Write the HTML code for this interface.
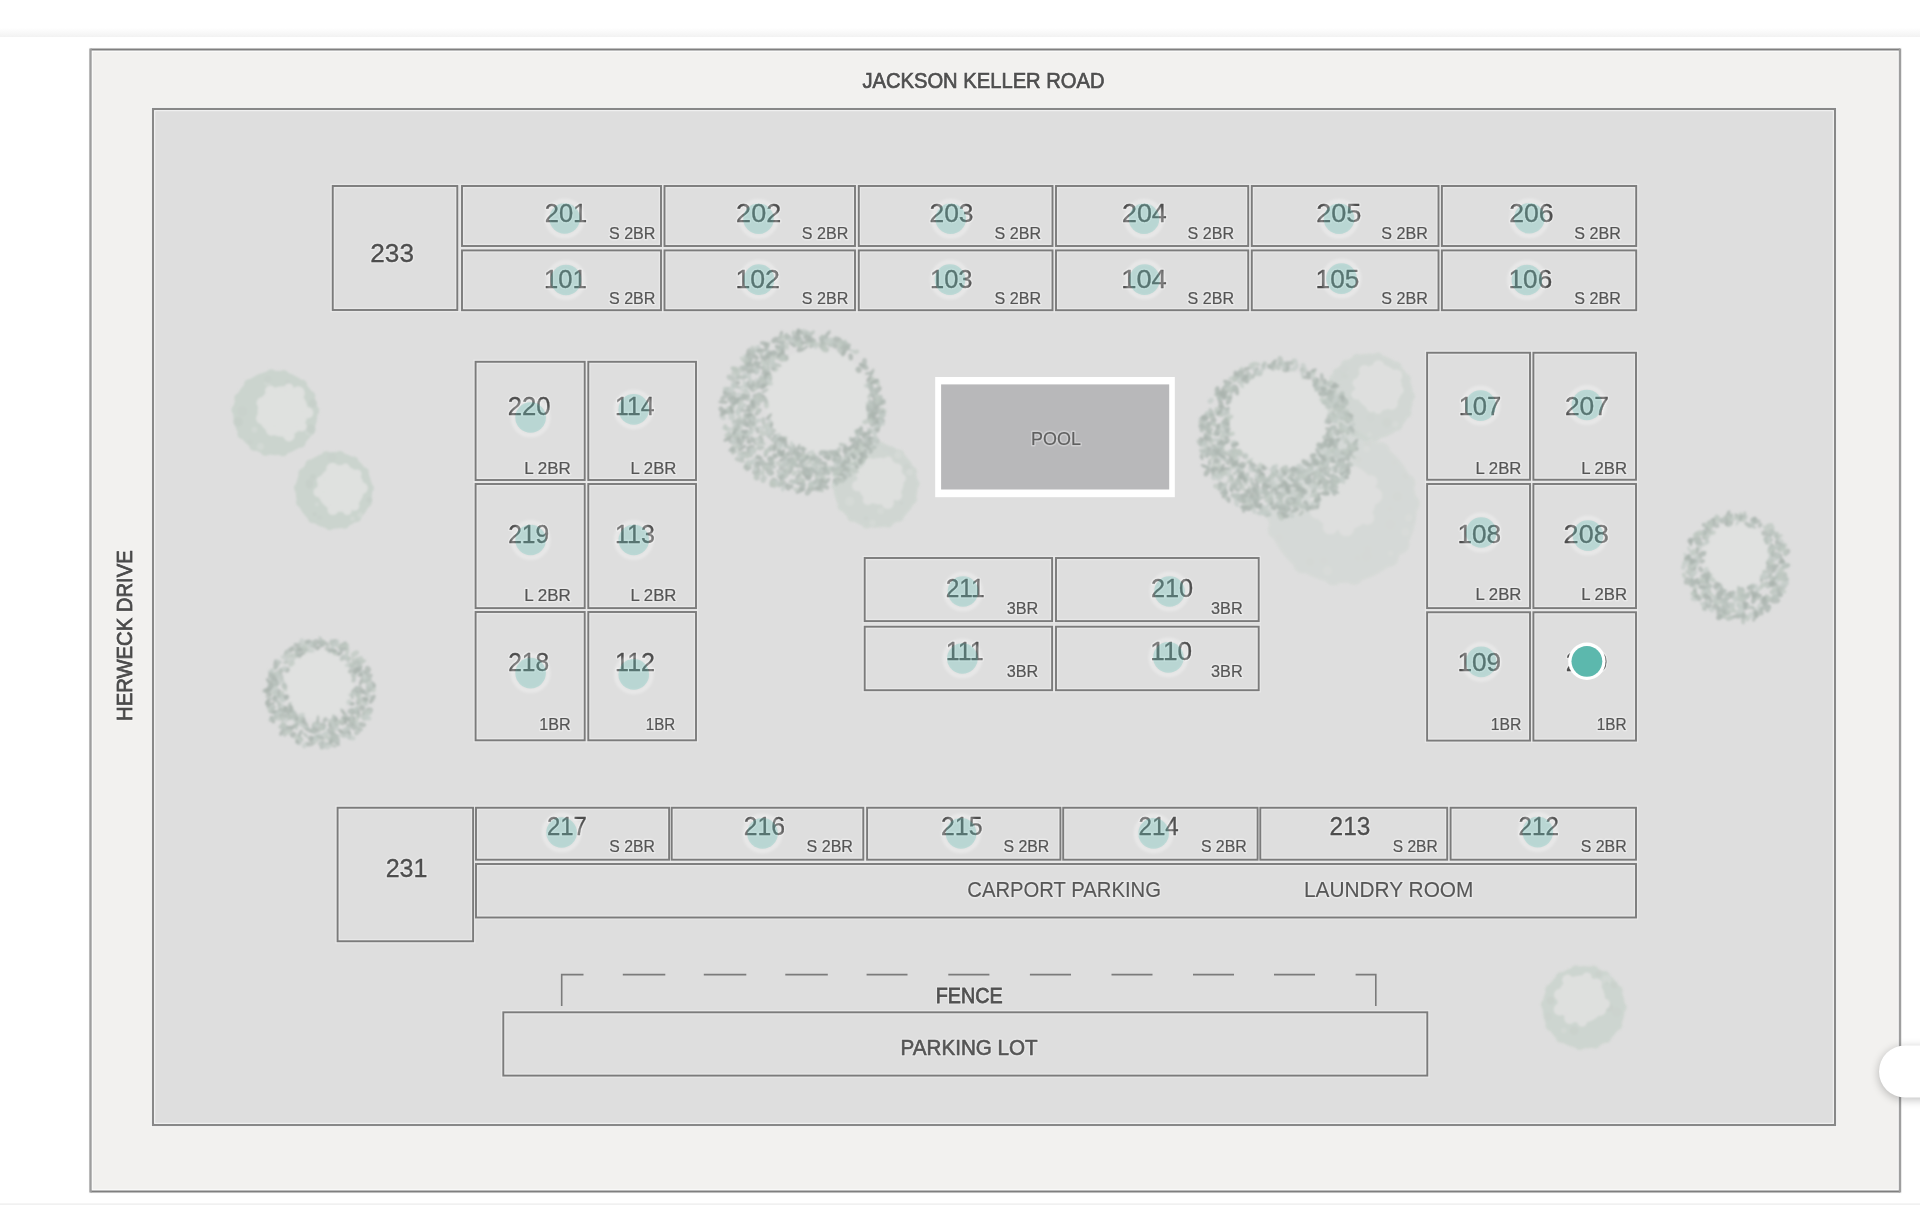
<!DOCTYPE html>
<html><head><meta charset="utf-8"><title>Site Map</title>
<style>
html,body{margin:0;padding:0;background:#fff;width:1920px;height:1205px;overflow:hidden;font-family:"Liberation Sans", sans-serif;}
svg text{font-family:"Liberation Sans", sans-serif;}
</style></head><body>
<svg width="1920" height="1205" viewBox="0 0 1920 1205" style="position:absolute;left:0;top:0;filter:blur(0.35px)" font-family="Liberation Sans, sans-serif">
<defs><filter id="blur1" x="-20%" y="-20%" width="140%" height="140%"><feGaussianBlur stdDeviation="1.2"/></filter><filter id="blur06" x="-30%" y="-30%" width="160%" height="160%"><feGaussianBlur stdDeviation="0.8"/></filter><linearGradient id="hdr" x1="0" y1="0" x2="0" y2="1"><stop offset="0" stop-color="#ffffff"/><stop offset="1" stop-color="#f2f2f2"/></linearGradient><filter id="shd" x="-50%" y="-50%" width="200%" height="200%"><feGaussianBlur stdDeviation="5"/></filter></defs>
<rect x="0" y="0" width="1920" height="1205" fill="#ffffff"/>
<rect x="0" y="28" width="1920" height="9" fill="url(#hdr)"/>
<rect x="0" y="1203.3" width="1920" height="1.7" fill="#f1f1f1"/>
<rect x="90.5" y="49.5" width="1809.5" height="1142" fill="#f2f1ef" stroke="#fdfdfd" stroke-width="4.4"/>
<path d="M90.5 49.5 H1900 M90.5 1191.5 H1900" stroke="#7f7f7f" stroke-width="1.9" fill="none"/>
<path d="M90.5 48.6 V1192.4 M1900 48.6 V1192.4" stroke="#9e9e9e" stroke-width="2.4" fill="none"/>
<rect x="153" y="109" width="1682" height="1016" fill="#dedede" stroke="#f6f6f6" stroke-width="4.4"/>
<rect x="153" y="109" width="1682" height="1016" fill="none" stroke="#888" stroke-width="2.1"/>
<g opacity="0.42" filter="url(#blur1)"><circle cx="1342" cy="508" r="74.88" fill="#cbd4ce"/><circle cx="1410.49" cy="503.50" r="9.36" fill="#cbd4ce"/><circle cx="1400.16" cy="544.45" r="9.36" fill="#cbd4ce"/><circle cx="1389.43" cy="557.62" r="9.36" fill="#cbd4ce"/><circle cx="1353.97" cy="575.59" r="9.36" fill="#cbd4ce"/><circle cx="1333.45" cy="576.11" r="9.36" fill="#cbd4ce"/><circle cx="1302.53" cy="564.16" r="9.36" fill="#cbd4ce"/><circle cx="1277.04" cy="530.18" r="9.36" fill="#cbd4ce"/><circle cx="1273.53" cy="512.78" r="9.36" fill="#cbd4ce"/><circle cx="1281.21" cy="476.13" r="9.36" fill="#cbd4ce"/><circle cx="1298.68" cy="454.76" r="9.36" fill="#cbd4ce"/><circle cx="1325.97" cy="441.26" r="9.36" fill="#cbd4ce"/><circle cx="1357.19" cy="441.06" r="9.36" fill="#cbd4ce"/><circle cx="1380.72" cy="451.32" r="9.36" fill="#cbd4ce"/><circle cx="1406.01" cy="483.21" r="9.36" fill="#cbd4ce"/><circle cx="1327.6" cy="570.7" r="4.2" fill="#d2d9d4"/><circle cx="1367.4" cy="445.2" r="3.2" fill="#c7d0ca"/><circle cx="1390.1" cy="524.6" r="4.8" fill="#c9d2cc"/><circle cx="1411.6" cy="520.3" r="3.8" fill="#c9d2cc"/><circle cx="1397.4" cy="496.5" r="4.3" fill="#c7d0ca"/><circle cx="1279.2" cy="537.7" r="3.1" fill="#c9d2cc"/><circle cx="1366.5" cy="556.1" r="4.7" fill="#c9d2cc"/><circle cx="1405.6" cy="476.1" r="2.8" fill="#c7d0ca"/><circle cx="1291.3" cy="491.8" r="4.8" fill="#c7d0ca"/><circle cx="1323.4" cy="560.5" r="3.3" fill="#c9d2cc"/><circle cx="1300.1" cy="494.0" r="3.2" fill="#d2d9d4"/><circle cx="1367.5" cy="549.2" r="3.1" fill="#c9d2cc"/><circle cx="1390.0" cy="508.8" r="2.4" fill="#c9d2cc"/><circle cx="1358.3" cy="459.6" r="3.0" fill="#c7d0ca"/><circle cx="1366.7" cy="448.8" r="3.1" fill="#d2d9d4"/><circle cx="1394.4" cy="462.8" r="2.1" fill="#c9d2cc"/><circle cx="1332.9" cy="443.0" r="2.7" fill="#c9d2cc"/><circle cx="1390.6" cy="553.3" r="2.4" fill="#d2d9d4"/><circle cx="1283.7" cy="498.6" r="2.3" fill="#c9d2cc"/><circle cx="1408.9" cy="518.0" r="3.4" fill="#d2d9d4"/><circle cx="1405.4" cy="532.2" r="3.6" fill="#d2d9d4"/><circle cx="1357.6" cy="557.8" r="2.6" fill="#c9d2cc"/><circle cx="1299.8" cy="512.0" r="3.6" fill="#c9d2cc"/><circle cx="1294.6" cy="475.2" r="4.7" fill="#d2d9d4"/><circle cx="1310.1" cy="561.9" r="3.5" fill="#c7d0ca"/><circle cx="1343.00" cy="497.00" r="33.30" fill="#dfe1df"/><circle cx="1373.54" cy="495.74" r="8.64" fill="#dfe1df"/><circle cx="1367.26" cy="517.75" r="6.97" fill="#dfe1df"/><circle cx="1346.27" cy="528.29" r="7.91" fill="#dfe1df"/><circle cx="1330.28" cy="526.92" r="7.42" fill="#dfe1df"/><circle cx="1317.27" cy="511.60" r="7.39" fill="#dfe1df"/><circle cx="1313.75" cy="481.19" r="8.23" fill="#dfe1df"/><circle cx="1328.16" cy="468.06" r="8.84" fill="#dfe1df"/><circle cx="1345.73" cy="464.59" r="6.72" fill="#dfe1df"/><circle cx="1370.79" cy="481.82" r="6.64" fill="#dfe1df"/></g>
<g opacity="0.6" filter="url(#blur1)"><circle cx="1370" cy="396.6" r="43.20" fill="#cbd4ce"/><circle cx="1409.60" cy="396.25" r="5.40" fill="#cbd4ce"/><circle cx="1406.18" cy="412.69" r="5.40" fill="#cbd4ce"/><circle cx="1397.28" cy="425.30" r="5.40" fill="#cbd4ce"/><circle cx="1375.39" cy="435.83" r="5.40" fill="#cbd4ce"/><circle cx="1365.81" cy="435.98" r="5.40" fill="#cbd4ce"/><circle cx="1345.29" cy="427.54" r="5.40" fill="#cbd4ce"/><circle cx="1332.84" cy="410.30" r="5.40" fill="#cbd4ce"/><circle cx="1330.60" cy="400.58" r="5.40" fill="#cbd4ce"/><circle cx="1334.55" cy="378.95" r="5.40" fill="#cbd4ce"/><circle cx="1346.19" cy="364.96" r="5.40" fill="#cbd4ce"/><circle cx="1357.00" cy="359.20" r="5.40" fill="#cbd4ce"/><circle cx="1377.69" cy="357.75" r="5.40" fill="#cbd4ce"/><circle cx="1396.17" cy="366.88" r="5.40" fill="#cbd4ce"/><circle cx="1405.48" cy="379.01" r="5.40" fill="#cbd4ce"/><circle cx="1370.6" cy="434.7" r="2.2" fill="#c9d2cc"/><circle cx="1387.0" cy="422.7" r="4.8" fill="#c7d0ca"/><circle cx="1343.4" cy="371.8" r="4.7" fill="#d2d9d4"/><circle cx="1337.5" cy="372.9" r="4.7" fill="#c9d2cc"/><circle cx="1335.1" cy="405.3" r="4.3" fill="#c7d0ca"/><circle cx="1354.7" cy="431.9" r="3.6" fill="#c7d0ca"/><circle cx="1369.7" cy="434.5" r="2.2" fill="#d2d9d4"/><circle cx="1342.3" cy="420.4" r="3.7" fill="#c9d2cc"/><circle cx="1340.5" cy="406.4" r="2.2" fill="#c7d0ca"/><circle cx="1338.4" cy="375.7" r="5.0" fill="#c9d2cc"/><circle cx="1335.9" cy="415.1" r="2.5" fill="#c7d0ca"/><circle cx="1370.4" cy="417.8" r="3.6" fill="#c9d2cc"/><circle cx="1343.9" cy="369.5" r="4.2" fill="#c9d2cc"/><circle cx="1345.0" cy="375.9" r="2.9" fill="#c7d0ca"/><circle cx="1350.6" cy="398.2" r="2.1" fill="#c7d0ca"/><circle cx="1395.3" cy="424.3" r="3.0" fill="#d2d9d4"/><circle cx="1331.0" cy="409.9" r="4.9" fill="#c7d0ca"/><circle cx="1378.50" cy="387.50" r="23.40" fill="#dfe1df"/><circle cx="1399.39" cy="390.39" r="4.27" fill="#dfe1df"/><circle cx="1391.63" cy="403.65" r="6.13" fill="#dfe1df"/><circle cx="1378.06" cy="409.67" r="4.18" fill="#dfe1df"/><circle cx="1371.36" cy="407.18" r="4.97" fill="#dfe1df"/><circle cx="1356.28" cy="394.48" r="4.90" fill="#dfe1df"/><circle cx="1356.93" cy="383.01" r="4.45" fill="#dfe1df"/><circle cx="1364.50" cy="370.51" r="5.61" fill="#dfe1df"/><circle cx="1378.52" cy="365.81" r="5.62" fill="#dfe1df"/><circle cx="1396.31" cy="375.51" r="6.01" fill="#dfe1df"/></g>
<g opacity="1.0" filter="url(#blur1)"><circle cx="275.3" cy="413" r="42.24" fill="#cbd4ce"/><circle cx="313.94" cy="410.57" r="5.28" fill="#cbd4ce"/><circle cx="310.01" cy="430.17" r="5.28" fill="#cbd4ce"/><circle cx="300.37" cy="442.50" r="5.28" fill="#cbd4ce"/><circle cx="282.97" cy="450.95" r="5.28" fill="#cbd4ce"/><circle cx="265.55" cy="450.47" r="5.28" fill="#cbd4ce"/><circle cx="254.44" cy="445.62" r="5.28" fill="#cbd4ce"/><circle cx="242.61" cy="433.75" r="5.28" fill="#cbd4ce"/><circle cx="236.71" cy="409.87" r="5.28" fill="#cbd4ce"/><circle cx="239.50" cy="398.24" r="5.28" fill="#cbd4ce"/><circle cx="249.28" cy="384.33" r="5.28" fill="#cbd4ce"/><circle cx="271.22" cy="374.50" r="5.28" fill="#cbd4ce"/><circle cx="283.65" cy="375.19" r="5.28" fill="#cbd4ce"/><circle cx="301.80" cy="384.77" r="5.28" fill="#cbd4ce"/><circle cx="310.09" cy="396.00" r="5.28" fill="#cbd4ce"/><circle cx="287.5" cy="382.3" r="2.5" fill="#c9d2cc"/><circle cx="312.8" cy="403.3" r="4.0" fill="#c7d0ca"/><circle cx="308.6" cy="431.8" r="3.2" fill="#d2d9d4"/><circle cx="310.9" cy="429.0" r="4.6" fill="#c7d0ca"/><circle cx="249.9" cy="442.2" r="2.8" fill="#c9d2cc"/><circle cx="242.3" cy="411.4" r="5.0" fill="#c9d2cc"/><circle cx="267.4" cy="382.3" r="3.3" fill="#d2d9d4"/><circle cx="267.8" cy="379.5" r="3.8" fill="#c9d2cc"/><circle cx="260.4" cy="446.5" r="3.5" fill="#d2d9d4"/><circle cx="238.1" cy="421.8" r="4.8" fill="#c7d0ca"/><circle cx="254.5" cy="429.7" r="2.9" fill="#d2d9d4"/><circle cx="282.70" cy="411.50" r="25.20" fill="#dfe1df"/><circle cx="307.67" cy="412.70" r="5.62" fill="#dfe1df"/><circle cx="301.71" cy="426.58" r="5.01" fill="#dfe1df"/><circle cx="289.02" cy="435.82" r="5.65" fill="#dfe1df"/><circle cx="271.40" cy="430.23" r="5.41" fill="#dfe1df"/><circle cx="261.88" cy="418.33" r="5.86" fill="#dfe1df"/><circle cx="262.41" cy="402.88" r="5.89" fill="#dfe1df"/><circle cx="270.36" cy="390.77" r="5.27" fill="#dfe1df"/><circle cx="288.89" cy="387.98" r="4.53" fill="#dfe1df"/><circle cx="298.18" cy="393.01" r="6.64" fill="#dfe1df"/></g>
<g opacity="1.0" filter="url(#blur1)"><circle cx="333.9" cy="490.4" r="38.40" fill="#cbd4ce"/><circle cx="369.03" cy="488.17" r="4.80" fill="#cbd4ce"/><circle cx="366.92" cy="502.59" r="4.80" fill="#cbd4ce"/><circle cx="356.53" cy="517.36" r="4.80" fill="#cbd4ce"/><circle cx="344.54" cy="523.95" r="4.80" fill="#cbd4ce"/><circle cx="329.67" cy="525.35" r="4.80" fill="#cbd4ce"/><circle cx="312.61" cy="518.43" r="4.80" fill="#cbd4ce"/><circle cx="300.82" cy="502.42" r="4.80" fill="#cbd4ce"/><circle cx="298.79" cy="487.86" r="4.80" fill="#cbd4ce"/><circle cx="303.22" cy="473.14" r="4.80" fill="#cbd4ce"/><circle cx="310.17" cy="464.40" r="4.80" fill="#cbd4ce"/><circle cx="326.37" cy="456.01" r="4.80" fill="#cbd4ce"/><circle cx="339.88" cy="455.71" r="4.80" fill="#cbd4ce"/><circle cx="353.62" cy="461.24" r="4.80" fill="#cbd4ce"/><circle cx="364.03" cy="472.20" r="4.80" fill="#cbd4ce"/><circle cx="360.2" cy="514.9" r="2.6" fill="#d2d9d4"/><circle cx="352.5" cy="518.8" r="2.3" fill="#d2d9d4"/><circle cx="331.8" cy="457.5" r="4.5" fill="#c9d2cc"/><circle cx="314.7" cy="514.2" r="2.1" fill="#c7d0ca"/><circle cx="309.5" cy="483.4" r="3.9" fill="#c7d0ca"/><circle cx="319.8" cy="517.6" r="2.7" fill="#c9d2cc"/><circle cx="312.9" cy="476.9" r="2.9" fill="#c7d0ca"/><circle cx="316.8" cy="504.4" r="2.1" fill="#d2d9d4"/><circle cx="369.4" cy="500.0" r="2.9" fill="#c7d0ca"/><circle cx="309.2" cy="485.9" r="2.8" fill="#c7d0ca"/><circle cx="340.60" cy="488.50" r="23.40" fill="#dfe1df"/><circle cx="362.02" cy="488.11" r="5.83" fill="#dfe1df"/><circle cx="354.37" cy="505.74" r="5.07" fill="#dfe1df"/><circle cx="347.25" cy="510.66" r="4.40" fill="#dfe1df"/><circle cx="332.89" cy="509.72" r="5.40" fill="#dfe1df"/><circle cx="318.71" cy="492.05" r="5.30" fill="#dfe1df"/><circle cx="320.85" cy="480.56" r="4.23" fill="#dfe1df"/><circle cx="332.55" cy="468.89" r="6.23" fill="#dfe1df"/><circle cx="345.47" cy="468.17" r="4.58" fill="#dfe1df"/><circle cx="356.96" cy="474.07" r="4.62" fill="#dfe1df"/></g>
<g opacity="0.7" filter="url(#blur1)"><circle cx="875.6" cy="485.5" r="42.24" fill="#cbd4ce"/><circle cx="914.29" cy="483.86" r="5.28" fill="#cbd4ce"/><circle cx="911.77" cy="499.32" r="5.28" fill="#cbd4ce"/><circle cx="898.63" cy="516.63" r="5.28" fill="#cbd4ce"/><circle cx="888.04" cy="522.17" r="5.28" fill="#cbd4ce"/><circle cx="866.66" cy="523.17" r="5.28" fill="#cbd4ce"/><circle cx="852.45" cy="516.53" r="5.28" fill="#cbd4ce"/><circle cx="842.69" cy="505.90" r="5.28" fill="#cbd4ce"/><circle cx="836.88" cy="485.43" r="5.28" fill="#cbd4ce"/><circle cx="839.07" cy="472.67" r="5.28" fill="#cbd4ce"/><circle cx="850.98" cy="455.62" r="5.28" fill="#cbd4ce"/><circle cx="863.14" cy="448.84" r="5.28" fill="#cbd4ce"/><circle cx="880.47" cy="447.09" r="5.28" fill="#cbd4ce"/><circle cx="899.19" cy="454.80" r="5.28" fill="#cbd4ce"/><circle cx="911.69" cy="471.49" r="5.28" fill="#cbd4ce"/><circle cx="907.1" cy="467.0" r="3.6" fill="#c7d0ca"/><circle cx="891.6" cy="450.6" r="3.9" fill="#c9d2cc"/><circle cx="849.7" cy="501.4" r="4.3" fill="#d2d9d4"/><circle cx="872.6" cy="522.8" r="2.9" fill="#d2d9d4"/><circle cx="901.5" cy="503.0" r="2.2" fill="#c7d0ca"/><circle cx="885.2" cy="447.9" r="3.3" fill="#c9d2cc"/><circle cx="898.2" cy="454.9" r="3.3" fill="#d2d9d4"/><circle cx="880.7" cy="510.9" r="3.0" fill="#d2d9d4"/><circle cx="909.7" cy="472.0" r="3.1" fill="#d2d9d4"/><circle cx="850.8" cy="466.8" r="2.7" fill="#c9d2cc"/><circle cx="866.0" cy="518.2" r="2.5" fill="#c7d0ca"/><circle cx="843.6" cy="479.4" r="2.8" fill="#c9d2cc"/><circle cx="852.0" cy="462.0" r="4.5" fill="#d2d9d4"/><circle cx="880.40" cy="481.10" r="23.40" fill="#dfe1df"/><circle cx="901.39" cy="478.42" r="4.46" fill="#dfe1df"/><circle cx="897.19" cy="495.59" r="4.82" fill="#dfe1df"/><circle cx="887.72" cy="502.86" r="6.14" fill="#dfe1df"/><circle cx="867.92" cy="499.92" r="5.11" fill="#dfe1df"/><circle cx="857.62" cy="485.73" r="5.58" fill="#dfe1df"/><circle cx="860.36" cy="473.26" r="4.98" fill="#dfe1df"/><circle cx="869.50" cy="462.54" r="4.56" fill="#dfe1df"/><circle cx="888.20" cy="460.90" r="4.39" fill="#dfe1df"/><circle cx="896.70" cy="468.51" r="5.34" fill="#dfe1df"/></g>
<g opacity="0.85" filter="url(#blur1)"><circle cx="1583.7" cy="1007.3" r="41.28" fill="#cbd4ce"/><circle cx="1621.54" cy="1007.07" r="5.16" fill="#cbd4ce"/><circle cx="1617.15" cy="1024.99" r="5.16" fill="#cbd4ce"/><circle cx="1606.09" cy="1037.80" r="5.16" fill="#cbd4ce"/><circle cx="1595.25" cy="1043.33" r="5.16" fill="#cbd4ce"/><circle cx="1579.66" cy="1044.92" r="5.16" fill="#cbd4ce"/><circle cx="1561.01" cy="1037.58" r="5.16" fill="#cbd4ce"/><circle cx="1550.55" cy="1025.54" r="5.16" fill="#cbd4ce"/><circle cx="1545.96" cy="1004.48" r="5.16" fill="#cbd4ce"/><circle cx="1550.39" cy="989.34" r="5.16" fill="#cbd4ce"/><circle cx="1560.83" cy="977.15" r="5.16" fill="#cbd4ce"/><circle cx="1575.80" cy="970.29" r="5.16" fill="#cbd4ce"/><circle cx="1593.54" cy="970.76" r="5.16" fill="#cbd4ce"/><circle cx="1604.69" cy="975.82" r="5.16" fill="#cbd4ce"/><circle cx="1617.55" cy="990.39" r="5.16" fill="#cbd4ce"/><circle cx="1550.4" cy="1000.7" r="3.6" fill="#c7d0ca"/><circle cx="1616.6" cy="1012.3" r="4.7" fill="#c9d2cc"/><circle cx="1547.9" cy="1016.5" r="3.8" fill="#c9d2cc"/><circle cx="1598.6" cy="974.1" r="3.0" fill="#c7d0ca"/><circle cx="1606.5" cy="979.7" r="4.5" fill="#d2d9d4"/><circle cx="1574.1" cy="1030.7" r="4.3" fill="#c7d0ca"/><circle cx="1614.3" cy="984.9" r="3.4" fill="#c7d0ca"/><circle cx="1606.6" cy="983.2" r="2.0" fill="#c9d2cc"/><circle cx="1563.8" cy="1030.6" r="2.5" fill="#d2d9d4"/><circle cx="1609.1" cy="1007.4" r="3.9" fill="#c7d0ca"/><circle cx="1581.20" cy="999.30" r="23.85" fill="#dfe1df"/><circle cx="1604.60" cy="1003.89" r="5.31" fill="#dfe1df"/><circle cx="1600.16" cy="1009.85" r="5.91" fill="#dfe1df"/><circle cx="1582.15" cy="1021.98" r="4.73" fill="#dfe1df"/><circle cx="1569.90" cy="1018.39" r="5.57" fill="#dfe1df"/><circle cx="1559.82" cy="1009.47" r="6.14" fill="#dfe1df"/><circle cx="1560.10" cy="994.72" r="6.09" fill="#dfe1df"/><circle cx="1567.60" cy="979.93" r="5.33" fill="#dfe1df"/><circle cx="1586.93" cy="977.12" r="4.69" fill="#dfe1df"/><circle cx="1596.41" cy="984.13" r="5.69" fill="#dfe1df"/></g>
<g opacity="1.0" filter="url(#blur06)"><circle cx="319.10" cy="684.80" r="35.00" fill="#e0e1e0"/><ellipse cx="333.8" cy="720.9" rx="4.7" ry="2.7" transform="rotate(133 333.8 720.9)" fill="#c6cec9" opacity="0.75"/><ellipse cx="267.2" cy="689.9" rx="5.1" ry="2.3" transform="rotate(162 267.2 689.9)" fill="#b0bab4" opacity="0.75"/><ellipse cx="305.6" cy="735.1" rx="3.6" ry="1.6" transform="rotate(45 305.6 735.1)" fill="#b8c2bc" opacity="0.75"/><ellipse cx="361.2" cy="681.4" rx="4.6" ry="1.6" transform="rotate(111 361.2 681.4)" fill="#a9b3ad" opacity="0.75"/><ellipse cx="361.6" cy="661.3" rx="3.2" ry="2.8" transform="rotate(157 361.6 661.3)" fill="#c0c9c3" opacity="0.75"/><ellipse cx="362.1" cy="707.9" rx="3.1" ry="2.8" transform="rotate(35 362.1 707.9)" fill="#a9b3ad" opacity="0.75"/><ellipse cx="271.3" cy="671.6" rx="4.2" ry="1.5" transform="rotate(122 271.3 671.6)" fill="#c0c9c3" opacity="0.75"/><ellipse cx="271.4" cy="677.6" rx="3.4" ry="2.4" transform="rotate(33 271.4 677.6)" fill="#a9b3ad" opacity="0.75"/><ellipse cx="348.0" cy="732.4" rx="2.6" ry="2.5" transform="rotate(66 348.0 732.4)" fill="#c6cec9" opacity="0.75"/><ellipse cx="358.2" cy="688.5" rx="4.4" ry="2.3" transform="rotate(172 358.2 688.5)" fill="#b0bab4" opacity="0.75"/><ellipse cx="369.5" cy="676.4" rx="3.5" ry="2.2" transform="rotate(140 369.5 676.4)" fill="#b0bab4" opacity="0.75"/><ellipse cx="330.1" cy="725.3" rx="3.6" ry="1.9" transform="rotate(78 330.1 725.3)" fill="#b0bab4" opacity="0.75"/><ellipse cx="294.9" cy="716.5" rx="2.8" ry="2.4" transform="rotate(55 294.9 716.5)" fill="#b0bab4" opacity="0.75"/><ellipse cx="334.2" cy="718.6" rx="3.4" ry="2.1" transform="rotate(130 334.2 718.6)" fill="#b0bab4" opacity="0.75"/><ellipse cx="330.5" cy="730.3" rx="3.8" ry="2.0" transform="rotate(10 330.5 730.3)" fill="#b0bab4" opacity="0.75"/><ellipse cx="353.8" cy="675.2" rx="3.1" ry="2.8" transform="rotate(102 353.8 675.2)" fill="#b8c2bc" opacity="0.75"/><ellipse cx="334.6" cy="726.1" rx="2.9" ry="2.1" transform="rotate(27 334.6 726.1)" fill="#a9b3ad" opacity="0.75"/><ellipse cx="373.3" cy="688.6" rx="3.9" ry="2.4" transform="rotate(86 373.3 688.6)" fill="#c0c9c3" opacity="0.75"/><ellipse cx="316.6" cy="738.8" rx="2.9" ry="2.6" transform="rotate(96 316.6 738.8)" fill="#b8c2bc" opacity="0.75"/><ellipse cx="301.9" cy="647.8" rx="3.3" ry="2.5" transform="rotate(156 301.9 647.8)" fill="#c0c9c3" opacity="0.75"/><ellipse cx="357.5" cy="667.5" rx="5.2" ry="2.4" transform="rotate(172 357.5 667.5)" fill="#c0c9c3" opacity="0.75"/><ellipse cx="292.1" cy="713.0" rx="3.8" ry="2.6" transform="rotate(117 292.1 713.0)" fill="#c0c9c3" opacity="0.75"/><ellipse cx="346.6" cy="730.6" rx="3.5" ry="2.6" transform="rotate(157 346.6 730.6)" fill="#a9b3ad" opacity="0.75"/><ellipse cx="282.6" cy="731.5" rx="5.0" ry="2.1" transform="rotate(124 282.6 731.5)" fill="#a9b3ad" opacity="0.75"/><ellipse cx="283.2" cy="725.2" rx="4.1" ry="2.4" transform="rotate(76 283.2 725.2)" fill="#c6cec9" opacity="0.75"/><ellipse cx="326.0" cy="734.9" rx="3.3" ry="2.8" transform="rotate(35 326.0 734.9)" fill="#c6cec9" opacity="0.75"/><ellipse cx="288.5" cy="714.6" rx="4.2" ry="1.6" transform="rotate(85 288.5 714.6)" fill="#b8c2bc" opacity="0.75"/><ellipse cx="338.2" cy="645.9" rx="3.1" ry="2.4" transform="rotate(67 338.2 645.9)" fill="#c0c9c3" opacity="0.75"/><ellipse cx="309.9" cy="650.7" rx="4.8" ry="2.0" transform="rotate(6 309.9 650.7)" fill="#c6cec9" opacity="0.75"/><ellipse cx="321.4" cy="744.3" rx="3.4" ry="2.0" transform="rotate(23 321.4 744.3)" fill="#a9b3ad" opacity="0.75"/><ellipse cx="355.1" cy="709.7" rx="3.6" ry="1.7" transform="rotate(107 355.1 709.7)" fill="#c6cec9" opacity="0.75"/><ellipse cx="356.0" cy="711.9" rx="3.6" ry="1.9" transform="rotate(165 356.0 711.9)" fill="#c6cec9" opacity="0.75"/><ellipse cx="279.8" cy="708.3" rx="4.9" ry="2.0" transform="rotate(78 279.8 708.3)" fill="#b8c2bc" opacity="0.75"/><ellipse cx="330.5" cy="720.8" rx="3.4" ry="1.8" transform="rotate(4 330.5 720.8)" fill="#c0c9c3" opacity="0.75"/><ellipse cx="296.8" cy="725.4" rx="4.7" ry="1.5" transform="rotate(96 296.8 725.4)" fill="#c0c9c3" opacity="0.75"/><ellipse cx="268.1" cy="692.7" rx="4.8" ry="2.4" transform="rotate(51 268.1 692.7)" fill="#a9b3ad" opacity="0.75"/><ellipse cx="347.3" cy="651.0" rx="4.6" ry="1.9" transform="rotate(96 347.3 651.0)" fill="#c0c9c3" opacity="0.75"/><ellipse cx="332.7" cy="719.7" rx="2.7" ry="2.0" transform="rotate(123 332.7 719.7)" fill="#c6cec9" opacity="0.75"/><ellipse cx="276.1" cy="714.8" rx="3.1" ry="2.1" transform="rotate(145 276.1 714.8)" fill="#c6cec9" opacity="0.75"/><ellipse cx="366.1" cy="681.0" rx="3.6" ry="2.6" transform="rotate(35 366.1 681.0)" fill="#c0c9c3" opacity="0.75"/><ellipse cx="316.1" cy="722.7" rx="3.4" ry="1.5" transform="rotate(140 316.1 722.7)" fill="#c6cec9" opacity="0.75"/><ellipse cx="296.1" cy="725.2" rx="5.0" ry="1.7" transform="rotate(86 296.1 725.2)" fill="#c6cec9" opacity="0.75"/><ellipse cx="324.6" cy="643.2" rx="4.5" ry="1.8" transform="rotate(15 324.6 643.2)" fill="#b0bab4" opacity="0.75"/><ellipse cx="288.6" cy="710.1" rx="5.1" ry="2.4" transform="rotate(24 288.6 710.1)" fill="#c0c9c3" opacity="0.75"/><ellipse cx="284.5" cy="658.6" rx="4.7" ry="1.6" transform="rotate(38 284.5 658.6)" fill="#c6cec9" opacity="0.75"/><ellipse cx="276.1" cy="680.3" rx="2.8" ry="1.6" transform="rotate(104 276.1 680.3)" fill="#a9b3ad" opacity="0.75"/><ellipse cx="369.1" cy="679.7" rx="2.7" ry="2.4" transform="rotate(27 369.1 679.7)" fill="#c6cec9" opacity="0.75"/><ellipse cx="357.3" cy="669.5" rx="5.1" ry="2.6" transform="rotate(155 357.3 669.5)" fill="#a9b3ad" opacity="0.75"/><ellipse cx="346.5" cy="657.9" rx="4.5" ry="2.4" transform="rotate(15 346.5 657.9)" fill="#b0bab4" opacity="0.75"/><ellipse cx="362.2" cy="691.6" rx="3.4" ry="2.5" transform="rotate(5 362.2 691.6)" fill="#a9b3ad" opacity="0.75"/><ellipse cx="289.0" cy="650.8" rx="5.1" ry="2.4" transform="rotate(148 289.0 650.8)" fill="#b8c2bc" opacity="0.75"/><ellipse cx="357.6" cy="670.3" rx="5.0" ry="2.4" transform="rotate(143 357.6 670.3)" fill="#a9b3ad" opacity="0.75"/><ellipse cx="336.6" cy="727.9" rx="3.7" ry="2.6" transform="rotate(93 336.6 727.9)" fill="#c6cec9" opacity="0.75"/><ellipse cx="369.0" cy="711.9" rx="3.5" ry="2.1" transform="rotate(54 369.0 711.9)" fill="#c6cec9" opacity="0.75"/><ellipse cx="367.2" cy="674.0" rx="3.8" ry="1.7" transform="rotate(118 367.2 674.0)" fill="#b0bab4" opacity="0.75"/><ellipse cx="282.1" cy="669.9" rx="3.2" ry="2.1" transform="rotate(6 282.1 669.9)" fill="#c0c9c3" opacity="0.75"/><ellipse cx="299.4" cy="644.4" rx="2.7" ry="2.1" transform="rotate(153 299.4 644.4)" fill="#b8c2bc" opacity="0.75"/><ellipse cx="277.2" cy="712.7" rx="3.4" ry="2.4" transform="rotate(131 277.2 712.7)" fill="#b8c2bc" opacity="0.75"/><ellipse cx="333.2" cy="739.9" rx="4.4" ry="2.4" transform="rotate(33 333.2 739.9)" fill="#c0c9c3" opacity="0.75"/><ellipse cx="295.7" cy="719.8" rx="4.5" ry="1.7" transform="rotate(43 295.7 719.8)" fill="#b8c2bc" opacity="0.75"/><ellipse cx="369.3" cy="710.1" rx="3.7" ry="2.8" transform="rotate(1 369.3 710.1)" fill="#b0bab4" opacity="0.75"/><ellipse cx="357.6" cy="731.6" rx="4.1" ry="2.7" transform="rotate(129 357.6 731.6)" fill="#b8c2bc" opacity="0.75"/><ellipse cx="364.7" cy="692.8" rx="5.0" ry="1.6" transform="rotate(44 364.7 692.8)" fill="#b0bab4" opacity="0.75"/><ellipse cx="319.7" cy="725.3" rx="2.7" ry="2.6" transform="rotate(80 319.7 725.3)" fill="#b0bab4" opacity="0.75"/><ellipse cx="285.8" cy="715.7" rx="4.3" ry="1.7" transform="rotate(42 285.8 715.7)" fill="#c0c9c3" opacity="0.75"/><ellipse cx="272.4" cy="719.6" rx="4.2" ry="2.1" transform="rotate(64 272.4 719.6)" fill="#a9b3ad" opacity="0.75"/><ellipse cx="334.0" cy="719.1" rx="5.0" ry="1.9" transform="rotate(81 334.0 719.1)" fill="#b8c2bc" opacity="0.75"/><ellipse cx="318.1" cy="725.1" rx="3.3" ry="2.0" transform="rotate(24 318.1 725.1)" fill="#c6cec9" opacity="0.75"/><ellipse cx="273.4" cy="685.8" rx="4.1" ry="1.8" transform="rotate(11 273.4 685.8)" fill="#b8c2bc" opacity="0.75"/><ellipse cx="275.0" cy="684.9" rx="3.4" ry="2.5" transform="rotate(100 275.0 684.9)" fill="#c0c9c3" opacity="0.75"/><ellipse cx="337.3" cy="722.9" rx="4.1" ry="2.1" transform="rotate(147 337.3 722.9)" fill="#b0bab4" opacity="0.75"/><ellipse cx="345.5" cy="716.3" rx="3.3" ry="2.6" transform="rotate(69 345.5 716.3)" fill="#b8c2bc" opacity="0.75"/><ellipse cx="279.4" cy="693.5" rx="3.4" ry="1.5" transform="rotate(98 279.4 693.5)" fill="#c6cec9" opacity="0.75"/><ellipse cx="282.3" cy="707.2" rx="3.0" ry="2.8" transform="rotate(48 282.3 707.2)" fill="#c6cec9" opacity="0.75"/><ellipse cx="283.2" cy="717.3" rx="3.8" ry="2.7" transform="rotate(143 283.2 717.3)" fill="#b0bab4" opacity="0.75"/><ellipse cx="289.6" cy="704.6" rx="3.0" ry="1.6" transform="rotate(120 289.6 704.6)" fill="#b8c2bc" opacity="0.75"/><ellipse cx="323.7" cy="746.4" rx="4.1" ry="1.6" transform="rotate(147 323.7 746.4)" fill="#a9b3ad" opacity="0.75"/><ellipse cx="290.4" cy="716.8" rx="3.5" ry="2.1" transform="rotate(36 290.4 716.8)" fill="#b8c2bc" opacity="0.75"/><ellipse cx="349.6" cy="725.7" rx="3.6" ry="2.6" transform="rotate(147 349.6 725.7)" fill="#b0bab4" opacity="0.75"/><ellipse cx="318.9" cy="642.0" rx="3.0" ry="1.6" transform="rotate(129 318.9 642.0)" fill="#b8c2bc" opacity="0.75"/><ellipse cx="353.2" cy="722.4" rx="3.8" ry="2.1" transform="rotate(96 353.2 722.4)" fill="#b0bab4" opacity="0.75"/><ellipse cx="353.6" cy="680.0" rx="2.6" ry="2.2" transform="rotate(106 353.6 680.0)" fill="#b8c2bc" opacity="0.75"/><ellipse cx="314.4" cy="726.0" rx="4.1" ry="2.7" transform="rotate(100 314.4 726.0)" fill="#b0bab4" opacity="0.75"/><ellipse cx="324.1" cy="727.3" rx="3.5" ry="2.3" transform="rotate(122 324.1 727.3)" fill="#c6cec9" opacity="0.75"/><ellipse cx="287.2" cy="669.9" rx="2.7" ry="2.5" transform="rotate(110 287.2 669.9)" fill="#a9b3ad" opacity="0.75"/><ellipse cx="298.4" cy="741.9" rx="3.3" ry="2.4" transform="rotate(13 298.4 741.9)" fill="#b0bab4" opacity="0.75"/><ellipse cx="364.5" cy="714.8" rx="4.8" ry="2.5" transform="rotate(110 364.5 714.8)" fill="#b8c2bc" opacity="0.75"/><ellipse cx="318.1" cy="648.1" rx="2.9" ry="1.9" transform="rotate(141 318.1 648.1)" fill="#a9b3ad" opacity="0.75"/><ellipse cx="337.1" cy="738.5" rx="5.0" ry="2.3" transform="rotate(70 337.1 738.5)" fill="#b0bab4" opacity="0.75"/><ellipse cx="291.9" cy="649.0" rx="3.4" ry="2.5" transform="rotate(143 291.9 649.0)" fill="#b0bab4" opacity="0.75"/><ellipse cx="334.9" cy="723.6" rx="3.2" ry="1.6" transform="rotate(102 334.9 723.6)" fill="#c6cec9" opacity="0.75"/><ellipse cx="365.3" cy="671.7" rx="3.3" ry="2.3" transform="rotate(174 365.3 671.7)" fill="#b8c2bc" opacity="0.75"/><ellipse cx="300.5" cy="649.3" rx="4.6" ry="1.9" transform="rotate(14 300.5 649.3)" fill="#a9b3ad" opacity="0.75"/><ellipse cx="279.4" cy="696.0" rx="2.8" ry="1.7" transform="rotate(84 279.4 696.0)" fill="#a9b3ad" opacity="0.75"/><ellipse cx="342.0" cy="732.0" rx="3.8" ry="1.6" transform="rotate(35 342.0 732.0)" fill="#b8c2bc" opacity="0.75"/><ellipse cx="276.5" cy="675.4" rx="3.6" ry="2.5" transform="rotate(103 276.5 675.4)" fill="#a9b3ad" opacity="0.75"/><ellipse cx="346.5" cy="729.2" rx="4.7" ry="2.4" transform="rotate(166 346.5 729.2)" fill="#c6cec9" opacity="0.75"/><ellipse cx="334.0" cy="745.9" rx="2.9" ry="1.6" transform="rotate(12 334.0 745.9)" fill="#b8c2bc" opacity="0.75"/><ellipse cx="349.7" cy="665.3" rx="5.0" ry="2.1" transform="rotate(1 349.7 665.3)" fill="#c6cec9" opacity="0.75"/><ellipse cx="302.4" cy="721.0" rx="3.9" ry="2.7" transform="rotate(128 302.4 721.0)" fill="#b0bab4" opacity="0.75"/><ellipse cx="277.1" cy="691.4" rx="3.5" ry="2.5" transform="rotate(165 277.1 691.4)" fill="#a9b3ad" opacity="0.75"/><ellipse cx="336.0" cy="723.6" rx="2.8" ry="1.6" transform="rotate(73 336.0 723.6)" fill="#b0bab4" opacity="0.75"/><ellipse cx="322.2" cy="643.4" rx="3.7" ry="1.8" transform="rotate(120 322.2 643.4)" fill="#b0bab4" opacity="0.75"/><ellipse cx="284.2" cy="732.3" rx="4.8" ry="1.8" transform="rotate(81 284.2 732.3)" fill="#b8c2bc" opacity="0.75"/><ellipse cx="321.9" cy="643.8" rx="3.2" ry="2.8" transform="rotate(80 321.9 643.8)" fill="#a9b3ad" opacity="0.75"/><ellipse cx="322.2" cy="744.9" rx="4.2" ry="2.6" transform="rotate(85 322.2 744.9)" fill="#b0bab4" opacity="0.75"/><ellipse cx="269.9" cy="681.8" rx="4.6" ry="2.1" transform="rotate(107 269.9 681.8)" fill="#c6cec9" opacity="0.75"/><ellipse cx="335.2" cy="641.8" rx="2.7" ry="2.5" transform="rotate(74 335.2 641.8)" fill="#a9b3ad" opacity="0.75"/><ellipse cx="366.5" cy="680.2" rx="5.2" ry="2.5" transform="rotate(161 366.5 680.2)" fill="#b8c2bc" opacity="0.75"/><ellipse cx="285.4" cy="653.4" rx="3.5" ry="1.5" transform="rotate(114 285.4 653.4)" fill="#b8c2bc" opacity="0.75"/><ellipse cx="336.6" cy="721.5" rx="3.9" ry="1.9" transform="rotate(82 336.6 721.5)" fill="#a9b3ad" opacity="0.75"/><ellipse cx="284.7" cy="685.9" rx="3.3" ry="2.5" transform="rotate(67 284.7 685.9)" fill="#b8c2bc" opacity="0.75"/><ellipse cx="281.0" cy="695.9" rx="5.1" ry="2.4" transform="rotate(16 281.0 695.9)" fill="#b0bab4" opacity="0.75"/><ellipse cx="275.9" cy="682.5" rx="3.4" ry="2.7" transform="rotate(99 275.9 682.5)" fill="#a9b3ad" opacity="0.75"/><ellipse cx="325.1" cy="719.7" rx="2.9" ry="2.1" transform="rotate(127 325.1 719.7)" fill="#b0bab4" opacity="0.75"/><ellipse cx="290.0" cy="718.0" rx="3.2" ry="1.9" transform="rotate(145 290.0 718.0)" fill="#b8c2bc" opacity="0.75"/><ellipse cx="268.3" cy="681.0" rx="3.5" ry="1.5" transform="rotate(54 268.3 681.0)" fill="#a9b3ad" opacity="0.75"/><ellipse cx="365.5" cy="701.5" rx="3.3" ry="2.3" transform="rotate(107 365.5 701.5)" fill="#a9b3ad" opacity="0.75"/><ellipse cx="272.7" cy="688.1" rx="4.5" ry="2.2" transform="rotate(70 272.7 688.1)" fill="#c6cec9" opacity="0.75"/><ellipse cx="314.8" cy="644.5" rx="2.8" ry="1.9" transform="rotate(26 314.8 644.5)" fill="#c0c9c3" opacity="0.75"/><ellipse cx="351.8" cy="720.8" rx="3.3" ry="2.6" transform="rotate(113 351.8 720.8)" fill="#a9b3ad" opacity="0.75"/><ellipse cx="282.6" cy="726.2" rx="4.4" ry="2.3" transform="rotate(158 282.6 726.2)" fill="#b8c2bc" opacity="0.75"/><ellipse cx="365.0" cy="677.6" rx="2.9" ry="2.1" transform="rotate(125 365.0 677.6)" fill="#c6cec9" opacity="0.75"/><ellipse cx="319.4" cy="735.4" rx="2.7" ry="2.3" transform="rotate(21 319.4 735.4)" fill="#c6cec9" opacity="0.75"/><ellipse cx="340.6" cy="648.2" rx="2.8" ry="2.1" transform="rotate(117 340.6 648.2)" fill="#c6cec9" opacity="0.75"/><ellipse cx="344.7" cy="645.6" rx="4.3" ry="2.6" transform="rotate(22 344.7 645.6)" fill="#c0c9c3" opacity="0.75"/><ellipse cx="321.8" cy="738.8" rx="3.8" ry="1.7" transform="rotate(39 321.8 738.8)" fill="#c0c9c3" opacity="0.75"/><ellipse cx="320.2" cy="742.6" rx="3.5" ry="1.5" transform="rotate(78 320.2 742.6)" fill="#c6cec9" opacity="0.75"/><ellipse cx="364.8" cy="700.0" rx="4.3" ry="2.0" transform="rotate(141 364.8 700.0)" fill="#c0c9c3" opacity="0.75"/><ellipse cx="296.9" cy="649.9" rx="3.3" ry="2.0" transform="rotate(160 296.9 649.9)" fill="#c0c9c3" opacity="0.75"/><ellipse cx="341.2" cy="650.2" rx="2.8" ry="2.6" transform="rotate(51 341.2 650.2)" fill="#c6cec9" opacity="0.75"/><ellipse cx="284.0" cy="724.8" rx="4.0" ry="1.7" transform="rotate(60 284.0 724.8)" fill="#c0c9c3" opacity="0.75"/><ellipse cx="362.8" cy="672.7" rx="3.4" ry="1.9" transform="rotate(180 362.8 672.7)" fill="#a9b3ad" opacity="0.75"/><ellipse cx="271.0" cy="671.6" rx="3.1" ry="2.7" transform="rotate(142 271.0 671.6)" fill="#c6cec9" opacity="0.75"/><ellipse cx="272.0" cy="685.0" rx="5.0" ry="2.2" transform="rotate(117 272.0 685.0)" fill="#c6cec9" opacity="0.75"/><ellipse cx="272.5" cy="680.4" rx="3.0" ry="1.8" transform="rotate(111 272.5 680.4)" fill="#b0bab4" opacity="0.75"/><ellipse cx="373.0" cy="685.7" rx="3.1" ry="2.2" transform="rotate(165 373.0 685.7)" fill="#a9b3ad" opacity="0.75"/><ellipse cx="343.7" cy="645.8" rx="3.4" ry="2.6" transform="rotate(115 343.7 645.8)" fill="#c0c9c3" opacity="0.75"/><ellipse cx="313.6" cy="740.6" rx="4.1" ry="2.2" transform="rotate(51 313.6 740.6)" fill="#c0c9c3" opacity="0.75"/><ellipse cx="343.5" cy="648.8" rx="4.1" ry="2.1" transform="rotate(171 343.5 648.8)" fill="#b0bab4" opacity="0.75"/><ellipse cx="292.0" cy="709.8" rx="4.5" ry="1.8" transform="rotate(84 292.0 709.8)" fill="#b8c2bc" opacity="0.75"/><ellipse cx="353.8" cy="691.8" rx="3.4" ry="2.7" transform="rotate(113 353.8 691.8)" fill="#b0bab4" opacity="0.75"/><ellipse cx="331.8" cy="644.3" rx="3.4" ry="2.2" transform="rotate(53 331.8 644.3)" fill="#c0c9c3" opacity="0.75"/><ellipse cx="337.4" cy="722.6" rx="4.5" ry="1.5" transform="rotate(170 337.4 722.6)" fill="#c0c9c3" opacity="0.75"/><ellipse cx="371.9" cy="684.6" rx="3.3" ry="2.6" transform="rotate(106 371.9 684.6)" fill="#a9b3ad" opacity="0.75"/><ellipse cx="302.1" cy="719.8" rx="3.9" ry="2.4" transform="rotate(111 302.1 719.8)" fill="#b0bab4" opacity="0.75"/><ellipse cx="281.8" cy="693.2" rx="2.6" ry="2.5" transform="rotate(139 281.8 693.2)" fill="#c0c9c3" opacity="0.75"/><ellipse cx="268.8" cy="697.7" rx="3.8" ry="1.7" transform="rotate(36 268.8 697.7)" fill="#b8c2bc" opacity="0.75"/><ellipse cx="359.5" cy="664.5" rx="4.8" ry="2.3" transform="rotate(69 359.5 664.5)" fill="#b8c2bc" opacity="0.75"/><ellipse cx="336.3" cy="740.9" rx="3.1" ry="1.8" transform="rotate(12 336.3 740.9)" fill="#c6cec9" opacity="0.75"/><ellipse cx="354.1" cy="725.7" rx="4.5" ry="2.7" transform="rotate(96 354.1 725.7)" fill="#b0bab4" opacity="0.75"/><ellipse cx="275.9" cy="689.1" rx="3.7" ry="2.5" transform="rotate(86 275.9 689.1)" fill="#c6cec9" opacity="0.75"/><ellipse cx="331.7" cy="739.5" rx="4.8" ry="1.8" transform="rotate(117 331.7 739.5)" fill="#a9b3ad" opacity="0.75"/><ellipse cx="271.4" cy="675.9" rx="2.9" ry="2.0" transform="rotate(16 271.4 675.9)" fill="#b8c2bc" opacity="0.75"/><ellipse cx="308.3" cy="641.6" rx="2.8" ry="1.7" transform="rotate(157 308.3 641.6)" fill="#a9b3ad" opacity="0.75"/><ellipse cx="364.2" cy="715.0" rx="3.2" ry="2.0" transform="rotate(81 364.2 715.0)" fill="#a9b3ad" opacity="0.75"/><ellipse cx="341.0" cy="731.7" rx="3.3" ry="1.6" transform="rotate(42 341.0 731.7)" fill="#a9b3ad" opacity="0.75"/><ellipse cx="362.9" cy="717.7" rx="3.8" ry="1.7" transform="rotate(59 362.9 717.7)" fill="#c0c9c3" opacity="0.75"/><ellipse cx="344.2" cy="734.9" rx="2.7" ry="2.6" transform="rotate(175 344.2 734.9)" fill="#b8c2bc" opacity="0.75"/><ellipse cx="305.0" cy="648.4" rx="4.2" ry="2.0" transform="rotate(26 305.0 648.4)" fill="#c0c9c3" opacity="0.75"/><ellipse cx="284.4" cy="698.7" rx="4.4" ry="2.7" transform="rotate(134 284.4 698.7)" fill="#c6cec9" opacity="0.75"/><ellipse cx="316.3" cy="730.6" rx="4.9" ry="2.4" transform="rotate(159 316.3 730.6)" fill="#a9b3ad" opacity="0.75"/><ellipse cx="270.6" cy="705.2" rx="4.6" ry="2.1" transform="rotate(145 270.6 705.2)" fill="#a9b3ad" opacity="0.75"/><ellipse cx="363.2" cy="674.7" rx="5.1" ry="2.0" transform="rotate(71 363.2 674.7)" fill="#c6cec9" opacity="0.75"/><ellipse cx="313.3" cy="730.0" rx="3.2" ry="1.9" transform="rotate(147 313.3 730.0)" fill="#b0bab4" opacity="0.75"/><ellipse cx="273.3" cy="711.2" rx="3.4" ry="1.6" transform="rotate(59 273.3 711.2)" fill="#b8c2bc" opacity="0.75"/><ellipse cx="299.9" cy="733.7" rx="4.6" ry="1.9" transform="rotate(122 299.9 733.7)" fill="#b0bab4" opacity="0.75"/><ellipse cx="349.6" cy="735.4" rx="4.4" ry="1.6" transform="rotate(88 349.6 735.4)" fill="#a9b3ad" opacity="0.75"/><ellipse cx="328.1" cy="746.4" rx="3.9" ry="2.6" transform="rotate(150 328.1 746.4)" fill="#c6cec9" opacity="0.75"/><ellipse cx="297.9" cy="742.1" rx="3.4" ry="1.6" transform="rotate(62 297.9 742.1)" fill="#a9b3ad" opacity="0.75"/><ellipse cx="273.8" cy="676.2" rx="3.1" ry="2.4" transform="rotate(83 273.8 676.2)" fill="#b0bab4" opacity="0.75"/><ellipse cx="357.0" cy="693.4" rx="2.7" ry="2.8" transform="rotate(126 357.0 693.4)" fill="#b0bab4" opacity="0.75"/><ellipse cx="330.6" cy="737.4" rx="3.4" ry="2.1" transform="rotate(160 330.6 737.4)" fill="#c6cec9" opacity="0.75"/><ellipse cx="358.7" cy="701.6" rx="3.8" ry="2.4" transform="rotate(111 358.7 701.6)" fill="#a9b3ad" opacity="0.75"/><ellipse cx="271.1" cy="673.9" rx="2.7" ry="2.5" transform="rotate(76 271.1 673.9)" fill="#c6cec9" opacity="0.75"/><ellipse cx="280.0" cy="672.0" rx="4.1" ry="2.3" transform="rotate(126 280.0 672.0)" fill="#b0bab4" opacity="0.75"/><ellipse cx="301.2" cy="715.5" rx="3.9" ry="2.6" transform="rotate(152 301.2 715.5)" fill="#c6cec9" opacity="0.75"/><ellipse cx="315.8" cy="642.1" rx="3.6" ry="2.8" transform="rotate(153 315.8 642.1)" fill="#b0bab4" opacity="0.75"/><ellipse cx="305.5" cy="725.6" rx="5.1" ry="2.7" transform="rotate(70 305.5 725.6)" fill="#a9b3ad" opacity="0.75"/><ellipse cx="347.7" cy="719.2" rx="3.8" ry="1.9" transform="rotate(31 347.7 719.2)" fill="#a9b3ad" opacity="0.75"/><ellipse cx="341.4" cy="735.8" rx="4.3" ry="1.5" transform="rotate(20 341.4 735.8)" fill="#c6cec9" opacity="0.75"/><ellipse cx="322.9" cy="642.9" rx="3.2" ry="2.8" transform="rotate(142 322.9 642.9)" fill="#b8c2bc" opacity="0.75"/><ellipse cx="342.3" cy="722.8" rx="2.9" ry="2.4" transform="rotate(22 342.3 722.8)" fill="#b0bab4" opacity="0.75"/><ellipse cx="335.0" cy="724.3" rx="4.9" ry="2.3" transform="rotate(166 335.0 724.3)" fill="#c0c9c3" opacity="0.75"/><ellipse cx="351.7" cy="666.4" rx="3.0" ry="1.9" transform="rotate(12 351.7 666.4)" fill="#b8c2bc" opacity="0.75"/><ellipse cx="357.9" cy="723.7" rx="3.8" ry="1.8" transform="rotate(10 357.9 723.7)" fill="#c6cec9" opacity="0.75"/><ellipse cx="288.4" cy="712.3" rx="2.9" ry="2.1" transform="rotate(124 288.4 712.3)" fill="#b0bab4" opacity="0.75"/><ellipse cx="305.2" cy="745.0" rx="3.9" ry="2.6" transform="rotate(134 305.2 745.0)" fill="#c6cec9" opacity="0.75"/><ellipse cx="370.0" cy="696.2" rx="3.5" ry="1.8" transform="rotate(39 370.0 696.2)" fill="#c6cec9" opacity="0.75"/><ellipse cx="297.1" cy="654.5" rx="2.6" ry="2.3" transform="rotate(41 297.1 654.5)" fill="#b0bab4" opacity="0.75"/><ellipse cx="327.2" cy="647.8" rx="3.2" ry="2.0" transform="rotate(116 327.2 647.8)" fill="#b8c2bc" opacity="0.75"/><ellipse cx="295.6" cy="719.6" rx="3.1" ry="2.7" transform="rotate(21 295.6 719.6)" fill="#c6cec9" opacity="0.75"/><ellipse cx="332.9" cy="731.7" rx="4.2" ry="1.8" transform="rotate(79 332.9 731.7)" fill="#c0c9c3" opacity="0.75"/><ellipse cx="341.4" cy="646.7" rx="3.1" ry="2.1" transform="rotate(98 341.4 646.7)" fill="#b0bab4" opacity="0.75"/><ellipse cx="327.6" cy="743.6" rx="5.2" ry="1.5" transform="rotate(2 327.6 743.6)" fill="#b8c2bc" opacity="0.75"/><ellipse cx="336.2" cy="652.8" rx="3.8" ry="2.2" transform="rotate(35 336.2 652.8)" fill="#b0bab4" opacity="0.75"/><ellipse cx="332.4" cy="732.1" rx="5.0" ry="1.7" transform="rotate(98 332.4 732.1)" fill="#b8c2bc" opacity="0.75"/><ellipse cx="294.2" cy="655.9" rx="3.6" ry="2.7" transform="rotate(14 294.2 655.9)" fill="#c0c9c3" opacity="0.75"/><ellipse cx="298.9" cy="650.4" rx="3.2" ry="2.3" transform="rotate(170 298.9 650.4)" fill="#a9b3ad" opacity="0.75"/><ellipse cx="280.7" cy="712.5" rx="4.5" ry="2.1" transform="rotate(97 280.7 712.5)" fill="#a9b3ad" opacity="0.75"/><ellipse cx="332.6" cy="642.8" rx="3.9" ry="2.4" transform="rotate(60 332.6 642.8)" fill="#b8c2bc" opacity="0.75"/><ellipse cx="367.7" cy="717.1" rx="4.4" ry="2.4" transform="rotate(42 367.7 717.1)" fill="#c6cec9" opacity="0.75"/><ellipse cx="352.0" cy="711.7" rx="3.3" ry="2.8" transform="rotate(75 352.0 711.7)" fill="#a9b3ad" opacity="0.75"/><ellipse cx="369.2" cy="687.4" rx="4.1" ry="2.8" transform="rotate(58 369.2 687.4)" fill="#b8c2bc" opacity="0.75"/><ellipse cx="351.0" cy="710.8" rx="4.0" ry="2.5" transform="rotate(155 351.0 710.8)" fill="#b8c2bc" opacity="0.75"/><ellipse cx="340.1" cy="653.5" rx="2.9" ry="1.6" transform="rotate(137 340.1 653.5)" fill="#a9b3ad" opacity="0.75"/><ellipse cx="289.1" cy="656.1" rx="3.9" ry="2.6" transform="rotate(161 289.1 656.1)" fill="#c0c9c3" opacity="0.75"/><ellipse cx="368.0" cy="668.9" rx="3.4" ry="2.6" transform="rotate(43 368.0 668.9)" fill="#b0bab4" opacity="0.75"/><ellipse cx="327.7" cy="738.2" rx="3.8" ry="1.9" transform="rotate(47 327.7 738.2)" fill="#c0c9c3" opacity="0.75"/><ellipse cx="352.6" cy="664.4" rx="3.3" ry="1.8" transform="rotate(165 352.6 664.4)" fill="#b8c2bc" opacity="0.75"/><ellipse cx="297.7" cy="654.1" rx="5.0" ry="1.8" transform="rotate(59 297.7 654.1)" fill="#b8c2bc" opacity="0.75"/><ellipse cx="344.2" cy="720.4" rx="4.7" ry="1.5" transform="rotate(55 344.2 720.4)" fill="#a9b3ad" opacity="0.75"/><ellipse cx="279.5" cy="718.4" rx="4.2" ry="2.0" transform="rotate(173 279.5 718.4)" fill="#c0c9c3" opacity="0.75"/><ellipse cx="317.8" cy="720.5" rx="5.2" ry="1.6" transform="rotate(94 317.8 720.5)" fill="#b0bab4" opacity="0.75"/><ellipse cx="275.7" cy="664.5" rx="5.2" ry="2.3" transform="rotate(94 275.7 664.5)" fill="#a9b3ad" opacity="0.75"/><ellipse cx="277.5" cy="683.2" rx="2.6" ry="2.4" transform="rotate(61 277.5 683.2)" fill="#b8c2bc" opacity="0.75"/><ellipse cx="372.3" cy="699.2" rx="5.2" ry="2.1" transform="rotate(121 372.3 699.2)" fill="#a9b3ad" opacity="0.75"/><ellipse cx="368.9" cy="712.2" rx="2.7" ry="2.1" transform="rotate(151 368.9 712.2)" fill="#c6cec9" opacity="0.75"/><ellipse cx="280.8" cy="677.1" rx="4.4" ry="2.5" transform="rotate(77 280.8 677.1)" fill="#b8c2bc" opacity="0.75"/><ellipse cx="313.9" cy="738.1" rx="4.9" ry="2.1" transform="rotate(141 313.9 738.1)" fill="#b8c2bc" opacity="0.75"/><ellipse cx="304.6" cy="650.7" rx="3.8" ry="1.6" transform="rotate(83 304.6 650.7)" fill="#c0c9c3" opacity="0.75"/><ellipse cx="345.4" cy="646.0" rx="3.3" ry="2.4" transform="rotate(164 345.4 646.0)" fill="#c6cec9" opacity="0.75"/><ellipse cx="310.2" cy="743.9" rx="4.2" ry="2.5" transform="rotate(168 310.2 743.9)" fill="#b0bab4" opacity="0.75"/><ellipse cx="302.3" cy="642.8" rx="4.6" ry="2.7" transform="rotate(77 302.3 642.8)" fill="#c6cec9" opacity="0.75"/><ellipse cx="285.8" cy="662.4" rx="2.9" ry="1.5" transform="rotate(171 285.8 662.4)" fill="#b8c2bc" opacity="0.75"/><ellipse cx="295.2" cy="725.3" rx="3.9" ry="1.7" transform="rotate(159 295.2 725.3)" fill="#b0bab4" opacity="0.75"/><ellipse cx="273.8" cy="693.5" rx="5.1" ry="1.6" transform="rotate(27 273.8 693.5)" fill="#c0c9c3" opacity="0.75"/><ellipse cx="370.0" cy="686.9" rx="4.7" ry="2.7" transform="rotate(112 370.0 686.9)" fill="#c6cec9" opacity="0.75"/><ellipse cx="331.0" cy="649.7" rx="4.6" ry="2.2" transform="rotate(127 331.0 649.7)" fill="#c6cec9" opacity="0.75"/><ellipse cx="365.6" cy="716.3" rx="3.2" ry="2.8" transform="rotate(33 365.6 716.3)" fill="#c6cec9" opacity="0.75"/><ellipse cx="332.1" cy="724.7" rx="3.2" ry="2.5" transform="rotate(144 332.1 724.7)" fill="#b0bab4" opacity="0.75"/><ellipse cx="349.1" cy="702.2" rx="2.9" ry="2.7" transform="rotate(95 349.1 702.2)" fill="#c6cec9" opacity="0.75"/><ellipse cx="314.2" cy="646.5" rx="5.0" ry="2.1" transform="rotate(14 314.2 646.5)" fill="#b0bab4" opacity="0.75"/><ellipse cx="275.2" cy="696.0" rx="3.1" ry="2.3" transform="rotate(120 275.2 696.0)" fill="#c6cec9" opacity="0.75"/><ellipse cx="332.0" cy="739.7" rx="4.2" ry="2.1" transform="rotate(117 332.0 739.7)" fill="#a9b3ad" opacity="0.75"/><ellipse cx="334.6" cy="652.8" rx="2.7" ry="2.5" transform="rotate(75 334.6 652.8)" fill="#c0c9c3" opacity="0.75"/><ellipse cx="289.4" cy="729.5" rx="3.8" ry="2.7" transform="rotate(173 289.4 729.5)" fill="#b0bab4" opacity="0.75"/><ellipse cx="324.1" cy="733.9" rx="4.9" ry="1.8" transform="rotate(145 324.1 733.9)" fill="#c6cec9" opacity="0.75"/><ellipse cx="300.6" cy="738.2" rx="3.7" ry="1.6" transform="rotate(49 300.6 738.2)" fill="#b0bab4" opacity="0.75"/><ellipse cx="278.0" cy="714.4" rx="2.8" ry="2.6" transform="rotate(26 278.0 714.4)" fill="#b8c2bc" opacity="0.75"/><ellipse cx="312.9" cy="731.4" rx="3.6" ry="2.3" transform="rotate(34 312.9 731.4)" fill="#b8c2bc" opacity="0.75"/><ellipse cx="273.4" cy="712.0" rx="5.1" ry="1.9" transform="rotate(6 273.4 712.0)" fill="#a9b3ad" opacity="0.75"/><ellipse cx="365.4" cy="704.2" rx="3.2" ry="2.3" transform="rotate(172 365.4 704.2)" fill="#c6cec9" opacity="0.75"/><ellipse cx="358.3" cy="713.6" rx="4.6" ry="2.1" transform="rotate(89 358.3 713.6)" fill="#a9b3ad" opacity="0.75"/><ellipse cx="323.0" cy="726.2" rx="4.1" ry="2.3" transform="rotate(101 323.0 726.2)" fill="#b0bab4" opacity="0.75"/><ellipse cx="356.2" cy="690.9" rx="4.9" ry="2.6" transform="rotate(97 356.2 690.9)" fill="#b8c2bc" opacity="0.75"/><ellipse cx="332.2" cy="733.7" rx="4.4" ry="2.0" transform="rotate(20 332.2 733.7)" fill="#b0bab4" opacity="0.75"/><ellipse cx="368.8" cy="689.7" rx="3.1" ry="2.8" transform="rotate(176 368.8 689.7)" fill="#b8c2bc" opacity="0.75"/><ellipse cx="368.3" cy="691.6" rx="2.6" ry="1.5" transform="rotate(135 368.3 691.6)" fill="#b8c2bc" opacity="0.75"/><ellipse cx="275.9" cy="673.2" rx="5.2" ry="2.0" transform="rotate(150 275.9 673.2)" fill="#c0c9c3" opacity="0.75"/><ellipse cx="284.6" cy="686.1" rx="3.0" ry="1.8" transform="rotate(60 284.6 686.1)" fill="#b8c2bc" opacity="0.75"/><ellipse cx="270.3" cy="687.0" rx="4.8" ry="2.8" transform="rotate(119 270.3 687.0)" fill="#a9b3ad" opacity="0.75"/><ellipse cx="351.4" cy="664.0" rx="3.1" ry="1.7" transform="rotate(151 351.4 664.0)" fill="#c0c9c3" opacity="0.75"/><ellipse cx="337.7" cy="743.7" rx="2.7" ry="1.9" transform="rotate(41 337.7 743.7)" fill="#b0bab4" opacity="0.75"/><ellipse cx="316.4" cy="737.8" rx="5.1" ry="2.4" transform="rotate(124 316.4 737.8)" fill="#c6cec9" opacity="0.75"/><ellipse cx="277.9" cy="676.1" rx="4.6" ry="2.4" transform="rotate(70 277.9 676.1)" fill="#c6cec9" opacity="0.75"/><ellipse cx="272.9" cy="718.6" rx="4.8" ry="2.3" transform="rotate(149 272.9 718.6)" fill="#b8c2bc" opacity="0.75"/><ellipse cx="272.2" cy="675.8" rx="4.7" ry="2.2" transform="rotate(46 272.2 675.8)" fill="#b0bab4" opacity="0.75"/><ellipse cx="305.6" cy="645.8" rx="5.0" ry="2.2" transform="rotate(109 305.6 645.8)" fill="#c0c9c3" opacity="0.75"/><ellipse cx="345.3" cy="719.6" rx="3.3" ry="2.0" transform="rotate(68 345.3 719.6)" fill="#a9b3ad" opacity="0.75"/><ellipse cx="357.5" cy="694.2" rx="3.3" ry="1.7" transform="rotate(63 357.5 694.2)" fill="#a9b3ad" opacity="0.75"/><ellipse cx="282.0" cy="681.7" rx="2.8" ry="2.4" transform="rotate(156 282.0 681.7)" fill="#c6cec9" opacity="0.75"/><ellipse cx="332.0" cy="650.5" rx="4.9" ry="1.9" transform="rotate(5 332.0 650.5)" fill="#a9b3ad" opacity="0.75"/><ellipse cx="321.1" cy="639.7" rx="3.9" ry="1.6" transform="rotate(60 321.1 639.7)" fill="#b8c2bc" opacity="0.75"/><ellipse cx="290.7" cy="708.4" rx="4.0" ry="1.9" transform="rotate(85 290.7 708.4)" fill="#a9b3ad" opacity="0.75"/><ellipse cx="333.3" cy="737.1" rx="3.0" ry="2.6" transform="rotate(47 333.3 737.1)" fill="#b8c2bc" opacity="0.75"/><ellipse cx="342.7" cy="657.8" rx="3.7" ry="2.3" transform="rotate(129 342.7 657.8)" fill="#b8c2bc" opacity="0.75"/><ellipse cx="352.3" cy="703.9" rx="2.6" ry="1.9" transform="rotate(169 352.3 703.9)" fill="#a9b3ad" opacity="0.75"/><ellipse cx="332.9" cy="724.5" rx="2.6" ry="2.3" transform="rotate(46 332.9 724.5)" fill="#b8c2bc" opacity="0.75"/><ellipse cx="364.9" cy="718.1" rx="3.8" ry="1.9" transform="rotate(29 364.9 718.1)" fill="#c6cec9" opacity="0.75"/><ellipse cx="351.6" cy="717.9" rx="3.7" ry="2.3" transform="rotate(167 351.6 717.9)" fill="#a9b3ad" opacity="0.75"/><ellipse cx="293.1" cy="734.7" rx="3.2" ry="2.7" transform="rotate(155 293.1 734.7)" fill="#a9b3ad" opacity="0.75"/><ellipse cx="279.1" cy="712.9" rx="4.7" ry="1.9" transform="rotate(160 279.1 712.9)" fill="#c6cec9" opacity="0.75"/><ellipse cx="271.9" cy="707.8" rx="3.6" ry="2.1" transform="rotate(99 271.9 707.8)" fill="#c6cec9" opacity="0.75"/><ellipse cx="334.6" cy="737.3" rx="3.2" ry="2.5" transform="rotate(71 334.6 737.3)" fill="#b8c2bc" opacity="0.75"/><ellipse cx="286.5" cy="697.1" rx="2.8" ry="2.7" transform="rotate(115 286.5 697.1)" fill="#a9b3ad" opacity="0.75"/><ellipse cx="323.8" cy="746.0" rx="4.4" ry="1.8" transform="rotate(123 323.8 746.0)" fill="#c6cec9" opacity="0.75"/><ellipse cx="301.6" cy="724.7" rx="3.5" ry="2.0" transform="rotate(44 301.6 724.7)" fill="#c6cec9" opacity="0.75"/><ellipse cx="278.8" cy="661.4" rx="3.6" ry="1.7" transform="rotate(26 278.8 661.4)" fill="#c6cec9" opacity="0.75"/><ellipse cx="353.0" cy="661.2" rx="4.8" ry="1.5" transform="rotate(84 353.0 661.2)" fill="#c0c9c3" opacity="0.75"/><ellipse cx="358.4" cy="695.7" rx="3.6" ry="2.6" transform="rotate(31 358.4 695.7)" fill="#c0c9c3" opacity="0.75"/><ellipse cx="266.7" cy="702.7" rx="2.8" ry="1.6" transform="rotate(107 266.7 702.7)" fill="#a9b3ad" opacity="0.75"/><ellipse cx="309.6" cy="642.4" rx="5.1" ry="2.5" transform="rotate(18 309.6 642.4)" fill="#b8c2bc" opacity="0.75"/><ellipse cx="306.6" cy="727.8" rx="3.5" ry="1.5" transform="rotate(38 306.6 727.8)" fill="#c6cec9" opacity="0.75"/><ellipse cx="356.1" cy="660.3" rx="3.0" ry="2.5" transform="rotate(147 356.1 660.3)" fill="#c0c9c3" opacity="0.75"/><ellipse cx="359.6" cy="658.0" rx="3.4" ry="1.7" transform="rotate(160 359.6 658.0)" fill="#c0c9c3" opacity="0.75"/><ellipse cx="291.5" cy="660.0" rx="3.7" ry="1.7" transform="rotate(166 291.5 660.0)" fill="#c6cec9" opacity="0.75"/><ellipse cx="352.5" cy="694.2" rx="4.4" ry="1.8" transform="rotate(167 352.5 694.2)" fill="#c6cec9" opacity="0.75"/><ellipse cx="354.9" cy="653.7" rx="4.5" ry="2.6" transform="rotate(148 354.9 653.7)" fill="#c0c9c3" opacity="0.75"/><ellipse cx="300.4" cy="741.4" rx="4.0" ry="1.5" transform="rotate(115 300.4 741.4)" fill="#c6cec9" opacity="0.75"/><ellipse cx="351.6" cy="719.0" rx="4.5" ry="1.8" transform="rotate(88 351.6 719.0)" fill="#c0c9c3" opacity="0.75"/><ellipse cx="348.1" cy="659.8" rx="3.5" ry="1.7" transform="rotate(83 348.1 659.8)" fill="#c0c9c3" opacity="0.75"/><ellipse cx="283.9" cy="710.1" rx="4.4" ry="2.0" transform="rotate(108 283.9 710.1)" fill="#b8c2bc" opacity="0.75"/><ellipse cx="334.3" cy="739.5" rx="4.0" ry="2.8" transform="rotate(83 334.3 739.5)" fill="#b8c2bc" opacity="0.75"/><ellipse cx="309.5" cy="645.9" rx="2.8" ry="2.7" transform="rotate(123 309.5 645.9)" fill="#c6cec9" opacity="0.75"/><ellipse cx="284.2" cy="688.3" rx="4.2" ry="1.5" transform="rotate(50 284.2 688.3)" fill="#c0c9c3" opacity="0.75"/><ellipse cx="296.9" cy="718.7" rx="2.9" ry="2.2" transform="rotate(62 296.9 718.7)" fill="#a9b3ad" opacity="0.75"/><ellipse cx="320.4" cy="737.2" rx="4.6" ry="1.5" transform="rotate(15 320.4 737.2)" fill="#b0bab4" opacity="0.75"/><ellipse cx="356.7" cy="719.3" rx="5.0" ry="2.0" transform="rotate(110 356.7 719.3)" fill="#c0c9c3" opacity="0.75"/><ellipse cx="277.2" cy="665.4" rx="4.9" ry="1.9" transform="rotate(120 277.2 665.4)" fill="#b8c2bc" opacity="0.75"/><ellipse cx="321.0" cy="728.6" rx="3.9" ry="1.8" transform="rotate(121 321.0 728.6)" fill="#c0c9c3" opacity="0.75"/><ellipse cx="285.6" cy="709.4" rx="3.4" ry="2.7" transform="rotate(106 285.6 709.4)" fill="#a9b3ad" opacity="0.75"/><ellipse cx="294.9" cy="714.3" rx="3.7" ry="2.4" transform="rotate(63 294.9 714.3)" fill="#b8c2bc" opacity="0.75"/><ellipse cx="342.9" cy="711.6" rx="3.6" ry="1.6" transform="rotate(50 342.9 711.6)" fill="#a9b3ad" opacity="0.75"/><ellipse cx="358.5" cy="728.1" rx="5.1" ry="1.8" transform="rotate(27 358.5 728.1)" fill="#b8c2bc" opacity="0.75"/><ellipse cx="300.0" cy="719.3" rx="3.8" ry="2.0" transform="rotate(124 300.0 719.3)" fill="#c0c9c3" opacity="0.75"/><ellipse cx="268.3" cy="702.7" rx="4.0" ry="2.2" transform="rotate(93 268.3 702.7)" fill="#a9b3ad" opacity="0.75"/><ellipse cx="360.4" cy="674.9" rx="2.7" ry="2.1" transform="rotate(5 360.4 674.9)" fill="#a9b3ad" opacity="0.75"/><ellipse cx="272.4" cy="709.0" rx="4.5" ry="2.0" transform="rotate(135 272.4 709.0)" fill="#b8c2bc" opacity="0.75"/><ellipse cx="274.9" cy="698.7" rx="3.0" ry="2.7" transform="rotate(95 274.9 698.7)" fill="#a9b3ad" opacity="0.75"/><ellipse cx="335.6" cy="643.4" rx="5.0" ry="2.5" transform="rotate(132 335.6 643.4)" fill="#c6cec9" opacity="0.75"/><ellipse cx="290.6" cy="727.3" rx="5.0" ry="1.5" transform="rotate(6 290.6 727.3)" fill="#a9b3ad" opacity="0.75"/><ellipse cx="278.0" cy="702.3" rx="4.4" ry="1.7" transform="rotate(46 278.0 702.3)" fill="#b8c2bc" opacity="0.75"/><ellipse cx="333.1" cy="724.4" rx="3.7" ry="1.7" transform="rotate(69 333.1 724.4)" fill="#c6cec9" opacity="0.75"/><ellipse cx="344.4" cy="645.4" rx="4.3" ry="2.4" transform="rotate(111 344.4 645.4)" fill="#b0bab4" opacity="0.75"/><ellipse cx="285.1" cy="719.7" rx="3.4" ry="1.8" transform="rotate(45 285.1 719.7)" fill="#c6cec9" opacity="0.75"/><ellipse cx="301.3" cy="654.8" rx="2.9" ry="1.5" transform="rotate(132 301.3 654.8)" fill="#a9b3ad" opacity="0.75"/><ellipse cx="350.6" cy="737.4" rx="5.2" ry="2.5" transform="rotate(19 350.6 737.4)" fill="#c6cec9" opacity="0.75"/><ellipse cx="298.2" cy="738.1" rx="5.0" ry="2.2" transform="rotate(17 298.2 738.1)" fill="#c0c9c3" opacity="0.75"/><ellipse cx="284.3" cy="668.9" rx="3.3" ry="2.5" transform="rotate(137 284.3 668.9)" fill="#c6cec9" opacity="0.75"/><ellipse cx="309.2" cy="730.2" rx="3.6" ry="2.1" transform="rotate(30 309.2 730.2)" fill="#b0bab4" opacity="0.75"/><ellipse cx="350.6" cy="671.0" rx="2.8" ry="2.3" transform="rotate(133 350.6 671.0)" fill="#b0bab4" opacity="0.75"/><ellipse cx="352.1" cy="696.7" rx="2.8" ry="1.8" transform="rotate(66 352.1 696.7)" fill="#b8c2bc" opacity="0.75"/><ellipse cx="366.5" cy="712.0" rx="5.1" ry="2.0" transform="rotate(12 366.5 712.0)" fill="#c0c9c3" opacity="0.75"/><ellipse cx="304.9" cy="650.3" rx="2.7" ry="2.0" transform="rotate(175 304.9 650.3)" fill="#b8c2bc" opacity="0.75"/><ellipse cx="315.7" cy="724.7" rx="2.8" ry="2.1" transform="rotate(24 315.7 724.7)" fill="#c6cec9" opacity="0.75"/><ellipse cx="344.3" cy="645.6" rx="4.6" ry="1.9" transform="rotate(161 344.3 645.6)" fill="#c0c9c3" opacity="0.75"/><ellipse cx="362.0" cy="661.0" rx="4.4" ry="1.7" transform="rotate(173 362.0 661.0)" fill="#c0c9c3" opacity="0.75"/><ellipse cx="281.4" cy="699.0" rx="4.0" ry="2.4" transform="rotate(61 281.4 699.0)" fill="#c6cec9" opacity="0.75"/><ellipse cx="345.8" cy="656.6" rx="2.7" ry="2.7" transform="rotate(127 345.8 656.6)" fill="#c6cec9" opacity="0.75"/><ellipse cx="296.6" cy="645.6" rx="3.4" ry="2.2" transform="rotate(41 296.6 645.6)" fill="#b0bab4" opacity="0.75"/><ellipse cx="307.9" cy="642.1" rx="2.9" ry="1.5" transform="rotate(172 307.9 642.1)" fill="#b0bab4" opacity="0.75"/><ellipse cx="365.1" cy="698.9" rx="3.5" ry="2.2" transform="rotate(11 365.1 698.9)" fill="#a9b3ad" opacity="0.75"/><ellipse cx="357.0" cy="710.3" rx="4.7" ry="1.9" transform="rotate(101 357.0 710.3)" fill="#b8c2bc" opacity="0.75"/><ellipse cx="339.9" cy="721.2" rx="4.4" ry="1.8" transform="rotate(153 339.9 721.2)" fill="#c0c9c3" opacity="0.75"/><ellipse cx="287.8" cy="732.5" rx="4.2" ry="2.3" transform="rotate(158 287.8 732.5)" fill="#c0c9c3" opacity="0.75"/><ellipse cx="291.5" cy="663.7" rx="3.6" ry="2.6" transform="rotate(143 291.5 663.7)" fill="#c0c9c3" opacity="0.75"/><ellipse cx="359.0" cy="701.3" rx="4.7" ry="1.9" transform="rotate(66 359.0 701.3)" fill="#c0c9c3" opacity="0.75"/><ellipse cx="300.4" cy="654.4" rx="4.6" ry="1.9" transform="rotate(159 300.4 654.4)" fill="#b0bab4" opacity="0.75"/><ellipse cx="310.9" cy="738.4" rx="2.7" ry="2.7" transform="rotate(123 310.9 738.4)" fill="#a9b3ad" opacity="0.75"/><ellipse cx="356.5" cy="662.8" rx="3.1" ry="2.5" transform="rotate(158 356.5 662.8)" fill="#b8c2bc" opacity="0.75"/><ellipse cx="362.4" cy="724.7" rx="3.8" ry="2.6" transform="rotate(9 362.4 724.7)" fill="#b0bab4" opacity="0.75"/><ellipse cx="269.3" cy="709.7" rx="3.4" ry="1.7" transform="rotate(79 269.3 709.7)" fill="#c0c9c3" opacity="0.75"/></g>
<g opacity="1.0" filter="url(#blur06)"><circle cx="817.40" cy="400.00" r="52.00" fill="#e0e1e0"/><ellipse cx="851.3" cy="464.4" rx="3.9" ry="1.8" transform="rotate(0 851.3 464.4)" fill="#c6cec9" opacity="0.75"/><ellipse cx="797.7" cy="454.1" rx="3.6" ry="2.5" transform="rotate(49 797.7 454.1)" fill="#b8c2bc" opacity="0.75"/><ellipse cx="751.6" cy="419.9" rx="4.7" ry="1.8" transform="rotate(145 751.6 419.9)" fill="#b0bab4" opacity="0.75"/><ellipse cx="877.5" cy="425.7" rx="3.1" ry="2.4" transform="rotate(65 877.5 425.7)" fill="#b8c2bc" opacity="0.75"/><ellipse cx="835.5" cy="461.7" rx="5.1" ry="1.5" transform="rotate(65 835.5 461.7)" fill="#c6cec9" opacity="0.75"/><ellipse cx="739.5" cy="411.0" rx="4.4" ry="1.8" transform="rotate(109 739.5 411.0)" fill="#c0c9c3" opacity="0.75"/><ellipse cx="771.4" cy="360.6" rx="3.9" ry="1.7" transform="rotate(38 771.4 360.6)" fill="#c6cec9" opacity="0.75"/><ellipse cx="869.7" cy="431.0" rx="3.4" ry="2.0" transform="rotate(70 869.7 431.0)" fill="#b8c2bc" opacity="0.75"/><ellipse cx="750.4" cy="426.6" rx="5.2" ry="1.6" transform="rotate(79 750.4 426.6)" fill="#b0bab4" opacity="0.75"/><ellipse cx="867.7" cy="439.3" rx="4.9" ry="2.1" transform="rotate(150 867.7 439.3)" fill="#b0bab4" opacity="0.75"/><ellipse cx="733.9" cy="451.9" rx="3.3" ry="2.1" transform="rotate(141 733.9 451.9)" fill="#b8c2bc" opacity="0.75"/><ellipse cx="722.7" cy="417.3" rx="3.3" ry="2.5" transform="rotate(34 722.7 417.3)" fill="#c6cec9" opacity="0.75"/><ellipse cx="794.6" cy="482.0" rx="3.3" ry="2.0" transform="rotate(158 794.6 482.0)" fill="#c6cec9" opacity="0.75"/><ellipse cx="780.4" cy="355.1" rx="5.0" ry="2.3" transform="rotate(125 780.4 355.1)" fill="#c0c9c3" opacity="0.75"/><ellipse cx="800.6" cy="459.7" rx="5.0" ry="1.9" transform="rotate(1 800.6 459.7)" fill="#a9b3ad" opacity="0.75"/><ellipse cx="882.7" cy="410.6" rx="4.1" ry="2.7" transform="rotate(28 882.7 410.6)" fill="#c0c9c3" opacity="0.75"/><ellipse cx="849.5" cy="463.0" rx="3.9" ry="2.1" transform="rotate(18 849.5 463.0)" fill="#c0c9c3" opacity="0.75"/><ellipse cx="760.0" cy="380.8" rx="2.7" ry="2.4" transform="rotate(129 760.0 380.8)" fill="#b0bab4" opacity="0.75"/><ellipse cx="868.9" cy="432.4" rx="4.4" ry="1.7" transform="rotate(150 868.9 432.4)" fill="#b0bab4" opacity="0.75"/><ellipse cx="746.3" cy="432.8" rx="3.3" ry="2.6" transform="rotate(118 746.3 432.8)" fill="#a9b3ad" opacity="0.75"/><ellipse cx="834.8" cy="459.4" rx="3.0" ry="2.7" transform="rotate(164 834.8 459.4)" fill="#a9b3ad" opacity="0.75"/><ellipse cx="815.8" cy="466.0" rx="3.4" ry="2.0" transform="rotate(65 815.8 466.0)" fill="#b0bab4" opacity="0.75"/><ellipse cx="791.1" cy="481.1" rx="2.7" ry="1.6" transform="rotate(147 791.1 481.1)" fill="#b8c2bc" opacity="0.75"/><ellipse cx="808.5" cy="333.4" rx="3.1" ry="2.0" transform="rotate(9 808.5 333.4)" fill="#b8c2bc" opacity="0.75"/><ellipse cx="732.5" cy="449.4" rx="2.9" ry="2.2" transform="rotate(84 732.5 449.4)" fill="#a9b3ad" opacity="0.75"/><ellipse cx="825.7" cy="349.3" rx="3.5" ry="2.8" transform="rotate(33 825.7 349.3)" fill="#b8c2bc" opacity="0.75"/><ellipse cx="750.1" cy="450.7" rx="3.9" ry="2.6" transform="rotate(143 750.1 450.7)" fill="#b8c2bc" opacity="0.75"/><ellipse cx="740.5" cy="442.7" rx="4.6" ry="2.8" transform="rotate(101 740.5 442.7)" fill="#b0bab4" opacity="0.75"/><ellipse cx="750.8" cy="382.0" rx="3.6" ry="2.1" transform="rotate(72 750.8 382.0)" fill="#c6cec9" opacity="0.75"/><ellipse cx="746.8" cy="431.8" rx="3.6" ry="1.6" transform="rotate(7 746.8 431.8)" fill="#b0bab4" opacity="0.75"/><ellipse cx="738.6" cy="446.0" rx="2.9" ry="2.0" transform="rotate(6 738.6 446.0)" fill="#c6cec9" opacity="0.75"/><ellipse cx="756.9" cy="395.5" rx="4.6" ry="2.4" transform="rotate(171 756.9 395.5)" fill="#b0bab4" opacity="0.75"/><ellipse cx="797.8" cy="448.2" rx="4.8" ry="1.7" transform="rotate(119 797.8 448.2)" fill="#b0bab4" opacity="0.75"/><ellipse cx="749.1" cy="441.5" rx="2.7" ry="2.6" transform="rotate(179 749.1 441.5)" fill="#a9b3ad" opacity="0.75"/><ellipse cx="862.2" cy="457.3" rx="4.6" ry="1.8" transform="rotate(107 862.2 457.3)" fill="#c0c9c3" opacity="0.75"/><ellipse cx="757.8" cy="348.9" rx="4.0" ry="1.8" transform="rotate(119 757.8 348.9)" fill="#c6cec9" opacity="0.75"/><ellipse cx="761.6" cy="377.6" rx="2.7" ry="2.5" transform="rotate(19 761.6 377.6)" fill="#b8c2bc" opacity="0.75"/><ellipse cx="815.2" cy="485.4" rx="4.7" ry="2.2" transform="rotate(22 815.2 485.4)" fill="#c6cec9" opacity="0.75"/><ellipse cx="863.9" cy="455.4" rx="4.0" ry="2.5" transform="rotate(39 863.9 455.4)" fill="#a9b3ad" opacity="0.75"/><ellipse cx="775.7" cy="369.8" rx="2.9" ry="2.0" transform="rotate(154 775.7 369.8)" fill="#c0c9c3" opacity="0.75"/><ellipse cx="756.7" cy="457.5" rx="3.1" ry="2.0" transform="rotate(112 756.7 457.5)" fill="#b8c2bc" opacity="0.75"/><ellipse cx="782.7" cy="348.9" rx="5.0" ry="2.6" transform="rotate(94 782.7 348.9)" fill="#b0bab4" opacity="0.75"/><ellipse cx="806.0" cy="456.9" rx="3.9" ry="2.0" transform="rotate(179 806.0 456.9)" fill="#c6cec9" opacity="0.75"/><ellipse cx="803.7" cy="457.9" rx="4.6" ry="2.8" transform="rotate(16 803.7 457.9)" fill="#b0bab4" opacity="0.75"/><ellipse cx="755.5" cy="384.2" rx="5.1" ry="2.6" transform="rotate(44 755.5 384.2)" fill="#b8c2bc" opacity="0.75"/><ellipse cx="757.0" cy="348.8" rx="3.8" ry="2.7" transform="rotate(112 757.0 348.8)" fill="#c6cec9" opacity="0.75"/><ellipse cx="752.2" cy="389.6" rx="3.0" ry="1.9" transform="rotate(47 752.2 389.6)" fill="#b0bab4" opacity="0.75"/><ellipse cx="823.2" cy="344.9" rx="4.8" ry="2.0" transform="rotate(150 823.2 344.9)" fill="#b8c2bc" opacity="0.75"/><ellipse cx="781.1" cy="454.5" rx="4.5" ry="2.5" transform="rotate(170 781.1 454.5)" fill="#b8c2bc" opacity="0.75"/><ellipse cx="736.8" cy="402.0" rx="2.6" ry="2.8" transform="rotate(175 736.8 402.0)" fill="#c6cec9" opacity="0.75"/><ellipse cx="799.3" cy="339.7" rx="2.9" ry="2.4" transform="rotate(143 799.3 339.7)" fill="#b8c2bc" opacity="0.75"/><ellipse cx="810.0" cy="474.8" rx="3.8" ry="2.8" transform="rotate(129 810.0 474.8)" fill="#b0bab4" opacity="0.75"/><ellipse cx="807.1" cy="463.7" rx="4.0" ry="1.8" transform="rotate(152 807.1 463.7)" fill="#c0c9c3" opacity="0.75"/><ellipse cx="770.1" cy="353.6" rx="2.8" ry="2.4" transform="rotate(126 770.1 353.6)" fill="#c0c9c3" opacity="0.75"/><ellipse cx="755.7" cy="448.9" rx="4.1" ry="1.6" transform="rotate(158 755.7 448.9)" fill="#c0c9c3" opacity="0.75"/><ellipse cx="798.6" cy="475.7" rx="4.2" ry="1.7" transform="rotate(132 798.6 475.7)" fill="#a9b3ad" opacity="0.75"/><ellipse cx="753.4" cy="400.9" rx="3.2" ry="2.8" transform="rotate(10 753.4 400.9)" fill="#c6cec9" opacity="0.75"/><ellipse cx="858.5" cy="369.9" rx="3.3" ry="2.8" transform="rotate(54 858.5 369.9)" fill="#a9b3ad" opacity="0.75"/><ellipse cx="843.9" cy="343.7" rx="4.6" ry="2.0" transform="rotate(116 843.9 343.7)" fill="#c0c9c3" opacity="0.75"/><ellipse cx="729.7" cy="411.7" rx="4.7" ry="2.8" transform="rotate(10 729.7 411.7)" fill="#b0bab4" opacity="0.75"/><ellipse cx="729.7" cy="399.5" rx="2.8" ry="2.4" transform="rotate(63 729.7 399.5)" fill="#b0bab4" opacity="0.75"/><ellipse cx="763.7" cy="379.3" rx="3.6" ry="2.3" transform="rotate(153 763.7 379.3)" fill="#b0bab4" opacity="0.75"/><ellipse cx="801.9" cy="448.7" rx="4.9" ry="1.8" transform="rotate(3 801.9 448.7)" fill="#b0bab4" opacity="0.75"/><ellipse cx="768.5" cy="436.2" rx="4.5" ry="1.5" transform="rotate(47 768.5 436.2)" fill="#b8c2bc" opacity="0.75"/><ellipse cx="812.3" cy="333.1" rx="3.3" ry="1.8" transform="rotate(131 812.3 333.1)" fill="#b8c2bc" opacity="0.75"/><ellipse cx="861.4" cy="459.7" rx="4.1" ry="2.7" transform="rotate(162 861.4 459.7)" fill="#a9b3ad" opacity="0.75"/><ellipse cx="773.2" cy="430.0" rx="3.1" ry="1.7" transform="rotate(20 773.2 430.0)" fill="#b8c2bc" opacity="0.75"/><ellipse cx="796.9" cy="455.8" rx="3.3" ry="2.6" transform="rotate(154 796.9 455.8)" fill="#c6cec9" opacity="0.75"/><ellipse cx="871.1" cy="450.4" rx="3.7" ry="2.0" transform="rotate(104 871.1 450.4)" fill="#b0bab4" opacity="0.75"/><ellipse cx="771.9" cy="461.4" rx="4.3" ry="2.8" transform="rotate(78 771.9 461.4)" fill="#c0c9c3" opacity="0.75"/><ellipse cx="779.5" cy="446.3" rx="3.6" ry="2.7" transform="rotate(74 779.5 446.3)" fill="#c6cec9" opacity="0.75"/><ellipse cx="749.4" cy="376.1" rx="4.3" ry="1.8" transform="rotate(83 749.4 376.1)" fill="#c6cec9" opacity="0.75"/><ellipse cx="746.2" cy="423.6" rx="4.4" ry="2.1" transform="rotate(59 746.2 423.6)" fill="#a9b3ad" opacity="0.75"/><ellipse cx="730.3" cy="400.0" rx="2.8" ry="1.5" transform="rotate(132 730.3 400.0)" fill="#c6cec9" opacity="0.75"/><ellipse cx="746.3" cy="357.8" rx="4.0" ry="2.0" transform="rotate(108 746.3 357.8)" fill="#b0bab4" opacity="0.75"/><ellipse cx="777.2" cy="436.0" rx="4.2" ry="2.2" transform="rotate(149 777.2 436.0)" fill="#c6cec9" opacity="0.75"/><ellipse cx="806.2" cy="473.3" rx="5.0" ry="2.6" transform="rotate(70 806.2 473.3)" fill="#b0bab4" opacity="0.75"/><ellipse cx="748.7" cy="468.8" rx="3.5" ry="1.5" transform="rotate(145 748.7 468.8)" fill="#b0bab4" opacity="0.75"/><ellipse cx="848.2" cy="464.4" rx="3.8" ry="1.6" transform="rotate(75 848.2 464.4)" fill="#c0c9c3" opacity="0.75"/><ellipse cx="874.8" cy="406.1" rx="3.1" ry="2.8" transform="rotate(20 874.8 406.1)" fill="#b0bab4" opacity="0.75"/><ellipse cx="764.3" cy="364.6" rx="3.8" ry="1.7" transform="rotate(125 764.3 364.6)" fill="#c0c9c3" opacity="0.75"/><ellipse cx="859.1" cy="451.3" rx="4.9" ry="1.6" transform="rotate(36 859.1 451.3)" fill="#a9b3ad" opacity="0.75"/><ellipse cx="881.7" cy="415.7" rx="5.0" ry="2.4" transform="rotate(115 881.7 415.7)" fill="#b0bab4" opacity="0.75"/><ellipse cx="739.3" cy="428.7" rx="4.7" ry="2.2" transform="rotate(136 739.3 428.7)" fill="#c6cec9" opacity="0.75"/><ellipse cx="774.4" cy="439.0" rx="3.7" ry="2.5" transform="rotate(139 774.4 439.0)" fill="#b0bab4" opacity="0.75"/><ellipse cx="756.2" cy="363.5" rx="4.1" ry="1.7" transform="rotate(1 756.2 363.5)" fill="#c0c9c3" opacity="0.75"/><ellipse cx="737.0" cy="413.0" rx="3.2" ry="1.8" transform="rotate(74 737.0 413.0)" fill="#c6cec9" opacity="0.75"/><ellipse cx="809.7" cy="452.7" rx="5.0" ry="1.6" transform="rotate(156 809.7 452.7)" fill="#c6cec9" opacity="0.75"/><ellipse cx="876.2" cy="439.5" rx="3.1" ry="2.4" transform="rotate(51 876.2 439.5)" fill="#c0c9c3" opacity="0.75"/><ellipse cx="769.0" cy="450.5" rx="3.5" ry="1.6" transform="rotate(165 769.0 450.5)" fill="#c0c9c3" opacity="0.75"/><ellipse cx="767.1" cy="353.5" rx="5.1" ry="2.3" transform="rotate(118 767.1 353.5)" fill="#c6cec9" opacity="0.75"/><ellipse cx="756.7" cy="370.4" rx="4.2" ry="2.8" transform="rotate(98 756.7 370.4)" fill="#b0bab4" opacity="0.75"/><ellipse cx="726.2" cy="392.5" rx="3.5" ry="1.7" transform="rotate(52 726.2 392.5)" fill="#b0bab4" opacity="0.75"/><ellipse cx="871.9" cy="372.8" rx="4.6" ry="1.7" transform="rotate(114 871.9 372.8)" fill="#b0bab4" opacity="0.75"/><ellipse cx="777.8" cy="347.9" rx="4.2" ry="1.5" transform="rotate(55 777.8 347.9)" fill="#b8c2bc" opacity="0.75"/><ellipse cx="754.3" cy="399.5" rx="4.9" ry="2.3" transform="rotate(143 754.3 399.5)" fill="#b8c2bc" opacity="0.75"/><ellipse cx="873.1" cy="423.7" rx="3.7" ry="2.5" transform="rotate(134 873.1 423.7)" fill="#b0bab4" opacity="0.75"/><ellipse cx="729.4" cy="436.8" rx="4.8" ry="2.3" transform="rotate(94 729.4 436.8)" fill="#b8c2bc" opacity="0.75"/><ellipse cx="768.0" cy="370.5" rx="4.2" ry="2.0" transform="rotate(102 768.0 370.5)" fill="#b8c2bc" opacity="0.75"/><ellipse cx="726.2" cy="389.9" rx="3.7" ry="2.2" transform="rotate(43 726.2 389.9)" fill="#c6cec9" opacity="0.75"/><ellipse cx="760.6" cy="472.6" rx="2.8" ry="2.7" transform="rotate(76 760.6 472.6)" fill="#c6cec9" opacity="0.75"/><ellipse cx="836.8" cy="344.4" rx="3.1" ry="2.1" transform="rotate(171 836.8 344.4)" fill="#b8c2bc" opacity="0.75"/><ellipse cx="825.6" cy="467.8" rx="2.7" ry="1.5" transform="rotate(159 825.6 467.8)" fill="#c6cec9" opacity="0.75"/><ellipse cx="739.1" cy="407.8" rx="2.6" ry="2.1" transform="rotate(116 739.1 407.8)" fill="#c0c9c3" opacity="0.75"/><ellipse cx="760.3" cy="352.1" rx="3.6" ry="2.7" transform="rotate(43 760.3 352.1)" fill="#b8c2bc" opacity="0.75"/><ellipse cx="847.1" cy="347.2" rx="4.7" ry="2.0" transform="rotate(134 847.1 347.2)" fill="#b0bab4" opacity="0.75"/><ellipse cx="755.5" cy="422.0" rx="4.2" ry="2.6" transform="rotate(132 755.5 422.0)" fill="#c6cec9" opacity="0.75"/><ellipse cx="762.3" cy="433.3" rx="3.5" ry="2.8" transform="rotate(66 762.3 433.3)" fill="#c0c9c3" opacity="0.75"/><ellipse cx="765.2" cy="399.7" rx="5.0" ry="2.1" transform="rotate(63 765.2 399.7)" fill="#b0bab4" opacity="0.75"/><ellipse cx="816.9" cy="472.7" rx="3.3" ry="1.8" transform="rotate(92 816.9 472.7)" fill="#b0bab4" opacity="0.75"/><ellipse cx="803.5" cy="330.9" rx="2.7" ry="1.8" transform="rotate(177 803.5 330.9)" fill="#c0c9c3" opacity="0.75"/><ellipse cx="748.0" cy="466.6" rx="3.1" ry="2.5" transform="rotate(106 748.0 466.6)" fill="#b0bab4" opacity="0.75"/><ellipse cx="829.0" cy="468.5" rx="5.1" ry="2.7" transform="rotate(175 829.0 468.5)" fill="#c6cec9" opacity="0.75"/><ellipse cx="769.4" cy="427.1" rx="4.2" ry="2.3" transform="rotate(141 769.4 427.1)" fill="#c6cec9" opacity="0.75"/><ellipse cx="820.1" cy="487.8" rx="5.1" ry="2.3" transform="rotate(54 820.1 487.8)" fill="#b8c2bc" opacity="0.75"/><ellipse cx="738.4" cy="448.0" rx="3.1" ry="2.0" transform="rotate(73 738.4 448.0)" fill="#c0c9c3" opacity="0.75"/><ellipse cx="846.8" cy="346.4" rx="3.3" ry="1.7" transform="rotate(105 846.8 346.4)" fill="#b0bab4" opacity="0.75"/><ellipse cx="774.4" cy="480.4" rx="3.2" ry="2.0" transform="rotate(47 774.4 480.4)" fill="#b0bab4" opacity="0.75"/><ellipse cx="765.5" cy="377.4" rx="3.2" ry="1.9" transform="rotate(104 765.5 377.4)" fill="#b8c2bc" opacity="0.75"/><ellipse cx="797.0" cy="489.5" rx="3.6" ry="2.1" transform="rotate(177 797.0 489.5)" fill="#c0c9c3" opacity="0.75"/><ellipse cx="744.2" cy="368.6" rx="3.2" ry="2.6" transform="rotate(174 744.2 368.6)" fill="#a9b3ad" opacity="0.75"/><ellipse cx="748.9" cy="363.2" rx="2.9" ry="2.6" transform="rotate(141 748.9 363.2)" fill="#b8c2bc" opacity="0.75"/><ellipse cx="812.1" cy="470.2" rx="5.0" ry="2.6" transform="rotate(120 812.1 470.2)" fill="#c0c9c3" opacity="0.75"/><ellipse cx="747.2" cy="363.8" rx="4.0" ry="2.1" transform="rotate(45 747.2 363.8)" fill="#b0bab4" opacity="0.75"/><ellipse cx="779.1" cy="473.3" rx="4.2" ry="1.5" transform="rotate(60 779.1 473.3)" fill="#b8c2bc" opacity="0.75"/><ellipse cx="847.9" cy="448.6" rx="5.0" ry="1.8" transform="rotate(163 847.9 448.6)" fill="#b8c2bc" opacity="0.75"/><ellipse cx="818.5" cy="471.2" rx="3.4" ry="1.6" transform="rotate(78 818.5 471.2)" fill="#c0c9c3" opacity="0.75"/><ellipse cx="810.7" cy="341.6" rx="4.0" ry="1.7" transform="rotate(22 810.7 341.6)" fill="#a9b3ad" opacity="0.75"/><ellipse cx="822.7" cy="338.4" rx="4.0" ry="1.9" transform="rotate(81 822.7 338.4)" fill="#b8c2bc" opacity="0.75"/><ellipse cx="857.5" cy="433.2" rx="4.1" ry="2.3" transform="rotate(73 857.5 433.2)" fill="#c0c9c3" opacity="0.75"/><ellipse cx="759.6" cy="398.6" rx="3.6" ry="2.2" transform="rotate(169 759.6 398.6)" fill="#c0c9c3" opacity="0.75"/><ellipse cx="848.5" cy="465.8" rx="4.9" ry="1.7" transform="rotate(69 848.5 465.8)" fill="#c6cec9" opacity="0.75"/><ellipse cx="873.0" cy="395.9" rx="3.1" ry="2.0" transform="rotate(51 873.0 395.9)" fill="#a9b3ad" opacity="0.75"/><ellipse cx="862.2" cy="444.0" rx="4.3" ry="2.3" transform="rotate(36 862.2 444.0)" fill="#a9b3ad" opacity="0.75"/><ellipse cx="758.9" cy="420.6" rx="3.9" ry="1.8" transform="rotate(167 758.9 420.6)" fill="#c6cec9" opacity="0.75"/><ellipse cx="820.7" cy="468.8" rx="4.4" ry="1.7" transform="rotate(89 820.7 468.8)" fill="#c0c9c3" opacity="0.75"/><ellipse cx="863.9" cy="366.5" rx="5.2" ry="2.8" transform="rotate(28 863.9 366.5)" fill="#b0bab4" opacity="0.75"/><ellipse cx="872.9" cy="410.3" rx="4.8" ry="2.2" transform="rotate(16 872.9 410.3)" fill="#c6cec9" opacity="0.75"/><ellipse cx="821.8" cy="462.9" rx="3.2" ry="2.2" transform="rotate(177 821.8 462.9)" fill="#b0bab4" opacity="0.75"/><ellipse cx="848.7" cy="473.9" rx="3.7" ry="2.4" transform="rotate(51 848.7 473.9)" fill="#b8c2bc" opacity="0.75"/><ellipse cx="769.8" cy="422.3" rx="5.1" ry="2.2" transform="rotate(82 769.8 422.3)" fill="#c6cec9" opacity="0.75"/><ellipse cx="760.8" cy="447.7" rx="3.5" ry="2.4" transform="rotate(166 760.8 447.7)" fill="#b8c2bc" opacity="0.75"/><ellipse cx="854.9" cy="439.0" rx="5.1" ry="2.0" transform="rotate(160 854.9 439.0)" fill="#a9b3ad" opacity="0.75"/><ellipse cx="846.5" cy="457.3" rx="3.3" ry="1.6" transform="rotate(43 846.5 457.3)" fill="#b0bab4" opacity="0.75"/><ellipse cx="876.9" cy="441.3" rx="2.7" ry="2.2" transform="rotate(170 876.9 441.3)" fill="#a9b3ad" opacity="0.75"/><ellipse cx="876.5" cy="421.3" rx="3.1" ry="1.8" transform="rotate(4 876.5 421.3)" fill="#b0bab4" opacity="0.75"/><ellipse cx="748.0" cy="436.4" rx="4.2" ry="1.5" transform="rotate(90 748.0 436.4)" fill="#b0bab4" opacity="0.75"/><ellipse cx="756.0" cy="473.0" rx="4.1" ry="2.7" transform="rotate(29 756.0 473.0)" fill="#b0bab4" opacity="0.75"/><ellipse cx="822.7" cy="342.3" rx="4.1" ry="2.2" transform="rotate(42 822.7 342.3)" fill="#c0c9c3" opacity="0.75"/><ellipse cx="809.1" cy="474.0" rx="5.0" ry="1.9" transform="rotate(90 809.1 474.0)" fill="#b8c2bc" opacity="0.75"/><ellipse cx="846.7" cy="348.5" rx="4.2" ry="1.9" transform="rotate(123 846.7 348.5)" fill="#b0bab4" opacity="0.75"/><ellipse cx="785.1" cy="358.3" rx="3.7" ry="1.8" transform="rotate(171 785.1 358.3)" fill="#b0bab4" opacity="0.75"/><ellipse cx="882.9" cy="413.7" rx="4.1" ry="2.1" transform="rotate(81 882.9 413.7)" fill="#b0bab4" opacity="0.75"/><ellipse cx="818.4" cy="480.7" rx="3.8" ry="1.9" transform="rotate(42 818.4 480.7)" fill="#a9b3ad" opacity="0.75"/><ellipse cx="751.1" cy="370.0" rx="5.1" ry="1.9" transform="rotate(170 751.1 370.0)" fill="#a9b3ad" opacity="0.75"/><ellipse cx="836.2" cy="468.1" rx="4.2" ry="1.7" transform="rotate(11 836.2 468.1)" fill="#b8c2bc" opacity="0.75"/><ellipse cx="782.7" cy="438.8" rx="5.2" ry="2.3" transform="rotate(161 782.7 438.8)" fill="#c0c9c3" opacity="0.75"/><ellipse cx="731.3" cy="378.1" rx="5.0" ry="2.8" transform="rotate(26 731.3 378.1)" fill="#b8c2bc" opacity="0.75"/><ellipse cx="751.4" cy="405.1" rx="2.6" ry="2.0" transform="rotate(30 751.4 405.1)" fill="#c6cec9" opacity="0.75"/><ellipse cx="794.3" cy="337.8" rx="3.0" ry="2.0" transform="rotate(92 794.3 337.8)" fill="#a9b3ad" opacity="0.75"/><ellipse cx="757.3" cy="362.7" rx="4.1" ry="2.1" transform="rotate(18 757.3 362.7)" fill="#b0bab4" opacity="0.75"/><ellipse cx="748.8" cy="415.9" rx="3.1" ry="2.7" transform="rotate(156 748.8 415.9)" fill="#b0bab4" opacity="0.75"/><ellipse cx="788.2" cy="463.0" rx="3.4" ry="1.7" transform="rotate(112 788.2 463.0)" fill="#b8c2bc" opacity="0.75"/><ellipse cx="828.9" cy="452.9" rx="2.8" ry="2.1" transform="rotate(87 828.9 452.9)" fill="#c0c9c3" opacity="0.75"/><ellipse cx="759.6" cy="457.9" rx="3.1" ry="2.3" transform="rotate(31 759.6 457.9)" fill="#a9b3ad" opacity="0.75"/><ellipse cx="838.2" cy="451.4" rx="4.9" ry="2.4" transform="rotate(117 838.2 451.4)" fill="#b8c2bc" opacity="0.75"/><ellipse cx="826.8" cy="455.5" rx="4.3" ry="2.8" transform="rotate(53 826.8 455.5)" fill="#b0bab4" opacity="0.75"/><ellipse cx="757.6" cy="469.8" rx="3.8" ry="2.6" transform="rotate(96 757.6 469.8)" fill="#b0bab4" opacity="0.75"/><ellipse cx="858.6" cy="442.1" rx="4.9" ry="2.2" transform="rotate(5 858.6 442.1)" fill="#b8c2bc" opacity="0.75"/><ellipse cx="759.8" cy="462.4" rx="4.4" ry="1.8" transform="rotate(172 759.8 462.4)" fill="#a9b3ad" opacity="0.75"/><ellipse cx="756.9" cy="477.1" rx="3.4" ry="2.8" transform="rotate(89 756.9 477.1)" fill="#b8c2bc" opacity="0.75"/><ellipse cx="810.8" cy="484.2" rx="2.7" ry="2.6" transform="rotate(92 810.8 484.2)" fill="#c6cec9" opacity="0.75"/><ellipse cx="743.6" cy="396.9" rx="3.2" ry="2.4" transform="rotate(101 743.6 396.9)" fill="#a9b3ad" opacity="0.75"/><ellipse cx="816.7" cy="460.8" rx="5.2" ry="1.6" transform="rotate(110 816.7 460.8)" fill="#b8c2bc" opacity="0.75"/><ellipse cx="835.6" cy="453.8" rx="3.5" ry="2.2" transform="rotate(122 835.6 453.8)" fill="#b0bab4" opacity="0.75"/><ellipse cx="726.0" cy="390.7" rx="4.5" ry="2.1" transform="rotate(126 726.0 390.7)" fill="#a9b3ad" opacity="0.75"/><ellipse cx="764.7" cy="465.2" rx="3.6" ry="2.6" transform="rotate(142 764.7 465.2)" fill="#c0c9c3" opacity="0.75"/><ellipse cx="841.3" cy="480.4" rx="5.0" ry="2.3" transform="rotate(163 841.3 480.4)" fill="#b8c2bc" opacity="0.75"/><ellipse cx="784.0" cy="484.1" rx="3.6" ry="2.6" transform="rotate(75 784.0 484.1)" fill="#b0bab4" opacity="0.75"/><ellipse cx="739.7" cy="441.2" rx="5.0" ry="1.6" transform="rotate(74 739.7 441.2)" fill="#b0bab4" opacity="0.75"/><ellipse cx="783.1" cy="459.0" rx="4.6" ry="1.8" transform="rotate(145 783.1 459.0)" fill="#a9b3ad" opacity="0.75"/><ellipse cx="853.0" cy="445.4" rx="3.5" ry="1.7" transform="rotate(100 853.0 445.4)" fill="#a9b3ad" opacity="0.75"/><ellipse cx="774.8" cy="340.1" rx="3.8" ry="2.7" transform="rotate(144 774.8 340.1)" fill="#a9b3ad" opacity="0.75"/><ellipse cx="761.9" cy="442.9" rx="4.3" ry="1.6" transform="rotate(19 761.9 442.9)" fill="#c0c9c3" opacity="0.75"/><ellipse cx="736.1" cy="427.7" rx="3.4" ry="2.3" transform="rotate(9 736.1 427.7)" fill="#b0bab4" opacity="0.75"/><ellipse cx="812.7" cy="343.4" rx="3.4" ry="2.3" transform="rotate(68 812.7 343.4)" fill="#a9b3ad" opacity="0.75"/><ellipse cx="780.5" cy="453.6" rx="3.4" ry="2.1" transform="rotate(23 780.5 453.6)" fill="#c0c9c3" opacity="0.75"/><ellipse cx="747.3" cy="357.4" rx="4.7" ry="2.6" transform="rotate(22 747.3 357.4)" fill="#c6cec9" opacity="0.75"/><ellipse cx="769.4" cy="382.0" rx="4.5" ry="2.4" transform="rotate(48 769.4 382.0)" fill="#c6cec9" opacity="0.75"/><ellipse cx="731.2" cy="415.0" rx="3.1" ry="2.8" transform="rotate(34 731.2 415.0)" fill="#c6cec9" opacity="0.75"/><ellipse cx="733.9" cy="430.5" rx="3.4" ry="1.8" transform="rotate(85 733.9 430.5)" fill="#c0c9c3" opacity="0.75"/><ellipse cx="742.4" cy="447.9" rx="4.7" ry="1.7" transform="rotate(142 742.4 447.9)" fill="#a9b3ad" opacity="0.75"/><ellipse cx="770.9" cy="461.4" rx="4.9" ry="2.7" transform="rotate(80 770.9 461.4)" fill="#c0c9c3" opacity="0.75"/><ellipse cx="817.4" cy="489.8" rx="3.9" ry="1.8" transform="rotate(12 817.4 489.8)" fill="#b8c2bc" opacity="0.75"/><ellipse cx="760.6" cy="438.3" rx="3.1" ry="1.6" transform="rotate(64 760.6 438.3)" fill="#a9b3ad" opacity="0.75"/><ellipse cx="792.9" cy="449.4" rx="4.2" ry="1.6" transform="rotate(161 792.9 449.4)" fill="#b8c2bc" opacity="0.75"/><ellipse cx="763.3" cy="358.4" rx="4.1" ry="2.1" transform="rotate(43 763.3 358.4)" fill="#a9b3ad" opacity="0.75"/><ellipse cx="858.0" cy="432.3" rx="4.4" ry="2.3" transform="rotate(26 858.0 432.3)" fill="#c6cec9" opacity="0.75"/><ellipse cx="832.4" cy="469.7" rx="3.2" ry="2.1" transform="rotate(56 832.4 469.7)" fill="#b0bab4" opacity="0.75"/><ellipse cx="773.3" cy="353.4" rx="4.3" ry="2.0" transform="rotate(170 773.3 353.4)" fill="#b8c2bc" opacity="0.75"/><ellipse cx="825.1" cy="466.6" rx="5.1" ry="2.1" transform="rotate(97 825.1 466.6)" fill="#b0bab4" opacity="0.75"/><ellipse cx="840.7" cy="345.8" rx="3.2" ry="2.3" transform="rotate(175 840.7 345.8)" fill="#c6cec9" opacity="0.75"/><ellipse cx="751.1" cy="371.7" rx="4.9" ry="1.8" transform="rotate(172 751.1 371.7)" fill="#b0bab4" opacity="0.75"/><ellipse cx="803.2" cy="450.4" rx="4.5" ry="1.7" transform="rotate(84 803.2 450.4)" fill="#b0bab4" opacity="0.75"/><ellipse cx="756.5" cy="464.8" rx="3.7" ry="2.5" transform="rotate(110 756.5 464.8)" fill="#b0bab4" opacity="0.75"/><ellipse cx="766.0" cy="468.1" rx="4.1" ry="2.3" transform="rotate(174 766.0 468.1)" fill="#b8c2bc" opacity="0.75"/><ellipse cx="869.3" cy="414.1" rx="3.7" ry="2.6" transform="rotate(80 869.3 414.1)" fill="#c6cec9" opacity="0.75"/><ellipse cx="865.2" cy="451.3" rx="2.8" ry="2.5" transform="rotate(87 865.2 451.3)" fill="#b0bab4" opacity="0.75"/><ellipse cx="757.1" cy="444.3" rx="3.1" ry="1.6" transform="rotate(6 757.1 444.3)" fill="#c0c9c3" opacity="0.75"/><ellipse cx="817.1" cy="482.5" rx="4.2" ry="1.9" transform="rotate(98 817.1 482.5)" fill="#c6cec9" opacity="0.75"/><ellipse cx="758.2" cy="411.9" rx="4.4" ry="2.2" transform="rotate(131 758.2 411.9)" fill="#b0bab4" opacity="0.75"/><ellipse cx="823.6" cy="452.1" rx="4.4" ry="2.1" transform="rotate(176 823.6 452.1)" fill="#b0bab4" opacity="0.75"/><ellipse cx="878.8" cy="426.7" rx="4.5" ry="1.9" transform="rotate(111 878.8 426.7)" fill="#c0c9c3" opacity="0.75"/><ellipse cx="832.3" cy="454.5" rx="2.6" ry="1.9" transform="rotate(123 832.3 454.5)" fill="#b8c2bc" opacity="0.75"/><ellipse cx="757.4" cy="371.0" rx="3.3" ry="1.9" transform="rotate(109 757.4 371.0)" fill="#c6cec9" opacity="0.75"/><ellipse cx="770.4" cy="458.9" rx="3.3" ry="2.8" transform="rotate(16 770.4 458.9)" fill="#b0bab4" opacity="0.75"/><ellipse cx="744.8" cy="455.2" rx="4.6" ry="2.3" transform="rotate(179 744.8 455.2)" fill="#b8c2bc" opacity="0.75"/><ellipse cx="758.6" cy="381.4" rx="4.5" ry="1.5" transform="rotate(44 758.6 381.4)" fill="#c6cec9" opacity="0.75"/><ellipse cx="799.4" cy="471.4" rx="2.6" ry="1.6" transform="rotate(17 799.4 471.4)" fill="#b8c2bc" opacity="0.75"/><ellipse cx="761.0" cy="396.8" rx="3.0" ry="2.6" transform="rotate(146 761.0 396.8)" fill="#a9b3ad" opacity="0.75"/><ellipse cx="737.2" cy="438.3" rx="3.5" ry="2.0" transform="rotate(135 737.2 438.3)" fill="#a9b3ad" opacity="0.75"/><ellipse cx="743.3" cy="376.4" rx="4.2" ry="1.8" transform="rotate(166 743.3 376.4)" fill="#c0c9c3" opacity="0.75"/><ellipse cx="875.7" cy="393.8" rx="3.0" ry="2.5" transform="rotate(109 875.7 393.8)" fill="#b8c2bc" opacity="0.75"/><ellipse cx="853.2" cy="454.0" rx="5.0" ry="2.4" transform="rotate(170 853.2 454.0)" fill="#b8c2bc" opacity="0.75"/><ellipse cx="815.0" cy="464.9" rx="5.1" ry="2.0" transform="rotate(8 815.0 464.9)" fill="#c6cec9" opacity="0.75"/><ellipse cx="749.9" cy="363.6" rx="4.3" ry="1.6" transform="rotate(31 749.9 363.6)" fill="#b0bab4" opacity="0.75"/><ellipse cx="753.0" cy="404.8" rx="4.9" ry="2.8" transform="rotate(80 753.0 404.8)" fill="#a9b3ad" opacity="0.75"/><ellipse cx="731.0" cy="408.6" rx="4.8" ry="2.4" transform="rotate(122 731.0 408.6)" fill="#a9b3ad" opacity="0.75"/><ellipse cx="766.3" cy="384.6" rx="4.3" ry="2.0" transform="rotate(163 766.3 384.6)" fill="#c0c9c3" opacity="0.75"/><ellipse cx="724.3" cy="397.1" rx="4.8" ry="2.2" transform="rotate(144 724.3 397.1)" fill="#b0bab4" opacity="0.75"/><ellipse cx="732.0" cy="417.7" rx="3.7" ry="2.2" transform="rotate(159 732.0 417.7)" fill="#c6cec9" opacity="0.75"/><ellipse cx="879.4" cy="398.5" rx="3.6" ry="2.0" transform="rotate(4 879.4 398.5)" fill="#c6cec9" opacity="0.75"/><ellipse cx="778.6" cy="454.2" rx="4.1" ry="2.1" transform="rotate(166 778.6 454.2)" fill="#c0c9c3" opacity="0.75"/><ellipse cx="780.2" cy="337.6" rx="2.6" ry="1.8" transform="rotate(167 780.2 337.6)" fill="#a9b3ad" opacity="0.75"/><ellipse cx="733.8" cy="435.5" rx="3.4" ry="1.7" transform="rotate(91 733.8 435.5)" fill="#b0bab4" opacity="0.75"/><ellipse cx="781.9" cy="346.7" rx="3.8" ry="2.7" transform="rotate(164 781.9 346.7)" fill="#b8c2bc" opacity="0.75"/><ellipse cx="783.0" cy="476.4" rx="2.7" ry="1.8" transform="rotate(149 783.0 476.4)" fill="#c0c9c3" opacity="0.75"/><ellipse cx="770.1" cy="376.2" rx="5.2" ry="1.9" transform="rotate(80 770.1 376.2)" fill="#b8c2bc" opacity="0.75"/><ellipse cx="820.7" cy="470.1" rx="4.1" ry="1.7" transform="rotate(117 820.7 470.1)" fill="#b8c2bc" opacity="0.75"/><ellipse cx="833.5" cy="452.6" rx="4.9" ry="2.5" transform="rotate(17 833.5 452.6)" fill="#b0bab4" opacity="0.75"/><ellipse cx="773.1" cy="365.9" rx="5.0" ry="2.2" transform="rotate(97 773.1 365.9)" fill="#b8c2bc" opacity="0.75"/><ellipse cx="773.7" cy="366.8" rx="3.3" ry="2.4" transform="rotate(95 773.7 366.8)" fill="#b0bab4" opacity="0.75"/><ellipse cx="799.9" cy="349.9" rx="3.4" ry="2.2" transform="rotate(159 799.9 349.9)" fill="#a9b3ad" opacity="0.75"/><ellipse cx="871.4" cy="387.6" rx="4.1" ry="2.4" transform="rotate(81 871.4 387.6)" fill="#b0bab4" opacity="0.75"/><ellipse cx="836.9" cy="480.1" rx="4.1" ry="2.5" transform="rotate(161 836.9 480.1)" fill="#a9b3ad" opacity="0.75"/><ellipse cx="811.4" cy="345.7" rx="2.7" ry="1.8" transform="rotate(122 811.4 345.7)" fill="#a9b3ad" opacity="0.75"/><ellipse cx="877.9" cy="389.7" rx="4.3" ry="2.6" transform="rotate(138 877.9 389.7)" fill="#a9b3ad" opacity="0.75"/><ellipse cx="839.7" cy="459.8" rx="4.8" ry="2.1" transform="rotate(101 839.7 459.8)" fill="#b0bab4" opacity="0.75"/><ellipse cx="735.5" cy="446.6" rx="4.3" ry="2.0" transform="rotate(174 735.5 446.6)" fill="#c0c9c3" opacity="0.75"/><ellipse cx="750.0" cy="464.6" rx="5.1" ry="1.9" transform="rotate(129 750.0 464.6)" fill="#c0c9c3" opacity="0.75"/><ellipse cx="813.7" cy="468.0" rx="2.9" ry="1.6" transform="rotate(2 813.7 468.0)" fill="#c6cec9" opacity="0.75"/><ellipse cx="733.8" cy="395.3" rx="4.5" ry="2.8" transform="rotate(86 733.8 395.3)" fill="#b8c2bc" opacity="0.75"/><ellipse cx="807.1" cy="474.8" rx="3.4" ry="2.4" transform="rotate(70 807.1 474.8)" fill="#b0bab4" opacity="0.75"/><ellipse cx="795.1" cy="343.1" rx="3.3" ry="2.0" transform="rotate(22 795.1 343.1)" fill="#c6cec9" opacity="0.75"/><ellipse cx="805.2" cy="334.9" rx="5.1" ry="2.5" transform="rotate(117 805.2 334.9)" fill="#c6cec9" opacity="0.75"/><ellipse cx="775.2" cy="482.8" rx="4.5" ry="2.1" transform="rotate(114 775.2 482.8)" fill="#b8c2bc" opacity="0.75"/><ellipse cx="744.9" cy="435.4" rx="4.6" ry="1.7" transform="rotate(124 744.9 435.4)" fill="#c6cec9" opacity="0.75"/><ellipse cx="869.4" cy="440.0" rx="5.0" ry="2.5" transform="rotate(156 869.4 440.0)" fill="#c6cec9" opacity="0.75"/><ellipse cx="796.3" cy="454.5" rx="3.9" ry="2.1" transform="rotate(95 796.3 454.5)" fill="#c0c9c3" opacity="0.75"/><ellipse cx="782.3" cy="358.3" rx="3.5" ry="2.6" transform="rotate(99 782.3 358.3)" fill="#b8c2bc" opacity="0.75"/><ellipse cx="763.7" cy="369.6" rx="3.6" ry="2.0" transform="rotate(65 763.7 369.6)" fill="#b0bab4" opacity="0.75"/><ellipse cx="829.1" cy="469.0" rx="3.6" ry="1.6" transform="rotate(169 829.1 469.0)" fill="#c0c9c3" opacity="0.75"/><ellipse cx="824.3" cy="479.2" rx="5.0" ry="1.7" transform="rotate(39 824.3 479.2)" fill="#c0c9c3" opacity="0.75"/><ellipse cx="739.3" cy="418.1" rx="3.0" ry="2.1" transform="rotate(116 739.3 418.1)" fill="#c0c9c3" opacity="0.75"/><ellipse cx="768.3" cy="345.0" rx="3.5" ry="1.6" transform="rotate(113 768.3 345.0)" fill="#b8c2bc" opacity="0.75"/><ellipse cx="793.9" cy="448.6" rx="4.7" ry="1.5" transform="rotate(88 793.9 448.6)" fill="#a9b3ad" opacity="0.75"/><ellipse cx="791.1" cy="460.2" rx="4.3" ry="2.4" transform="rotate(13 791.1 460.2)" fill="#b0bab4" opacity="0.75"/><ellipse cx="807.3" cy="469.0" rx="4.7" ry="2.7" transform="rotate(155 807.3 469.0)" fill="#c0c9c3" opacity="0.75"/><ellipse cx="780.6" cy="358.8" rx="4.5" ry="2.1" transform="rotate(17 780.6 358.8)" fill="#c0c9c3" opacity="0.75"/><ellipse cx="856.0" cy="465.2" rx="4.0" ry="2.0" transform="rotate(66 856.0 465.2)" fill="#a9b3ad" opacity="0.75"/><ellipse cx="774.2" cy="483.9" rx="4.2" ry="1.8" transform="rotate(30 774.2 483.9)" fill="#c0c9c3" opacity="0.75"/><ellipse cx="796.1" cy="341.5" rx="4.2" ry="2.6" transform="rotate(80 796.1 341.5)" fill="#b8c2bc" opacity="0.75"/><ellipse cx="798.3" cy="340.0" rx="3.1" ry="2.5" transform="rotate(14 798.3 340.0)" fill="#c0c9c3" opacity="0.75"/><ellipse cx="746.1" cy="397.2" rx="4.9" ry="2.5" transform="rotate(48 746.1 397.2)" fill="#b8c2bc" opacity="0.75"/><ellipse cx="794.2" cy="462.3" rx="3.1" ry="2.7" transform="rotate(76 794.2 462.3)" fill="#b8c2bc" opacity="0.75"/><ellipse cx="781.0" cy="474.9" rx="4.7" ry="2.1" transform="rotate(149 781.0 474.9)" fill="#c6cec9" opacity="0.75"/><ellipse cx="871.0" cy="419.1" rx="5.0" ry="2.6" transform="rotate(104 871.0 419.1)" fill="#c0c9c3" opacity="0.75"/><ellipse cx="785.3" cy="357.8" rx="3.8" ry="2.5" transform="rotate(61 785.3 357.8)" fill="#b0bab4" opacity="0.75"/><ellipse cx="798.2" cy="332.6" rx="2.8" ry="2.8" transform="rotate(6 798.2 332.6)" fill="#a9b3ad" opacity="0.75"/><ellipse cx="738.1" cy="423.9" rx="4.6" ry="2.7" transform="rotate(125 738.1 423.9)" fill="#b8c2bc" opacity="0.75"/><ellipse cx="731.9" cy="449.4" rx="3.9" ry="1.7" transform="rotate(154 731.9 449.4)" fill="#b0bab4" opacity="0.75"/><ellipse cx="750.5" cy="414.3" rx="2.8" ry="1.7" transform="rotate(7 750.5 414.3)" fill="#a9b3ad" opacity="0.75"/><ellipse cx="826.3" cy="470.7" rx="4.8" ry="2.2" transform="rotate(37 826.3 470.7)" fill="#b0bab4" opacity="0.75"/><ellipse cx="741.0" cy="453.1" rx="4.0" ry="1.8" transform="rotate(7 741.0 453.1)" fill="#c0c9c3" opacity="0.75"/><ellipse cx="769.5" cy="464.0" rx="4.9" ry="2.0" transform="rotate(168 769.5 464.0)" fill="#b0bab4" opacity="0.75"/><ellipse cx="742.8" cy="423.2" rx="2.7" ry="1.8" transform="rotate(44 742.8 423.2)" fill="#b0bab4" opacity="0.75"/><ellipse cx="768.1" cy="351.9" rx="4.4" ry="1.5" transform="rotate(45 768.1 351.9)" fill="#a9b3ad" opacity="0.75"/><ellipse cx="723.8" cy="412.8" rx="4.7" ry="2.4" transform="rotate(142 723.8 412.8)" fill="#a9b3ad" opacity="0.75"/><ellipse cx="802.8" cy="483.6" rx="4.3" ry="2.1" transform="rotate(95 802.8 483.6)" fill="#a9b3ad" opacity="0.75"/><ellipse cx="859.1" cy="443.6" rx="4.8" ry="1.8" transform="rotate(104 859.1 443.6)" fill="#c0c9c3" opacity="0.75"/><ellipse cx="736.1" cy="369.2" rx="2.8" ry="2.4" transform="rotate(58 736.1 369.2)" fill="#c0c9c3" opacity="0.75"/><ellipse cx="803.9" cy="333.8" rx="3.4" ry="2.3" transform="rotate(4 803.9 333.8)" fill="#c6cec9" opacity="0.75"/><ellipse cx="804.9" cy="473.2" rx="5.2" ry="2.6" transform="rotate(175 804.9 473.2)" fill="#c0c9c3" opacity="0.75"/><ellipse cx="803.7" cy="343.0" rx="4.1" ry="1.6" transform="rotate(149 803.7 343.0)" fill="#a9b3ad" opacity="0.75"/><ellipse cx="746.0" cy="391.4" rx="2.7" ry="1.8" transform="rotate(180 746.0 391.4)" fill="#c0c9c3" opacity="0.75"/><ellipse cx="760.3" cy="401.0" rx="4.2" ry="2.2" transform="rotate(157 760.3 401.0)" fill="#b8c2bc" opacity="0.75"/><ellipse cx="791.1" cy="469.9" rx="4.8" ry="1.7" transform="rotate(114 791.1 469.9)" fill="#a9b3ad" opacity="0.75"/><ellipse cx="808.8" cy="342.1" rx="3.1" ry="2.7" transform="rotate(22 808.8 342.1)" fill="#c0c9c3" opacity="0.75"/><ellipse cx="871.4" cy="439.3" rx="4.1" ry="2.5" transform="rotate(10 871.4 439.3)" fill="#a9b3ad" opacity="0.75"/><ellipse cx="747.8" cy="357.3" rx="2.8" ry="2.4" transform="rotate(39 747.8 357.3)" fill="#c0c9c3" opacity="0.75"/><ellipse cx="780.4" cy="481.8" rx="4.8" ry="1.5" transform="rotate(152 780.4 481.8)" fill="#c0c9c3" opacity="0.75"/><ellipse cx="838.1" cy="454.6" rx="4.7" ry="1.8" transform="rotate(68 838.1 454.6)" fill="#c0c9c3" opacity="0.75"/><ellipse cx="807.7" cy="335.5" rx="3.9" ry="1.8" transform="rotate(26 807.7 335.5)" fill="#a9b3ad" opacity="0.75"/><ellipse cx="759.0" cy="394.7" rx="2.8" ry="1.9" transform="rotate(108 759.0 394.7)" fill="#b8c2bc" opacity="0.75"/><ellipse cx="746.4" cy="464.7" rx="5.2" ry="2.1" transform="rotate(120 746.4 464.7)" fill="#c0c9c3" opacity="0.75"/><ellipse cx="737.4" cy="427.1" rx="3.0" ry="2.8" transform="rotate(9 737.4 427.1)" fill="#b8c2bc" opacity="0.75"/><ellipse cx="814.9" cy="345.9" rx="3.6" ry="2.2" transform="rotate(53 814.9 345.9)" fill="#c6cec9" opacity="0.75"/><ellipse cx="783.7" cy="444.7" rx="3.8" ry="1.7" transform="rotate(72 783.7 444.7)" fill="#c6cec9" opacity="0.75"/><ellipse cx="857.9" cy="442.1" rx="4.7" ry="1.9" transform="rotate(80 857.9 442.1)" fill="#b8c2bc" opacity="0.75"/><ellipse cx="726.0" cy="428.2" rx="3.9" ry="2.1" transform="rotate(11 726.0 428.2)" fill="#c6cec9" opacity="0.75"/><ellipse cx="800.5" cy="457.6" rx="2.7" ry="2.3" transform="rotate(22 800.5 457.6)" fill="#c0c9c3" opacity="0.75"/><ellipse cx="804.6" cy="348.3" rx="4.5" ry="1.5" transform="rotate(143 804.6 348.3)" fill="#b0bab4" opacity="0.75"/><ellipse cx="873.6" cy="408.5" rx="2.8" ry="2.5" transform="rotate(39 873.6 408.5)" fill="#a9b3ad" opacity="0.75"/><ellipse cx="872.5" cy="441.0" rx="4.7" ry="1.8" transform="rotate(104 872.5 441.0)" fill="#b8c2bc" opacity="0.75"/><ellipse cx="792.9" cy="463.6" rx="3.1" ry="2.7" transform="rotate(155 792.9 463.6)" fill="#c0c9c3" opacity="0.75"/><ellipse cx="771.5" cy="433.8" rx="3.3" ry="2.3" transform="rotate(141 771.5 433.8)" fill="#b8c2bc" opacity="0.75"/><ellipse cx="782.7" cy="340.4" rx="5.2" ry="2.8" transform="rotate(147 782.7 340.4)" fill="#c0c9c3" opacity="0.75"/><ellipse cx="775.1" cy="437.0" rx="2.7" ry="1.8" transform="rotate(114 775.1 437.0)" fill="#a9b3ad" opacity="0.75"/><ellipse cx="809.1" cy="459.3" rx="4.4" ry="1.5" transform="rotate(74 809.1 459.3)" fill="#c0c9c3" opacity="0.75"/><ellipse cx="750.3" cy="447.7" rx="4.3" ry="2.5" transform="rotate(161 750.3 447.7)" fill="#a9b3ad" opacity="0.75"/><ellipse cx="797.9" cy="455.7" rx="3.9" ry="2.0" transform="rotate(77 797.9 455.7)" fill="#b0bab4" opacity="0.75"/><ellipse cx="805.1" cy="467.6" rx="4.6" ry="1.8" transform="rotate(46 805.1 467.6)" fill="#c0c9c3" opacity="0.75"/><ellipse cx="766.4" cy="405.1" rx="3.4" ry="2.5" transform="rotate(82 766.4 405.1)" fill="#c0c9c3" opacity="0.75"/><ellipse cx="755.8" cy="387.3" rx="4.0" ry="2.4" transform="rotate(114 755.8 387.3)" fill="#c0c9c3" opacity="0.75"/><ellipse cx="778.1" cy="482.8" rx="5.0" ry="1.7" transform="rotate(30 778.1 482.8)" fill="#c6cec9" opacity="0.75"/><ellipse cx="845.6" cy="468.6" rx="3.6" ry="1.7" transform="rotate(19 845.6 468.6)" fill="#c0c9c3" opacity="0.75"/><ellipse cx="747.6" cy="385.3" rx="2.6" ry="1.7" transform="rotate(172 747.6 385.3)" fill="#b0bab4" opacity="0.75"/><ellipse cx="771.9" cy="447.4" rx="3.4" ry="2.3" transform="rotate(106 771.9 447.4)" fill="#b8c2bc" opacity="0.75"/><ellipse cx="800.0" cy="339.9" rx="4.5" ry="1.9" transform="rotate(43 800.0 339.9)" fill="#b0bab4" opacity="0.75"/><ellipse cx="781.5" cy="442.1" rx="4.3" ry="2.5" transform="rotate(145 781.5 442.1)" fill="#b0bab4" opacity="0.75"/><ellipse cx="740.3" cy="396.5" rx="4.7" ry="2.4" transform="rotate(55 740.3 396.5)" fill="#c6cec9" opacity="0.75"/><ellipse cx="835.9" cy="340.4" rx="5.2" ry="2.5" transform="rotate(168 835.9 340.4)" fill="#b8c2bc" opacity="0.75"/><ellipse cx="753.0" cy="417.1" rx="2.8" ry="2.6" transform="rotate(81 753.0 417.1)" fill="#b8c2bc" opacity="0.75"/><ellipse cx="748.5" cy="363.3" rx="3.6" ry="2.4" transform="rotate(39 748.5 363.3)" fill="#a9b3ad" opacity="0.75"/><ellipse cx="861.0" cy="462.0" rx="3.4" ry="2.2" transform="rotate(133 861.0 462.0)" fill="#a9b3ad" opacity="0.75"/><ellipse cx="791.4" cy="486.4" rx="2.6" ry="2.1" transform="rotate(56 791.4 486.4)" fill="#b0bab4" opacity="0.75"/><ellipse cx="836.5" cy="453.9" rx="4.0" ry="2.0" transform="rotate(44 836.5 453.9)" fill="#a9b3ad" opacity="0.75"/><ellipse cx="848.2" cy="456.5" rx="3.7" ry="1.5" transform="rotate(70 848.2 456.5)" fill="#b0bab4" opacity="0.75"/><ellipse cx="828.5" cy="458.3" rx="2.7" ry="2.3" transform="rotate(177 828.5 458.3)" fill="#b0bab4" opacity="0.75"/><ellipse cx="796.6" cy="480.8" rx="4.5" ry="2.3" transform="rotate(158 796.6 480.8)" fill="#b8c2bc" opacity="0.75"/><ellipse cx="808.4" cy="340.5" rx="5.0" ry="1.7" transform="rotate(122 808.4 340.5)" fill="#b8c2bc" opacity="0.75"/><ellipse cx="748.6" cy="395.9" rx="4.9" ry="1.9" transform="rotate(86 748.6 395.9)" fill="#c6cec9" opacity="0.75"/><ellipse cx="793.2" cy="460.3" rx="2.8" ry="2.1" transform="rotate(44 793.2 460.3)" fill="#b0bab4" opacity="0.75"/><ellipse cx="870.5" cy="407.6" rx="3.3" ry="2.4" transform="rotate(164 870.5 407.6)" fill="#c0c9c3" opacity="0.75"/><ellipse cx="736.2" cy="435.5" rx="5.0" ry="1.9" transform="rotate(88 736.2 435.5)" fill="#a9b3ad" opacity="0.75"/><ellipse cx="807.2" cy="333.7" rx="3.5" ry="2.7" transform="rotate(69 807.2 333.7)" fill="#c6cec9" opacity="0.75"/><ellipse cx="761.2" cy="440.7" rx="3.4" ry="2.7" transform="rotate(92 761.2 440.7)" fill="#b8c2bc" opacity="0.75"/><ellipse cx="843.4" cy="345.4" rx="3.5" ry="2.1" transform="rotate(63 843.4 345.4)" fill="#b0bab4" opacity="0.75"/><ellipse cx="740.3" cy="422.1" rx="4.7" ry="2.4" transform="rotate(138 740.3 422.1)" fill="#b8c2bc" opacity="0.75"/><ellipse cx="772.6" cy="482.7" rx="4.0" ry="2.1" transform="rotate(64 772.6 482.7)" fill="#c0c9c3" opacity="0.75"/><ellipse cx="879.5" cy="403.1" rx="3.6" ry="1.5" transform="rotate(30 879.5 403.1)" fill="#c6cec9" opacity="0.75"/><ellipse cx="763.8" cy="373.7" rx="2.7" ry="1.8" transform="rotate(29 763.8 373.7)" fill="#b0bab4" opacity="0.75"/><ellipse cx="878.9" cy="423.8" rx="4.6" ry="1.5" transform="rotate(85 878.9 423.8)" fill="#b8c2bc" opacity="0.75"/><ellipse cx="874.4" cy="413.0" rx="3.5" ry="2.7" transform="rotate(156 874.4 413.0)" fill="#c0c9c3" opacity="0.75"/><ellipse cx="797.4" cy="343.1" rx="4.9" ry="1.7" transform="rotate(136 797.4 343.1)" fill="#c6cec9" opacity="0.75"/><ellipse cx="734.1" cy="441.7" rx="5.0" ry="2.5" transform="rotate(179 734.1 441.7)" fill="#a9b3ad" opacity="0.75"/><ellipse cx="732.4" cy="387.8" rx="4.3" ry="2.6" transform="rotate(146 732.4 387.8)" fill="#c6cec9" opacity="0.75"/><ellipse cx="734.7" cy="441.2" rx="3.2" ry="2.1" transform="rotate(98 734.7 441.2)" fill="#c6cec9" opacity="0.75"/><ellipse cx="733.2" cy="398.3" rx="3.0" ry="2.1" transform="rotate(10 733.2 398.3)" fill="#a9b3ad" opacity="0.75"/><ellipse cx="743.4" cy="360.6" rx="5.0" ry="1.6" transform="rotate(52 743.4 360.6)" fill="#c0c9c3" opacity="0.75"/><ellipse cx="729.7" cy="409.5" rx="4.3" ry="2.5" transform="rotate(132 729.7 409.5)" fill="#b8c2bc" opacity="0.75"/><ellipse cx="761.3" cy="427.9" rx="5.0" ry="1.8" transform="rotate(176 761.3 427.9)" fill="#c6cec9" opacity="0.75"/><ellipse cx="758.7" cy="384.3" rx="4.0" ry="1.8" transform="rotate(78 758.7 384.3)" fill="#b0bab4" opacity="0.75"/><ellipse cx="737.8" cy="400.6" rx="3.2" ry="2.2" transform="rotate(102 737.8 400.6)" fill="#b0bab4" opacity="0.75"/><ellipse cx="764.2" cy="368.4" rx="2.7" ry="1.8" transform="rotate(67 764.2 368.4)" fill="#b8c2bc" opacity="0.75"/><ellipse cx="783.3" cy="472.6" rx="3.8" ry="2.7" transform="rotate(154 783.3 472.6)" fill="#c6cec9" opacity="0.75"/><ellipse cx="748.6" cy="415.9" rx="4.1" ry="2.5" transform="rotate(21 748.6 415.9)" fill="#a9b3ad" opacity="0.75"/><ellipse cx="733.0" cy="402.9" rx="2.9" ry="2.7" transform="rotate(38 733.0 402.9)" fill="#b0bab4" opacity="0.75"/><ellipse cx="792.7" cy="460.3" rx="2.8" ry="2.2" transform="rotate(162 792.7 460.3)" fill="#b8c2bc" opacity="0.75"/><ellipse cx="780.4" cy="354.3" rx="4.8" ry="2.4" transform="rotate(150 780.4 354.3)" fill="#a9b3ad" opacity="0.75"/><ellipse cx="773.3" cy="354.0" rx="3.2" ry="2.3" transform="rotate(86 773.3 354.0)" fill="#b0bab4" opacity="0.75"/><ellipse cx="833.2" cy="344.8" rx="5.2" ry="2.4" transform="rotate(40 833.2 344.8)" fill="#b0bab4" opacity="0.75"/><ellipse cx="727.8" cy="438.6" rx="5.0" ry="1.9" transform="rotate(148 727.8 438.6)" fill="#a9b3ad" opacity="0.75"/><ellipse cx="778.2" cy="347.8" rx="3.8" ry="2.4" transform="rotate(44 778.2 347.8)" fill="#b0bab4" opacity="0.75"/><ellipse cx="753.2" cy="425.9" rx="4.3" ry="2.7" transform="rotate(32 753.2 425.9)" fill="#c6cec9" opacity="0.75"/><ellipse cx="747.4" cy="383.8" rx="3.7" ry="1.7" transform="rotate(118 747.4 383.8)" fill="#b0bab4" opacity="0.75"/><ellipse cx="823.1" cy="476.8" rx="4.3" ry="2.5" transform="rotate(87 823.1 476.8)" fill="#c0c9c3" opacity="0.75"/><ellipse cx="877.8" cy="419.4" rx="3.0" ry="2.3" transform="rotate(111 877.8 419.4)" fill="#b0bab4" opacity="0.75"/><ellipse cx="877.9" cy="423.0" rx="4.5" ry="1.7" transform="rotate(178 877.9 423.0)" fill="#b0bab4" opacity="0.75"/><ellipse cx="734.6" cy="369.4" rx="4.0" ry="2.0" transform="rotate(28 734.6 369.4)" fill="#b0bab4" opacity="0.75"/><ellipse cx="793.8" cy="459.6" rx="2.7" ry="2.2" transform="rotate(14 793.8 459.6)" fill="#c0c9c3" opacity="0.75"/><ellipse cx="754.9" cy="469.1" rx="2.8" ry="2.4" transform="rotate(96 754.9 469.1)" fill="#c6cec9" opacity="0.75"/><ellipse cx="879.8" cy="402.5" rx="3.6" ry="1.6" transform="rotate(95 879.8 402.5)" fill="#c0c9c3" opacity="0.75"/><ellipse cx="751.4" cy="410.5" rx="3.2" ry="2.2" transform="rotate(160 751.4 410.5)" fill="#c0c9c3" opacity="0.75"/><ellipse cx="798.2" cy="340.4" rx="3.0" ry="1.5" transform="rotate(131 798.2 340.4)" fill="#b8c2bc" opacity="0.75"/><ellipse cx="867.8" cy="446.9" rx="3.9" ry="2.1" transform="rotate(46 867.8 446.9)" fill="#a9b3ad" opacity="0.75"/><ellipse cx="837.1" cy="465.8" rx="4.6" ry="2.5" transform="rotate(39 837.1 465.8)" fill="#c6cec9" opacity="0.75"/><ellipse cx="750.3" cy="462.6" rx="4.7" ry="2.4" transform="rotate(2 750.3 462.6)" fill="#c6cec9" opacity="0.75"/><ellipse cx="841.0" cy="351.3" rx="4.7" ry="2.8" transform="rotate(46 841.0 351.3)" fill="#b8c2bc" opacity="0.75"/><ellipse cx="758.8" cy="440.5" rx="2.8" ry="2.2" transform="rotate(93 758.8 440.5)" fill="#c6cec9" opacity="0.75"/><ellipse cx="840.6" cy="345.2" rx="4.5" ry="2.7" transform="rotate(124 840.6 345.2)" fill="#c0c9c3" opacity="0.75"/><ellipse cx="767.1" cy="431.3" rx="2.7" ry="2.4" transform="rotate(89 767.1 431.3)" fill="#c0c9c3" opacity="0.75"/><ellipse cx="825.7" cy="338.9" rx="3.1" ry="1.8" transform="rotate(117 825.7 338.9)" fill="#c0c9c3" opacity="0.75"/><ellipse cx="742.7" cy="407.4" rx="4.7" ry="1.5" transform="rotate(132 742.7 407.4)" fill="#b8c2bc" opacity="0.75"/><ellipse cx="838.4" cy="472.8" rx="4.4" ry="2.5" transform="rotate(27 838.4 472.8)" fill="#c0c9c3" opacity="0.75"/><ellipse cx="879.6" cy="397.5" rx="3.3" ry="2.6" transform="rotate(140 879.6 397.5)" fill="#b8c2bc" opacity="0.75"/><ellipse cx="839.4" cy="473.9" rx="5.2" ry="2.0" transform="rotate(2 839.4 473.9)" fill="#a9b3ad" opacity="0.75"/><ellipse cx="763.3" cy="479.3" rx="3.6" ry="2.6" transform="rotate(98 763.3 479.3)" fill="#b8c2bc" opacity="0.75"/><ellipse cx="765.9" cy="453.7" rx="3.5" ry="2.0" transform="rotate(101 765.9 453.7)" fill="#b0bab4" opacity="0.75"/><ellipse cx="829.4" cy="344.1" rx="2.9" ry="2.2" transform="rotate(57 829.4 344.1)" fill="#b0bab4" opacity="0.75"/><ellipse cx="745.9" cy="374.8" rx="5.1" ry="2.0" transform="rotate(50 745.9 374.8)" fill="#c6cec9" opacity="0.75"/><ellipse cx="756.9" cy="403.8" rx="3.8" ry="1.8" transform="rotate(29 756.9 403.8)" fill="#b8c2bc" opacity="0.75"/><ellipse cx="839.3" cy="470.4" rx="4.6" ry="2.1" transform="rotate(180 839.3 470.4)" fill="#b0bab4" opacity="0.75"/><ellipse cx="780.2" cy="476.1" rx="2.8" ry="2.2" transform="rotate(0 780.2 476.1)" fill="#b8c2bc" opacity="0.75"/><ellipse cx="867.8" cy="385.4" rx="4.0" ry="2.5" transform="rotate(170 867.8 385.4)" fill="#c6cec9" opacity="0.75"/><ellipse cx="790.0" cy="460.6" rx="2.9" ry="1.9" transform="rotate(50 790.0 460.6)" fill="#b0bab4" opacity="0.75"/><ellipse cx="798.0" cy="453.5" rx="5.2" ry="2.7" transform="rotate(19 798.0 453.5)" fill="#b0bab4" opacity="0.75"/><ellipse cx="859.9" cy="448.0" rx="4.4" ry="2.8" transform="rotate(128 859.9 448.0)" fill="#c0c9c3" opacity="0.75"/><ellipse cx="829.8" cy="340.2" rx="3.5" ry="2.2" transform="rotate(144 829.8 340.2)" fill="#c0c9c3" opacity="0.75"/><ellipse cx="838.2" cy="470.6" rx="3.9" ry="2.7" transform="rotate(53 838.2 470.6)" fill="#b8c2bc" opacity="0.75"/><ellipse cx="818.7" cy="460.2" rx="3.4" ry="1.5" transform="rotate(159 818.7 460.2)" fill="#a9b3ad" opacity="0.75"/><ellipse cx="781.5" cy="477.1" rx="3.8" ry="2.4" transform="rotate(104 781.5 477.1)" fill="#a9b3ad" opacity="0.75"/><ellipse cx="828.1" cy="471.3" rx="3.3" ry="1.9" transform="rotate(59 828.1 471.3)" fill="#c0c9c3" opacity="0.75"/><ellipse cx="880.7" cy="416.3" rx="4.3" ry="1.7" transform="rotate(78 880.7 416.3)" fill="#c0c9c3" opacity="0.75"/><ellipse cx="786.3" cy="455.9" rx="2.9" ry="2.5" transform="rotate(140 786.3 455.9)" fill="#b8c2bc" opacity="0.75"/><ellipse cx="826.2" cy="486.9" rx="3.2" ry="2.2" transform="rotate(36 826.2 486.9)" fill="#b0bab4" opacity="0.75"/><ellipse cx="763.8" cy="478.5" rx="3.8" ry="2.7" transform="rotate(132 763.8 478.5)" fill="#c6cec9" opacity="0.75"/><ellipse cx="768.0" cy="362.5" rx="3.5" ry="1.8" transform="rotate(102 768.0 362.5)" fill="#b8c2bc" opacity="0.75"/><ellipse cx="835.0" cy="458.4" rx="4.1" ry="2.1" transform="rotate(82 835.0 458.4)" fill="#b8c2bc" opacity="0.75"/><ellipse cx="734.1" cy="432.5" rx="4.1" ry="1.6" transform="rotate(118 734.1 432.5)" fill="#a9b3ad" opacity="0.75"/><ellipse cx="866.3" cy="435.1" rx="5.2" ry="2.8" transform="rotate(138 866.3 435.1)" fill="#b0bab4" opacity="0.75"/><ellipse cx="823.3" cy="345.7" rx="4.7" ry="1.6" transform="rotate(59 823.3 345.7)" fill="#c0c9c3" opacity="0.75"/><ellipse cx="723.0" cy="402.0" rx="4.6" ry="1.7" transform="rotate(2 723.0 402.0)" fill="#a9b3ad" opacity="0.75"/><ellipse cx="876.1" cy="391.3" rx="4.1" ry="2.3" transform="rotate(87 876.1 391.3)" fill="#b8c2bc" opacity="0.75"/><ellipse cx="767.1" cy="375.7" rx="3.4" ry="2.6" transform="rotate(103 767.1 375.7)" fill="#a9b3ad" opacity="0.75"/><ellipse cx="722.2" cy="410.2" rx="4.4" ry="2.6" transform="rotate(47 722.2 410.2)" fill="#a9b3ad" opacity="0.75"/><ellipse cx="827.1" cy="457.1" rx="4.1" ry="1.9" transform="rotate(1 827.1 457.1)" fill="#b0bab4" opacity="0.75"/><ellipse cx="775.3" cy="447.6" rx="4.7" ry="1.9" transform="rotate(27 775.3 447.6)" fill="#c0c9c3" opacity="0.75"/><ellipse cx="835.6" cy="482.5" rx="3.7" ry="2.1" transform="rotate(57 835.6 482.5)" fill="#b8c2bc" opacity="0.75"/><ellipse cx="771.8" cy="484.2" rx="3.0" ry="2.4" transform="rotate(83 771.8 484.2)" fill="#b0bab4" opacity="0.75"/><ellipse cx="812.4" cy="457.9" rx="3.6" ry="2.2" transform="rotate(39 812.4 457.9)" fill="#b8c2bc" opacity="0.75"/><ellipse cx="871.4" cy="389.4" rx="3.9" ry="2.5" transform="rotate(58 871.4 389.4)" fill="#b8c2bc" opacity="0.75"/><ellipse cx="742.7" cy="437.6" rx="5.1" ry="2.0" transform="rotate(73 742.7 437.6)" fill="#b8c2bc" opacity="0.75"/><ellipse cx="769.9" cy="471.1" rx="5.1" ry="2.6" transform="rotate(42 769.9 471.1)" fill="#b0bab4" opacity="0.75"/><ellipse cx="780.6" cy="452.8" rx="2.9" ry="2.6" transform="rotate(119 780.6 452.8)" fill="#b0bab4" opacity="0.75"/><ellipse cx="766.3" cy="451.6" rx="3.8" ry="2.4" transform="rotate(112 766.3 451.6)" fill="#c0c9c3" opacity="0.75"/><ellipse cx="771.5" cy="424.7" rx="3.0" ry="1.6" transform="rotate(107 771.5 424.7)" fill="#a9b3ad" opacity="0.75"/><ellipse cx="877.3" cy="409.6" rx="5.2" ry="2.1" transform="rotate(97 877.3 409.6)" fill="#a9b3ad" opacity="0.75"/><ellipse cx="801.7" cy="479.6" rx="4.3" ry="2.6" transform="rotate(36 801.7 479.6)" fill="#c0c9c3" opacity="0.75"/><ellipse cx="769.1" cy="473.3" rx="3.6" ry="2.0" transform="rotate(38 769.1 473.3)" fill="#b8c2bc" opacity="0.75"/><ellipse cx="876.8" cy="429.8" rx="2.9" ry="2.8" transform="rotate(80 876.8 429.8)" fill="#a9b3ad" opacity="0.75"/><ellipse cx="842.6" cy="444.8" rx="4.0" ry="1.9" transform="rotate(11 842.6 444.8)" fill="#b8c2bc" opacity="0.75"/><ellipse cx="867.3" cy="443.3" rx="4.3" ry="2.3" transform="rotate(137 867.3 443.3)" fill="#b0bab4" opacity="0.75"/><ellipse cx="792.1" cy="465.4" rx="4.5" ry="1.9" transform="rotate(8 792.1 465.4)" fill="#c0c9c3" opacity="0.75"/><ellipse cx="743.7" cy="377.7" rx="3.5" ry="1.9" transform="rotate(169 743.7 377.7)" fill="#b8c2bc" opacity="0.75"/><ellipse cx="732.7" cy="441.4" rx="3.3" ry="1.8" transform="rotate(135 732.7 441.4)" fill="#c6cec9" opacity="0.75"/><ellipse cx="740.2" cy="434.3" rx="2.6" ry="2.3" transform="rotate(66 740.2 434.3)" fill="#c6cec9" opacity="0.75"/><ellipse cx="815.4" cy="457.1" rx="4.2" ry="1.9" transform="rotate(60 815.4 457.1)" fill="#c6cec9" opacity="0.75"/><ellipse cx="774.8" cy="456.0" rx="2.8" ry="2.5" transform="rotate(78 774.8 456.0)" fill="#a9b3ad" opacity="0.75"/><ellipse cx="872.4" cy="380.8" rx="4.7" ry="2.5" transform="rotate(33 872.4 380.8)" fill="#b8c2bc" opacity="0.75"/><ellipse cx="858.4" cy="451.3" rx="3.2" ry="2.0" transform="rotate(163 858.4 451.3)" fill="#c0c9c3" opacity="0.75"/><ellipse cx="762.7" cy="361.9" rx="3.1" ry="2.1" transform="rotate(52 762.7 361.9)" fill="#c0c9c3" opacity="0.75"/><ellipse cx="817.9" cy="344.4" rx="3.8" ry="2.1" transform="rotate(8 817.9 344.4)" fill="#c0c9c3" opacity="0.75"/><ellipse cx="759.4" cy="397.3" rx="4.2" ry="2.2" transform="rotate(24 759.4 397.3)" fill="#c0c9c3" opacity="0.75"/><ellipse cx="812.7" cy="456.4" rx="4.1" ry="2.4" transform="rotate(122 812.7 456.4)" fill="#c0c9c3" opacity="0.75"/><ellipse cx="802.1" cy="488.5" rx="3.2" ry="2.6" transform="rotate(26 802.1 488.5)" fill="#a9b3ad" opacity="0.75"/><ellipse cx="748.1" cy="359.9" rx="4.1" ry="2.0" transform="rotate(151 748.1 359.9)" fill="#c0c9c3" opacity="0.75"/><ellipse cx="765.6" cy="371.5" rx="4.5" ry="1.6" transform="rotate(52 765.6 371.5)" fill="#b0bab4" opacity="0.75"/><ellipse cx="839.3" cy="463.6" rx="5.1" ry="2.7" transform="rotate(69 839.3 463.6)" fill="#b8c2bc" opacity="0.75"/><ellipse cx="803.6" cy="485.6" rx="2.6" ry="2.4" transform="rotate(94 803.6 485.6)" fill="#b8c2bc" opacity="0.75"/><ellipse cx="868.4" cy="408.8" rx="2.8" ry="2.1" transform="rotate(99 868.4 408.8)" fill="#a9b3ad" opacity="0.75"/><ellipse cx="848.4" cy="461.1" rx="3.0" ry="1.8" transform="rotate(115 848.4 461.1)" fill="#a9b3ad" opacity="0.75"/><ellipse cx="854.4" cy="457.3" rx="2.6" ry="2.6" transform="rotate(179 854.4 457.3)" fill="#b0bab4" opacity="0.75"/><ellipse cx="739.7" cy="460.0" rx="5.2" ry="2.0" transform="rotate(18 739.7 460.0)" fill="#b8c2bc" opacity="0.75"/><ellipse cx="862.3" cy="365.3" rx="3.9" ry="1.5" transform="rotate(32 862.3 365.3)" fill="#a9b3ad" opacity="0.75"/><ellipse cx="761.2" cy="464.3" rx="4.9" ry="1.6" transform="rotate(176 761.2 464.3)" fill="#b0bab4" opacity="0.75"/><ellipse cx="850.1" cy="449.1" rx="2.7" ry="1.8" transform="rotate(118 850.1 449.1)" fill="#a9b3ad" opacity="0.75"/><ellipse cx="847.7" cy="347.6" rx="4.5" ry="1.6" transform="rotate(129 847.7 347.6)" fill="#b8c2bc" opacity="0.75"/><ellipse cx="744.8" cy="436.7" rx="3.3" ry="2.3" transform="rotate(162 744.8 436.7)" fill="#a9b3ad" opacity="0.75"/><ellipse cx="800.1" cy="345.2" rx="4.4" ry="2.2" transform="rotate(114 800.1 345.2)" fill="#b0bab4" opacity="0.75"/><ellipse cx="734.1" cy="368.7" rx="3.8" ry="2.2" transform="rotate(17 734.1 368.7)" fill="#c0c9c3" opacity="0.75"/><ellipse cx="834.6" cy="453.1" rx="2.8" ry="2.7" transform="rotate(120 834.6 453.1)" fill="#b0bab4" opacity="0.75"/><ellipse cx="743.1" cy="395.7" rx="3.0" ry="2.0" transform="rotate(84 743.1 395.7)" fill="#b8c2bc" opacity="0.75"/><ellipse cx="766.8" cy="374.7" rx="3.0" ry="2.3" transform="rotate(152 766.8 374.7)" fill="#a9b3ad" opacity="0.75"/><ellipse cx="729.9" cy="429.9" rx="3.2" ry="1.9" transform="rotate(135 729.9 429.9)" fill="#c6cec9" opacity="0.75"/><ellipse cx="863.1" cy="434.1" rx="3.4" ry="2.7" transform="rotate(1 863.1 434.1)" fill="#a9b3ad" opacity="0.75"/><ellipse cx="827.3" cy="334.4" rx="5.0" ry="1.7" transform="rotate(128 827.3 334.4)" fill="#a9b3ad" opacity="0.75"/><ellipse cx="777.3" cy="365.2" rx="4.4" ry="1.9" transform="rotate(10 777.3 365.2)" fill="#b8c2bc" opacity="0.75"/><ellipse cx="753.0" cy="404.0" rx="3.1" ry="1.6" transform="rotate(71 753.0 404.0)" fill="#a9b3ad" opacity="0.75"/><ellipse cx="727.8" cy="389.8" rx="5.0" ry="2.5" transform="rotate(17 727.8 389.8)" fill="#c6cec9" opacity="0.75"/><ellipse cx="725.6" cy="427.4" rx="3.4" ry="2.1" transform="rotate(77 725.6 427.4)" fill="#c0c9c3" opacity="0.75"/><ellipse cx="749.7" cy="453.2" rx="4.4" ry="2.2" transform="rotate(57 749.7 453.2)" fill="#b8c2bc" opacity="0.75"/><ellipse cx="784.3" cy="487.1" rx="4.9" ry="2.2" transform="rotate(122 784.3 487.1)" fill="#c6cec9" opacity="0.75"/><ellipse cx="773.7" cy="358.0" rx="3.7" ry="2.2" transform="rotate(154 773.7 358.0)" fill="#c0c9c3" opacity="0.75"/><ellipse cx="736.1" cy="386.6" rx="5.0" ry="1.5" transform="rotate(12 736.1 386.6)" fill="#b0bab4" opacity="0.75"/><ellipse cx="870.7" cy="403.3" rx="5.1" ry="2.4" transform="rotate(179 870.7 403.3)" fill="#c6cec9" opacity="0.75"/><ellipse cx="763.1" cy="472.9" rx="2.9" ry="1.7" transform="rotate(96 763.1 472.9)" fill="#c0c9c3" opacity="0.75"/><ellipse cx="823.5" cy="349.1" rx="4.1" ry="1.7" transform="rotate(18 823.5 349.1)" fill="#c0c9c3" opacity="0.75"/><ellipse cx="742.6" cy="367.4" rx="4.2" ry="2.2" transform="rotate(161 742.6 367.4)" fill="#b8c2bc" opacity="0.75"/><ellipse cx="876.8" cy="381.6" rx="2.8" ry="2.3" transform="rotate(120 876.8 381.6)" fill="#b0bab4" opacity="0.75"/><ellipse cx="828.7" cy="343.1" rx="5.1" ry="1.7" transform="rotate(34 828.7 343.1)" fill="#c0c9c3" opacity="0.75"/><ellipse cx="790.2" cy="453.6" rx="4.3" ry="2.6" transform="rotate(179 790.2 453.6)" fill="#b0bab4" opacity="0.75"/><ellipse cx="785.6" cy="442.4" rx="4.9" ry="1.8" transform="rotate(82 785.6 442.4)" fill="#a9b3ad" opacity="0.75"/><ellipse cx="808.1" cy="477.8" rx="3.1" ry="2.7" transform="rotate(18 808.1 477.8)" fill="#a9b3ad" opacity="0.75"/><ellipse cx="851.3" cy="446.9" rx="4.1" ry="1.7" transform="rotate(152 851.3 446.9)" fill="#b0bab4" opacity="0.75"/><ellipse cx="845.5" cy="474.9" rx="3.4" ry="1.8" transform="rotate(119 845.5 474.9)" fill="#b8c2bc" opacity="0.75"/><ellipse cx="805.9" cy="469.4" rx="4.7" ry="2.5" transform="rotate(18 805.9 469.4)" fill="#b0bab4" opacity="0.75"/><ellipse cx="746.5" cy="424.7" rx="3.0" ry="2.1" transform="rotate(8 746.5 424.7)" fill="#b0bab4" opacity="0.75"/><ellipse cx="880.9" cy="421.9" rx="3.6" ry="2.1" transform="rotate(135 880.9 421.9)" fill="#c6cec9" opacity="0.75"/><ellipse cx="774.7" cy="447.5" rx="4.4" ry="1.9" transform="rotate(103 774.7 447.5)" fill="#a9b3ad" opacity="0.75"/><ellipse cx="863.8" cy="460.2" rx="3.0" ry="1.5" transform="rotate(104 863.8 460.2)" fill="#c0c9c3" opacity="0.75"/><ellipse cx="741.1" cy="406.6" rx="5.2" ry="2.6" transform="rotate(140 741.1 406.6)" fill="#c6cec9" opacity="0.75"/><ellipse cx="806.6" cy="333.9" rx="2.7" ry="1.8" transform="rotate(72 806.6 333.9)" fill="#b8c2bc" opacity="0.75"/><ellipse cx="797.4" cy="336.5" rx="4.3" ry="1.6" transform="rotate(75 797.4 336.5)" fill="#a9b3ad" opacity="0.75"/><ellipse cx="755.8" cy="439.0" rx="4.8" ry="1.5" transform="rotate(166 755.8 439.0)" fill="#c0c9c3" opacity="0.75"/><ellipse cx="768.2" cy="364.3" rx="4.9" ry="1.5" transform="rotate(89 768.2 364.3)" fill="#c0c9c3" opacity="0.75"/><ellipse cx="792.0" cy="445.7" rx="4.8" ry="1.9" transform="rotate(79 792.0 445.7)" fill="#c6cec9" opacity="0.75"/><ellipse cx="769.2" cy="377.2" rx="3.1" ry="2.2" transform="rotate(10 769.2 377.2)" fill="#c0c9c3" opacity="0.75"/><ellipse cx="823.8" cy="338.9" rx="4.7" ry="2.7" transform="rotate(176 823.8 338.9)" fill="#b0bab4" opacity="0.75"/><ellipse cx="767.0" cy="357.0" rx="4.2" ry="2.6" transform="rotate(158 767.0 357.0)" fill="#b0bab4" opacity="0.75"/><ellipse cx="746.0" cy="453.5" rx="4.1" ry="2.0" transform="rotate(172 746.0 453.5)" fill="#b0bab4" opacity="0.75"/><ellipse cx="780.8" cy="352.5" rx="4.5" ry="1.5" transform="rotate(112 780.8 352.5)" fill="#a9b3ad" opacity="0.75"/><ellipse cx="748.6" cy="352.6" rx="4.3" ry="2.4" transform="rotate(103 748.6 352.6)" fill="#a9b3ad" opacity="0.75"/><ellipse cx="785.9" cy="470.8" rx="3.1" ry="1.8" transform="rotate(7 785.9 470.8)" fill="#a9b3ad" opacity="0.75"/><ellipse cx="810.4" cy="488.4" rx="2.8" ry="2.0" transform="rotate(2 810.4 488.4)" fill="#b0bab4" opacity="0.75"/><ellipse cx="763.5" cy="421.1" rx="4.2" ry="1.9" transform="rotate(89 763.5 421.1)" fill="#b8c2bc" opacity="0.75"/><ellipse cx="872.5" cy="419.5" rx="3.1" ry="2.6" transform="rotate(28 872.5 419.5)" fill="#b8c2bc" opacity="0.75"/><ellipse cx="776.8" cy="441.1" rx="3.8" ry="2.1" transform="rotate(149 776.8 441.1)" fill="#a9b3ad" opacity="0.75"/><ellipse cx="781.2" cy="334.0" rx="3.4" ry="1.7" transform="rotate(101 781.2 334.0)" fill="#a9b3ad" opacity="0.75"/><ellipse cx="793.4" cy="333.0" rx="2.8" ry="1.8" transform="rotate(92 793.4 333.0)" fill="#b8c2bc" opacity="0.75"/><ellipse cx="812.5" cy="483.4" rx="5.1" ry="1.8" transform="rotate(144 812.5 483.4)" fill="#a9b3ad" opacity="0.75"/><ellipse cx="753.0" cy="440.1" rx="4.6" ry="1.9" transform="rotate(59 753.0 440.1)" fill="#b0bab4" opacity="0.75"/><ellipse cx="825.1" cy="471.8" rx="3.6" ry="2.4" transform="rotate(136 825.1 471.8)" fill="#b0bab4" opacity="0.75"/><ellipse cx="816.2" cy="470.1" rx="3.7" ry="2.2" transform="rotate(179 816.2 470.1)" fill="#c6cec9" opacity="0.75"/><ellipse cx="860.0" cy="453.0" rx="4.8" ry="1.9" transform="rotate(59 860.0 453.0)" fill="#a9b3ad" opacity="0.75"/><ellipse cx="881.7" cy="402.6" rx="4.3" ry="2.4" transform="rotate(171 881.7 402.6)" fill="#b0bab4" opacity="0.75"/><ellipse cx="788.4" cy="337.6" rx="4.9" ry="2.6" transform="rotate(38 788.4 337.6)" fill="#a9b3ad" opacity="0.75"/><ellipse cx="870.2" cy="395.0" rx="4.0" ry="1.8" transform="rotate(128 870.2 395.0)" fill="#b8c2bc" opacity="0.75"/><ellipse cx="861.0" cy="428.3" rx="2.9" ry="1.7" transform="rotate(97 861.0 428.3)" fill="#b0bab4" opacity="0.75"/><ellipse cx="845.2" cy="470.1" rx="2.8" ry="1.9" transform="rotate(54 845.2 470.1)" fill="#a9b3ad" opacity="0.75"/><ellipse cx="819.4" cy="474.5" rx="3.3" ry="2.6" transform="rotate(167 819.4 474.5)" fill="#b8c2bc" opacity="0.75"/><ellipse cx="857.8" cy="440.4" rx="4.9" ry="2.5" transform="rotate(174 857.8 440.4)" fill="#b0bab4" opacity="0.75"/><ellipse cx="764.9" cy="390.9" rx="4.1" ry="1.6" transform="rotate(149 764.9 390.9)" fill="#b8c2bc" opacity="0.75"/><ellipse cx="744.9" cy="410.7" rx="4.6" ry="1.5" transform="rotate(4 744.9 410.7)" fill="#b0bab4" opacity="0.75"/><ellipse cx="794.8" cy="464.0" rx="3.4" ry="2.0" transform="rotate(130 794.8 464.0)" fill="#c0c9c3" opacity="0.75"/><ellipse cx="808.6" cy="491.2" rx="4.9" ry="2.7" transform="rotate(124 808.6 491.2)" fill="#b0bab4" opacity="0.75"/><ellipse cx="881.5" cy="402.5" rx="4.8" ry="1.9" transform="rotate(138 881.5 402.5)" fill="#b0bab4" opacity="0.75"/><ellipse cx="874.0" cy="402.1" rx="4.1" ry="2.0" transform="rotate(109 874.0 402.1)" fill="#b8c2bc" opacity="0.75"/><ellipse cx="854.8" cy="450.1" rx="3.1" ry="1.6" transform="rotate(72 854.8 450.1)" fill="#c0c9c3" opacity="0.75"/><ellipse cx="815.1" cy="462.7" rx="3.6" ry="1.9" transform="rotate(152 815.1 462.7)" fill="#c0c9c3" opacity="0.75"/><ellipse cx="882.2" cy="414.9" rx="4.0" ry="2.4" transform="rotate(179 882.2 414.9)" fill="#c6cec9" opacity="0.75"/><ellipse cx="736.4" cy="431.1" rx="3.0" ry="2.5" transform="rotate(42 736.4 431.1)" fill="#b0bab4" opacity="0.75"/><ellipse cx="733.3" cy="407.1" rx="3.0" ry="1.7" transform="rotate(110 733.3 407.1)" fill="#c0c9c3" opacity="0.75"/><ellipse cx="780.2" cy="473.9" rx="4.1" ry="1.8" transform="rotate(146 780.2 473.9)" fill="#c6cec9" opacity="0.75"/><ellipse cx="751.2" cy="386.1" rx="3.7" ry="1.7" transform="rotate(163 751.2 386.1)" fill="#b8c2bc" opacity="0.75"/><ellipse cx="852.1" cy="350.8" rx="3.0" ry="1.5" transform="rotate(11 852.1 350.8)" fill="#c6cec9" opacity="0.75"/><ellipse cx="797.9" cy="337.7" rx="3.7" ry="2.2" transform="rotate(130 797.9 337.7)" fill="#b0bab4" opacity="0.75"/><ellipse cx="873.1" cy="431.4" rx="4.2" ry="2.5" transform="rotate(50 873.1 431.4)" fill="#c6cec9" opacity="0.75"/><ellipse cx="812.3" cy="488.1" rx="3.1" ry="2.0" transform="rotate(61 812.3 488.1)" fill="#b0bab4" opacity="0.75"/><ellipse cx="847.8" cy="453.8" rx="3.3" ry="2.2" transform="rotate(125 847.8 453.8)" fill="#c6cec9" opacity="0.75"/><ellipse cx="837.7" cy="339.6" rx="4.8" ry="2.8" transform="rotate(20 837.7 339.6)" fill="#b0bab4" opacity="0.75"/><ellipse cx="788.6" cy="447.5" rx="4.4" ry="2.0" transform="rotate(25 788.6 447.5)" fill="#b8c2bc" opacity="0.75"/><ellipse cx="853.9" cy="470.6" rx="5.1" ry="2.6" transform="rotate(16 853.9 470.6)" fill="#c0c9c3" opacity="0.75"/><ellipse cx="771.6" cy="363.3" rx="3.1" ry="1.6" transform="rotate(119 771.6 363.3)" fill="#c6cec9" opacity="0.75"/><ellipse cx="812.7" cy="343.8" rx="4.8" ry="1.6" transform="rotate(136 812.7 343.8)" fill="#c0c9c3" opacity="0.75"/><ellipse cx="786.3" cy="460.5" rx="3.3" ry="2.0" transform="rotate(19 786.3 460.5)" fill="#b8c2bc" opacity="0.75"/><ellipse cx="804.4" cy="456.2" rx="2.7" ry="2.4" transform="rotate(59 804.4 456.2)" fill="#c0c9c3" opacity="0.75"/><ellipse cx="845.3" cy="450.0" rx="4.5" ry="2.7" transform="rotate(94 845.3 450.0)" fill="#a9b3ad" opacity="0.75"/><ellipse cx="770.0" cy="448.6" rx="2.6" ry="1.9" transform="rotate(63 770.0 448.6)" fill="#b8c2bc" opacity="0.75"/><ellipse cx="784.0" cy="356.3" rx="4.5" ry="1.8" transform="rotate(176 784.0 356.3)" fill="#b8c2bc" opacity="0.75"/><ellipse cx="733.7" cy="422.8" rx="5.2" ry="1.8" transform="rotate(76 733.7 422.8)" fill="#c6cec9" opacity="0.75"/><ellipse cx="758.2" cy="386.0" rx="2.8" ry="2.2" transform="rotate(97 758.2 386.0)" fill="#b8c2bc" opacity="0.75"/><ellipse cx="869.5" cy="384.7" rx="3.7" ry="2.4" transform="rotate(97 869.5 384.7)" fill="#b8c2bc" opacity="0.75"/><ellipse cx="752.6" cy="451.5" rx="3.6" ry="1.9" transform="rotate(5 752.6 451.5)" fill="#b8c2bc" opacity="0.75"/><ellipse cx="821.9" cy="486.2" rx="3.4" ry="2.4" transform="rotate(14 821.9 486.2)" fill="#b0bab4" opacity="0.75"/><ellipse cx="787.3" cy="469.0" rx="3.4" ry="2.5" transform="rotate(134 787.3 469.0)" fill="#c0c9c3" opacity="0.75"/><ellipse cx="785.5" cy="463.4" rx="4.0" ry="2.3" transform="rotate(134 785.5 463.4)" fill="#a9b3ad" opacity="0.75"/><ellipse cx="856.7" cy="451.2" rx="5.0" ry="2.0" transform="rotate(1 856.7 451.2)" fill="#c0c9c3" opacity="0.75"/><ellipse cx="754.2" cy="365.0" rx="4.4" ry="1.7" transform="rotate(141 754.2 365.0)" fill="#b0bab4" opacity="0.75"/><ellipse cx="746.1" cy="454.0" rx="3.0" ry="2.7" transform="rotate(32 746.1 454.0)" fill="#c0c9c3" opacity="0.75"/><ellipse cx="799.4" cy="465.7" rx="4.5" ry="2.3" transform="rotate(180 799.4 465.7)" fill="#b0bab4" opacity="0.75"/><ellipse cx="766.1" cy="367.9" rx="3.9" ry="1.9" transform="rotate(149 766.1 367.9)" fill="#c0c9c3" opacity="0.75"/><ellipse cx="866.5" cy="421.4" rx="4.5" ry="2.4" transform="rotate(160 866.5 421.4)" fill="#c0c9c3" opacity="0.75"/><ellipse cx="801.7" cy="460.5" rx="2.9" ry="2.6" transform="rotate(95 801.7 460.5)" fill="#c6cec9" opacity="0.75"/><ellipse cx="857.3" cy="436.8" rx="4.4" ry="1.5" transform="rotate(110 857.3 436.8)" fill="#c6cec9" opacity="0.75"/><ellipse cx="839.8" cy="481.1" rx="4.3" ry="1.7" transform="rotate(14 839.8 481.1)" fill="#c0c9c3" opacity="0.75"/><ellipse cx="872.5" cy="447.0" rx="4.2" ry="2.3" transform="rotate(52 872.5 447.0)" fill="#c6cec9" opacity="0.75"/><ellipse cx="879.9" cy="412.1" rx="3.3" ry="1.7" transform="rotate(69 879.9 412.1)" fill="#b8c2bc" opacity="0.75"/><ellipse cx="875.1" cy="403.1" rx="5.1" ry="2.6" transform="rotate(83 875.1 403.1)" fill="#b0bab4" opacity="0.75"/><ellipse cx="870.9" cy="379.0" rx="3.9" ry="1.7" transform="rotate(152 870.9 379.0)" fill="#c0c9c3" opacity="0.75"/><ellipse cx="785.4" cy="475.5" rx="5.1" ry="2.6" transform="rotate(131 785.4 475.5)" fill="#b8c2bc" opacity="0.75"/><ellipse cx="841.1" cy="343.6" rx="3.9" ry="2.5" transform="rotate(88 841.1 343.6)" fill="#c0c9c3" opacity="0.75"/><ellipse cx="764.5" cy="384.1" rx="4.5" ry="2.8" transform="rotate(121 764.5 384.1)" fill="#b8c2bc" opacity="0.75"/><ellipse cx="772.7" cy="363.2" rx="4.8" ry="2.7" transform="rotate(79 772.7 363.2)" fill="#c6cec9" opacity="0.75"/><ellipse cx="807.1" cy="457.1" rx="2.6" ry="1.8" transform="rotate(136 807.1 457.1)" fill="#a9b3ad" opacity="0.75"/><ellipse cx="792.2" cy="344.3" rx="4.5" ry="1.5" transform="rotate(37 792.2 344.3)" fill="#a9b3ad" opacity="0.75"/><ellipse cx="747.9" cy="419.0" rx="4.3" ry="1.6" transform="rotate(178 747.9 419.0)" fill="#b8c2bc" opacity="0.75"/><ellipse cx="769.2" cy="355.3" rx="3.6" ry="1.6" transform="rotate(3 769.2 355.3)" fill="#c0c9c3" opacity="0.75"/><ellipse cx="781.8" cy="336.3" rx="3.6" ry="1.6" transform="rotate(178 781.8 336.3)" fill="#c0c9c3" opacity="0.75"/><ellipse cx="738.0" cy="411.7" rx="3.2" ry="2.4" transform="rotate(18 738.0 411.7)" fill="#c6cec9" opacity="0.75"/><ellipse cx="878.0" cy="399.9" rx="3.6" ry="2.3" transform="rotate(168 878.0 399.9)" fill="#b0bab4" opacity="0.75"/><ellipse cx="740.1" cy="402.2" rx="3.7" ry="2.4" transform="rotate(138 740.1 402.2)" fill="#c0c9c3" opacity="0.75"/><ellipse cx="816.8" cy="460.1" rx="5.1" ry="2.5" transform="rotate(58 816.8 460.1)" fill="#b8c2bc" opacity="0.75"/><ellipse cx="782.1" cy="467.1" rx="4.2" ry="2.6" transform="rotate(124 782.1 467.1)" fill="#b0bab4" opacity="0.75"/><ellipse cx="850.7" cy="357.0" rx="3.6" ry="2.3" transform="rotate(85 850.7 357.0)" fill="#a9b3ad" opacity="0.75"/><ellipse cx="808.3" cy="338.5" rx="4.8" ry="2.8" transform="rotate(32 808.3 338.5)" fill="#a9b3ad" opacity="0.75"/><ellipse cx="745.1" cy="384.7" rx="4.7" ry="1.9" transform="rotate(70 745.1 384.7)" fill="#c6cec9" opacity="0.75"/><ellipse cx="846.3" cy="468.5" rx="4.3" ry="2.4" transform="rotate(42 846.3 468.5)" fill="#b0bab4" opacity="0.75"/><ellipse cx="751.7" cy="386.2" rx="3.9" ry="2.4" transform="rotate(142 751.7 386.2)" fill="#b0bab4" opacity="0.75"/><ellipse cx="800.3" cy="331.6" rx="4.4" ry="1.7" transform="rotate(37 800.3 331.6)" fill="#b0bab4" opacity="0.75"/><ellipse cx="761.2" cy="350.1" rx="5.0" ry="1.7" transform="rotate(178 761.2 350.1)" fill="#a9b3ad" opacity="0.75"/><ellipse cx="811.7" cy="483.4" rx="3.4" ry="2.7" transform="rotate(144 811.7 483.4)" fill="#c6cec9" opacity="0.75"/><ellipse cx="746.5" cy="434.1" rx="2.8" ry="2.7" transform="rotate(161 746.5 434.1)" fill="#c6cec9" opacity="0.75"/><ellipse cx="812.0" cy="338.9" rx="4.7" ry="1.6" transform="rotate(30 812.0 338.9)" fill="#b0bab4" opacity="0.75"/><ellipse cx="787.1" cy="345.9" rx="4.1" ry="1.7" transform="rotate(86 787.1 345.9)" fill="#c0c9c3" opacity="0.75"/><ellipse cx="744.8" cy="416.1" rx="3.8" ry="1.7" transform="rotate(95 744.8 416.1)" fill="#b8c2bc" opacity="0.75"/><ellipse cx="727.7" cy="434.7" rx="3.6" ry="2.3" transform="rotate(148 727.7 434.7)" fill="#c0c9c3" opacity="0.75"/><ellipse cx="749.1" cy="368.1" rx="3.6" ry="1.8" transform="rotate(174 749.1 368.1)" fill="#b8c2bc" opacity="0.75"/><ellipse cx="775.2" cy="438.8" rx="4.3" ry="1.8" transform="rotate(119 775.2 438.8)" fill="#c6cec9" opacity="0.75"/><ellipse cx="846.6" cy="346.5" rx="4.7" ry="2.0" transform="rotate(46 846.6 346.5)" fill="#b0bab4" opacity="0.75"/><ellipse cx="880.4" cy="421.2" rx="4.6" ry="2.6" transform="rotate(169 880.4 421.2)" fill="#a9b3ad" opacity="0.75"/><ellipse cx="843.6" cy="353.3" rx="3.4" ry="2.1" transform="rotate(113 843.6 353.3)" fill="#a9b3ad" opacity="0.75"/><ellipse cx="780.4" cy="342.2" rx="5.1" ry="1.7" transform="rotate(9 780.4 342.2)" fill="#b0bab4" opacity="0.75"/><ellipse cx="747.9" cy="364.8" rx="2.7" ry="2.6" transform="rotate(139 747.9 364.8)" fill="#b0bab4" opacity="0.75"/><ellipse cx="812.1" cy="458.6" rx="4.0" ry="1.9" transform="rotate(114 812.1 458.6)" fill="#c0c9c3" opacity="0.75"/><ellipse cx="740.6" cy="432.7" rx="4.9" ry="2.4" transform="rotate(0 740.6 432.7)" fill="#c6cec9" opacity="0.75"/><ellipse cx="763.3" cy="385.7" rx="4.0" ry="2.6" transform="rotate(127 763.3 385.7)" fill="#a9b3ad" opacity="0.75"/><ellipse cx="750.0" cy="358.4" rx="3.8" ry="1.8" transform="rotate(61 750.0 358.4)" fill="#a9b3ad" opacity="0.75"/><ellipse cx="790.5" cy="459.2" rx="3.7" ry="1.7" transform="rotate(142 790.5 459.2)" fill="#b0bab4" opacity="0.75"/><ellipse cx="858.9" cy="432.2" rx="4.3" ry="2.8" transform="rotate(150 858.9 432.2)" fill="#b8c2bc" opacity="0.75"/><ellipse cx="823.0" cy="482.6" rx="4.2" ry="1.8" transform="rotate(177 823.0 482.6)" fill="#b0bab4" opacity="0.75"/><ellipse cx="798.6" cy="331.3" rx="2.7" ry="1.9" transform="rotate(108 798.6 331.3)" fill="#a9b3ad" opacity="0.75"/><ellipse cx="799.1" cy="483.6" rx="2.8" ry="1.6" transform="rotate(180 799.1 483.6)" fill="#a9b3ad" opacity="0.75"/><ellipse cx="846.4" cy="474.9" rx="4.3" ry="2.2" transform="rotate(73 846.4 474.9)" fill="#c6cec9" opacity="0.75"/><ellipse cx="762.6" cy="462.5" rx="3.3" ry="2.7" transform="rotate(69 762.6 462.5)" fill="#b8c2bc" opacity="0.75"/><ellipse cx="870.0" cy="401.4" rx="2.7" ry="1.9" transform="rotate(76 870.0 401.4)" fill="#b8c2bc" opacity="0.75"/><ellipse cx="844.0" cy="476.2" rx="3.7" ry="2.0" transform="rotate(43 844.0 476.2)" fill="#b0bab4" opacity="0.75"/><ellipse cx="870.2" cy="408.9" rx="4.9" ry="1.6" transform="rotate(97 870.2 408.9)" fill="#c6cec9" opacity="0.75"/><ellipse cx="813.5" cy="470.6" rx="4.9" ry="2.0" transform="rotate(40 813.5 470.6)" fill="#b0bab4" opacity="0.75"/><ellipse cx="870.3" cy="443.7" rx="2.8" ry="1.8" transform="rotate(128 870.3 443.7)" fill="#b0bab4" opacity="0.75"/><ellipse cx="868.1" cy="408.0" rx="3.7" ry="2.1" transform="rotate(77 868.1 408.0)" fill="#a9b3ad" opacity="0.75"/><ellipse cx="877.1" cy="382.4" rx="4.4" ry="2.1" transform="rotate(58 877.1 382.4)" fill="#c0c9c3" opacity="0.75"/><ellipse cx="754.7" cy="356.5" rx="4.7" ry="2.5" transform="rotate(33 754.7 356.5)" fill="#a9b3ad" opacity="0.75"/><ellipse cx="757.5" cy="409.3" rx="4.6" ry="1.6" transform="rotate(66 757.5 409.3)" fill="#c0c9c3" opacity="0.75"/><ellipse cx="816.4" cy="476.6" rx="2.7" ry="1.7" transform="rotate(36 816.4 476.6)" fill="#c0c9c3" opacity="0.75"/><ellipse cx="748.7" cy="408.6" rx="3.8" ry="2.4" transform="rotate(80 748.7 408.6)" fill="#a9b3ad" opacity="0.75"/><ellipse cx="827.7" cy="472.7" rx="2.9" ry="2.6" transform="rotate(72 827.7 472.7)" fill="#b8c2bc" opacity="0.75"/><ellipse cx="803.3" cy="461.7" rx="4.2" ry="1.8" transform="rotate(136 803.3 461.7)" fill="#b8c2bc" opacity="0.75"/><ellipse cx="750.7" cy="432.5" rx="2.6" ry="1.9" transform="rotate(41 750.7 432.5)" fill="#c0c9c3" opacity="0.75"/><ellipse cx="741.1" cy="387.2" rx="3.8" ry="1.7" transform="rotate(157 741.1 387.2)" fill="#c6cec9" opacity="0.75"/><ellipse cx="749.5" cy="358.2" rx="3.9" ry="2.2" transform="rotate(34 749.5 358.2)" fill="#b8c2bc" opacity="0.75"/><ellipse cx="766.2" cy="345.9" rx="3.2" ry="2.5" transform="rotate(81 766.2 345.9)" fill="#a9b3ad" opacity="0.75"/><ellipse cx="794.4" cy="473.3" rx="3.0" ry="2.6" transform="rotate(159 794.4 473.3)" fill="#c0c9c3" opacity="0.75"/><ellipse cx="823.1" cy="337.1" rx="4.5" ry="1.8" transform="rotate(166 823.1 337.1)" fill="#b8c2bc" opacity="0.75"/><ellipse cx="738.6" cy="372.0" rx="3.8" ry="2.5" transform="rotate(141 738.6 372.0)" fill="#c0c9c3" opacity="0.75"/><ellipse cx="857.5" cy="454.4" rx="3.2" ry="1.6" transform="rotate(62 857.5 454.4)" fill="#c6cec9" opacity="0.75"/><ellipse cx="871.3" cy="416.0" rx="4.0" ry="2.5" transform="rotate(45 871.3 416.0)" fill="#a9b3ad" opacity="0.75"/><ellipse cx="820.9" cy="479.9" rx="4.1" ry="2.3" transform="rotate(153 820.9 479.9)" fill="#c0c9c3" opacity="0.75"/><ellipse cx="855.7" cy="463.2" rx="2.8" ry="2.1" transform="rotate(157 855.7 463.2)" fill="#c0c9c3" opacity="0.75"/><ellipse cx="802.0" cy="461.3" rx="3.7" ry="2.0" transform="rotate(143 802.0 461.3)" fill="#b0bab4" opacity="0.75"/><ellipse cx="812.8" cy="458.6" rx="3.4" ry="2.1" transform="rotate(166 812.8 458.6)" fill="#b0bab4" opacity="0.75"/><ellipse cx="780.2" cy="452.8" rx="4.3" ry="2.3" transform="rotate(49 780.2 452.8)" fill="#a9b3ad" opacity="0.75"/><ellipse cx="751.4" cy="352.7" rx="2.9" ry="1.5" transform="rotate(145 751.4 352.7)" fill="#a9b3ad" opacity="0.75"/><ellipse cx="773.3" cy="352.8" rx="3.8" ry="2.7" transform="rotate(170 773.3 352.8)" fill="#b0bab4" opacity="0.75"/><ellipse cx="822.0" cy="480.5" rx="2.7" ry="2.1" transform="rotate(28 822.0 480.5)" fill="#a9b3ad" opacity="0.75"/><ellipse cx="757.5" cy="430.5" rx="3.0" ry="1.9" transform="rotate(74 757.5 430.5)" fill="#b0bab4" opacity="0.75"/><ellipse cx="767.9" cy="352.6" rx="2.9" ry="2.6" transform="rotate(84 767.9 352.6)" fill="#c6cec9" opacity="0.75"/><ellipse cx="746.0" cy="467.0" rx="2.6" ry="1.9" transform="rotate(83 746.0 467.0)" fill="#b0bab4" opacity="0.75"/><ellipse cx="752.1" cy="421.5" rx="4.9" ry="2.8" transform="rotate(69 752.1 421.5)" fill="#b0bab4" opacity="0.75"/><ellipse cx="736.4" cy="383.1" rx="3.8" ry="2.2" transform="rotate(171 736.4 383.1)" fill="#a9b3ad" opacity="0.75"/><ellipse cx="807.5" cy="471.2" rx="4.8" ry="2.5" transform="rotate(50 807.5 471.2)" fill="#b0bab4" opacity="0.75"/><ellipse cx="748.0" cy="456.2" rx="3.1" ry="2.3" transform="rotate(154 748.0 456.2)" fill="#c0c9c3" opacity="0.75"/><ellipse cx="871.8" cy="411.1" rx="4.4" ry="2.1" transform="rotate(63 871.8 411.1)" fill="#b0bab4" opacity="0.75"/><ellipse cx="768.5" cy="354.9" rx="4.0" ry="2.2" transform="rotate(122 768.5 354.9)" fill="#a9b3ad" opacity="0.75"/><ellipse cx="823.0" cy="345.0" rx="4.4" ry="2.7" transform="rotate(87 823.0 345.0)" fill="#b0bab4" opacity="0.75"/><ellipse cx="856.3" cy="351.8" rx="3.0" ry="2.1" transform="rotate(158 856.3 351.8)" fill="#c0c9c3" opacity="0.75"/><ellipse cx="771.7" cy="467.4" rx="4.7" ry="2.0" transform="rotate(167 771.7 467.4)" fill="#b8c2bc" opacity="0.75"/><ellipse cx="824.1" cy="348.1" rx="4.2" ry="2.6" transform="rotate(92 824.1 348.1)" fill="#c0c9c3" opacity="0.75"/><ellipse cx="728.7" cy="408.9" rx="3.0" ry="2.1" transform="rotate(24 728.7 408.9)" fill="#c0c9c3" opacity="0.75"/><ellipse cx="790.5" cy="339.7" rx="3.2" ry="2.6" transform="rotate(158 790.5 339.7)" fill="#c6cec9" opacity="0.75"/><ellipse cx="834.1" cy="452.6" rx="3.1" ry="1.5" transform="rotate(108 834.1 452.6)" fill="#b8c2bc" opacity="0.75"/><ellipse cx="876.5" cy="426.4" rx="2.9" ry="2.3" transform="rotate(168 876.5 426.4)" fill="#c6cec9" opacity="0.75"/><ellipse cx="877.8" cy="397.4" rx="3.3" ry="1.7" transform="rotate(52 877.8 397.4)" fill="#c0c9c3" opacity="0.75"/><ellipse cx="874.2" cy="447.3" rx="2.7" ry="1.7" transform="rotate(171 874.2 447.3)" fill="#b8c2bc" opacity="0.75"/><ellipse cx="783.1" cy="453.0" rx="4.1" ry="1.6" transform="rotate(104 783.1 453.0)" fill="#a9b3ad" opacity="0.75"/><ellipse cx="872.1" cy="418.0" rx="4.9" ry="2.2" transform="rotate(3 872.1 418.0)" fill="#a9b3ad" opacity="0.75"/><ellipse cx="787.9" cy="487.0" rx="3.7" ry="2.4" transform="rotate(77 787.9 487.0)" fill="#a9b3ad" opacity="0.75"/><ellipse cx="735.0" cy="373.6" rx="3.9" ry="2.6" transform="rotate(24 735.0 373.6)" fill="#c0c9c3" opacity="0.75"/><ellipse cx="839.8" cy="465.1" rx="3.3" ry="1.7" transform="rotate(13 839.8 465.1)" fill="#c6cec9" opacity="0.75"/><ellipse cx="736.4" cy="401.2" rx="5.1" ry="2.3" transform="rotate(135 736.4 401.2)" fill="#a9b3ad" opacity="0.75"/><ellipse cx="859.1" cy="430.2" rx="4.1" ry="2.2" transform="rotate(157 859.1 430.2)" fill="#b0bab4" opacity="0.75"/><ellipse cx="780.3" cy="484.5" rx="3.3" ry="2.3" transform="rotate(130 780.3 484.5)" fill="#b8c2bc" opacity="0.75"/><ellipse cx="762.9" cy="380.7" rx="3.8" ry="1.8" transform="rotate(52 762.9 380.7)" fill="#c0c9c3" opacity="0.75"/><ellipse cx="744.3" cy="390.0" rx="4.0" ry="1.6" transform="rotate(170 744.3 390.0)" fill="#c6cec9" opacity="0.75"/><ellipse cx="784.4" cy="463.5" rx="4.3" ry="2.7" transform="rotate(138 784.4 463.5)" fill="#c6cec9" opacity="0.75"/><ellipse cx="868.8" cy="373.3" rx="3.9" ry="1.6" transform="rotate(173 868.8 373.3)" fill="#b0bab4" opacity="0.75"/><ellipse cx="821.4" cy="453.1" rx="3.0" ry="2.7" transform="rotate(125 821.4 453.1)" fill="#b8c2bc" opacity="0.75"/><ellipse cx="736.4" cy="435.9" rx="5.1" ry="2.1" transform="rotate(172 736.4 435.9)" fill="#c0c9c3" opacity="0.75"/><ellipse cx="778.3" cy="463.8" rx="3.1" ry="2.0" transform="rotate(42 778.3 463.8)" fill="#c0c9c3" opacity="0.75"/><ellipse cx="793.8" cy="463.0" rx="4.2" ry="2.3" transform="rotate(37 793.8 463.0)" fill="#b8c2bc" opacity="0.75"/><ellipse cx="871.0" cy="421.1" rx="4.0" ry="1.7" transform="rotate(89 871.0 421.1)" fill="#c0c9c3" opacity="0.75"/><ellipse cx="779.4" cy="444.6" rx="4.5" ry="2.3" transform="rotate(67 779.4 444.6)" fill="#c6cec9" opacity="0.75"/><ellipse cx="820.3" cy="484.3" rx="4.7" ry="1.9" transform="rotate(89 820.3 484.3)" fill="#b0bab4" opacity="0.75"/><ellipse cx="731.5" cy="409.9" rx="4.3" ry="1.7" transform="rotate(66 731.5 409.9)" fill="#a9b3ad" opacity="0.75"/><ellipse cx="804.5" cy="474.3" rx="4.4" ry="1.6" transform="rotate(59 804.5 474.3)" fill="#a9b3ad" opacity="0.75"/><ellipse cx="769.0" cy="416.6" rx="4.2" ry="1.5" transform="rotate(132 769.0 416.6)" fill="#a9b3ad" opacity="0.75"/><ellipse cx="752.5" cy="452.4" rx="3.4" ry="2.5" transform="rotate(148 752.5 452.4)" fill="#c6cec9" opacity="0.75"/><ellipse cx="881.6" cy="422.3" rx="4.0" ry="2.5" transform="rotate(49 881.6 422.3)" fill="#c6cec9" opacity="0.75"/><ellipse cx="791.7" cy="461.7" rx="4.2" ry="2.5" transform="rotate(63 791.7 461.7)" fill="#b8c2bc" opacity="0.75"/><ellipse cx="733.9" cy="384.9" rx="3.7" ry="2.7" transform="rotate(61 733.9 384.9)" fill="#c6cec9" opacity="0.75"/><ellipse cx="790.9" cy="468.0" rx="3.3" ry="1.9" transform="rotate(90 790.9 468.0)" fill="#b8c2bc" opacity="0.75"/><ellipse cx="816.1" cy="481.7" rx="3.8" ry="2.1" transform="rotate(147 816.1 481.7)" fill="#b8c2bc" opacity="0.75"/><ellipse cx="744.5" cy="432.1" rx="3.8" ry="2.2" transform="rotate(24 744.5 432.1)" fill="#a9b3ad" opacity="0.75"/><ellipse cx="752.4" cy="350.2" rx="4.4" ry="2.8" transform="rotate(88 752.4 350.2)" fill="#c0c9c3" opacity="0.75"/><ellipse cx="844.5" cy="460.1" rx="3.7" ry="2.5" transform="rotate(127 844.5 460.1)" fill="#c6cec9" opacity="0.75"/><ellipse cx="764.0" cy="343.2" rx="4.1" ry="1.8" transform="rotate(5 764.0 343.2)" fill="#a9b3ad" opacity="0.75"/><ellipse cx="877.5" cy="400.9" rx="3.0" ry="2.8" transform="rotate(19 877.5 400.9)" fill="#c0c9c3" opacity="0.75"/><ellipse cx="738.5" cy="377.8" rx="2.9" ry="2.2" transform="rotate(142 738.5 377.8)" fill="#c0c9c3" opacity="0.75"/><ellipse cx="752.3" cy="450.0" rx="2.9" ry="2.7" transform="rotate(53 752.3 450.0)" fill="#c6cec9" opacity="0.75"/><ellipse cx="750.5" cy="432.1" rx="5.0" ry="1.9" transform="rotate(145 750.5 432.1)" fill="#c6cec9" opacity="0.75"/><ellipse cx="827.2" cy="481.0" rx="3.9" ry="2.0" transform="rotate(129 827.2 481.0)" fill="#b0bab4" opacity="0.75"/><ellipse cx="799.3" cy="345.0" rx="4.1" ry="2.5" transform="rotate(32 799.3 345.0)" fill="#c0c9c3" opacity="0.75"/><ellipse cx="850.9" cy="439.6" rx="2.9" ry="1.7" transform="rotate(71 850.9 439.6)" fill="#b0bab4" opacity="0.75"/><ellipse cx="869.9" cy="406.0" rx="4.7" ry="2.5" transform="rotate(113 869.9 406.0)" fill="#b8c2bc" opacity="0.75"/><ellipse cx="766.0" cy="425.3" rx="3.4" ry="2.0" transform="rotate(136 766.0 425.3)" fill="#c0c9c3" opacity="0.75"/><ellipse cx="753.1" cy="461.2" rx="3.9" ry="2.4" transform="rotate(143 753.1 461.2)" fill="#c6cec9" opacity="0.75"/><ellipse cx="736.0" cy="420.8" rx="3.8" ry="1.7" transform="rotate(160 736.0 420.8)" fill="#b8c2bc" opacity="0.75"/><ellipse cx="778.9" cy="351.0" rx="2.8" ry="2.1" transform="rotate(103 778.9 351.0)" fill="#c0c9c3" opacity="0.75"/><ellipse cx="752.8" cy="351.6" rx="2.9" ry="2.4" transform="rotate(36 752.8 351.6)" fill="#b8c2bc" opacity="0.75"/><ellipse cx="874.3" cy="381.7" rx="4.9" ry="1.8" transform="rotate(152 874.3 381.7)" fill="#a9b3ad" opacity="0.75"/><ellipse cx="843.6" cy="348.1" rx="3.4" ry="2.4" transform="rotate(14 843.6 348.1)" fill="#b0bab4" opacity="0.75"/><ellipse cx="773.1" cy="484.0" rx="4.5" ry="2.6" transform="rotate(55 773.1 484.0)" fill="#c0c9c3" opacity="0.75"/><ellipse cx="783.7" cy="358.1" rx="3.8" ry="2.0" transform="rotate(54 783.7 358.1)" fill="#c0c9c3" opacity="0.75"/><ellipse cx="844.9" cy="461.3" rx="3.5" ry="1.7" transform="rotate(159 844.9 461.3)" fill="#c6cec9" opacity="0.75"/><ellipse cx="755.7" cy="369.5" rx="3.4" ry="1.7" transform="rotate(22 755.7 369.5)" fill="#c6cec9" opacity="0.75"/><ellipse cx="875.7" cy="437.0" rx="5.0" ry="1.8" transform="rotate(70 875.7 437.0)" fill="#c6cec9" opacity="0.75"/><ellipse cx="844.5" cy="343.0" rx="4.2" ry="2.1" transform="rotate(17 844.5 343.0)" fill="#b8c2bc" opacity="0.75"/><ellipse cx="767.7" cy="467.1" rx="3.4" ry="1.8" transform="rotate(43 767.7 467.1)" fill="#c0c9c3" opacity="0.75"/><ellipse cx="768.8" cy="431.3" rx="4.2" ry="2.6" transform="rotate(99 768.8 431.3)" fill="#c6cec9" opacity="0.75"/><ellipse cx="810.5" cy="486.0" rx="3.8" ry="1.7" transform="rotate(77 810.5 486.0)" fill="#c0c9c3" opacity="0.75"/><ellipse cx="864.4" cy="362.0" rx="3.9" ry="2.5" transform="rotate(94 864.4 362.0)" fill="#b0bab4" opacity="0.75"/><ellipse cx="875.8" cy="441.9" rx="4.7" ry="2.5" transform="rotate(39 875.8 441.9)" fill="#c6cec9" opacity="0.75"/><ellipse cx="742.6" cy="455.4" rx="4.5" ry="2.6" transform="rotate(101 742.6 455.4)" fill="#b8c2bc" opacity="0.75"/><ellipse cx="817.4" cy="488.3" rx="2.9" ry="1.6" transform="rotate(12 817.4 488.3)" fill="#a9b3ad" opacity="0.75"/><ellipse cx="744.8" cy="397.1" rx="5.0" ry="2.7" transform="rotate(162 744.8 397.1)" fill="#b0bab4" opacity="0.75"/><ellipse cx="738.3" cy="377.1" rx="2.8" ry="2.0" transform="rotate(145 738.3 377.1)" fill="#b8c2bc" opacity="0.75"/><ellipse cx="741.3" cy="455.5" rx="4.5" ry="1.9" transform="rotate(178 741.3 455.5)" fill="#c6cec9" opacity="0.75"/><ellipse cx="781.5" cy="438.7" rx="3.5" ry="2.6" transform="rotate(18 781.5 438.7)" fill="#a9b3ad" opacity="0.75"/><ellipse cx="730.2" cy="396.6" rx="4.9" ry="2.3" transform="rotate(73 730.2 396.6)" fill="#b0bab4" opacity="0.75"/><ellipse cx="828.6" cy="341.3" rx="5.1" ry="2.8" transform="rotate(12 828.6 341.3)" fill="#c6cec9" opacity="0.75"/><ellipse cx="843.9" cy="463.5" rx="4.9" ry="2.3" transform="rotate(125 843.9 463.5)" fill="#a9b3ad" opacity="0.75"/><ellipse cx="868.8" cy="379.0" rx="3.6" ry="1.6" transform="rotate(125 868.8 379.0)" fill="#a9b3ad" opacity="0.75"/><ellipse cx="758.8" cy="366.5" rx="3.4" ry="1.5" transform="rotate(26 758.8 366.5)" fill="#a9b3ad" opacity="0.75"/><ellipse cx="853.0" cy="455.9" rx="3.1" ry="1.6" transform="rotate(55 853.0 455.9)" fill="#a9b3ad" opacity="0.75"/><ellipse cx="836.7" cy="472.7" rx="4.9" ry="2.7" transform="rotate(144 836.7 472.7)" fill="#c0c9c3" opacity="0.75"/><ellipse cx="751.8" cy="419.0" rx="2.9" ry="1.8" transform="rotate(52 751.8 419.0)" fill="#c6cec9" opacity="0.75"/><ellipse cx="799.7" cy="491.2" rx="4.4" ry="1.7" transform="rotate(154 799.7 491.2)" fill="#a9b3ad" opacity="0.75"/><ellipse cx="873.9" cy="413.9" rx="3.3" ry="2.1" transform="rotate(42 873.9 413.9)" fill="#a9b3ad" opacity="0.75"/><ellipse cx="756.8" cy="475.6" rx="4.4" ry="1.7" transform="rotate(137 756.8 475.6)" fill="#c0c9c3" opacity="0.75"/><ellipse cx="856.4" cy="446.3" rx="3.5" ry="2.4" transform="rotate(100 856.4 446.3)" fill="#a9b3ad" opacity="0.75"/><ellipse cx="786.6" cy="335.9" rx="3.1" ry="1.9" transform="rotate(84 786.6 335.9)" fill="#b8c2bc" opacity="0.75"/></g>
<g opacity="1.0" filter="url(#blur06)"><circle cx="1278.00" cy="419.00" r="50.00" fill="#e0e1e0"/><ellipse cx="1328.4" cy="491.2" rx="4.3" ry="1.7" transform="rotate(94 1328.4 491.2)" fill="#c0c9c3" opacity="0.75"/><ellipse cx="1330.5" cy="400.3" rx="3.1" ry="1.9" transform="rotate(65 1330.5 400.3)" fill="#a9b3ad" opacity="0.75"/><ellipse cx="1353.6" cy="457.2" rx="2.7" ry="1.5" transform="rotate(24 1353.6 457.2)" fill="#c0c9c3" opacity="0.75"/><ellipse cx="1283.5" cy="482.9" rx="3.2" ry="2.4" transform="rotate(81 1283.5 482.9)" fill="#a9b3ad" opacity="0.75"/><ellipse cx="1207.1" cy="452.5" rx="4.8" ry="1.7" transform="rotate(40 1207.1 452.5)" fill="#a9b3ad" opacity="0.75"/><ellipse cx="1245.4" cy="456.1" rx="2.8" ry="2.7" transform="rotate(15 1245.4 456.1)" fill="#a9b3ad" opacity="0.75"/><ellipse cx="1223.6" cy="488.6" rx="5.1" ry="2.1" transform="rotate(75 1223.6 488.6)" fill="#b8c2bc" opacity="0.75"/><ellipse cx="1281.1" cy="497.9" rx="3.3" ry="1.9" transform="rotate(119 1281.1 497.9)" fill="#b8c2bc" opacity="0.75"/><ellipse cx="1209.5" cy="430.4" rx="4.1" ry="2.0" transform="rotate(157 1209.5 430.4)" fill="#b8c2bc" opacity="0.75"/><ellipse cx="1305.8" cy="503.3" rx="3.0" ry="2.2" transform="rotate(63 1305.8 503.3)" fill="#a9b3ad" opacity="0.75"/><ellipse cx="1268.1" cy="514.7" rx="3.7" ry="1.5" transform="rotate(1 1268.1 514.7)" fill="#c6cec9" opacity="0.75"/><ellipse cx="1207.1" cy="414.4" rx="3.0" ry="2.3" transform="rotate(150 1207.1 414.4)" fill="#a9b3ad" opacity="0.75"/><ellipse cx="1281.4" cy="477.6" rx="3.4" ry="1.5" transform="rotate(35 1281.4 477.6)" fill="#c6cec9" opacity="0.75"/><ellipse cx="1244.6" cy="495.7" rx="3.2" ry="1.9" transform="rotate(16 1244.6 495.7)" fill="#c6cec9" opacity="0.75"/><ellipse cx="1242.8" cy="466.3" rx="3.0" ry="2.3" transform="rotate(166 1242.8 466.3)" fill="#b8c2bc" opacity="0.75"/><ellipse cx="1336.4" cy="479.5" rx="4.8" ry="2.4" transform="rotate(81 1336.4 479.5)" fill="#c6cec9" opacity="0.75"/><ellipse cx="1230.4" cy="454.6" rx="2.9" ry="2.5" transform="rotate(1 1230.4 454.6)" fill="#a9b3ad" opacity="0.75"/><ellipse cx="1295.4" cy="499.5" rx="4.9" ry="2.3" transform="rotate(13 1295.4 499.5)" fill="#a9b3ad" opacity="0.75"/><ellipse cx="1325.7" cy="491.3" rx="3.5" ry="2.0" transform="rotate(76 1325.7 491.3)" fill="#b8c2bc" opacity="0.75"/><ellipse cx="1274.3" cy="469.5" rx="4.5" ry="2.5" transform="rotate(73 1274.3 469.5)" fill="#b8c2bc" opacity="0.75"/><ellipse cx="1333.9" cy="493.3" rx="2.6" ry="1.9" transform="rotate(58 1333.9 493.3)" fill="#a9b3ad" opacity="0.75"/><ellipse cx="1226.8" cy="385.1" rx="2.8" ry="2.5" transform="rotate(168 1226.8 385.1)" fill="#b8c2bc" opacity="0.75"/><ellipse cx="1288.9" cy="369.8" rx="3.7" ry="2.2" transform="rotate(177 1288.9 369.8)" fill="#c6cec9" opacity="0.75"/><ellipse cx="1334.0" cy="450.8" rx="4.0" ry="2.6" transform="rotate(138 1334.0 450.8)" fill="#c0c9c3" opacity="0.75"/><ellipse cx="1337.6" cy="464.3" rx="4.1" ry="1.5" transform="rotate(66 1337.6 464.3)" fill="#a9b3ad" opacity="0.75"/><ellipse cx="1249.2" cy="461.2" rx="4.6" ry="1.7" transform="rotate(142 1249.2 461.2)" fill="#c0c9c3" opacity="0.75"/><ellipse cx="1345.8" cy="440.6" rx="3.5" ry="2.0" transform="rotate(104 1345.8 440.6)" fill="#c0c9c3" opacity="0.75"/><ellipse cx="1265.2" cy="491.4" rx="5.1" ry="2.2" transform="rotate(70 1265.2 491.4)" fill="#b0bab4" opacity="0.75"/><ellipse cx="1203.5" cy="454.7" rx="3.7" ry="1.9" transform="rotate(35 1203.5 454.7)" fill="#b8c2bc" opacity="0.75"/><ellipse cx="1223.9" cy="488.8" rx="5.1" ry="2.7" transform="rotate(59 1223.9 488.8)" fill="#b0bab4" opacity="0.75"/><ellipse cx="1279.8" cy="502.0" rx="3.6" ry="1.6" transform="rotate(173 1279.8 502.0)" fill="#b0bab4" opacity="0.75"/><ellipse cx="1300.1" cy="475.0" rx="4.0" ry="2.6" transform="rotate(18 1300.1 475.0)" fill="#c6cec9" opacity="0.75"/><ellipse cx="1222.2" cy="467.5" rx="4.4" ry="1.6" transform="rotate(115 1222.2 467.5)" fill="#a9b3ad" opacity="0.75"/><ellipse cx="1200.8" cy="422.6" rx="2.7" ry="2.3" transform="rotate(77 1200.8 422.6)" fill="#b8c2bc" opacity="0.75"/><ellipse cx="1224.3" cy="391.1" rx="3.4" ry="2.6" transform="rotate(44 1224.3 391.1)" fill="#b8c2bc" opacity="0.75"/><ellipse cx="1293.1" cy="499.3" rx="4.6" ry="1.7" transform="rotate(22 1293.1 499.3)" fill="#b0bab4" opacity="0.75"/><ellipse cx="1307.7" cy="482.1" rx="3.1" ry="2.4" transform="rotate(12 1307.7 482.1)" fill="#a9b3ad" opacity="0.75"/><ellipse cx="1316.2" cy="387.4" rx="3.7" ry="1.6" transform="rotate(31 1316.2 387.4)" fill="#a9b3ad" opacity="0.75"/><ellipse cx="1226.7" cy="422.4" rx="3.8" ry="2.7" transform="rotate(128 1226.7 422.4)" fill="#b0bab4" opacity="0.75"/><ellipse cx="1219.1" cy="398.8" rx="2.8" ry="1.5" transform="rotate(50 1219.1 398.8)" fill="#c6cec9" opacity="0.75"/><ellipse cx="1246.6" cy="482.0" rx="4.0" ry="1.9" transform="rotate(111 1246.6 482.0)" fill="#c0c9c3" opacity="0.75"/><ellipse cx="1327.8" cy="451.1" rx="4.3" ry="2.5" transform="rotate(77 1327.8 451.1)" fill="#c6cec9" opacity="0.75"/><ellipse cx="1201.0" cy="441.4" rx="4.4" ry="2.1" transform="rotate(84 1201.0 441.4)" fill="#a9b3ad" opacity="0.75"/><ellipse cx="1225.0" cy="459.2" rx="2.7" ry="2.3" transform="rotate(81 1225.0 459.2)" fill="#b8c2bc" opacity="0.75"/><ellipse cx="1251.5" cy="466.2" rx="3.0" ry="2.1" transform="rotate(70 1251.5 466.2)" fill="#a9b3ad" opacity="0.75"/><ellipse cx="1335.1" cy="419.3" rx="4.9" ry="2.7" transform="rotate(133 1335.1 419.3)" fill="#c0c9c3" opacity="0.75"/><ellipse cx="1217.6" cy="431.9" rx="4.4" ry="2.8" transform="rotate(94 1217.6 431.9)" fill="#a9b3ad" opacity="0.75"/><ellipse cx="1295.4" cy="506.8" rx="2.8" ry="2.4" transform="rotate(6 1295.4 506.8)" fill="#b0bab4" opacity="0.75"/><ellipse cx="1313.7" cy="372.5" rx="2.8" ry="2.0" transform="rotate(82 1313.7 372.5)" fill="#c0c9c3" opacity="0.75"/><ellipse cx="1284.1" cy="468.1" rx="4.5" ry="2.4" transform="rotate(151 1284.1 468.1)" fill="#b8c2bc" opacity="0.75"/><ellipse cx="1336.4" cy="454.7" rx="4.4" ry="2.6" transform="rotate(69 1336.4 454.7)" fill="#b8c2bc" opacity="0.75"/><ellipse cx="1318.0" cy="496.1" rx="4.1" ry="1.7" transform="rotate(118 1318.0 496.1)" fill="#a9b3ad" opacity="0.75"/><ellipse cx="1348.5" cy="431.4" rx="4.3" ry="2.0" transform="rotate(114 1348.5 431.4)" fill="#b8c2bc" opacity="0.75"/><ellipse cx="1221.7" cy="436.3" rx="3.5" ry="1.5" transform="rotate(121 1221.7 436.3)" fill="#c6cec9" opacity="0.75"/><ellipse cx="1342.0" cy="471.0" rx="4.1" ry="2.0" transform="rotate(51 1342.0 471.0)" fill="#b8c2bc" opacity="0.75"/><ellipse cx="1332.5" cy="427.4" rx="2.8" ry="2.1" transform="rotate(158 1332.5 427.4)" fill="#b0bab4" opacity="0.75"/><ellipse cx="1329.4" cy="443.9" rx="5.1" ry="2.2" transform="rotate(130 1329.4 443.9)" fill="#c0c9c3" opacity="0.75"/><ellipse cx="1289.1" cy="503.5" rx="2.8" ry="2.7" transform="rotate(136 1289.1 503.5)" fill="#a9b3ad" opacity="0.75"/><ellipse cx="1328.7" cy="421.6" rx="2.7" ry="2.8" transform="rotate(114 1328.7 421.6)" fill="#a9b3ad" opacity="0.75"/><ellipse cx="1318.0" cy="505.0" rx="4.2" ry="1.5" transform="rotate(98 1318.0 505.0)" fill="#a9b3ad" opacity="0.75"/><ellipse cx="1288.1" cy="492.8" rx="2.7" ry="1.7" transform="rotate(179 1288.1 492.8)" fill="#c0c9c3" opacity="0.75"/><ellipse cx="1223.3" cy="389.5" rx="3.0" ry="1.9" transform="rotate(91 1223.3 389.5)" fill="#b0bab4" opacity="0.75"/><ellipse cx="1264.7" cy="468.0" rx="3.3" ry="1.7" transform="rotate(8 1264.7 468.0)" fill="#b8c2bc" opacity="0.75"/><ellipse cx="1215.1" cy="473.4" rx="5.0" ry="2.5" transform="rotate(53 1215.1 473.4)" fill="#c0c9c3" opacity="0.75"/><ellipse cx="1286.0" cy="484.0" rx="4.4" ry="2.3" transform="rotate(53 1286.0 484.0)" fill="#b0bab4" opacity="0.75"/><ellipse cx="1214.0" cy="465.6" rx="4.5" ry="2.1" transform="rotate(79 1214.0 465.6)" fill="#c0c9c3" opacity="0.75"/><ellipse cx="1207.9" cy="451.9" rx="4.0" ry="1.9" transform="rotate(36 1207.9 451.9)" fill="#c6cec9" opacity="0.75"/><ellipse cx="1266.2" cy="482.0" rx="4.6" ry="1.7" transform="rotate(143 1266.2 482.0)" fill="#c0c9c3" opacity="0.75"/><ellipse cx="1324.7" cy="390.6" rx="5.1" ry="2.6" transform="rotate(88 1324.7 390.6)" fill="#b0bab4" opacity="0.75"/><ellipse cx="1285.7" cy="506.6" rx="3.9" ry="2.8" transform="rotate(134 1285.7 506.6)" fill="#c6cec9" opacity="0.75"/><ellipse cx="1236.3" cy="462.7" rx="3.0" ry="2.0" transform="rotate(127 1236.3 462.7)" fill="#b8c2bc" opacity="0.75"/><ellipse cx="1307.7" cy="471.2" rx="3.7" ry="1.7" transform="rotate(130 1307.7 471.2)" fill="#c0c9c3" opacity="0.75"/><ellipse cx="1274.6" cy="473.2" rx="4.6" ry="2.6" transform="rotate(144 1274.6 473.2)" fill="#b0bab4" opacity="0.75"/><ellipse cx="1325.6" cy="388.5" rx="4.5" ry="2.3" transform="rotate(97 1325.6 388.5)" fill="#c6cec9" opacity="0.75"/><ellipse cx="1342.2" cy="473.5" rx="4.1" ry="2.7" transform="rotate(57 1342.2 473.5)" fill="#a9b3ad" opacity="0.75"/><ellipse cx="1340.2" cy="452.1" rx="5.0" ry="1.7" transform="rotate(144 1340.2 452.1)" fill="#b8c2bc" opacity="0.75"/><ellipse cx="1213.9" cy="455.5" rx="4.5" ry="1.8" transform="rotate(20 1213.9 455.5)" fill="#b0bab4" opacity="0.75"/><ellipse cx="1310.0" cy="480.4" rx="4.0" ry="2.6" transform="rotate(63 1310.0 480.4)" fill="#c6cec9" opacity="0.75"/><ellipse cx="1300.0" cy="495.0" rx="4.7" ry="2.4" transform="rotate(166 1300.0 495.0)" fill="#a9b3ad" opacity="0.75"/><ellipse cx="1301.4" cy="506.0" rx="5.1" ry="2.3" transform="rotate(29 1301.4 506.0)" fill="#b8c2bc" opacity="0.75"/><ellipse cx="1303.4" cy="366.5" rx="3.7" ry="2.6" transform="rotate(74 1303.4 366.5)" fill="#c6cec9" opacity="0.75"/><ellipse cx="1218.5" cy="475.1" rx="3.5" ry="2.7" transform="rotate(127 1218.5 475.1)" fill="#c0c9c3" opacity="0.75"/><ellipse cx="1302.3" cy="471.7" rx="4.1" ry="2.7" transform="rotate(113 1302.3 471.7)" fill="#c0c9c3" opacity="0.75"/><ellipse cx="1241.1" cy="382.2" rx="4.0" ry="1.7" transform="rotate(1 1241.1 382.2)" fill="#c0c9c3" opacity="0.75"/><ellipse cx="1205.3" cy="452.5" rx="4.1" ry="2.7" transform="rotate(27 1205.3 452.5)" fill="#c6cec9" opacity="0.75"/><ellipse cx="1244.4" cy="506.8" rx="4.6" ry="1.9" transform="rotate(176 1244.4 506.8)" fill="#b0bab4" opacity="0.75"/><ellipse cx="1254.1" cy="369.1" rx="2.8" ry="2.2" transform="rotate(80 1254.1 369.1)" fill="#c6cec9" opacity="0.75"/><ellipse cx="1239.8" cy="466.7" rx="2.7" ry="2.2" transform="rotate(118 1239.8 466.7)" fill="#c0c9c3" opacity="0.75"/><ellipse cx="1272.3" cy="470.7" rx="3.6" ry="2.1" transform="rotate(51 1272.3 470.7)" fill="#c6cec9" opacity="0.75"/><ellipse cx="1237.4" cy="452.1" rx="4.3" ry="2.7" transform="rotate(147 1237.4 452.1)" fill="#b8c2bc" opacity="0.75"/><ellipse cx="1342.3" cy="453.7" rx="4.4" ry="1.7" transform="rotate(2 1342.3 453.7)" fill="#a9b3ad" opacity="0.75"/><ellipse cx="1322.5" cy="449.6" rx="2.6" ry="2.2" transform="rotate(92 1322.5 449.6)" fill="#c6cec9" opacity="0.75"/><ellipse cx="1297.9" cy="487.5" rx="5.1" ry="1.9" transform="rotate(104 1297.9 487.5)" fill="#b0bab4" opacity="0.75"/><ellipse cx="1339.8" cy="456.3" rx="4.2" ry="2.3" transform="rotate(5 1339.8 456.3)" fill="#c6cec9" opacity="0.75"/><ellipse cx="1223.3" cy="470.8" rx="3.3" ry="1.7" transform="rotate(92 1223.3 470.8)" fill="#a9b3ad" opacity="0.75"/><ellipse cx="1232.9" cy="450.9" rx="4.1" ry="2.6" transform="rotate(150 1232.9 450.9)" fill="#b0bab4" opacity="0.75"/><ellipse cx="1229.7" cy="397.3" rx="2.8" ry="2.0" transform="rotate(11 1229.7 397.3)" fill="#a9b3ad" opacity="0.75"/><ellipse cx="1231.1" cy="457.7" rx="4.1" ry="1.8" transform="rotate(136 1231.1 457.7)" fill="#b0bab4" opacity="0.75"/><ellipse cx="1244.5" cy="498.9" rx="4.6" ry="2.8" transform="rotate(88 1244.5 498.9)" fill="#b0bab4" opacity="0.75"/><ellipse cx="1328.3" cy="434.3" rx="3.4" ry="2.7" transform="rotate(89 1328.3 434.3)" fill="#a9b3ad" opacity="0.75"/><ellipse cx="1244.0" cy="501.1" rx="3.8" ry="1.6" transform="rotate(12 1244.0 501.1)" fill="#c0c9c3" opacity="0.75"/><ellipse cx="1282.0" cy="364.0" rx="5.1" ry="2.4" transform="rotate(177 1282.0 364.0)" fill="#b8c2bc" opacity="0.75"/><ellipse cx="1217.4" cy="486.5" rx="4.3" ry="2.7" transform="rotate(14 1217.4 486.5)" fill="#c0c9c3" opacity="0.75"/><ellipse cx="1346.8" cy="456.4" rx="4.9" ry="2.8" transform="rotate(70 1346.8 456.4)" fill="#a9b3ad" opacity="0.75"/><ellipse cx="1285.1" cy="365.8" rx="4.1" ry="2.4" transform="rotate(56 1285.1 365.8)" fill="#b8c2bc" opacity="0.75"/><ellipse cx="1211.8" cy="416.3" rx="3.4" ry="2.3" transform="rotate(164 1211.8 416.3)" fill="#b0bab4" opacity="0.75"/><ellipse cx="1317.4" cy="473.3" rx="2.7" ry="2.2" transform="rotate(158 1317.4 473.3)" fill="#b0bab4" opacity="0.75"/><ellipse cx="1347.0" cy="468.2" rx="5.0" ry="2.4" transform="rotate(114 1347.0 468.2)" fill="#a9b3ad" opacity="0.75"/><ellipse cx="1242.6" cy="470.5" rx="2.8" ry="1.7" transform="rotate(69 1242.6 470.5)" fill="#c0c9c3" opacity="0.75"/><ellipse cx="1258.1" cy="471.3" rx="3.0" ry="2.8" transform="rotate(65 1258.1 471.3)" fill="#b0bab4" opacity="0.75"/><ellipse cx="1305.5" cy="477.4" rx="4.3" ry="2.3" transform="rotate(167 1305.5 477.4)" fill="#b0bab4" opacity="0.75"/><ellipse cx="1207.5" cy="466.5" rx="4.7" ry="1.8" transform="rotate(179 1207.5 466.5)" fill="#c6cec9" opacity="0.75"/><ellipse cx="1301.3" cy="513.2" rx="3.4" ry="1.6" transform="rotate(129 1301.3 513.2)" fill="#b8c2bc" opacity="0.75"/><ellipse cx="1237.7" cy="479.8" rx="4.9" ry="2.2" transform="rotate(130 1237.7 479.8)" fill="#c0c9c3" opacity="0.75"/><ellipse cx="1204.7" cy="421.5" rx="4.4" ry="1.6" transform="rotate(93 1204.7 421.5)" fill="#b8c2bc" opacity="0.75"/><ellipse cx="1241.0" cy="375.9" rx="4.7" ry="1.6" transform="rotate(76 1241.0 375.9)" fill="#c6cec9" opacity="0.75"/><ellipse cx="1310.4" cy="481.9" rx="2.9" ry="1.7" transform="rotate(55 1310.4 481.9)" fill="#b8c2bc" opacity="0.75"/><ellipse cx="1341.7" cy="426.2" rx="3.3" ry="2.3" transform="rotate(77 1341.7 426.2)" fill="#b0bab4" opacity="0.75"/><ellipse cx="1222.9" cy="493.7" rx="3.1" ry="1.5" transform="rotate(26 1222.9 493.7)" fill="#c6cec9" opacity="0.75"/><ellipse cx="1237.1" cy="454.7" rx="3.5" ry="2.6" transform="rotate(122 1237.1 454.7)" fill="#c6cec9" opacity="0.75"/><ellipse cx="1219.2" cy="451.2" rx="3.6" ry="2.1" transform="rotate(103 1219.2 451.2)" fill="#a9b3ad" opacity="0.75"/><ellipse cx="1355.4" cy="448.7" rx="3.2" ry="2.2" transform="rotate(7 1355.4 448.7)" fill="#a9b3ad" opacity="0.75"/><ellipse cx="1271.9" cy="503.6" rx="2.7" ry="2.5" transform="rotate(6 1271.9 503.6)" fill="#c6cec9" opacity="0.75"/><ellipse cx="1224.2" cy="396.8" rx="4.3" ry="2.4" transform="rotate(19 1224.2 396.8)" fill="#b8c2bc" opacity="0.75"/><ellipse cx="1295.5" cy="483.5" rx="4.5" ry="2.5" transform="rotate(93 1295.5 483.5)" fill="#a9b3ad" opacity="0.75"/><ellipse cx="1235.8" cy="472.5" rx="3.8" ry="1.6" transform="rotate(141 1235.8 472.5)" fill="#b8c2bc" opacity="0.75"/><ellipse cx="1276.9" cy="367.2" rx="4.3" ry="2.4" transform="rotate(24 1276.9 367.2)" fill="#b8c2bc" opacity="0.75"/><ellipse cx="1328.9" cy="482.0" rx="4.8" ry="1.6" transform="rotate(150 1328.9 482.0)" fill="#b0bab4" opacity="0.75"/><ellipse cx="1291.1" cy="479.3" rx="4.9" ry="1.6" transform="rotate(20 1291.1 479.3)" fill="#c6cec9" opacity="0.75"/><ellipse cx="1343.5" cy="472.8" rx="5.0" ry="1.7" transform="rotate(49 1343.5 472.8)" fill="#b8c2bc" opacity="0.75"/><ellipse cx="1329.5" cy="452.2" rx="4.5" ry="2.4" transform="rotate(138 1329.5 452.2)" fill="#c0c9c3" opacity="0.75"/><ellipse cx="1213.6" cy="456.6" rx="3.7" ry="2.1" transform="rotate(54 1213.6 456.6)" fill="#c0c9c3" opacity="0.75"/><ellipse cx="1235.6" cy="500.3" rx="3.5" ry="1.8" transform="rotate(78 1235.6 500.3)" fill="#c6cec9" opacity="0.75"/><ellipse cx="1207.0" cy="472.4" rx="4.5" ry="2.5" transform="rotate(122 1207.0 472.4)" fill="#a9b3ad" opacity="0.75"/><ellipse cx="1317.7" cy="497.7" rx="4.8" ry="1.8" transform="rotate(37 1317.7 497.7)" fill="#b8c2bc" opacity="0.75"/><ellipse cx="1239.6" cy="375.9" rx="5.1" ry="2.7" transform="rotate(146 1239.6 375.9)" fill="#b0bab4" opacity="0.75"/><ellipse cx="1286.1" cy="485.5" rx="4.4" ry="1.6" transform="rotate(74 1286.1 485.5)" fill="#a9b3ad" opacity="0.75"/><ellipse cx="1292.4" cy="472.4" rx="5.2" ry="1.6" transform="rotate(64 1292.4 472.4)" fill="#b0bab4" opacity="0.75"/><ellipse cx="1278.0" cy="493.4" rx="3.7" ry="2.2" transform="rotate(9 1278.0 493.4)" fill="#a9b3ad" opacity="0.75"/><ellipse cx="1216.0" cy="450.4" rx="4.9" ry="2.5" transform="rotate(47 1216.0 450.4)" fill="#b0bab4" opacity="0.75"/><ellipse cx="1219.3" cy="474.2" rx="3.3" ry="2.8" transform="rotate(155 1219.3 474.2)" fill="#c6cec9" opacity="0.75"/><ellipse cx="1325.6" cy="466.1" rx="3.7" ry="2.7" transform="rotate(136 1325.6 466.1)" fill="#a9b3ad" opacity="0.75"/><ellipse cx="1346.5" cy="457.6" rx="2.9" ry="2.1" transform="rotate(59 1346.5 457.6)" fill="#b8c2bc" opacity="0.75"/><ellipse cx="1238.8" cy="379.3" rx="3.4" ry="2.8" transform="rotate(11 1238.8 379.3)" fill="#c6cec9" opacity="0.75"/><ellipse cx="1256.0" cy="492.3" rx="4.1" ry="2.2" transform="rotate(67 1256.0 492.3)" fill="#b0bab4" opacity="0.75"/><ellipse cx="1329.6" cy="487.8" rx="3.3" ry="2.3" transform="rotate(37 1329.6 487.8)" fill="#c6cec9" opacity="0.75"/><ellipse cx="1218.0" cy="389.7" rx="3.8" ry="1.9" transform="rotate(79 1218.0 389.7)" fill="#b0bab4" opacity="0.75"/><ellipse cx="1255.9" cy="498.0" rx="4.5" ry="2.4" transform="rotate(6 1255.9 498.0)" fill="#c6cec9" opacity="0.75"/><ellipse cx="1303.7" cy="475.9" rx="3.3" ry="2.0" transform="rotate(108 1303.7 475.9)" fill="#c0c9c3" opacity="0.75"/><ellipse cx="1270.9" cy="501.3" rx="4.7" ry="2.4" transform="rotate(83 1270.9 501.3)" fill="#a9b3ad" opacity="0.75"/><ellipse cx="1211.4" cy="416.0" rx="3.7" ry="2.0" transform="rotate(116 1211.4 416.0)" fill="#c0c9c3" opacity="0.75"/><ellipse cx="1297.6" cy="489.4" rx="4.4" ry="1.6" transform="rotate(146 1297.6 489.4)" fill="#b8c2bc" opacity="0.75"/><ellipse cx="1288.0" cy="365.9" rx="3.1" ry="2.3" transform="rotate(89 1288.0 365.9)" fill="#b0bab4" opacity="0.75"/><ellipse cx="1227.0" cy="453.1" rx="2.7" ry="2.2" transform="rotate(141 1227.0 453.1)" fill="#c0c9c3" opacity="0.75"/><ellipse cx="1328.4" cy="475.2" rx="4.3" ry="2.2" transform="rotate(33 1328.4 475.2)" fill="#b0bab4" opacity="0.75"/><ellipse cx="1313.7" cy="493.9" rx="4.8" ry="2.5" transform="rotate(137 1313.7 493.9)" fill="#c0c9c3" opacity="0.75"/><ellipse cx="1336.6" cy="432.1" rx="4.2" ry="2.7" transform="rotate(60 1336.6 432.1)" fill="#b0bab4" opacity="0.75"/><ellipse cx="1221.2" cy="486.5" rx="5.0" ry="2.7" transform="rotate(72 1221.2 486.5)" fill="#a9b3ad" opacity="0.75"/><ellipse cx="1323.5" cy="385.0" rx="4.3" ry="1.9" transform="rotate(132 1323.5 385.0)" fill="#c6cec9" opacity="0.75"/><ellipse cx="1335.3" cy="469.6" rx="3.6" ry="2.3" transform="rotate(90 1335.3 469.6)" fill="#a9b3ad" opacity="0.75"/><ellipse cx="1336.3" cy="441.2" rx="4.8" ry="2.3" transform="rotate(142 1336.3 441.2)" fill="#a9b3ad" opacity="0.75"/><ellipse cx="1334.0" cy="492.0" rx="3.5" ry="2.0" transform="rotate(171 1334.0 492.0)" fill="#c6cec9" opacity="0.75"/><ellipse cx="1329.5" cy="405.9" rx="4.8" ry="2.7" transform="rotate(163 1329.5 405.9)" fill="#c0c9c3" opacity="0.75"/><ellipse cx="1340.8" cy="431.3" rx="3.6" ry="2.2" transform="rotate(11 1340.8 431.3)" fill="#a9b3ad" opacity="0.75"/><ellipse cx="1222.3" cy="425.9" rx="4.4" ry="2.5" transform="rotate(157 1222.3 425.9)" fill="#c0c9c3" opacity="0.75"/><ellipse cx="1221.7" cy="407.5" rx="3.7" ry="2.3" transform="rotate(9 1221.7 407.5)" fill="#b0bab4" opacity="0.75"/><ellipse cx="1258.0" cy="487.5" rx="5.1" ry="1.6" transform="rotate(73 1258.0 487.5)" fill="#a9b3ad" opacity="0.75"/><ellipse cx="1220.1" cy="470.1" rx="3.7" ry="2.7" transform="rotate(87 1220.1 470.1)" fill="#a9b3ad" opacity="0.75"/><ellipse cx="1270.8" cy="477.4" rx="3.2" ry="1.6" transform="rotate(139 1270.8 477.4)" fill="#c6cec9" opacity="0.75"/><ellipse cx="1228.7" cy="499.8" rx="3.1" ry="1.9" transform="rotate(88 1228.7 499.8)" fill="#a9b3ad" opacity="0.75"/><ellipse cx="1246.7" cy="491.9" rx="2.7" ry="1.9" transform="rotate(56 1246.7 491.9)" fill="#b0bab4" opacity="0.75"/><ellipse cx="1320.3" cy="470.2" rx="3.5" ry="2.2" transform="rotate(101 1320.3 470.2)" fill="#a9b3ad" opacity="0.75"/><ellipse cx="1228.5" cy="462.3" rx="2.9" ry="2.5" transform="rotate(136 1228.5 462.3)" fill="#b0bab4" opacity="0.75"/><ellipse cx="1227.8" cy="472.4" rx="4.5" ry="2.7" transform="rotate(142 1227.8 472.4)" fill="#c6cec9" opacity="0.75"/><ellipse cx="1265.4" cy="485.4" rx="3.9" ry="2.6" transform="rotate(37 1265.4 485.4)" fill="#a9b3ad" opacity="0.75"/><ellipse cx="1313.8" cy="464.1" rx="4.9" ry="2.3" transform="rotate(169 1313.8 464.1)" fill="#b0bab4" opacity="0.75"/><ellipse cx="1226.7" cy="411.2" rx="5.1" ry="2.2" transform="rotate(119 1226.7 411.2)" fill="#b0bab4" opacity="0.75"/><ellipse cx="1283.3" cy="490.2" rx="2.8" ry="2.0" transform="rotate(22 1283.3 490.2)" fill="#c6cec9" opacity="0.75"/><ellipse cx="1325.7" cy="453.9" rx="4.2" ry="2.2" transform="rotate(162 1325.7 453.9)" fill="#c6cec9" opacity="0.75"/><ellipse cx="1259.8" cy="492.9" rx="3.9" ry="1.9" transform="rotate(17 1259.8 492.9)" fill="#c6cec9" opacity="0.75"/><ellipse cx="1341.8" cy="417.0" rx="3.4" ry="2.7" transform="rotate(158 1341.8 417.0)" fill="#c6cec9" opacity="0.75"/><ellipse cx="1349.1" cy="450.4" rx="4.0" ry="2.0" transform="rotate(145 1349.1 450.4)" fill="#a9b3ad" opacity="0.75"/><ellipse cx="1206.1" cy="445.7" rx="4.1" ry="2.4" transform="rotate(105 1206.1 445.7)" fill="#c0c9c3" opacity="0.75"/><ellipse cx="1240.0" cy="497.3" rx="4.0" ry="2.6" transform="rotate(134 1240.0 497.3)" fill="#a9b3ad" opacity="0.75"/><ellipse cx="1265.8" cy="512.8" rx="3.3" ry="1.7" transform="rotate(44 1265.8 512.8)" fill="#b0bab4" opacity="0.75"/><ellipse cx="1298.5" cy="470.7" rx="3.5" ry="2.6" transform="rotate(64 1298.5 470.7)" fill="#b0bab4" opacity="0.75"/><ellipse cx="1328.6" cy="405.2" rx="3.2" ry="1.8" transform="rotate(63 1328.6 405.2)" fill="#b8c2bc" opacity="0.75"/><ellipse cx="1227.3" cy="431.5" rx="4.9" ry="2.3" transform="rotate(68 1227.3 431.5)" fill="#b0bab4" opacity="0.75"/><ellipse cx="1257.4" cy="480.4" rx="3.6" ry="2.8" transform="rotate(65 1257.4 480.4)" fill="#b0bab4" opacity="0.75"/><ellipse cx="1202.3" cy="419.8" rx="3.8" ry="2.1" transform="rotate(29 1202.3 419.8)" fill="#b8c2bc" opacity="0.75"/><ellipse cx="1214.7" cy="448.2" rx="2.7" ry="2.5" transform="rotate(80 1214.7 448.2)" fill="#c0c9c3" opacity="0.75"/><ellipse cx="1269.6" cy="495.8" rx="3.1" ry="2.0" transform="rotate(176 1269.6 495.8)" fill="#c0c9c3" opacity="0.75"/><ellipse cx="1337.9" cy="451.1" rx="4.0" ry="2.1" transform="rotate(53 1337.9 451.1)" fill="#c6cec9" opacity="0.75"/><ellipse cx="1209.5" cy="462.6" rx="3.0" ry="1.6" transform="rotate(92 1209.5 462.6)" fill="#b0bab4" opacity="0.75"/><ellipse cx="1279.1" cy="504.1" rx="4.7" ry="2.4" transform="rotate(129 1279.1 504.1)" fill="#c0c9c3" opacity="0.75"/><ellipse cx="1244.1" cy="499.7" rx="3.6" ry="2.1" transform="rotate(114 1244.1 499.7)" fill="#c0c9c3" opacity="0.75"/><ellipse cx="1299.3" cy="504.0" rx="3.5" ry="1.6" transform="rotate(125 1299.3 504.0)" fill="#c6cec9" opacity="0.75"/><ellipse cx="1339.8" cy="400.1" rx="3.1" ry="2.4" transform="rotate(161 1339.8 400.1)" fill="#b8c2bc" opacity="0.75"/><ellipse cx="1294.0" cy="495.0" rx="4.5" ry="2.6" transform="rotate(17 1294.0 495.0)" fill="#c6cec9" opacity="0.75"/><ellipse cx="1347.4" cy="413.5" rx="4.5" ry="2.2" transform="rotate(88 1347.4 413.5)" fill="#c0c9c3" opacity="0.75"/><ellipse cx="1351.6" cy="451.2" rx="5.0" ry="1.9" transform="rotate(152 1351.6 451.2)" fill="#b0bab4" opacity="0.75"/><ellipse cx="1291.1" cy="515.2" rx="3.5" ry="2.4" transform="rotate(35 1291.1 515.2)" fill="#c6cec9" opacity="0.75"/><ellipse cx="1229.6" cy="477.6" rx="3.5" ry="2.0" transform="rotate(65 1229.6 477.6)" fill="#c6cec9" opacity="0.75"/><ellipse cx="1290.8" cy="491.8" rx="4.7" ry="2.4" transform="rotate(153 1290.8 491.8)" fill="#c6cec9" opacity="0.75"/><ellipse cx="1224.8" cy="495.0" rx="3.9" ry="2.1" transform="rotate(132 1224.8 495.0)" fill="#a9b3ad" opacity="0.75"/><ellipse cx="1255.7" cy="500.7" rx="3.3" ry="2.7" transform="rotate(128 1255.7 500.7)" fill="#b8c2bc" opacity="0.75"/><ellipse cx="1344.6" cy="428.1" rx="4.4" ry="2.4" transform="rotate(45 1344.6 428.1)" fill="#c0c9c3" opacity="0.75"/><ellipse cx="1351.1" cy="430.4" rx="4.6" ry="1.5" transform="rotate(48 1351.1 430.4)" fill="#a9b3ad" opacity="0.75"/><ellipse cx="1251.8" cy="498.0" rx="4.4" ry="1.8" transform="rotate(175 1251.8 498.0)" fill="#c6cec9" opacity="0.75"/><ellipse cx="1205.3" cy="466.6" rx="5.0" ry="1.5" transform="rotate(23 1205.3 466.6)" fill="#a9b3ad" opacity="0.75"/><ellipse cx="1287.4" cy="510.1" rx="4.1" ry="2.1" transform="rotate(146 1287.4 510.1)" fill="#a9b3ad" opacity="0.75"/><ellipse cx="1234.8" cy="452.3" rx="4.4" ry="2.6" transform="rotate(73 1234.8 452.3)" fill="#c0c9c3" opacity="0.75"/><ellipse cx="1236.1" cy="376.7" rx="5.2" ry="2.4" transform="rotate(128 1236.1 376.7)" fill="#a9b3ad" opacity="0.75"/><ellipse cx="1332.8" cy="481.2" rx="4.0" ry="2.7" transform="rotate(123 1332.8 481.2)" fill="#b0bab4" opacity="0.75"/><ellipse cx="1208.3" cy="412.3" rx="3.8" ry="1.9" transform="rotate(161 1208.3 412.3)" fill="#c6cec9" opacity="0.75"/><ellipse cx="1310.4" cy="484.6" rx="3.6" ry="2.7" transform="rotate(88 1310.4 484.6)" fill="#c6cec9" opacity="0.75"/><ellipse cx="1352.0" cy="449.0" rx="4.8" ry="2.0" transform="rotate(156 1352.0 449.0)" fill="#b8c2bc" opacity="0.75"/><ellipse cx="1348.8" cy="471.4" rx="3.6" ry="1.7" transform="rotate(90 1348.8 471.4)" fill="#a9b3ad" opacity="0.75"/><ellipse cx="1233.5" cy="456.0" rx="3.8" ry="2.5" transform="rotate(36 1233.5 456.0)" fill="#c0c9c3" opacity="0.75"/><ellipse cx="1256.1" cy="371.3" rx="4.6" ry="1.8" transform="rotate(112 1256.1 371.3)" fill="#a9b3ad" opacity="0.75"/><ellipse cx="1231.5" cy="488.8" rx="3.7" ry="1.7" transform="rotate(76 1231.5 488.8)" fill="#a9b3ad" opacity="0.75"/><ellipse cx="1277.0" cy="487.6" rx="3.0" ry="2.7" transform="rotate(145 1277.0 487.6)" fill="#b0bab4" opacity="0.75"/><ellipse cx="1253.7" cy="376.1" rx="3.0" ry="1.6" transform="rotate(109 1253.7 376.1)" fill="#b8c2bc" opacity="0.75"/><ellipse cx="1315.3" cy="380.2" rx="3.3" ry="2.7" transform="rotate(156 1315.3 380.2)" fill="#a9b3ad" opacity="0.75"/><ellipse cx="1296.0" cy="470.1" rx="3.0" ry="2.1" transform="rotate(122 1296.0 470.1)" fill="#b0bab4" opacity="0.75"/><ellipse cx="1216.0" cy="448.3" rx="5.1" ry="1.8" transform="rotate(68 1216.0 448.3)" fill="#c0c9c3" opacity="0.75"/><ellipse cx="1280.4" cy="360.7" rx="4.8" ry="2.8" transform="rotate(79 1280.4 360.7)" fill="#b8c2bc" opacity="0.75"/><ellipse cx="1331.4" cy="429.3" rx="4.6" ry="1.8" transform="rotate(130 1331.4 429.3)" fill="#b0bab4" opacity="0.75"/><ellipse cx="1207.1" cy="436.9" rx="4.8" ry="2.5" transform="rotate(55 1207.1 436.9)" fill="#b0bab4" opacity="0.75"/><ellipse cx="1234.9" cy="380.4" rx="2.9" ry="2.0" transform="rotate(137 1234.9 380.4)" fill="#c0c9c3" opacity="0.75"/><ellipse cx="1260.0" cy="467.1" rx="4.4" ry="2.8" transform="rotate(103 1260.0 467.1)" fill="#c0c9c3" opacity="0.75"/><ellipse cx="1282.4" cy="510.8" rx="3.7" ry="1.7" transform="rotate(25 1282.4 510.8)" fill="#b8c2bc" opacity="0.75"/><ellipse cx="1300.4" cy="487.5" rx="4.7" ry="2.1" transform="rotate(94 1300.4 487.5)" fill="#c0c9c3" opacity="0.75"/><ellipse cx="1208.4" cy="425.1" rx="4.2" ry="2.4" transform="rotate(96 1208.4 425.1)" fill="#b8c2bc" opacity="0.75"/><ellipse cx="1288.1" cy="490.2" rx="4.1" ry="2.6" transform="rotate(78 1288.1 490.2)" fill="#a9b3ad" opacity="0.75"/><ellipse cx="1217.9" cy="450.1" rx="3.4" ry="2.6" transform="rotate(78 1217.9 450.1)" fill="#c0c9c3" opacity="0.75"/><ellipse cx="1208.6" cy="438.6" rx="4.9" ry="2.8" transform="rotate(36 1208.6 438.6)" fill="#b0bab4" opacity="0.75"/><ellipse cx="1351.7" cy="431.7" rx="3.7" ry="1.7" transform="rotate(50 1351.7 431.7)" fill="#c6cec9" opacity="0.75"/><ellipse cx="1284.5" cy="471.0" rx="3.3" ry="2.8" transform="rotate(116 1284.5 471.0)" fill="#c0c9c3" opacity="0.75"/><ellipse cx="1235.9" cy="464.9" rx="4.7" ry="1.8" transform="rotate(28 1235.9 464.9)" fill="#a9b3ad" opacity="0.75"/><ellipse cx="1315.4" cy="380.3" rx="2.7" ry="2.2" transform="rotate(115 1315.4 380.3)" fill="#c0c9c3" opacity="0.75"/><ellipse cx="1220.5" cy="477.0" rx="4.9" ry="2.6" transform="rotate(134 1220.5 477.0)" fill="#c6cec9" opacity="0.75"/><ellipse cx="1323.9" cy="388.9" rx="5.1" ry="1.9" transform="rotate(98 1323.9 388.9)" fill="#c6cec9" opacity="0.75"/><ellipse cx="1250.2" cy="505.0" rx="5.1" ry="2.5" transform="rotate(82 1250.2 505.0)" fill="#c0c9c3" opacity="0.75"/><ellipse cx="1226.3" cy="431.1" rx="5.2" ry="2.2" transform="rotate(144 1226.3 431.1)" fill="#b0bab4" opacity="0.75"/><ellipse cx="1246.4" cy="379.6" rx="4.2" ry="2.7" transform="rotate(77 1246.4 379.6)" fill="#a9b3ad" opacity="0.75"/><ellipse cx="1240.9" cy="466.5" rx="3.6" ry="2.2" transform="rotate(162 1240.9 466.5)" fill="#a9b3ad" opacity="0.75"/><ellipse cx="1343.7" cy="477.5" rx="4.5" ry="2.7" transform="rotate(109 1343.7 477.5)" fill="#c6cec9" opacity="0.75"/><ellipse cx="1227.8" cy="387.2" rx="4.8" ry="2.6" transform="rotate(12 1227.8 387.2)" fill="#b8c2bc" opacity="0.75"/><ellipse cx="1333.6" cy="448.6" rx="3.2" ry="1.9" transform="rotate(91 1333.6 448.6)" fill="#c0c9c3" opacity="0.75"/><ellipse cx="1235.3" cy="443.3" rx="3.0" ry="2.2" transform="rotate(1 1235.3 443.3)" fill="#b0bab4" opacity="0.75"/><ellipse cx="1333.0" cy="484.0" rx="4.4" ry="2.2" transform="rotate(64 1333.0 484.0)" fill="#b8c2bc" opacity="0.75"/><ellipse cx="1338.1" cy="398.8" rx="3.0" ry="1.9" transform="rotate(76 1338.1 398.8)" fill="#c0c9c3" opacity="0.75"/><ellipse cx="1314.0" cy="489.6" rx="3.9" ry="1.7" transform="rotate(130 1314.0 489.6)" fill="#a9b3ad" opacity="0.75"/><ellipse cx="1238.9" cy="469.8" rx="4.9" ry="2.6" transform="rotate(48 1238.9 469.8)" fill="#c6cec9" opacity="0.75"/><ellipse cx="1345.6" cy="451.6" rx="3.7" ry="1.5" transform="rotate(40 1345.6 451.6)" fill="#c0c9c3" opacity="0.75"/><ellipse cx="1265.0" cy="492.3" rx="5.1" ry="2.3" transform="rotate(10 1265.0 492.3)" fill="#b0bab4" opacity="0.75"/><ellipse cx="1333.1" cy="414.6" rx="2.6" ry="2.2" transform="rotate(61 1333.1 414.6)" fill="#b0bab4" opacity="0.75"/><ellipse cx="1338.6" cy="463.6" rx="4.7" ry="2.8" transform="rotate(70 1338.6 463.6)" fill="#c6cec9" opacity="0.75"/><ellipse cx="1317.4" cy="501.2" rx="3.3" ry="2.6" transform="rotate(155 1317.4 501.2)" fill="#b8c2bc" opacity="0.75"/><ellipse cx="1217.1" cy="426.1" rx="3.2" ry="1.6" transform="rotate(34 1217.1 426.1)" fill="#b0bab4" opacity="0.75"/><ellipse cx="1302.1" cy="491.3" rx="4.0" ry="1.9" transform="rotate(118 1302.1 491.3)" fill="#a9b3ad" opacity="0.75"/><ellipse cx="1345.5" cy="401.6" rx="4.3" ry="2.6" transform="rotate(64 1345.5 401.6)" fill="#b8c2bc" opacity="0.75"/><ellipse cx="1341.9" cy="393.8" rx="3.1" ry="1.7" transform="rotate(150 1341.9 393.8)" fill="#c6cec9" opacity="0.75"/><ellipse cx="1282.1" cy="494.9" rx="4.4" ry="2.5" transform="rotate(163 1282.1 494.9)" fill="#b8c2bc" opacity="0.75"/><ellipse cx="1279.5" cy="505.8" rx="4.1" ry="2.0" transform="rotate(89 1279.5 505.8)" fill="#b8c2bc" opacity="0.75"/><ellipse cx="1256.8" cy="476.6" rx="3.0" ry="2.2" transform="rotate(71 1256.8 476.6)" fill="#c6cec9" opacity="0.75"/><ellipse cx="1230.3" cy="391.3" rx="4.1" ry="2.7" transform="rotate(40 1230.3 391.3)" fill="#c6cec9" opacity="0.75"/><ellipse cx="1211.0" cy="459.4" rx="2.9" ry="1.6" transform="rotate(144 1211.0 459.4)" fill="#c0c9c3" opacity="0.75"/><ellipse cx="1330.5" cy="414.9" rx="3.7" ry="1.8" transform="rotate(180 1330.5 414.9)" fill="#c0c9c3" opacity="0.75"/><ellipse cx="1307.1" cy="481.0" rx="4.0" ry="2.4" transform="rotate(62 1307.1 481.0)" fill="#b0bab4" opacity="0.75"/><ellipse cx="1319.0" cy="464.9" rx="4.2" ry="2.3" transform="rotate(47 1319.0 464.9)" fill="#c0c9c3" opacity="0.75"/><ellipse cx="1323.2" cy="473.0" rx="5.1" ry="2.7" transform="rotate(114 1323.2 473.0)" fill="#b0bab4" opacity="0.75"/><ellipse cx="1233.5" cy="457.9" rx="4.1" ry="2.2" transform="rotate(114 1233.5 457.9)" fill="#c0c9c3" opacity="0.75"/><ellipse cx="1218.3" cy="426.0" rx="3.0" ry="1.5" transform="rotate(118 1218.3 426.0)" fill="#a9b3ad" opacity="0.75"/><ellipse cx="1292.1" cy="503.1" rx="5.0" ry="2.0" transform="rotate(58 1292.1 503.1)" fill="#c0c9c3" opacity="0.75"/><ellipse cx="1251.8" cy="481.7" rx="4.7" ry="1.9" transform="rotate(76 1251.8 481.7)" fill="#b8c2bc" opacity="0.75"/><ellipse cx="1293.5" cy="468.9" rx="2.7" ry="2.7" transform="rotate(140 1293.5 468.9)" fill="#a9b3ad" opacity="0.75"/><ellipse cx="1213.9" cy="447.9" rx="3.7" ry="2.2" transform="rotate(61 1213.9 447.9)" fill="#a9b3ad" opacity="0.75"/><ellipse cx="1266.4" cy="495.4" rx="3.6" ry="2.4" transform="rotate(120 1266.4 495.4)" fill="#b8c2bc" opacity="0.75"/><ellipse cx="1325.1" cy="493.6" rx="4.6" ry="2.1" transform="rotate(6 1325.1 493.6)" fill="#a9b3ad" opacity="0.75"/><ellipse cx="1283.1" cy="472.1" rx="3.8" ry="2.1" transform="rotate(89 1283.1 472.1)" fill="#b8c2bc" opacity="0.75"/><ellipse cx="1282.9" cy="486.2" rx="2.8" ry="2.2" transform="rotate(35 1282.9 486.2)" fill="#b0bab4" opacity="0.75"/><ellipse cx="1352.1" cy="425.8" rx="4.2" ry="2.4" transform="rotate(127 1352.1 425.8)" fill="#c6cec9" opacity="0.75"/><ellipse cx="1309.3" cy="508.2" rx="4.6" ry="1.6" transform="rotate(130 1309.3 508.2)" fill="#b0bab4" opacity="0.75"/><ellipse cx="1334.2" cy="406.1" rx="3.7" ry="1.8" transform="rotate(33 1334.2 406.1)" fill="#c6cec9" opacity="0.75"/><ellipse cx="1343.7" cy="399.7" rx="3.4" ry="1.6" transform="rotate(100 1343.7 399.7)" fill="#b0bab4" opacity="0.75"/><ellipse cx="1234.1" cy="444.5" rx="2.7" ry="1.9" transform="rotate(8 1234.1 444.5)" fill="#c6cec9" opacity="0.75"/><ellipse cx="1334.4" cy="479.3" rx="4.4" ry="1.8" transform="rotate(29 1334.4 479.3)" fill="#c0c9c3" opacity="0.75"/><ellipse cx="1334.5" cy="440.5" rx="3.1" ry="1.7" transform="rotate(58 1334.5 440.5)" fill="#b8c2bc" opacity="0.75"/><ellipse cx="1279.2" cy="507.1" rx="2.7" ry="2.6" transform="rotate(135 1279.2 507.1)" fill="#b8c2bc" opacity="0.75"/><ellipse cx="1210.6" cy="400.8" rx="3.3" ry="2.5" transform="rotate(137 1210.6 400.8)" fill="#c6cec9" opacity="0.75"/><ellipse cx="1343.5" cy="467.0" rx="4.5" ry="2.3" transform="rotate(87 1343.5 467.0)" fill="#c0c9c3" opacity="0.75"/><ellipse cx="1263.6" cy="467.7" rx="3.1" ry="2.0" transform="rotate(83 1263.6 467.7)" fill="#a9b3ad" opacity="0.75"/><ellipse cx="1314.7" cy="503.1" rx="5.1" ry="2.7" transform="rotate(159 1314.7 503.1)" fill="#c6cec9" opacity="0.75"/><ellipse cx="1246.7" cy="497.8" rx="3.9" ry="2.1" transform="rotate(59 1246.7 497.8)" fill="#c6cec9" opacity="0.75"/><ellipse cx="1326.4" cy="460.0" rx="4.9" ry="2.1" transform="rotate(161 1326.4 460.0)" fill="#b8c2bc" opacity="0.75"/><ellipse cx="1335.1" cy="443.7" rx="3.5" ry="2.7" transform="rotate(30 1335.1 443.7)" fill="#b8c2bc" opacity="0.75"/><ellipse cx="1223.3" cy="431.7" rx="5.2" ry="2.2" transform="rotate(66 1223.3 431.7)" fill="#c6cec9" opacity="0.75"/><ellipse cx="1231.0" cy="434.1" rx="4.0" ry="2.3" transform="rotate(165 1231.0 434.1)" fill="#c0c9c3" opacity="0.75"/><ellipse cx="1243.2" cy="508.8" rx="4.3" ry="1.8" transform="rotate(79 1243.2 508.8)" fill="#b0bab4" opacity="0.75"/><ellipse cx="1326.6" cy="462.4" rx="4.0" ry="2.0" transform="rotate(160 1326.6 462.4)" fill="#a9b3ad" opacity="0.75"/><ellipse cx="1252.7" cy="464.1" rx="4.9" ry="1.9" transform="rotate(33 1252.7 464.1)" fill="#b0bab4" opacity="0.75"/><ellipse cx="1251.3" cy="366.0" rx="3.0" ry="2.6" transform="rotate(47 1251.3 366.0)" fill="#c0c9c3" opacity="0.75"/><ellipse cx="1294.9" cy="510.4" rx="4.6" ry="1.6" transform="rotate(158 1294.9 510.4)" fill="#a9b3ad" opacity="0.75"/><ellipse cx="1304.9" cy="471.2" rx="4.9" ry="1.7" transform="rotate(176 1304.9 471.2)" fill="#b8c2bc" opacity="0.75"/><ellipse cx="1234.5" cy="388.3" rx="3.7" ry="2.6" transform="rotate(124 1234.5 388.3)" fill="#a9b3ad" opacity="0.75"/><ellipse cx="1300.3" cy="479.4" rx="3.5" ry="1.5" transform="rotate(158 1300.3 479.4)" fill="#c6cec9" opacity="0.75"/><ellipse cx="1271.1" cy="486.0" rx="3.6" ry="1.6" transform="rotate(96 1271.1 486.0)" fill="#b8c2bc" opacity="0.75"/><ellipse cx="1287.4" cy="488.2" rx="4.1" ry="1.9" transform="rotate(74 1287.4 488.2)" fill="#a9b3ad" opacity="0.75"/><ellipse cx="1259.0" cy="373.5" rx="3.4" ry="2.8" transform="rotate(174 1259.0 373.5)" fill="#b8c2bc" opacity="0.75"/><ellipse cx="1261.4" cy="507.2" rx="4.6" ry="2.3" transform="rotate(180 1261.4 507.2)" fill="#c6cec9" opacity="0.75"/><ellipse cx="1210.0" cy="433.3" rx="3.4" ry="2.4" transform="rotate(76 1210.0 433.3)" fill="#c0c9c3" opacity="0.75"/><ellipse cx="1318.8" cy="482.5" rx="4.7" ry="2.1" transform="rotate(117 1318.8 482.5)" fill="#b8c2bc" opacity="0.75"/><ellipse cx="1322.8" cy="480.5" rx="4.2" ry="2.4" transform="rotate(112 1322.8 480.5)" fill="#b0bab4" opacity="0.75"/><ellipse cx="1342.0" cy="455.7" rx="4.0" ry="1.6" transform="rotate(1 1342.0 455.7)" fill="#c6cec9" opacity="0.75"/><ellipse cx="1334.1" cy="402.0" rx="5.0" ry="2.2" transform="rotate(26 1334.1 402.0)" fill="#c0c9c3" opacity="0.75"/><ellipse cx="1220.0" cy="459.0" rx="2.8" ry="2.4" transform="rotate(77 1220.0 459.0)" fill="#c6cec9" opacity="0.75"/><ellipse cx="1266.0" cy="492.4" rx="4.0" ry="2.6" transform="rotate(50 1266.0 492.4)" fill="#b8c2bc" opacity="0.75"/><ellipse cx="1202.0" cy="427.9" rx="4.6" ry="2.4" transform="rotate(97 1202.0 427.9)" fill="#b0bab4" opacity="0.75"/><ellipse cx="1233.3" cy="443.0" rx="3.1" ry="2.6" transform="rotate(149 1233.3 443.0)" fill="#c6cec9" opacity="0.75"/><ellipse cx="1332.9" cy="396.5" rx="2.9" ry="2.2" transform="rotate(54 1332.9 396.5)" fill="#b0bab4" opacity="0.75"/><ellipse cx="1218.3" cy="454.1" rx="3.5" ry="2.5" transform="rotate(91 1218.3 454.1)" fill="#c6cec9" opacity="0.75"/><ellipse cx="1249.0" cy="377.6" rx="5.1" ry="2.8" transform="rotate(158 1249.0 377.6)" fill="#b8c2bc" opacity="0.75"/><ellipse cx="1223.9" cy="492.5" rx="4.1" ry="1.7" transform="rotate(171 1223.9 492.5)" fill="#b0bab4" opacity="0.75"/><ellipse cx="1249.5" cy="488.6" rx="3.0" ry="1.8" transform="rotate(85 1249.5 488.6)" fill="#c0c9c3" opacity="0.75"/><ellipse cx="1227.7" cy="382.3" rx="4.8" ry="2.0" transform="rotate(16 1227.7 382.3)" fill="#a9b3ad" opacity="0.75"/><ellipse cx="1341.4" cy="430.4" rx="4.9" ry="1.7" transform="rotate(20 1341.4 430.4)" fill="#c0c9c3" opacity="0.75"/><ellipse cx="1285.5" cy="369.8" rx="3.4" ry="2.5" transform="rotate(5 1285.5 369.8)" fill="#a9b3ad" opacity="0.75"/><ellipse cx="1199.6" cy="443.2" rx="4.3" ry="2.1" transform="rotate(59 1199.6 443.2)" fill="#b8c2bc" opacity="0.75"/><ellipse cx="1335.3" cy="402.9" rx="4.2" ry="2.1" transform="rotate(106 1335.3 402.9)" fill="#c6cec9" opacity="0.75"/><ellipse cx="1255.7" cy="470.2" rx="4.4" ry="1.6" transform="rotate(25 1255.7 470.2)" fill="#b8c2bc" opacity="0.75"/><ellipse cx="1211.7" cy="442.3" rx="3.2" ry="1.9" transform="rotate(122 1211.7 442.3)" fill="#c0c9c3" opacity="0.75"/><ellipse cx="1317.1" cy="475.4" rx="5.1" ry="2.8" transform="rotate(141 1317.1 475.4)" fill="#b8c2bc" opacity="0.75"/><ellipse cx="1341.5" cy="395.1" rx="4.0" ry="2.7" transform="rotate(109 1341.5 395.1)" fill="#b8c2bc" opacity="0.75"/><ellipse cx="1261.8" cy="475.0" rx="3.4" ry="1.8" transform="rotate(169 1261.8 475.0)" fill="#b8c2bc" opacity="0.75"/><ellipse cx="1335.7" cy="447.6" rx="4.1" ry="1.8" transform="rotate(64 1335.7 447.6)" fill="#b0bab4" opacity="0.75"/><ellipse cx="1319.5" cy="445.4" rx="3.4" ry="2.6" transform="rotate(36 1319.5 445.4)" fill="#a9b3ad" opacity="0.75"/><ellipse cx="1261.4" cy="472.9" rx="5.2" ry="1.6" transform="rotate(52 1261.4 472.9)" fill="#a9b3ad" opacity="0.75"/><ellipse cx="1311.4" cy="468.6" rx="2.6" ry="1.9" transform="rotate(115 1311.4 468.6)" fill="#c6cec9" opacity="0.75"/><ellipse cx="1223.5" cy="473.3" rx="4.3" ry="2.4" transform="rotate(160 1223.5 473.3)" fill="#c0c9c3" opacity="0.75"/><ellipse cx="1263.1" cy="512.3" rx="5.1" ry="2.1" transform="rotate(172 1263.1 512.3)" fill="#c0c9c3" opacity="0.75"/><ellipse cx="1253.1" cy="492.1" rx="4.4" ry="1.8" transform="rotate(123 1253.1 492.1)" fill="#b0bab4" opacity="0.75"/><ellipse cx="1275.8" cy="474.3" rx="2.7" ry="1.9" transform="rotate(46 1275.8 474.3)" fill="#c6cec9" opacity="0.75"/><ellipse cx="1211.4" cy="415.5" rx="3.9" ry="1.9" transform="rotate(97 1211.4 415.5)" fill="#c0c9c3" opacity="0.75"/><ellipse cx="1317.5" cy="475.3" rx="3.2" ry="2.7" transform="rotate(135 1317.5 475.3)" fill="#c0c9c3" opacity="0.75"/><ellipse cx="1321.8" cy="377.4" rx="4.3" ry="1.9" transform="rotate(87 1321.8 377.4)" fill="#b0bab4" opacity="0.75"/><ellipse cx="1331.8" cy="418.2" rx="4.4" ry="1.6" transform="rotate(33 1331.8 418.2)" fill="#c0c9c3" opacity="0.75"/><ellipse cx="1222.9" cy="446.2" rx="4.1" ry="2.0" transform="rotate(96 1222.9 446.2)" fill="#c0c9c3" opacity="0.75"/><ellipse cx="1336.3" cy="482.5" rx="3.7" ry="1.9" transform="rotate(127 1336.3 482.5)" fill="#c0c9c3" opacity="0.75"/><ellipse cx="1344.7" cy="475.3" rx="5.1" ry="2.5" transform="rotate(42 1344.7 475.3)" fill="#a9b3ad" opacity="0.75"/><ellipse cx="1245.9" cy="456.1" rx="3.1" ry="2.3" transform="rotate(82 1245.9 456.1)" fill="#c6cec9" opacity="0.75"/><ellipse cx="1336.7" cy="482.8" rx="4.1" ry="2.1" transform="rotate(135 1336.7 482.8)" fill="#c0c9c3" opacity="0.75"/><ellipse cx="1284.3" cy="473.3" rx="2.9" ry="2.4" transform="rotate(32 1284.3 473.3)" fill="#a9b3ad" opacity="0.75"/><ellipse cx="1333.5" cy="450.0" rx="3.8" ry="1.8" transform="rotate(3 1333.5 450.0)" fill="#c0c9c3" opacity="0.75"/><ellipse cx="1260.7" cy="513.1" rx="4.6" ry="2.3" transform="rotate(178 1260.7 513.1)" fill="#c6cec9" opacity="0.75"/><ellipse cx="1219.3" cy="412.6" rx="4.4" ry="2.0" transform="rotate(32 1219.3 412.6)" fill="#b0bab4" opacity="0.75"/><ellipse cx="1278.8" cy="504.1" rx="2.7" ry="2.3" transform="rotate(67 1278.8 504.1)" fill="#c6cec9" opacity="0.75"/><ellipse cx="1298.3" cy="501.4" rx="3.8" ry="2.7" transform="rotate(126 1298.3 501.4)" fill="#c6cec9" opacity="0.75"/><ellipse cx="1340.0" cy="407.6" rx="3.5" ry="2.6" transform="rotate(12 1340.0 407.6)" fill="#a9b3ad" opacity="0.75"/><ellipse cx="1296.4" cy="363.1" rx="5.0" ry="1.7" transform="rotate(74 1296.4 363.1)" fill="#c6cec9" opacity="0.75"/><ellipse cx="1239.9" cy="453.4" rx="3.1" ry="1.8" transform="rotate(2 1239.9 453.4)" fill="#b8c2bc" opacity="0.75"/><ellipse cx="1232.4" cy="461.9" rx="4.9" ry="2.0" transform="rotate(78 1232.4 461.9)" fill="#a9b3ad" opacity="0.75"/><ellipse cx="1342.3" cy="417.5" rx="2.6" ry="2.6" transform="rotate(91 1342.3 417.5)" fill="#b8c2bc" opacity="0.75"/><ellipse cx="1213.3" cy="448.2" rx="4.0" ry="1.9" transform="rotate(24 1213.3 448.2)" fill="#c6cec9" opacity="0.75"/><ellipse cx="1220.0" cy="441.8" rx="3.5" ry="2.6" transform="rotate(25 1220.0 441.8)" fill="#b0bab4" opacity="0.75"/><ellipse cx="1227.1" cy="424.0" rx="3.1" ry="2.1" transform="rotate(33 1227.1 424.0)" fill="#a9b3ad" opacity="0.75"/><ellipse cx="1322.4" cy="455.9" rx="4.7" ry="1.5" transform="rotate(7 1322.4 455.9)" fill="#b0bab4" opacity="0.75"/><ellipse cx="1329.0" cy="392.5" rx="3.8" ry="2.5" transform="rotate(121 1329.0 392.5)" fill="#a9b3ad" opacity="0.75"/><ellipse cx="1325.1" cy="402.5" rx="3.5" ry="2.4" transform="rotate(8 1325.1 402.5)" fill="#b0bab4" opacity="0.75"/><ellipse cx="1292.8" cy="362.3" rx="3.9" ry="1.9" transform="rotate(104 1292.8 362.3)" fill="#c0c9c3" opacity="0.75"/><ellipse cx="1232.7" cy="484.1" rx="2.8" ry="2.4" transform="rotate(133 1232.7 484.1)" fill="#b8c2bc" opacity="0.75"/><ellipse cx="1236.9" cy="391.1" rx="4.3" ry="2.2" transform="rotate(85 1236.9 391.1)" fill="#a9b3ad" opacity="0.75"/><ellipse cx="1241.8" cy="385.5" rx="2.9" ry="2.0" transform="rotate(59 1241.8 385.5)" fill="#c6cec9" opacity="0.75"/><ellipse cx="1279.9" cy="476.5" rx="3.5" ry="1.8" transform="rotate(177 1279.9 476.5)" fill="#b8c2bc" opacity="0.75"/><ellipse cx="1314.4" cy="481.8" rx="5.2" ry="1.5" transform="rotate(79 1314.4 481.8)" fill="#b0bab4" opacity="0.75"/><ellipse cx="1332.0" cy="417.8" rx="3.3" ry="2.2" transform="rotate(46 1332.0 417.8)" fill="#c6cec9" opacity="0.75"/><ellipse cx="1322.5" cy="474.6" rx="2.8" ry="1.8" transform="rotate(62 1322.5 474.6)" fill="#c6cec9" opacity="0.75"/><ellipse cx="1236.2" cy="495.4" rx="3.9" ry="2.8" transform="rotate(174 1236.2 495.4)" fill="#c6cec9" opacity="0.75"/><ellipse cx="1352.0" cy="428.9" rx="3.8" ry="1.7" transform="rotate(54 1352.0 428.9)" fill="#b0bab4" opacity="0.75"/><ellipse cx="1202.9" cy="450.8" rx="4.1" ry="1.9" transform="rotate(13 1202.9 450.8)" fill="#b8c2bc" opacity="0.75"/><ellipse cx="1337.2" cy="407.5" rx="4.2" ry="2.7" transform="rotate(64 1337.2 407.5)" fill="#b0bab4" opacity="0.75"/><ellipse cx="1316.2" cy="385.7" rx="5.0" ry="2.1" transform="rotate(41 1316.2 385.7)" fill="#c6cec9" opacity="0.75"/><ellipse cx="1327.8" cy="471.1" rx="4.6" ry="2.5" transform="rotate(118 1327.8 471.1)" fill="#b8c2bc" opacity="0.75"/><ellipse cx="1267.5" cy="514.6" rx="3.6" ry="2.1" transform="rotate(172 1267.5 514.6)" fill="#b8c2bc" opacity="0.75"/><ellipse cx="1336.1" cy="405.6" rx="4.4" ry="2.7" transform="rotate(119 1336.1 405.6)" fill="#b8c2bc" opacity="0.75"/><ellipse cx="1227.5" cy="419.5" rx="3.4" ry="2.3" transform="rotate(117 1227.5 419.5)" fill="#c0c9c3" opacity="0.75"/><ellipse cx="1256.4" cy="501.1" rx="3.2" ry="1.7" transform="rotate(158 1256.4 501.1)" fill="#b0bab4" opacity="0.75"/><ellipse cx="1216.9" cy="410.4" rx="3.7" ry="2.7" transform="rotate(96 1216.9 410.4)" fill="#c0c9c3" opacity="0.75"/><ellipse cx="1326.3" cy="486.9" rx="3.9" ry="2.3" transform="rotate(145 1326.3 486.9)" fill="#c0c9c3" opacity="0.75"/><ellipse cx="1234.9" cy="488.2" rx="5.1" ry="1.7" transform="rotate(38 1234.9 488.2)" fill="#a9b3ad" opacity="0.75"/><ellipse cx="1324.4" cy="465.0" rx="4.2" ry="2.7" transform="rotate(7 1324.4 465.0)" fill="#c0c9c3" opacity="0.75"/><ellipse cx="1302.4" cy="370.0" rx="2.9" ry="2.5" transform="rotate(44 1302.4 370.0)" fill="#b8c2bc" opacity="0.75"/><ellipse cx="1244.3" cy="495.4" rx="3.3" ry="2.0" transform="rotate(149 1244.3 495.4)" fill="#b0bab4" opacity="0.75"/><ellipse cx="1255.8" cy="504.3" rx="3.6" ry="2.3" transform="rotate(131 1255.8 504.3)" fill="#a9b3ad" opacity="0.75"/><ellipse cx="1344.2" cy="416.4" rx="3.5" ry="2.7" transform="rotate(71 1344.2 416.4)" fill="#c6cec9" opacity="0.75"/><ellipse cx="1333.2" cy="468.9" rx="3.6" ry="2.2" transform="rotate(86 1333.2 468.9)" fill="#c6cec9" opacity="0.75"/><ellipse cx="1274.4" cy="473.4" rx="3.8" ry="2.4" transform="rotate(42 1274.4 473.4)" fill="#c0c9c3" opacity="0.75"/><ellipse cx="1240.2" cy="482.7" rx="4.9" ry="1.8" transform="rotate(69 1240.2 482.7)" fill="#b0bab4" opacity="0.75"/><ellipse cx="1240.6" cy="371.0" rx="4.5" ry="2.1" transform="rotate(110 1240.6 371.0)" fill="#c0c9c3" opacity="0.75"/><ellipse cx="1281.4" cy="514.8" rx="5.1" ry="2.7" transform="rotate(37 1281.4 514.8)" fill="#b0bab4" opacity="0.75"/><ellipse cx="1302.4" cy="375.0" rx="4.6" ry="1.6" transform="rotate(80 1302.4 375.0)" fill="#c6cec9" opacity="0.75"/><ellipse cx="1264.2" cy="364.3" rx="3.2" ry="2.2" transform="rotate(117 1264.2 364.3)" fill="#b8c2bc" opacity="0.75"/><ellipse cx="1309.8" cy="466.7" rx="4.3" ry="1.8" transform="rotate(52 1309.8 466.7)" fill="#a9b3ad" opacity="0.75"/><ellipse cx="1342.1" cy="407.7" rx="3.1" ry="2.4" transform="rotate(19 1342.1 407.7)" fill="#c0c9c3" opacity="0.75"/><ellipse cx="1320.6" cy="446.1" rx="3.2" ry="2.7" transform="rotate(89 1320.6 446.1)" fill="#b0bab4" opacity="0.75"/><ellipse cx="1274.2" cy="362.1" rx="3.3" ry="1.8" transform="rotate(137 1274.2 362.1)" fill="#a9b3ad" opacity="0.75"/><ellipse cx="1261.0" cy="497.9" rx="3.2" ry="1.8" transform="rotate(160 1261.0 497.9)" fill="#b8c2bc" opacity="0.75"/><ellipse cx="1299.4" cy="493.4" rx="4.7" ry="2.2" transform="rotate(105 1299.4 493.4)" fill="#c0c9c3" opacity="0.75"/><ellipse cx="1333.2" cy="418.0" rx="4.4" ry="1.7" transform="rotate(161 1333.2 418.0)" fill="#c0c9c3" opacity="0.75"/><ellipse cx="1299.6" cy="498.8" rx="4.4" ry="1.7" transform="rotate(119 1299.6 498.8)" fill="#c0c9c3" opacity="0.75"/><ellipse cx="1253.5" cy="469.3" rx="3.2" ry="2.0" transform="rotate(74 1253.5 469.3)" fill="#b8c2bc" opacity="0.75"/><ellipse cx="1237.8" cy="451.3" rx="3.7" ry="1.6" transform="rotate(31 1237.8 451.3)" fill="#c0c9c3" opacity="0.75"/><ellipse cx="1239.4" cy="488.9" rx="3.4" ry="2.1" transform="rotate(125 1239.4 488.9)" fill="#b8c2bc" opacity="0.75"/><ellipse cx="1335.8" cy="488.3" rx="3.5" ry="2.4" transform="rotate(107 1335.8 488.3)" fill="#b8c2bc" opacity="0.75"/><ellipse cx="1317.7" cy="472.5" rx="4.9" ry="2.0" transform="rotate(90 1317.7 472.5)" fill="#c6cec9" opacity="0.75"/><ellipse cx="1261.9" cy="509.3" rx="2.7" ry="2.2" transform="rotate(56 1261.9 509.3)" fill="#a9b3ad" opacity="0.75"/><ellipse cx="1318.7" cy="383.0" rx="4.2" ry="2.4" transform="rotate(171 1318.7 383.0)" fill="#c0c9c3" opacity="0.75"/><ellipse cx="1220.5" cy="431.6" rx="2.9" ry="1.6" transform="rotate(26 1220.5 431.6)" fill="#c0c9c3" opacity="0.75"/><ellipse cx="1316.1" cy="387.0" rx="5.1" ry="2.1" transform="rotate(90 1316.1 387.0)" fill="#b8c2bc" opacity="0.75"/><ellipse cx="1329.6" cy="404.3" rx="2.8" ry="2.4" transform="rotate(39 1329.6 404.3)" fill="#c6cec9" opacity="0.75"/><ellipse cx="1254.7" cy="484.6" rx="2.8" ry="1.6" transform="rotate(32 1254.7 484.6)" fill="#b0bab4" opacity="0.75"/><ellipse cx="1213.3" cy="421.1" rx="3.9" ry="2.7" transform="rotate(114 1213.3 421.1)" fill="#a9b3ad" opacity="0.75"/><ellipse cx="1331.1" cy="460.0" rx="4.9" ry="2.0" transform="rotate(25 1331.1 460.0)" fill="#a9b3ad" opacity="0.75"/><ellipse cx="1325.3" cy="443.9" rx="4.3" ry="1.8" transform="rotate(32 1325.3 443.9)" fill="#c6cec9" opacity="0.75"/><ellipse cx="1243.0" cy="476.6" rx="4.5" ry="2.6" transform="rotate(50 1243.0 476.6)" fill="#b0bab4" opacity="0.75"/><ellipse cx="1342.8" cy="437.3" rx="3.6" ry="2.2" transform="rotate(116 1342.8 437.3)" fill="#c6cec9" opacity="0.75"/><ellipse cx="1212.6" cy="472.4" rx="4.8" ry="1.8" transform="rotate(75 1212.6 472.4)" fill="#b0bab4" opacity="0.75"/><ellipse cx="1213.7" cy="477.7" rx="2.8" ry="2.5" transform="rotate(48 1213.7 477.7)" fill="#c6cec9" opacity="0.75"/><ellipse cx="1347.3" cy="420.2" rx="3.5" ry="2.7" transform="rotate(59 1347.3 420.2)" fill="#a9b3ad" opacity="0.75"/><ellipse cx="1287.9" cy="488.0" rx="4.0" ry="1.8" transform="rotate(134 1287.9 488.0)" fill="#a9b3ad" opacity="0.75"/><ellipse cx="1284.9" cy="508.6" rx="4.5" ry="1.7" transform="rotate(167 1284.9 508.6)" fill="#a9b3ad" opacity="0.75"/><ellipse cx="1247.1" cy="368.6" rx="3.6" ry="1.6" transform="rotate(172 1247.1 368.6)" fill="#a9b3ad" opacity="0.75"/><ellipse cx="1222.6" cy="445.5" rx="4.5" ry="2.1" transform="rotate(136 1222.6 445.5)" fill="#c6cec9" opacity="0.75"/><ellipse cx="1227.0" cy="411.1" rx="3.8" ry="1.7" transform="rotate(59 1227.0 411.1)" fill="#a9b3ad" opacity="0.75"/><ellipse cx="1313.0" cy="473.4" rx="5.1" ry="1.5" transform="rotate(152 1313.0 473.4)" fill="#a9b3ad" opacity="0.75"/><ellipse cx="1275.1" cy="488.8" rx="3.3" ry="1.9" transform="rotate(74 1275.1 488.8)" fill="#a9b3ad" opacity="0.75"/><ellipse cx="1267.1" cy="506.7" rx="4.0" ry="1.7" transform="rotate(128 1267.1 506.7)" fill="#c6cec9" opacity="0.75"/><ellipse cx="1316.0" cy="382.3" rx="5.0" ry="2.0" transform="rotate(124 1316.0 382.3)" fill="#b0bab4" opacity="0.75"/><ellipse cx="1266.0" cy="487.0" rx="4.9" ry="2.6" transform="rotate(162 1266.0 487.0)" fill="#a9b3ad" opacity="0.75"/><ellipse cx="1236.7" cy="504.5" rx="2.8" ry="1.9" transform="rotate(39 1236.7 504.5)" fill="#c6cec9" opacity="0.75"/><ellipse cx="1329.2" cy="445.4" rx="3.2" ry="2.0" transform="rotate(96 1329.2 445.4)" fill="#a9b3ad" opacity="0.75"/><ellipse cx="1221.0" cy="404.4" rx="4.2" ry="2.5" transform="rotate(81 1221.0 404.4)" fill="#a9b3ad" opacity="0.75"/><ellipse cx="1303.1" cy="473.3" rx="4.9" ry="2.4" transform="rotate(46 1303.1 473.3)" fill="#c6cec9" opacity="0.75"/><ellipse cx="1215.4" cy="433.0" rx="3.6" ry="1.9" transform="rotate(128 1215.4 433.0)" fill="#c0c9c3" opacity="0.75"/><ellipse cx="1210.2" cy="414.6" rx="2.9" ry="1.6" transform="rotate(17 1210.2 414.6)" fill="#a9b3ad" opacity="0.75"/><ellipse cx="1242.7" cy="486.9" rx="4.9" ry="1.8" transform="rotate(68 1242.7 486.9)" fill="#c0c9c3" opacity="0.75"/><ellipse cx="1271.6" cy="366.6" rx="4.5" ry="1.7" transform="rotate(164 1271.6 366.6)" fill="#c0c9c3" opacity="0.75"/><ellipse cx="1201.6" cy="457.4" rx="2.9" ry="1.6" transform="rotate(65 1201.6 457.4)" fill="#a9b3ad" opacity="0.75"/><ellipse cx="1217.4" cy="393.8" rx="3.5" ry="1.9" transform="rotate(153 1217.4 393.8)" fill="#b8c2bc" opacity="0.75"/><ellipse cx="1220.9" cy="486.9" rx="4.8" ry="2.0" transform="rotate(121 1220.9 486.9)" fill="#b8c2bc" opacity="0.75"/><ellipse cx="1204.0" cy="417.6" rx="3.1" ry="1.6" transform="rotate(35 1204.0 417.6)" fill="#a9b3ad" opacity="0.75"/><ellipse cx="1300.1" cy="489.2" rx="3.8" ry="2.8" transform="rotate(49 1300.1 489.2)" fill="#a9b3ad" opacity="0.75"/><ellipse cx="1325.8" cy="484.7" rx="2.6" ry="2.7" transform="rotate(22 1325.8 484.7)" fill="#c0c9c3" opacity="0.75"/><ellipse cx="1334.1" cy="392.5" rx="4.6" ry="2.0" transform="rotate(111 1334.1 392.5)" fill="#c0c9c3" opacity="0.75"/><ellipse cx="1222.7" cy="456.0" rx="3.7" ry="1.6" transform="rotate(42 1222.7 456.0)" fill="#b0bab4" opacity="0.75"/><ellipse cx="1274.8" cy="468.2" rx="4.9" ry="2.5" transform="rotate(119 1274.8 468.2)" fill="#c6cec9" opacity="0.75"/><ellipse cx="1309.6" cy="468.9" rx="3.0" ry="2.6" transform="rotate(47 1309.6 468.9)" fill="#c6cec9" opacity="0.75"/><ellipse cx="1307.0" cy="506.7" rx="3.3" ry="2.1" transform="rotate(96 1307.0 506.7)" fill="#b0bab4" opacity="0.75"/><ellipse cx="1313.0" cy="455.5" rx="3.3" ry="2.4" transform="rotate(164 1313.0 455.5)" fill="#a9b3ad" opacity="0.75"/><ellipse cx="1331.2" cy="441.0" rx="2.8" ry="2.2" transform="rotate(58 1331.2 441.0)" fill="#a9b3ad" opacity="0.75"/><ellipse cx="1229.4" cy="396.1" rx="3.1" ry="1.8" transform="rotate(137 1229.4 396.1)" fill="#c0c9c3" opacity="0.75"/><ellipse cx="1215.8" cy="453.3" rx="2.8" ry="2.2" transform="rotate(122 1215.8 453.3)" fill="#b0bab4" opacity="0.75"/><ellipse cx="1205.9" cy="417.2" rx="2.6" ry="2.7" transform="rotate(86 1205.9 417.2)" fill="#b8c2bc" opacity="0.75"/><ellipse cx="1331.0" cy="434.7" rx="3.8" ry="2.1" transform="rotate(66 1331.0 434.7)" fill="#c0c9c3" opacity="0.75"/><ellipse cx="1218.1" cy="452.8" rx="4.3" ry="2.1" transform="rotate(36 1218.1 452.8)" fill="#a9b3ad" opacity="0.75"/><ellipse cx="1219.2" cy="397.6" rx="5.0" ry="2.2" transform="rotate(84 1219.2 397.6)" fill="#b0bab4" opacity="0.75"/><ellipse cx="1317.2" cy="484.1" rx="3.4" ry="2.2" transform="rotate(19 1317.2 484.1)" fill="#c0c9c3" opacity="0.75"/><ellipse cx="1250.3" cy="499.6" rx="3.5" ry="2.5" transform="rotate(137 1250.3 499.6)" fill="#b8c2bc" opacity="0.75"/><ellipse cx="1276.2" cy="505.7" rx="3.1" ry="2.2" transform="rotate(10 1276.2 505.7)" fill="#b0bab4" opacity="0.75"/><ellipse cx="1301.7" cy="495.5" rx="3.1" ry="2.4" transform="rotate(78 1301.7 495.5)" fill="#b8c2bc" opacity="0.75"/><ellipse cx="1355.3" cy="442.2" rx="4.3" ry="1.6" transform="rotate(127 1355.3 442.2)" fill="#a9b3ad" opacity="0.75"/><ellipse cx="1260.3" cy="490.7" rx="3.5" ry="1.9" transform="rotate(46 1260.3 490.7)" fill="#c6cec9" opacity="0.75"/><ellipse cx="1349.6" cy="447.9" rx="3.0" ry="2.2" transform="rotate(55 1349.6 447.9)" fill="#b8c2bc" opacity="0.75"/><ellipse cx="1213.6" cy="451.1" rx="3.5" ry="2.1" transform="rotate(130 1213.6 451.1)" fill="#b0bab4" opacity="0.75"/><ellipse cx="1231.7" cy="390.1" rx="3.2" ry="2.0" transform="rotate(153 1231.7 390.1)" fill="#b0bab4" opacity="0.75"/><ellipse cx="1299.6" cy="471.9" rx="5.1" ry="2.8" transform="rotate(164 1299.6 471.9)" fill="#b8c2bc" opacity="0.75"/><ellipse cx="1263.4" cy="512.0" rx="4.6" ry="2.7" transform="rotate(50 1263.4 512.0)" fill="#c6cec9" opacity="0.75"/><ellipse cx="1258.3" cy="497.6" rx="5.0" ry="2.2" transform="rotate(97 1258.3 497.6)" fill="#b8c2bc" opacity="0.75"/><ellipse cx="1257.2" cy="372.6" rx="3.6" ry="2.5" transform="rotate(106 1257.2 372.6)" fill="#c6cec9" opacity="0.75"/><ellipse cx="1227.2" cy="402.5" rx="2.7" ry="1.6" transform="rotate(90 1227.2 402.5)" fill="#b0bab4" opacity="0.75"/><ellipse cx="1250.2" cy="469.1" rx="3.6" ry="1.8" transform="rotate(78 1250.2 469.1)" fill="#c6cec9" opacity="0.75"/><ellipse cx="1345.9" cy="472.2" rx="4.0" ry="2.5" transform="rotate(86 1345.9 472.2)" fill="#b0bab4" opacity="0.75"/><ellipse cx="1220.0" cy="447.7" rx="3.7" ry="1.9" transform="rotate(121 1220.0 447.7)" fill="#b0bab4" opacity="0.75"/><ellipse cx="1245.4" cy="495.5" rx="3.5" ry="2.7" transform="rotate(4 1245.4 495.5)" fill="#b8c2bc" opacity="0.75"/><ellipse cx="1220.3" cy="414.4" rx="4.0" ry="2.6" transform="rotate(20 1220.3 414.4)" fill="#c0c9c3" opacity="0.75"/><ellipse cx="1222.1" cy="450.2" rx="5.1" ry="2.2" transform="rotate(47 1222.1 450.2)" fill="#b8c2bc" opacity="0.75"/><ellipse cx="1328.2" cy="398.6" rx="5.0" ry="2.4" transform="rotate(137 1328.2 398.6)" fill="#c6cec9" opacity="0.75"/><ellipse cx="1334.9" cy="398.9" rx="3.5" ry="1.6" transform="rotate(102 1334.9 398.9)" fill="#c6cec9" opacity="0.75"/><ellipse cx="1280.2" cy="478.8" rx="3.1" ry="1.9" transform="rotate(87 1280.2 478.8)" fill="#b8c2bc" opacity="0.75"/><ellipse cx="1316.5" cy="475.3" rx="3.7" ry="2.0" transform="rotate(156 1316.5 475.3)" fill="#b8c2bc" opacity="0.75"/><ellipse cx="1350.7" cy="445.8" rx="4.8" ry="1.6" transform="rotate(129 1350.7 445.8)" fill="#c0c9c3" opacity="0.75"/><ellipse cx="1331.4" cy="393.5" rx="4.4" ry="2.1" transform="rotate(123 1331.4 393.5)" fill="#b0bab4" opacity="0.75"/><ellipse cx="1233.1" cy="378.0" rx="5.0" ry="2.3" transform="rotate(162 1233.1 378.0)" fill="#c0c9c3" opacity="0.75"/><ellipse cx="1209.0" cy="449.1" rx="2.8" ry="2.4" transform="rotate(60 1209.0 449.1)" fill="#a9b3ad" opacity="0.75"/><ellipse cx="1318.2" cy="452.1" rx="4.8" ry="1.9" transform="rotate(61 1318.2 452.1)" fill="#b0bab4" opacity="0.75"/><ellipse cx="1244.7" cy="377.6" rx="4.7" ry="2.4" transform="rotate(131 1244.7 377.6)" fill="#a9b3ad" opacity="0.75"/><ellipse cx="1287.3" cy="508.5" rx="3.6" ry="1.7" transform="rotate(29 1287.3 508.5)" fill="#b8c2bc" opacity="0.75"/><ellipse cx="1294.7" cy="368.4" rx="3.4" ry="2.4" transform="rotate(137 1294.7 368.4)" fill="#c6cec9" opacity="0.75"/><ellipse cx="1270.4" cy="496.9" rx="3.3" ry="1.6" transform="rotate(27 1270.4 496.9)" fill="#c0c9c3" opacity="0.75"/><ellipse cx="1273.6" cy="508.1" rx="3.0" ry="1.8" transform="rotate(19 1273.6 508.1)" fill="#a9b3ad" opacity="0.75"/><ellipse cx="1231.8" cy="478.7" rx="3.0" ry="1.6" transform="rotate(73 1231.8 478.7)" fill="#b0bab4" opacity="0.75"/><ellipse cx="1332.0" cy="427.8" rx="2.9" ry="2.2" transform="rotate(132 1332.0 427.8)" fill="#c6cec9" opacity="0.75"/><ellipse cx="1263.6" cy="366.8" rx="3.0" ry="2.1" transform="rotate(77 1263.6 366.8)" fill="#b8c2bc" opacity="0.75"/><ellipse cx="1239.0" cy="477.5" rx="3.9" ry="1.7" transform="rotate(70 1239.0 477.5)" fill="#c0c9c3" opacity="0.75"/><ellipse cx="1235.8" cy="461.2" rx="4.6" ry="1.9" transform="rotate(138 1235.8 461.2)" fill="#c0c9c3" opacity="0.75"/><ellipse cx="1330.8" cy="382.4" rx="2.9" ry="2.2" transform="rotate(6 1330.8 382.4)" fill="#c0c9c3" opacity="0.75"/><ellipse cx="1326.0" cy="389.5" rx="3.2" ry="1.7" transform="rotate(49 1326.0 389.5)" fill="#c0c9c3" opacity="0.75"/><ellipse cx="1206.6" cy="428.9" rx="4.7" ry="2.2" transform="rotate(167 1206.6 428.9)" fill="#c0c9c3" opacity="0.75"/><ellipse cx="1279.2" cy="498.1" rx="3.9" ry="1.8" transform="rotate(12 1279.2 498.1)" fill="#c0c9c3" opacity="0.75"/><ellipse cx="1218.8" cy="465.4" rx="5.2" ry="2.3" transform="rotate(92 1218.8 465.4)" fill="#c0c9c3" opacity="0.75"/><ellipse cx="1311.5" cy="375.9" rx="5.0" ry="2.0" transform="rotate(39 1311.5 375.9)" fill="#c6cec9" opacity="0.75"/><ellipse cx="1261.2" cy="475.3" rx="3.8" ry="2.2" transform="rotate(136 1261.2 475.3)" fill="#a9b3ad" opacity="0.75"/><ellipse cx="1225.0" cy="485.6" rx="3.3" ry="1.9" transform="rotate(108 1225.0 485.6)" fill="#b8c2bc" opacity="0.75"/><ellipse cx="1235.0" cy="444.9" rx="4.2" ry="2.2" transform="rotate(157 1235.0 444.9)" fill="#a9b3ad" opacity="0.75"/><ellipse cx="1302.2" cy="476.2" rx="4.5" ry="2.4" transform="rotate(14 1302.2 476.2)" fill="#c0c9c3" opacity="0.75"/><ellipse cx="1325.5" cy="483.5" rx="4.7" ry="2.1" transform="rotate(123 1325.5 483.5)" fill="#b0bab4" opacity="0.75"/><ellipse cx="1333.7" cy="476.4" rx="3.0" ry="2.3" transform="rotate(15 1333.7 476.4)" fill="#c6cec9" opacity="0.75"/><ellipse cx="1328.1" cy="429.1" rx="3.1" ry="1.9" transform="rotate(16 1328.1 429.1)" fill="#b0bab4" opacity="0.75"/><ellipse cx="1270.8" cy="367.4" rx="4.8" ry="1.7" transform="rotate(40 1270.8 367.4)" fill="#b0bab4" opacity="0.75"/><ellipse cx="1349.5" cy="454.1" rx="3.4" ry="2.0" transform="rotate(17 1349.5 454.1)" fill="#b0bab4" opacity="0.75"/><ellipse cx="1229.7" cy="388.6" rx="3.4" ry="2.6" transform="rotate(46 1229.7 388.6)" fill="#c0c9c3" opacity="0.75"/><ellipse cx="1231.6" cy="488.3" rx="3.7" ry="1.9" transform="rotate(112 1231.6 488.3)" fill="#b0bab4" opacity="0.75"/><ellipse cx="1223.1" cy="436.5" rx="3.1" ry="2.2" transform="rotate(2 1223.1 436.5)" fill="#c0c9c3" opacity="0.75"/><ellipse cx="1336.2" cy="477.2" rx="5.1" ry="1.7" transform="rotate(28 1336.2 477.2)" fill="#b8c2bc" opacity="0.75"/><ellipse cx="1330.3" cy="397.9" rx="4.0" ry="1.9" transform="rotate(81 1330.3 397.9)" fill="#b8c2bc" opacity="0.75"/><ellipse cx="1246.7" cy="477.2" rx="5.1" ry="2.4" transform="rotate(102 1246.7 477.2)" fill="#b8c2bc" opacity="0.75"/><ellipse cx="1295.6" cy="503.2" rx="3.8" ry="1.7" transform="rotate(3 1295.6 503.2)" fill="#a9b3ad" opacity="0.75"/><ellipse cx="1305.0" cy="371.1" rx="3.4" ry="1.6" transform="rotate(132 1305.0 371.1)" fill="#c6cec9" opacity="0.75"/><ellipse cx="1344.2" cy="473.4" rx="3.5" ry="1.7" transform="rotate(96 1344.2 473.4)" fill="#a9b3ad" opacity="0.75"/><ellipse cx="1261.7" cy="370.5" rx="4.4" ry="1.9" transform="rotate(107 1261.7 370.5)" fill="#c6cec9" opacity="0.75"/><ellipse cx="1325.5" cy="442.6" rx="4.7" ry="2.0" transform="rotate(95 1325.5 442.6)" fill="#a9b3ad" opacity="0.75"/><ellipse cx="1223.1" cy="424.0" rx="3.3" ry="2.5" transform="rotate(94 1223.1 424.0)" fill="#c6cec9" opacity="0.75"/><ellipse cx="1229.9" cy="452.2" rx="2.8" ry="1.7" transform="rotate(76 1229.9 452.2)" fill="#c6cec9" opacity="0.75"/><ellipse cx="1336.3" cy="453.7" rx="4.5" ry="1.9" transform="rotate(152 1336.3 453.7)" fill="#c6cec9" opacity="0.75"/><ellipse cx="1270.8" cy="495.3" rx="4.1" ry="1.5" transform="rotate(146 1270.8 495.3)" fill="#c6cec9" opacity="0.75"/><ellipse cx="1343.7" cy="475.4" rx="3.9" ry="1.7" transform="rotate(135 1343.7 475.4)" fill="#c6cec9" opacity="0.75"/><ellipse cx="1331.7" cy="487.2" rx="3.1" ry="2.0" transform="rotate(110 1331.7 487.2)" fill="#b0bab4" opacity="0.75"/><ellipse cx="1225.0" cy="398.1" rx="4.8" ry="1.8" transform="rotate(164 1225.0 398.1)" fill="#b8c2bc" opacity="0.75"/><ellipse cx="1329.4" cy="439.6" rx="4.2" ry="2.4" transform="rotate(5 1329.4 439.6)" fill="#a9b3ad" opacity="0.75"/><ellipse cx="1217.0" cy="452.1" rx="2.9" ry="2.0" transform="rotate(53 1217.0 452.1)" fill="#b0bab4" opacity="0.75"/><ellipse cx="1258.7" cy="505.8" rx="4.3" ry="2.4" transform="rotate(171 1258.7 505.8)" fill="#a9b3ad" opacity="0.75"/><ellipse cx="1349.1" cy="415.5" rx="4.4" ry="2.7" transform="rotate(14 1349.1 415.5)" fill="#a9b3ad" opacity="0.75"/><ellipse cx="1324.7" cy="381.5" rx="3.1" ry="1.6" transform="rotate(92 1324.7 381.5)" fill="#a9b3ad" opacity="0.75"/><ellipse cx="1345.1" cy="465.7" rx="5.0" ry="1.7" transform="rotate(143 1345.1 465.7)" fill="#b8c2bc" opacity="0.75"/><ellipse cx="1335.5" cy="421.1" rx="2.8" ry="2.7" transform="rotate(70 1335.5 421.1)" fill="#c6cec9" opacity="0.75"/><ellipse cx="1253.7" cy="509.2" rx="4.8" ry="2.3" transform="rotate(77 1253.7 509.2)" fill="#c6cec9" opacity="0.75"/><ellipse cx="1246.9" cy="504.6" rx="2.8" ry="2.7" transform="rotate(63 1246.9 504.6)" fill="#c0c9c3" opacity="0.75"/><ellipse cx="1320.3" cy="393.5" rx="2.6" ry="1.8" transform="rotate(45 1320.3 393.5)" fill="#b8c2bc" opacity="0.75"/><ellipse cx="1329.3" cy="455.3" rx="4.2" ry="1.9" transform="rotate(93 1329.3 455.3)" fill="#c6cec9" opacity="0.75"/><ellipse cx="1332.6" cy="459.5" rx="3.7" ry="2.4" transform="rotate(80 1332.6 459.5)" fill="#b0bab4" opacity="0.75"/><ellipse cx="1228.5" cy="417.6" rx="5.0" ry="2.6" transform="rotate(159 1228.5 417.6)" fill="#c0c9c3" opacity="0.75"/><ellipse cx="1268.1" cy="511.9" rx="2.9" ry="2.7" transform="rotate(38 1268.1 511.9)" fill="#c6cec9" opacity="0.75"/><ellipse cx="1328.0" cy="459.6" rx="2.7" ry="2.0" transform="rotate(45 1328.0 459.6)" fill="#c0c9c3" opacity="0.75"/><ellipse cx="1245.1" cy="495.7" rx="3.0" ry="2.2" transform="rotate(178 1245.1 495.7)" fill="#b0bab4" opacity="0.75"/><ellipse cx="1313.4" cy="487.6" rx="4.4" ry="2.2" transform="rotate(109 1313.4 487.6)" fill="#c6cec9" opacity="0.75"/><ellipse cx="1254.1" cy="488.9" rx="2.9" ry="2.7" transform="rotate(18 1254.1 488.9)" fill="#a9b3ad" opacity="0.75"/><ellipse cx="1226.8" cy="384.8" rx="4.5" ry="1.9" transform="rotate(129 1226.8 384.8)" fill="#b8c2bc" opacity="0.75"/><ellipse cx="1336.2" cy="397.6" rx="5.0" ry="2.0" transform="rotate(101 1336.2 397.6)" fill="#c6cec9" opacity="0.75"/><ellipse cx="1297.0" cy="479.3" rx="4.0" ry="2.6" transform="rotate(112 1297.0 479.3)" fill="#b8c2bc" opacity="0.75"/><ellipse cx="1291.8" cy="479.1" rx="3.0" ry="1.8" transform="rotate(58 1291.8 479.1)" fill="#a9b3ad" opacity="0.75"/><ellipse cx="1254.9" cy="490.1" rx="3.8" ry="2.5" transform="rotate(65 1254.9 490.1)" fill="#b0bab4" opacity="0.75"/><ellipse cx="1303.0" cy="505.9" rx="3.8" ry="2.3" transform="rotate(150 1303.0 505.9)" fill="#c0c9c3" opacity="0.75"/><ellipse cx="1233.2" cy="486.4" rx="3.8" ry="2.0" transform="rotate(28 1233.2 486.4)" fill="#c6cec9" opacity="0.75"/><ellipse cx="1340.9" cy="414.1" rx="4.4" ry="2.3" transform="rotate(76 1340.9 414.1)" fill="#b8c2bc" opacity="0.75"/><ellipse cx="1251.9" cy="496.1" rx="3.2" ry="2.3" transform="rotate(172 1251.9 496.1)" fill="#a9b3ad" opacity="0.75"/><ellipse cx="1287.2" cy="502.5" rx="2.7" ry="1.7" transform="rotate(53 1287.2 502.5)" fill="#a9b3ad" opacity="0.75"/><ellipse cx="1225.1" cy="412.0" rx="4.4" ry="2.7" transform="rotate(11 1225.1 412.0)" fill="#c6cec9" opacity="0.75"/><ellipse cx="1268.1" cy="480.9" rx="3.4" ry="2.6" transform="rotate(19 1268.1 480.9)" fill="#b8c2bc" opacity="0.75"/><ellipse cx="1207.3" cy="454.9" rx="3.4" ry="1.6" transform="rotate(93 1207.3 454.9)" fill="#b0bab4" opacity="0.75"/><ellipse cx="1287.6" cy="470.7" rx="2.8" ry="2.0" transform="rotate(31 1287.6 470.7)" fill="#b8c2bc" opacity="0.75"/><ellipse cx="1355.4" cy="444.5" rx="2.8" ry="2.2" transform="rotate(168 1355.4 444.5)" fill="#b8c2bc" opacity="0.75"/><ellipse cx="1307.2" cy="377.5" rx="4.1" ry="1.9" transform="rotate(11 1307.2 377.5)" fill="#a9b3ad" opacity="0.75"/><ellipse cx="1350.1" cy="419.4" rx="3.4" ry="2.1" transform="rotate(5 1350.1 419.4)" fill="#b8c2bc" opacity="0.75"/><ellipse cx="1327.5" cy="419.7" rx="4.5" ry="2.2" transform="rotate(119 1327.5 419.7)" fill="#b8c2bc" opacity="0.75"/><ellipse cx="1345.1" cy="400.6" rx="3.6" ry="2.8" transform="rotate(38 1345.1 400.6)" fill="#b8c2bc" opacity="0.75"/><ellipse cx="1332.3" cy="476.7" rx="3.4" ry="1.7" transform="rotate(96 1332.3 476.7)" fill="#b8c2bc" opacity="0.75"/><ellipse cx="1224.8" cy="442.8" rx="4.7" ry="1.6" transform="rotate(149 1224.8 442.8)" fill="#a9b3ad" opacity="0.75"/><ellipse cx="1334.5" cy="385.2" rx="2.9" ry="2.4" transform="rotate(117 1334.5 385.2)" fill="#a9b3ad" opacity="0.75"/><ellipse cx="1239.1" cy="471.7" rx="3.3" ry="2.0" transform="rotate(61 1239.1 471.7)" fill="#b0bab4" opacity="0.75"/><ellipse cx="1291.7" cy="485.7" rx="4.0" ry="1.6" transform="rotate(1 1291.7 485.7)" fill="#b0bab4" opacity="0.75"/><ellipse cx="1334.6" cy="386.5" rx="4.8" ry="2.1" transform="rotate(169 1334.6 386.5)" fill="#a9b3ad" opacity="0.75"/><ellipse cx="1232.4" cy="466.8" rx="3.2" ry="2.7" transform="rotate(19 1232.4 466.8)" fill="#c0c9c3" opacity="0.75"/><ellipse cx="1261.7" cy="478.6" rx="3.9" ry="2.4" transform="rotate(65 1261.7 478.6)" fill="#b8c2bc" opacity="0.75"/><ellipse cx="1247.4" cy="508.2" rx="4.1" ry="2.8" transform="rotate(10 1247.4 508.2)" fill="#a9b3ad" opacity="0.75"/><ellipse cx="1251.8" cy="506.0" rx="2.8" ry="1.7" transform="rotate(62 1251.8 506.0)" fill="#b0bab4" opacity="0.75"/><ellipse cx="1233.4" cy="495.6" rx="3.2" ry="2.3" transform="rotate(26 1233.4 495.6)" fill="#b8c2bc" opacity="0.75"/><ellipse cx="1271.6" cy="476.4" rx="4.9" ry="2.5" transform="rotate(140 1271.6 476.4)" fill="#b8c2bc" opacity="0.75"/><ellipse cx="1283.7" cy="366.2" rx="5.0" ry="1.9" transform="rotate(77 1283.7 366.2)" fill="#c6cec9" opacity="0.75"/><ellipse cx="1317.2" cy="498.9" rx="4.2" ry="2.8" transform="rotate(113 1317.2 498.9)" fill="#a9b3ad" opacity="0.75"/><ellipse cx="1255.8" cy="364.1" rx="4.6" ry="2.1" transform="rotate(8 1255.8 364.1)" fill="#c0c9c3" opacity="0.75"/><ellipse cx="1278.2" cy="486.1" rx="3.3" ry="1.8" transform="rotate(144 1278.2 486.1)" fill="#c0c9c3" opacity="0.75"/><ellipse cx="1301.3" cy="490.1" rx="2.7" ry="1.8" transform="rotate(42 1301.3 490.1)" fill="#b0bab4" opacity="0.75"/><ellipse cx="1264.7" cy="479.0" rx="4.8" ry="2.6" transform="rotate(48 1264.7 479.0)" fill="#b8c2bc" opacity="0.75"/><ellipse cx="1329.6" cy="397.5" rx="3.1" ry="2.0" transform="rotate(146 1329.6 397.5)" fill="#b8c2bc" opacity="0.75"/><ellipse cx="1341.4" cy="396.5" rx="3.1" ry="1.9" transform="rotate(168 1341.4 396.5)" fill="#b0bab4" opacity="0.75"/><ellipse cx="1338.8" cy="481.5" rx="3.6" ry="1.5" transform="rotate(1 1338.8 481.5)" fill="#b8c2bc" opacity="0.75"/><ellipse cx="1332.6" cy="432.0" rx="3.4" ry="1.7" transform="rotate(76 1332.6 432.0)" fill="#c6cec9" opacity="0.75"/><ellipse cx="1336.6" cy="450.3" rx="3.0" ry="2.0" transform="rotate(139 1336.6 450.3)" fill="#c6cec9" opacity="0.75"/><ellipse cx="1273.6" cy="483.5" rx="4.9" ry="2.1" transform="rotate(68 1273.6 483.5)" fill="#c6cec9" opacity="0.75"/><ellipse cx="1226.9" cy="439.7" rx="4.0" ry="2.4" transform="rotate(80 1226.9 439.7)" fill="#a9b3ad" opacity="0.75"/><ellipse cx="1240.4" cy="453.3" rx="3.5" ry="2.6" transform="rotate(83 1240.4 453.3)" fill="#c0c9c3" opacity="0.75"/><ellipse cx="1217.8" cy="447.6" rx="2.7" ry="2.0" transform="rotate(178 1217.8 447.6)" fill="#b0bab4" opacity="0.75"/><ellipse cx="1280.6" cy="474.7" rx="3.1" ry="2.2" transform="rotate(135 1280.6 474.7)" fill="#c6cec9" opacity="0.75"/><ellipse cx="1331.4" cy="444.1" rx="3.1" ry="2.1" transform="rotate(130 1331.4 444.1)" fill="#a9b3ad" opacity="0.75"/><ellipse cx="1281.8" cy="507.1" rx="4.3" ry="2.7" transform="rotate(145 1281.8 507.1)" fill="#b0bab4" opacity="0.75"/><ellipse cx="1226.4" cy="426.9" rx="3.6" ry="2.3" transform="rotate(10 1226.4 426.9)" fill="#b8c2bc" opacity="0.75"/><ellipse cx="1323.3" cy="478.9" rx="3.7" ry="1.5" transform="rotate(28 1323.3 478.9)" fill="#b8c2bc" opacity="0.75"/><ellipse cx="1341.5" cy="460.3" rx="4.0" ry="2.3" transform="rotate(165 1341.5 460.3)" fill="#a9b3ad" opacity="0.75"/><ellipse cx="1351.8" cy="448.0" rx="4.7" ry="2.6" transform="rotate(27 1351.8 448.0)" fill="#c0c9c3" opacity="0.75"/><ellipse cx="1206.9" cy="423.2" rx="4.6" ry="1.8" transform="rotate(60 1206.9 423.2)" fill="#c6cec9" opacity="0.75"/><ellipse cx="1219.4" cy="412.3" rx="4.2" ry="2.0" transform="rotate(135 1219.4 412.3)" fill="#a9b3ad" opacity="0.75"/><ellipse cx="1208.9" cy="431.5" rx="3.5" ry="2.2" transform="rotate(64 1208.9 431.5)" fill="#b0bab4" opacity="0.75"/><ellipse cx="1269.3" cy="500.7" rx="2.9" ry="1.8" transform="rotate(166 1269.3 500.7)" fill="#c0c9c3" opacity="0.75"/><ellipse cx="1220.7" cy="454.4" rx="4.9" ry="2.0" transform="rotate(50 1220.7 454.4)" fill="#a9b3ad" opacity="0.75"/><ellipse cx="1208.2" cy="414.6" rx="2.8" ry="1.9" transform="rotate(82 1208.2 414.6)" fill="#c6cec9" opacity="0.75"/><ellipse cx="1337.9" cy="412.5" rx="4.3" ry="1.5" transform="rotate(109 1337.9 412.5)" fill="#c0c9c3" opacity="0.75"/><ellipse cx="1333.1" cy="485.0" rx="4.7" ry="2.6" transform="rotate(97 1333.1 485.0)" fill="#b8c2bc" opacity="0.75"/><ellipse cx="1323.6" cy="445.1" rx="4.3" ry="2.6" transform="rotate(138 1323.6 445.1)" fill="#b0bab4" opacity="0.75"/><ellipse cx="1298.7" cy="466.1" rx="2.7" ry="2.4" transform="rotate(161 1298.7 466.1)" fill="#c6cec9" opacity="0.75"/><ellipse cx="1324.2" cy="401.0" rx="5.2" ry="2.6" transform="rotate(30 1324.2 401.0)" fill="#c0c9c3" opacity="0.75"/><ellipse cx="1216.3" cy="460.9" rx="2.9" ry="2.7" transform="rotate(8 1216.3 460.9)" fill="#a9b3ad" opacity="0.75"/><ellipse cx="1241.1" cy="371.9" rx="4.4" ry="2.2" transform="rotate(166 1241.1 371.9)" fill="#b0bab4" opacity="0.75"/><ellipse cx="1204.2" cy="440.8" rx="4.6" ry="2.7" transform="rotate(106 1204.2 440.8)" fill="#a9b3ad" opacity="0.75"/><ellipse cx="1346.6" cy="451.5" rx="3.6" ry="2.4" transform="rotate(81 1346.6 451.5)" fill="#c0c9c3" opacity="0.75"/><ellipse cx="1241.4" cy="475.7" rx="4.6" ry="2.6" transform="rotate(118 1241.4 475.7)" fill="#a9b3ad" opacity="0.75"/><ellipse cx="1336.5" cy="409.3" rx="4.9" ry="1.9" transform="rotate(154 1336.5 409.3)" fill="#c0c9c3" opacity="0.75"/><ellipse cx="1220.8" cy="394.6" rx="4.9" ry="2.5" transform="rotate(13 1220.8 394.6)" fill="#a9b3ad" opacity="0.75"/><ellipse cx="1319.0" cy="446.9" rx="3.6" ry="1.7" transform="rotate(56 1319.0 446.9)" fill="#b8c2bc" opacity="0.75"/><ellipse cx="1284.5" cy="515.1" rx="4.8" ry="2.6" transform="rotate(22 1284.5 515.1)" fill="#a9b3ad" opacity="0.75"/><ellipse cx="1324.8" cy="437.4" rx="2.7" ry="2.4" transform="rotate(170 1324.8 437.4)" fill="#b8c2bc" opacity="0.75"/><ellipse cx="1287.4" cy="501.8" rx="5.2" ry="1.8" transform="rotate(94 1287.4 501.8)" fill="#b8c2bc" opacity="0.75"/><ellipse cx="1342.4" cy="480.6" rx="4.0" ry="2.2" transform="rotate(55 1342.4 480.6)" fill="#c6cec9" opacity="0.75"/><ellipse cx="1244.6" cy="480.5" rx="2.6" ry="2.0" transform="rotate(81 1244.6 480.5)" fill="#a9b3ad" opacity="0.75"/><ellipse cx="1224.9" cy="485.8" rx="3.5" ry="1.5" transform="rotate(139 1224.9 485.8)" fill="#c6cec9" opacity="0.75"/><ellipse cx="1341.0" cy="415.2" rx="3.0" ry="2.4" transform="rotate(137 1341.0 415.2)" fill="#c6cec9" opacity="0.75"/><ellipse cx="1260.2" cy="480.6" rx="3.0" ry="2.4" transform="rotate(108 1260.2 480.6)" fill="#c0c9c3" opacity="0.75"/><ellipse cx="1322.9" cy="462.4" rx="3.3" ry="2.6" transform="rotate(177 1322.9 462.4)" fill="#b0bab4" opacity="0.75"/><ellipse cx="1217.3" cy="440.3" rx="4.6" ry="2.3" transform="rotate(18 1217.3 440.3)" fill="#c6cec9" opacity="0.75"/><ellipse cx="1296.3" cy="504.6" rx="4.9" ry="2.0" transform="rotate(153 1296.3 504.6)" fill="#c0c9c3" opacity="0.75"/><ellipse cx="1316.0" cy="495.9" rx="2.7" ry="2.4" transform="rotate(59 1316.0 495.9)" fill="#c0c9c3" opacity="0.75"/><ellipse cx="1234.5" cy="387.3" rx="3.3" ry="2.6" transform="rotate(40 1234.5 387.3)" fill="#b8c2bc" opacity="0.75"/><ellipse cx="1242.0" cy="464.7" rx="3.8" ry="2.8" transform="rotate(173 1242.0 464.7)" fill="#b0bab4" opacity="0.75"/><ellipse cx="1350.4" cy="464.0" rx="3.4" ry="2.1" transform="rotate(50 1350.4 464.0)" fill="#b8c2bc" opacity="0.75"/><ellipse cx="1345.6" cy="417.4" rx="3.7" ry="2.7" transform="rotate(139 1345.6 417.4)" fill="#c0c9c3" opacity="0.75"/><ellipse cx="1272.4" cy="476.4" rx="2.7" ry="2.2" transform="rotate(75 1272.4 476.4)" fill="#c0c9c3" opacity="0.75"/><ellipse cx="1347.9" cy="420.3" rx="3.2" ry="2.3" transform="rotate(135 1347.9 420.3)" fill="#c0c9c3" opacity="0.75"/><ellipse cx="1208.6" cy="424.8" rx="2.8" ry="2.6" transform="rotate(58 1208.6 424.8)" fill="#b0bab4" opacity="0.75"/><ellipse cx="1227.1" cy="440.1" rx="3.2" ry="1.9" transform="rotate(177 1227.1 440.1)" fill="#b8c2bc" opacity="0.75"/><ellipse cx="1234.8" cy="463.5" rx="3.8" ry="2.6" transform="rotate(139 1234.8 463.5)" fill="#a9b3ad" opacity="0.75"/><ellipse cx="1248.9" cy="491.4" rx="2.9" ry="2.5" transform="rotate(81 1248.9 491.4)" fill="#a9b3ad" opacity="0.75"/><ellipse cx="1313.5" cy="370.5" rx="3.5" ry="1.6" transform="rotate(156 1313.5 370.5)" fill="#a9b3ad" opacity="0.75"/><ellipse cx="1280.5" cy="517.1" rx="4.1" ry="2.7" transform="rotate(57 1280.5 517.1)" fill="#c0c9c3" opacity="0.75"/><ellipse cx="1212.0" cy="453.3" rx="3.4" ry="2.0" transform="rotate(32 1212.0 453.3)" fill="#b8c2bc" opacity="0.75"/><ellipse cx="1226.3" cy="497.6" rx="3.7" ry="2.1" transform="rotate(65 1226.3 497.6)" fill="#b8c2bc" opacity="0.75"/><ellipse cx="1272.6" cy="490.6" rx="3.4" ry="1.7" transform="rotate(126 1272.6 490.6)" fill="#b0bab4" opacity="0.75"/><ellipse cx="1234.7" cy="485.9" rx="3.0" ry="2.3" transform="rotate(166 1234.7 485.9)" fill="#b0bab4" opacity="0.75"/><ellipse cx="1218.4" cy="445.4" rx="3.2" ry="2.7" transform="rotate(10 1218.4 445.4)" fill="#c6cec9" opacity="0.75"/><ellipse cx="1319.3" cy="487.4" rx="5.0" ry="2.2" transform="rotate(7 1319.3 487.4)" fill="#c6cec9" opacity="0.75"/><ellipse cx="1323.7" cy="459.7" rx="4.8" ry="2.1" transform="rotate(87 1323.7 459.7)" fill="#b8c2bc" opacity="0.75"/><ellipse cx="1348.5" cy="443.6" rx="3.4" ry="1.7" transform="rotate(76 1348.5 443.6)" fill="#b8c2bc" opacity="0.75"/><ellipse cx="1224.9" cy="421.3" rx="4.0" ry="2.6" transform="rotate(132 1224.9 421.3)" fill="#b0bab4" opacity="0.75"/><ellipse cx="1223.1" cy="453.6" rx="4.7" ry="2.0" transform="rotate(10 1223.1 453.6)" fill="#b8c2bc" opacity="0.75"/><ellipse cx="1341.8" cy="463.2" rx="3.8" ry="2.6" transform="rotate(134 1341.8 463.2)" fill="#b8c2bc" opacity="0.75"/><ellipse cx="1319.5" cy="388.7" rx="3.4" ry="2.5" transform="rotate(123 1319.5 388.7)" fill="#b8c2bc" opacity="0.75"/><ellipse cx="1219.3" cy="396.6" rx="2.9" ry="1.9" transform="rotate(12 1219.3 396.6)" fill="#b8c2bc" opacity="0.75"/><ellipse cx="1217.1" cy="390.4" rx="3.7" ry="2.5" transform="rotate(86 1217.1 390.4)" fill="#b0bab4" opacity="0.75"/><ellipse cx="1310.2" cy="469.2" rx="3.9" ry="1.5" transform="rotate(110 1310.2 469.2)" fill="#c0c9c3" opacity="0.75"/><ellipse cx="1288.9" cy="362.6" rx="4.0" ry="1.7" transform="rotate(0 1288.9 362.6)" fill="#b0bab4" opacity="0.75"/><ellipse cx="1305.2" cy="462.5" rx="4.4" ry="2.5" transform="rotate(40 1305.2 462.5)" fill="#a9b3ad" opacity="0.75"/><ellipse cx="1260.5" cy="505.8" rx="2.8" ry="1.7" transform="rotate(104 1260.5 505.8)" fill="#a9b3ad" opacity="0.75"/><ellipse cx="1231.8" cy="477.6" rx="3.8" ry="1.8" transform="rotate(69 1231.8 477.6)" fill="#b8c2bc" opacity="0.75"/><ellipse cx="1320.1" cy="480.9" rx="4.8" ry="1.5" transform="rotate(110 1320.1 480.9)" fill="#a9b3ad" opacity="0.75"/><ellipse cx="1229.4" cy="400.3" rx="3.7" ry="2.2" transform="rotate(100 1229.4 400.3)" fill="#b0bab4" opacity="0.75"/><ellipse cx="1308.5" cy="374.0" rx="2.8" ry="2.7" transform="rotate(74 1308.5 374.0)" fill="#a9b3ad" opacity="0.75"/><ellipse cx="1280.8" cy="485.8" rx="3.1" ry="1.8" transform="rotate(150 1280.8 485.8)" fill="#a9b3ad" opacity="0.75"/><ellipse cx="1316.8" cy="460.9" rx="4.1" ry="2.8" transform="rotate(45 1316.8 460.9)" fill="#c0c9c3" opacity="0.75"/><ellipse cx="1204.6" cy="418.1" rx="3.7" ry="2.7" transform="rotate(6 1204.6 418.1)" fill="#a9b3ad" opacity="0.75"/><ellipse cx="1235.3" cy="373.4" rx="3.0" ry="1.9" transform="rotate(91 1235.3 373.4)" fill="#a9b3ad" opacity="0.75"/><ellipse cx="1222.4" cy="394.3" rx="2.8" ry="2.6" transform="rotate(134 1222.4 394.3)" fill="#a9b3ad" opacity="0.75"/><ellipse cx="1333.4" cy="427.6" rx="4.3" ry="1.7" transform="rotate(161 1333.4 427.6)" fill="#b8c2bc" opacity="0.75"/><ellipse cx="1344.8" cy="412.5" rx="3.0" ry="2.2" transform="rotate(48 1344.8 412.5)" fill="#b8c2bc" opacity="0.75"/><ellipse cx="1222.5" cy="488.9" rx="2.6" ry="1.8" transform="rotate(108 1222.5 488.9)" fill="#c6cec9" opacity="0.75"/><ellipse cx="1327.4" cy="462.3" rx="4.5" ry="1.9" transform="rotate(131 1327.4 462.3)" fill="#c6cec9" opacity="0.75"/><ellipse cx="1257.0" cy="493.7" rx="4.2" ry="2.1" transform="rotate(83 1257.0 493.7)" fill="#b0bab4" opacity="0.75"/><ellipse cx="1242.1" cy="477.3" rx="4.6" ry="1.9" transform="rotate(28 1242.1 477.3)" fill="#a9b3ad" opacity="0.75"/><ellipse cx="1214.4" cy="469.3" rx="4.0" ry="2.5" transform="rotate(167 1214.4 469.3)" fill="#a9b3ad" opacity="0.75"/><ellipse cx="1343.0" cy="404.8" rx="4.3" ry="2.1" transform="rotate(58 1343.0 404.8)" fill="#b8c2bc" opacity="0.75"/><ellipse cx="1216.6" cy="433.2" rx="2.8" ry="2.5" transform="rotate(78 1216.6 433.2)" fill="#b0bab4" opacity="0.75"/><ellipse cx="1271.8" cy="365.3" rx="4.9" ry="2.3" transform="rotate(150 1271.8 365.3)" fill="#b0bab4" opacity="0.75"/><ellipse cx="1202.9" cy="426.8" rx="4.8" ry="2.4" transform="rotate(15 1202.9 426.8)" fill="#b0bab4" opacity="0.75"/><ellipse cx="1265.1" cy="489.6" rx="3.6" ry="2.1" transform="rotate(64 1265.1 489.6)" fill="#b8c2bc" opacity="0.75"/><ellipse cx="1309.8" cy="478.4" rx="4.9" ry="1.9" transform="rotate(74 1309.8 478.4)" fill="#b0bab4" opacity="0.75"/><ellipse cx="1340.7" cy="426.0" rx="4.6" ry="1.8" transform="rotate(80 1340.7 426.0)" fill="#c0c9c3" opacity="0.75"/><ellipse cx="1323.0" cy="458.1" rx="3.9" ry="2.0" transform="rotate(41 1323.0 458.1)" fill="#a9b3ad" opacity="0.75"/><ellipse cx="1322.8" cy="394.0" rx="4.7" ry="2.7" transform="rotate(4 1322.8 394.0)" fill="#b0bab4" opacity="0.75"/><ellipse cx="1279.2" cy="496.4" rx="3.8" ry="2.6" transform="rotate(69 1279.2 496.4)" fill="#b8c2bc" opacity="0.75"/><ellipse cx="1305.0" cy="491.7" rx="2.7" ry="2.4" transform="rotate(77 1305.0 491.7)" fill="#a9b3ad" opacity="0.75"/><ellipse cx="1325.6" cy="485.4" rx="4.7" ry="1.8" transform="rotate(84 1325.6 485.4)" fill="#b8c2bc" opacity="0.75"/><ellipse cx="1211.6" cy="411.9" rx="4.6" ry="1.9" transform="rotate(61 1211.6 411.9)" fill="#b8c2bc" opacity="0.75"/><ellipse cx="1327.9" cy="383.7" rx="3.6" ry="1.9" transform="rotate(53 1327.9 383.7)" fill="#b8c2bc" opacity="0.75"/><ellipse cx="1342.6" cy="398.3" rx="3.1" ry="1.8" transform="rotate(90 1342.6 398.3)" fill="#a9b3ad" opacity="0.75"/><ellipse cx="1315.3" cy="461.5" rx="4.8" ry="2.5" transform="rotate(42 1315.3 461.5)" fill="#a9b3ad" opacity="0.75"/><ellipse cx="1230.0" cy="480.3" rx="3.7" ry="1.7" transform="rotate(143 1230.0 480.3)" fill="#c0c9c3" opacity="0.75"/><ellipse cx="1335.9" cy="466.8" rx="3.9" ry="1.8" transform="rotate(123 1335.9 466.8)" fill="#b8c2bc" opacity="0.75"/><ellipse cx="1309.1" cy="472.3" rx="5.1" ry="2.0" transform="rotate(157 1309.1 472.3)" fill="#c6cec9" opacity="0.75"/><ellipse cx="1290.2" cy="476.2" rx="3.7" ry="1.9" transform="rotate(134 1290.2 476.2)" fill="#b8c2bc" opacity="0.75"/><ellipse cx="1340.9" cy="471.3" rx="4.8" ry="1.8" transform="rotate(162 1340.9 471.3)" fill="#c6cec9" opacity="0.75"/><ellipse cx="1317.0" cy="473.3" rx="3.4" ry="2.3" transform="rotate(178 1317.0 473.3)" fill="#c0c9c3" opacity="0.75"/><ellipse cx="1222.0" cy="392.5" rx="2.9" ry="2.5" transform="rotate(8 1222.0 392.5)" fill="#a9b3ad" opacity="0.75"/><ellipse cx="1323.3" cy="389.2" rx="2.7" ry="2.6" transform="rotate(54 1323.3 389.2)" fill="#a9b3ad" opacity="0.75"/><ellipse cx="1335.0" cy="491.7" rx="4.6" ry="1.6" transform="rotate(19 1335.0 491.7)" fill="#b0bab4" opacity="0.75"/><ellipse cx="1225.4" cy="394.6" rx="5.0" ry="1.7" transform="rotate(113 1225.4 394.6)" fill="#a9b3ad" opacity="0.75"/><ellipse cx="1237.7" cy="481.7" rx="4.3" ry="2.7" transform="rotate(97 1237.7 481.7)" fill="#b8c2bc" opacity="0.75"/><ellipse cx="1266.6" cy="499.4" rx="3.1" ry="2.2" transform="rotate(99 1266.6 499.4)" fill="#c0c9c3" opacity="0.75"/><ellipse cx="1243.3" cy="500.6" rx="3.4" ry="2.7" transform="rotate(78 1243.3 500.6)" fill="#b0bab4" opacity="0.75"/><ellipse cx="1313.1" cy="507.6" rx="5.1" ry="2.3" transform="rotate(170 1313.1 507.6)" fill="#b0bab4" opacity="0.75"/><ellipse cx="1238.7" cy="498.3" rx="5.2" ry="2.4" transform="rotate(68 1238.7 498.3)" fill="#b8c2bc" opacity="0.75"/><ellipse cx="1291.6" cy="475.2" rx="2.8" ry="1.8" transform="rotate(100 1291.6 475.2)" fill="#b8c2bc" opacity="0.75"/><ellipse cx="1220.5" cy="442.4" rx="3.9" ry="1.8" transform="rotate(138 1220.5 442.4)" fill="#a9b3ad" opacity="0.75"/><ellipse cx="1248.0" cy="372.7" rx="3.5" ry="1.9" transform="rotate(47 1248.0 372.7)" fill="#b8c2bc" opacity="0.75"/><ellipse cx="1255.2" cy="501.3" rx="3.7" ry="2.7" transform="rotate(86 1255.2 501.3)" fill="#b0bab4" opacity="0.75"/><ellipse cx="1301.7" cy="468.3" rx="3.1" ry="1.9" transform="rotate(66 1301.7 468.3)" fill="#c6cec9" opacity="0.75"/><ellipse cx="1263.4" cy="509.1" rx="4.7" ry="1.7" transform="rotate(78 1263.4 509.1)" fill="#c6cec9" opacity="0.75"/><ellipse cx="1213.9" cy="424.2" rx="2.7" ry="2.6" transform="rotate(33 1213.9 424.2)" fill="#c0c9c3" opacity="0.75"/><ellipse cx="1225.7" cy="468.6" rx="4.5" ry="1.7" transform="rotate(180 1225.7 468.6)" fill="#a9b3ad" opacity="0.75"/><ellipse cx="1203.5" cy="444.0" rx="4.0" ry="2.1" transform="rotate(111 1203.5 444.0)" fill="#c6cec9" opacity="0.75"/><ellipse cx="1344.7" cy="427.1" rx="3.7" ry="2.1" transform="rotate(18 1344.7 427.1)" fill="#c6cec9" opacity="0.75"/><ellipse cx="1318.2" cy="478.1" rx="4.4" ry="2.2" transform="rotate(2 1318.2 478.1)" fill="#c0c9c3" opacity="0.75"/></g>
<g opacity="1.0" filter="url(#blur06)"><circle cx="1736.50" cy="556.60" r="34.00" fill="#e0e1e0"/><ellipse cx="1783.3" cy="563.4" rx="3.9" ry="2.3" transform="rotate(33 1783.3 563.4)" fill="#c6cec9" opacity="0.75"/><ellipse cx="1702.1" cy="561.3" rx="3.0" ry="2.2" transform="rotate(160 1702.1 561.3)" fill="#b0bab4" opacity="0.75"/><ellipse cx="1731.4" cy="593.5" rx="4.3" ry="2.3" transform="rotate(150 1731.4 593.5)" fill="#b0bab4" opacity="0.75"/><ellipse cx="1774.3" cy="569.3" rx="4.3" ry="2.1" transform="rotate(119 1774.3 569.3)" fill="#a9b3ad" opacity="0.75"/><ellipse cx="1742.2" cy="614.7" rx="2.8" ry="1.8" transform="rotate(136 1742.2 614.7)" fill="#c6cec9" opacity="0.75"/><ellipse cx="1713.4" cy="519.9" rx="4.6" ry="2.0" transform="rotate(152 1713.4 519.9)" fill="#a9b3ad" opacity="0.75"/><ellipse cx="1722.9" cy="590.2" rx="3.7" ry="2.2" transform="rotate(36 1722.9 590.2)" fill="#c0c9c3" opacity="0.75"/><ellipse cx="1745.1" cy="516.8" rx="3.0" ry="2.1" transform="rotate(2 1745.1 516.8)" fill="#c6cec9" opacity="0.75"/><ellipse cx="1731.5" cy="617.7" rx="3.9" ry="2.2" transform="rotate(156 1731.5 617.7)" fill="#b8c2bc" opacity="0.75"/><ellipse cx="1706.7" cy="579.3" rx="4.5" ry="1.7" transform="rotate(113 1706.7 579.3)" fill="#c6cec9" opacity="0.75"/><ellipse cx="1778.6" cy="578.6" rx="3.7" ry="1.6" transform="rotate(7 1778.6 578.6)" fill="#c0c9c3" opacity="0.75"/><ellipse cx="1707.8" cy="589.7" rx="3.3" ry="2.6" transform="rotate(107 1707.8 589.7)" fill="#c0c9c3" opacity="0.75"/><ellipse cx="1738.8" cy="614.4" rx="5.1" ry="1.7" transform="rotate(86 1738.8 614.4)" fill="#c6cec9" opacity="0.75"/><ellipse cx="1730.6" cy="518.9" rx="3.1" ry="2.0" transform="rotate(103 1730.6 518.9)" fill="#b8c2bc" opacity="0.75"/><ellipse cx="1785.8" cy="577.1" rx="5.0" ry="2.1" transform="rotate(64 1785.8 577.1)" fill="#c0c9c3" opacity="0.75"/><ellipse cx="1741.7" cy="593.3" rx="4.9" ry="2.5" transform="rotate(127 1741.7 593.3)" fill="#c0c9c3" opacity="0.75"/><ellipse cx="1720.3" cy="587.6" rx="4.9" ry="2.6" transform="rotate(75 1720.3 587.6)" fill="#b0bab4" opacity="0.75"/><ellipse cx="1776.6" cy="575.2" rx="4.2" ry="2.0" transform="rotate(105 1776.6 575.2)" fill="#c6cec9" opacity="0.75"/><ellipse cx="1694.3" cy="540.5" rx="3.7" ry="1.9" transform="rotate(168 1694.3 540.5)" fill="#c6cec9" opacity="0.75"/><ellipse cx="1767.4" cy="584.8" rx="3.9" ry="2.7" transform="rotate(66 1767.4 584.8)" fill="#b8c2bc" opacity="0.75"/><ellipse cx="1779.7" cy="548.2" rx="4.3" ry="1.8" transform="rotate(78 1779.7 548.2)" fill="#b8c2bc" opacity="0.75"/><ellipse cx="1778.4" cy="554.5" rx="4.1" ry="1.9" transform="rotate(25 1778.4 554.5)" fill="#a9b3ad" opacity="0.75"/><ellipse cx="1720.2" cy="610.7" rx="2.7" ry="1.6" transform="rotate(176 1720.2 610.7)" fill="#b8c2bc" opacity="0.75"/><ellipse cx="1694.0" cy="564.0" rx="5.0" ry="2.6" transform="rotate(69 1694.0 564.0)" fill="#c6cec9" opacity="0.75"/><ellipse cx="1731.4" cy="520.4" rx="2.7" ry="2.6" transform="rotate(7 1731.4 520.4)" fill="#c0c9c3" opacity="0.75"/><ellipse cx="1696.5" cy="562.2" rx="2.7" ry="2.6" transform="rotate(43 1696.5 562.2)" fill="#b8c2bc" opacity="0.75"/><ellipse cx="1722.2" cy="520.8" rx="3.1" ry="2.6" transform="rotate(46 1722.2 520.8)" fill="#b0bab4" opacity="0.75"/><ellipse cx="1767.2" cy="571.6" rx="5.1" ry="2.2" transform="rotate(179 1767.2 571.6)" fill="#b8c2bc" opacity="0.75"/><ellipse cx="1724.9" cy="599.3" rx="5.0" ry="1.6" transform="rotate(168 1724.9 599.3)" fill="#a9b3ad" opacity="0.75"/><ellipse cx="1695.9" cy="562.1" rx="4.2" ry="2.7" transform="rotate(68 1695.9 562.1)" fill="#c6cec9" opacity="0.75"/><ellipse cx="1771.7" cy="549.9" rx="3.4" ry="2.8" transform="rotate(18 1771.7 549.9)" fill="#b0bab4" opacity="0.75"/><ellipse cx="1740.7" cy="599.2" rx="3.4" ry="2.7" transform="rotate(154 1740.7 599.2)" fill="#c0c9c3" opacity="0.75"/><ellipse cx="1737.1" cy="516.3" rx="3.5" ry="2.0" transform="rotate(50 1737.1 516.3)" fill="#b0bab4" opacity="0.75"/><ellipse cx="1705.6" cy="607.6" rx="3.7" ry="1.5" transform="rotate(96 1705.6 607.6)" fill="#b8c2bc" opacity="0.75"/><ellipse cx="1780.7" cy="569.2" rx="4.4" ry="2.1" transform="rotate(158 1780.7 569.2)" fill="#c6cec9" opacity="0.75"/><ellipse cx="1706.0" cy="570.1" rx="3.4" ry="2.4" transform="rotate(115 1706.0 570.1)" fill="#c6cec9" opacity="0.75"/><ellipse cx="1738.2" cy="612.0" rx="3.3" ry="2.4" transform="rotate(172 1738.2 612.0)" fill="#c6cec9" opacity="0.75"/><ellipse cx="1704.5" cy="605.8" rx="5.1" ry="2.2" transform="rotate(103 1704.5 605.8)" fill="#b8c2bc" opacity="0.75"/><ellipse cx="1740.8" cy="517.0" rx="5.0" ry="2.2" transform="rotate(178 1740.8 517.0)" fill="#b0bab4" opacity="0.75"/><ellipse cx="1688.8" cy="571.5" rx="3.7" ry="2.7" transform="rotate(166 1688.8 571.5)" fill="#c0c9c3" opacity="0.75"/><ellipse cx="1719.0" cy="611.3" rx="5.0" ry="2.7" transform="rotate(94 1719.0 611.3)" fill="#b0bab4" opacity="0.75"/><ellipse cx="1702.7" cy="580.2" rx="5.0" ry="1.7" transform="rotate(140 1702.7 580.2)" fill="#b0bab4" opacity="0.75"/><ellipse cx="1745.6" cy="605.9" rx="4.2" ry="2.4" transform="rotate(126 1745.6 605.9)" fill="#a9b3ad" opacity="0.75"/><ellipse cx="1772.4" cy="579.9" rx="4.0" ry="2.6" transform="rotate(96 1772.4 579.9)" fill="#b8c2bc" opacity="0.75"/><ellipse cx="1739.9" cy="605.8" rx="4.2" ry="2.6" transform="rotate(42 1739.9 605.8)" fill="#c0c9c3" opacity="0.75"/><ellipse cx="1780.9" cy="546.9" rx="3.4" ry="2.7" transform="rotate(39 1780.9 546.9)" fill="#b8c2bc" opacity="0.75"/><ellipse cx="1707.9" cy="592.1" rx="3.3" ry="1.6" transform="rotate(150 1707.9 592.1)" fill="#a9b3ad" opacity="0.75"/><ellipse cx="1741.4" cy="589.7" rx="3.1" ry="2.3" transform="rotate(144 1741.4 589.7)" fill="#b0bab4" opacity="0.75"/><ellipse cx="1703.7" cy="587.3" rx="5.0" ry="2.8" transform="rotate(21 1703.7 587.3)" fill="#c6cec9" opacity="0.75"/><ellipse cx="1769.9" cy="565.2" rx="2.7" ry="2.5" transform="rotate(110 1769.9 565.2)" fill="#c6cec9" opacity="0.75"/><ellipse cx="1699.0" cy="543.3" rx="4.3" ry="2.3" transform="rotate(24 1699.0 543.3)" fill="#a9b3ad" opacity="0.75"/><ellipse cx="1722.3" cy="613.6" rx="4.2" ry="1.6" transform="rotate(143 1722.3 613.6)" fill="#c0c9c3" opacity="0.75"/><ellipse cx="1759.1" cy="606.9" rx="4.2" ry="2.0" transform="rotate(108 1759.1 606.9)" fill="#c6cec9" opacity="0.75"/><ellipse cx="1694.4" cy="593.9" rx="3.0" ry="2.7" transform="rotate(24 1694.4 593.9)" fill="#c0c9c3" opacity="0.75"/><ellipse cx="1778.4" cy="588.6" rx="4.6" ry="2.5" transform="rotate(73 1778.4 588.6)" fill="#b8c2bc" opacity="0.75"/><ellipse cx="1689.4" cy="549.8" rx="3.8" ry="1.5" transform="rotate(64 1689.4 549.8)" fill="#c6cec9" opacity="0.75"/><ellipse cx="1705.1" cy="525.4" rx="3.6" ry="2.2" transform="rotate(21 1705.1 525.4)" fill="#b0bab4" opacity="0.75"/><ellipse cx="1725.8" cy="517.8" rx="3.1" ry="2.0" transform="rotate(18 1725.8 517.8)" fill="#c0c9c3" opacity="0.75"/><ellipse cx="1738.9" cy="605.3" rx="2.9" ry="2.1" transform="rotate(116 1738.9 605.3)" fill="#c6cec9" opacity="0.75"/><ellipse cx="1747.3" cy="595.7" rx="2.7" ry="2.7" transform="rotate(29 1747.3 595.7)" fill="#a9b3ad" opacity="0.75"/><ellipse cx="1783.8" cy="585.2" rx="4.5" ry="1.5" transform="rotate(139 1783.8 585.2)" fill="#c6cec9" opacity="0.75"/><ellipse cx="1780.3" cy="594.5" rx="2.7" ry="2.8" transform="rotate(170 1780.3 594.5)" fill="#b0bab4" opacity="0.75"/><ellipse cx="1769.3" cy="536.8" rx="4.5" ry="1.8" transform="rotate(136 1769.3 536.8)" fill="#b0bab4" opacity="0.75"/><ellipse cx="1739.2" cy="615.3" rx="4.5" ry="2.1" transform="rotate(176 1739.2 615.3)" fill="#b8c2bc" opacity="0.75"/><ellipse cx="1748.0" cy="524.9" rx="4.2" ry="2.1" transform="rotate(37 1748.0 524.9)" fill="#b0bab4" opacity="0.75"/><ellipse cx="1752.0" cy="587.2" rx="3.5" ry="2.5" transform="rotate(147 1752.0 587.2)" fill="#b8c2bc" opacity="0.75"/><ellipse cx="1707.8" cy="524.7" rx="4.9" ry="2.5" transform="rotate(112 1707.8 524.7)" fill="#c0c9c3" opacity="0.75"/><ellipse cx="1711.8" cy="579.3" rx="4.5" ry="2.4" transform="rotate(34 1711.8 579.3)" fill="#c0c9c3" opacity="0.75"/><ellipse cx="1764.5" cy="533.1" rx="3.2" ry="2.8" transform="rotate(165 1764.5 533.1)" fill="#b0bab4" opacity="0.75"/><ellipse cx="1712.2" cy="595.3" rx="5.0" ry="1.7" transform="rotate(42 1712.2 595.3)" fill="#c0c9c3" opacity="0.75"/><ellipse cx="1769.8" cy="561.4" rx="4.7" ry="2.6" transform="rotate(138 1769.8 561.4)" fill="#a9b3ad" opacity="0.75"/><ellipse cx="1770.7" cy="552.8" rx="4.3" ry="2.8" transform="rotate(59 1770.7 552.8)" fill="#c6cec9" opacity="0.75"/><ellipse cx="1765.1" cy="603.1" rx="3.1" ry="2.3" transform="rotate(105 1765.1 603.1)" fill="#a9b3ad" opacity="0.75"/><ellipse cx="1690.7" cy="574.3" rx="3.9" ry="2.4" transform="rotate(54 1690.7 574.3)" fill="#b0bab4" opacity="0.75"/><ellipse cx="1754.4" cy="521.2" rx="3.4" ry="2.4" transform="rotate(125 1754.4 521.2)" fill="#c0c9c3" opacity="0.75"/><ellipse cx="1778.6" cy="536.3" rx="4.3" ry="1.9" transform="rotate(163 1778.6 536.3)" fill="#c0c9c3" opacity="0.75"/><ellipse cx="1782.1" cy="560.4" rx="4.7" ry="1.9" transform="rotate(57 1782.1 560.4)" fill="#a9b3ad" opacity="0.75"/><ellipse cx="1738.4" cy="521.5" rx="4.8" ry="1.5" transform="rotate(122 1738.4 521.5)" fill="#c6cec9" opacity="0.75"/><ellipse cx="1743.6" cy="599.9" rx="4.0" ry="2.6" transform="rotate(101 1743.6 599.9)" fill="#b8c2bc" opacity="0.75"/><ellipse cx="1691.5" cy="562.2" rx="4.8" ry="2.6" transform="rotate(40 1691.5 562.2)" fill="#b0bab4" opacity="0.75"/><ellipse cx="1741.7" cy="598.9" rx="2.8" ry="1.6" transform="rotate(133 1741.7 598.9)" fill="#c0c9c3" opacity="0.75"/><ellipse cx="1690.9" cy="582.0" rx="3.0" ry="2.5" transform="rotate(117 1690.9 582.0)" fill="#b8c2bc" opacity="0.75"/><ellipse cx="1781.5" cy="549.4" rx="3.8" ry="2.0" transform="rotate(145 1781.5 549.4)" fill="#c0c9c3" opacity="0.75"/><ellipse cx="1740.7" cy="591.5" rx="4.4" ry="2.7" transform="rotate(74 1740.7 591.5)" fill="#c0c9c3" opacity="0.75"/><ellipse cx="1775.5" cy="600.8" rx="4.8" ry="2.7" transform="rotate(172 1775.5 600.8)" fill="#b0bab4" opacity="0.75"/><ellipse cx="1739.2" cy="590.3" rx="4.7" ry="2.0" transform="rotate(76 1739.2 590.3)" fill="#b8c2bc" opacity="0.75"/><ellipse cx="1708.6" cy="530.0" rx="4.3" ry="2.4" transform="rotate(58 1708.6 530.0)" fill="#a9b3ad" opacity="0.75"/><ellipse cx="1715.5" cy="524.8" rx="4.3" ry="2.5" transform="rotate(32 1715.5 524.8)" fill="#b0bab4" opacity="0.75"/><ellipse cx="1734.5" cy="600.2" rx="3.4" ry="1.8" transform="rotate(65 1734.5 600.2)" fill="#c6cec9" opacity="0.75"/><ellipse cx="1707.5" cy="591.1" rx="4.1" ry="1.8" transform="rotate(33 1707.5 591.1)" fill="#c0c9c3" opacity="0.75"/><ellipse cx="1725.9" cy="612.4" rx="5.0" ry="2.3" transform="rotate(170 1725.9 612.4)" fill="#c6cec9" opacity="0.75"/><ellipse cx="1786.9" cy="565.3" rx="3.2" ry="1.6" transform="rotate(171 1786.9 565.3)" fill="#a9b3ad" opacity="0.75"/><ellipse cx="1766.8" cy="598.8" rx="2.8" ry="2.7" transform="rotate(161 1766.8 598.8)" fill="#a9b3ad" opacity="0.75"/><ellipse cx="1781.2" cy="561.7" rx="3.2" ry="2.0" transform="rotate(157 1781.2 561.7)" fill="#a9b3ad" opacity="0.75"/><ellipse cx="1698.9" cy="547.6" rx="3.3" ry="2.6" transform="rotate(93 1698.9 547.6)" fill="#c6cec9" opacity="0.75"/><ellipse cx="1698.2" cy="596.9" rx="2.6" ry="2.6" transform="rotate(152 1698.2 596.9)" fill="#b8c2bc" opacity="0.75"/><ellipse cx="1690.7" cy="541.9" rx="4.5" ry="1.6" transform="rotate(86 1690.7 541.9)" fill="#a9b3ad" opacity="0.75"/><ellipse cx="1702.8" cy="587.2" rx="4.6" ry="2.1" transform="rotate(7 1702.8 587.2)" fill="#a9b3ad" opacity="0.75"/><ellipse cx="1773.1" cy="546.5" rx="3.4" ry="1.6" transform="rotate(55 1773.1 546.5)" fill="#a9b3ad" opacity="0.75"/><ellipse cx="1755.0" cy="519.6" rx="2.8" ry="1.7" transform="rotate(120 1755.0 519.6)" fill="#a9b3ad" opacity="0.75"/><ellipse cx="1763.7" cy="598.5" rx="2.9" ry="2.1" transform="rotate(155 1763.7 598.5)" fill="#a9b3ad" opacity="0.75"/><ellipse cx="1707.7" cy="574.3" rx="3.8" ry="1.5" transform="rotate(178 1707.7 574.3)" fill="#b8c2bc" opacity="0.75"/><ellipse cx="1750.7" cy="615.3" rx="4.5" ry="2.7" transform="rotate(136 1750.7 615.3)" fill="#c6cec9" opacity="0.75"/><ellipse cx="1703.6" cy="592.7" rx="3.5" ry="2.7" transform="rotate(101 1703.6 592.7)" fill="#c0c9c3" opacity="0.75"/><ellipse cx="1692.8" cy="580.6" rx="2.9" ry="2.3" transform="rotate(32 1692.8 580.6)" fill="#b8c2bc" opacity="0.75"/><ellipse cx="1725.9" cy="604.3" rx="4.1" ry="1.6" transform="rotate(41 1725.9 604.3)" fill="#b8c2bc" opacity="0.75"/><ellipse cx="1696.9" cy="534.8" rx="3.0" ry="2.4" transform="rotate(87 1696.9 534.8)" fill="#a9b3ad" opacity="0.75"/><ellipse cx="1750.1" cy="592.2" rx="4.2" ry="1.9" transform="rotate(142 1750.1 592.2)" fill="#b8c2bc" opacity="0.75"/><ellipse cx="1693.3" cy="553.7" rx="3.9" ry="2.5" transform="rotate(149 1693.3 553.7)" fill="#c6cec9" opacity="0.75"/><ellipse cx="1707.3" cy="579.5" rx="3.9" ry="2.2" transform="rotate(36 1707.3 579.5)" fill="#c6cec9" opacity="0.75"/><ellipse cx="1784.6" cy="574.6" rx="2.7" ry="2.4" transform="rotate(140 1784.6 574.6)" fill="#b8c2bc" opacity="0.75"/><ellipse cx="1708.5" cy="575.6" rx="4.4" ry="1.9" transform="rotate(167 1708.5 575.6)" fill="#c0c9c3" opacity="0.75"/><ellipse cx="1710.9" cy="609.3" rx="3.8" ry="2.4" transform="rotate(43 1710.9 609.3)" fill="#c6cec9" opacity="0.75"/><ellipse cx="1771.5" cy="578.4" rx="2.9" ry="2.6" transform="rotate(52 1771.5 578.4)" fill="#c0c9c3" opacity="0.75"/><ellipse cx="1708.1" cy="575.3" rx="4.8" ry="1.7" transform="rotate(99 1708.1 575.3)" fill="#b0bab4" opacity="0.75"/><ellipse cx="1764.8" cy="605.4" rx="5.0" ry="2.3" transform="rotate(115 1764.8 605.4)" fill="#b0bab4" opacity="0.75"/><ellipse cx="1699.0" cy="557.5" rx="2.7" ry="2.2" transform="rotate(21 1699.0 557.5)" fill="#a9b3ad" opacity="0.75"/><ellipse cx="1700.7" cy="569.4" rx="3.3" ry="2.2" transform="rotate(60 1700.7 569.4)" fill="#b0bab4" opacity="0.75"/><ellipse cx="1761.0" cy="598.8" rx="3.6" ry="2.1" transform="rotate(18 1761.0 598.8)" fill="#c0c9c3" opacity="0.75"/><ellipse cx="1757.4" cy="595.6" rx="4.6" ry="2.1" transform="rotate(179 1757.4 595.6)" fill="#a9b3ad" opacity="0.75"/><ellipse cx="1727.8" cy="514.9" rx="5.0" ry="1.9" transform="rotate(111 1727.8 514.9)" fill="#a9b3ad" opacity="0.75"/><ellipse cx="1762.1" cy="577.9" rx="4.6" ry="1.9" transform="rotate(107 1762.1 577.9)" fill="#b0bab4" opacity="0.75"/><ellipse cx="1708.5" cy="605.1" rx="3.2" ry="2.6" transform="rotate(175 1708.5 605.1)" fill="#a9b3ad" opacity="0.75"/><ellipse cx="1776.9" cy="558.6" rx="4.7" ry="1.8" transform="rotate(134 1776.9 558.6)" fill="#c6cec9" opacity="0.75"/><ellipse cx="1778.6" cy="575.5" rx="3.8" ry="1.9" transform="rotate(131 1778.6 575.5)" fill="#b0bab4" opacity="0.75"/><ellipse cx="1717.3" cy="519.1" rx="4.9" ry="2.6" transform="rotate(72 1717.3 519.1)" fill="#c0c9c3" opacity="0.75"/><ellipse cx="1697.4" cy="597.6" rx="4.6" ry="2.6" transform="rotate(36 1697.4 597.6)" fill="#b0bab4" opacity="0.75"/><ellipse cx="1703.1" cy="604.4" rx="3.5" ry="2.1" transform="rotate(31 1703.1 604.4)" fill="#c6cec9" opacity="0.75"/><ellipse cx="1703.8" cy="581.8" rx="3.1" ry="2.6" transform="rotate(9 1703.8 581.8)" fill="#b0bab4" opacity="0.75"/><ellipse cx="1715.3" cy="602.1" rx="5.1" ry="1.9" transform="rotate(76 1715.3 602.1)" fill="#b8c2bc" opacity="0.75"/><ellipse cx="1694.9" cy="588.2" rx="3.3" ry="2.4" transform="rotate(90 1694.9 588.2)" fill="#c0c9c3" opacity="0.75"/><ellipse cx="1754.4" cy="609.5" rx="4.1" ry="1.8" transform="rotate(54 1754.4 609.5)" fill="#b8c2bc" opacity="0.75"/><ellipse cx="1752.0" cy="522.1" rx="5.2" ry="2.1" transform="rotate(95 1752.0 522.1)" fill="#c6cec9" opacity="0.75"/><ellipse cx="1702.4" cy="531.9" rx="4.5" ry="1.5" transform="rotate(142 1702.4 531.9)" fill="#b8c2bc" opacity="0.75"/><ellipse cx="1732.4" cy="594.8" rx="3.6" ry="2.7" transform="rotate(90 1732.4 594.8)" fill="#b8c2bc" opacity="0.75"/><ellipse cx="1781.7" cy="547.5" rx="3.9" ry="1.5" transform="rotate(52 1781.7 547.5)" fill="#c6cec9" opacity="0.75"/><ellipse cx="1746.9" cy="597.0" rx="2.9" ry="2.1" transform="rotate(120 1746.9 597.0)" fill="#c6cec9" opacity="0.75"/><ellipse cx="1766.6" cy="598.7" rx="4.7" ry="1.8" transform="rotate(88 1766.6 598.7)" fill="#b8c2bc" opacity="0.75"/><ellipse cx="1775.4" cy="578.6" rx="3.3" ry="1.8" transform="rotate(175 1775.4 578.6)" fill="#b0bab4" opacity="0.75"/><ellipse cx="1744.6" cy="608.2" rx="3.1" ry="1.7" transform="rotate(3 1744.6 608.2)" fill="#a9b3ad" opacity="0.75"/><ellipse cx="1770.3" cy="567.6" rx="4.5" ry="2.6" transform="rotate(6 1770.3 567.6)" fill="#b0bab4" opacity="0.75"/><ellipse cx="1781.4" cy="574.8" rx="4.0" ry="2.5" transform="rotate(43 1781.4 574.8)" fill="#b8c2bc" opacity="0.75"/><ellipse cx="1687.5" cy="559.0" rx="4.4" ry="2.6" transform="rotate(133 1687.5 559.0)" fill="#c0c9c3" opacity="0.75"/><ellipse cx="1758.5" cy="589.6" rx="5.1" ry="1.7" transform="rotate(136 1758.5 589.6)" fill="#c6cec9" opacity="0.75"/><ellipse cx="1731.7" cy="594.1" rx="2.7" ry="1.8" transform="rotate(160 1731.7 594.1)" fill="#b8c2bc" opacity="0.75"/><ellipse cx="1691.7" cy="573.4" rx="3.8" ry="2.7" transform="rotate(175 1691.7 573.4)" fill="#c6cec9" opacity="0.75"/><ellipse cx="1706.9" cy="540.1" rx="4.0" ry="1.8" transform="rotate(83 1706.9 540.1)" fill="#b8c2bc" opacity="0.75"/><ellipse cx="1686.0" cy="556.5" rx="4.3" ry="1.6" transform="rotate(62 1686.0 556.5)" fill="#c6cec9" opacity="0.75"/><ellipse cx="1687.0" cy="558.2" rx="3.2" ry="2.5" transform="rotate(145 1687.0 558.2)" fill="#a9b3ad" opacity="0.75"/><ellipse cx="1704.0" cy="535.8" rx="3.8" ry="1.9" transform="rotate(80 1704.0 535.8)" fill="#b8c2bc" opacity="0.75"/><ellipse cx="1776.5" cy="534.7" rx="3.6" ry="1.6" transform="rotate(124 1776.5 534.7)" fill="#c0c9c3" opacity="0.75"/><ellipse cx="1786.0" cy="580.5" rx="3.9" ry="2.5" transform="rotate(92 1786.0 580.5)" fill="#c6cec9" opacity="0.75"/><ellipse cx="1783.2" cy="590.9" rx="3.3" ry="2.0" transform="rotate(28 1783.2 590.9)" fill="#c0c9c3" opacity="0.75"/><ellipse cx="1696.7" cy="538.7" rx="4.8" ry="1.7" transform="rotate(180 1696.7 538.7)" fill="#a9b3ad" opacity="0.75"/><ellipse cx="1731.1" cy="606.2" rx="3.6" ry="1.8" transform="rotate(158 1731.1 606.2)" fill="#b0bab4" opacity="0.75"/><ellipse cx="1723.1" cy="609.0" rx="4.8" ry="2.2" transform="rotate(81 1723.1 609.0)" fill="#b8c2bc" opacity="0.75"/><ellipse cx="1724.1" cy="607.5" rx="3.2" ry="1.9" transform="rotate(62 1724.1 607.5)" fill="#b8c2bc" opacity="0.75"/><ellipse cx="1763.3" cy="584.8" rx="2.8" ry="2.6" transform="rotate(100 1763.3 584.8)" fill="#c0c9c3" opacity="0.75"/><ellipse cx="1754.9" cy="617.3" rx="4.9" ry="1.8" transform="rotate(114 1754.9 617.3)" fill="#b0bab4" opacity="0.75"/><ellipse cx="1769.6" cy="525.4" rx="3.9" ry="2.1" transform="rotate(168 1769.6 525.4)" fill="#c0c9c3" opacity="0.75"/><ellipse cx="1699.0" cy="556.5" rx="3.8" ry="1.7" transform="rotate(120 1699.0 556.5)" fill="#b8c2bc" opacity="0.75"/><ellipse cx="1738.8" cy="593.9" rx="5.0" ry="2.5" transform="rotate(86 1738.8 593.9)" fill="#c0c9c3" opacity="0.75"/><ellipse cx="1688.5" cy="556.7" rx="2.7" ry="2.1" transform="rotate(105 1688.5 556.7)" fill="#a9b3ad" opacity="0.75"/><ellipse cx="1760.7" cy="609.7" rx="2.8" ry="1.5" transform="rotate(58 1760.7 609.7)" fill="#c0c9c3" opacity="0.75"/><ellipse cx="1786.6" cy="552.1" rx="4.1" ry="2.7" transform="rotate(139 1786.6 552.1)" fill="#b0bab4" opacity="0.75"/><ellipse cx="1723.6" cy="612.3" rx="2.7" ry="1.7" transform="rotate(91 1723.6 612.3)" fill="#c0c9c3" opacity="0.75"/><ellipse cx="1775.0" cy="596.4" rx="2.8" ry="2.6" transform="rotate(159 1775.0 596.4)" fill="#c0c9c3" opacity="0.75"/><ellipse cx="1710.6" cy="523.6" rx="2.7" ry="2.5" transform="rotate(37 1710.6 523.6)" fill="#a9b3ad" opacity="0.75"/><ellipse cx="1772.3" cy="529.7" rx="4.2" ry="2.1" transform="rotate(101 1772.3 529.7)" fill="#c0c9c3" opacity="0.75"/><ellipse cx="1759.3" cy="613.1" rx="4.5" ry="2.6" transform="rotate(178 1759.3 613.1)" fill="#b0bab4" opacity="0.75"/><ellipse cx="1779.0" cy="546.3" rx="4.8" ry="2.2" transform="rotate(122 1779.0 546.3)" fill="#b0bab4" opacity="0.75"/><ellipse cx="1718.3" cy="595.7" rx="4.8" ry="2.6" transform="rotate(102 1718.3 595.7)" fill="#a9b3ad" opacity="0.75"/><ellipse cx="1752.1" cy="526.0" rx="4.5" ry="1.8" transform="rotate(29 1752.1 526.0)" fill="#b8c2bc" opacity="0.75"/><ellipse cx="1707.0" cy="532.5" rx="2.6" ry="2.3" transform="rotate(169 1707.0 532.5)" fill="#b8c2bc" opacity="0.75"/><ellipse cx="1709.3" cy="585.4" rx="3.6" ry="2.4" transform="rotate(25 1709.3 585.4)" fill="#b8c2bc" opacity="0.75"/><ellipse cx="1760.1" cy="525.2" rx="2.7" ry="1.9" transform="rotate(132 1760.1 525.2)" fill="#b0bab4" opacity="0.75"/><ellipse cx="1726.1" cy="611.7" rx="4.8" ry="2.6" transform="rotate(31 1726.1 611.7)" fill="#b0bab4" opacity="0.75"/><ellipse cx="1715.6" cy="600.3" rx="4.8" ry="1.9" transform="rotate(71 1715.6 600.3)" fill="#c6cec9" opacity="0.75"/><ellipse cx="1705.4" cy="543.3" rx="4.9" ry="2.1" transform="rotate(150 1705.4 543.3)" fill="#c6cec9" opacity="0.75"/><ellipse cx="1779.8" cy="546.2" rx="2.8" ry="1.7" transform="rotate(87 1779.8 546.2)" fill="#b8c2bc" opacity="0.75"/><ellipse cx="1705.2" cy="580.0" rx="4.8" ry="1.8" transform="rotate(34 1705.2 580.0)" fill="#c0c9c3" opacity="0.75"/><ellipse cx="1730.4" cy="603.9" rx="4.5" ry="1.7" transform="rotate(5 1730.4 603.9)" fill="#b8c2bc" opacity="0.75"/><ellipse cx="1742.7" cy="519.1" rx="3.8" ry="2.7" transform="rotate(11 1742.7 519.1)" fill="#c0c9c3" opacity="0.75"/><ellipse cx="1770.7" cy="599.4" rx="4.5" ry="2.0" transform="rotate(145 1770.7 599.4)" fill="#b0bab4" opacity="0.75"/><ellipse cx="1784.6" cy="565.2" rx="4.8" ry="2.0" transform="rotate(162 1784.6 565.2)" fill="#c6cec9" opacity="0.75"/><ellipse cx="1684.2" cy="575.6" rx="3.2" ry="2.0" transform="rotate(66 1684.2 575.6)" fill="#c0c9c3" opacity="0.75"/><ellipse cx="1770.8" cy="552.3" rx="4.3" ry="2.0" transform="rotate(50 1770.8 552.3)" fill="#c0c9c3" opacity="0.75"/><ellipse cx="1705.1" cy="532.0" rx="2.7" ry="1.7" transform="rotate(55 1705.1 532.0)" fill="#b8c2bc" opacity="0.75"/><ellipse cx="1697.3" cy="550.7" rx="3.7" ry="1.5" transform="rotate(90 1697.3 550.7)" fill="#a9b3ad" opacity="0.75"/><ellipse cx="1774.0" cy="596.0" rx="2.7" ry="1.7" transform="rotate(12 1774.0 596.0)" fill="#c6cec9" opacity="0.75"/><ellipse cx="1728.9" cy="618.1" rx="3.2" ry="2.0" transform="rotate(127 1728.9 618.1)" fill="#b8c2bc" opacity="0.75"/><ellipse cx="1724.5" cy="613.5" rx="4.9" ry="2.5" transform="rotate(95 1724.5 613.5)" fill="#b0bab4" opacity="0.75"/><ellipse cx="1697.9" cy="582.0" rx="3.6" ry="2.3" transform="rotate(38 1697.9 582.0)" fill="#c6cec9" opacity="0.75"/><ellipse cx="1695.0" cy="593.5" rx="4.5" ry="2.1" transform="rotate(84 1695.0 593.5)" fill="#a9b3ad" opacity="0.75"/><ellipse cx="1741.1" cy="516.9" rx="5.0" ry="2.2" transform="rotate(81 1741.1 516.9)" fill="#c0c9c3" opacity="0.75"/><ellipse cx="1725.8" cy="607.6" rx="2.9" ry="2.8" transform="rotate(88 1725.8 607.6)" fill="#b8c2bc" opacity="0.75"/><ellipse cx="1768.5" cy="527.9" rx="2.9" ry="1.6" transform="rotate(45 1768.5 527.9)" fill="#c0c9c3" opacity="0.75"/><ellipse cx="1770.4" cy="562.1" rx="4.0" ry="2.6" transform="rotate(35 1770.4 562.1)" fill="#c0c9c3" opacity="0.75"/><ellipse cx="1693.4" cy="560.7" rx="4.6" ry="2.6" transform="rotate(13 1693.4 560.7)" fill="#a9b3ad" opacity="0.75"/><ellipse cx="1775.7" cy="597.0" rx="4.0" ry="2.7" transform="rotate(143 1775.7 597.0)" fill="#b8c2bc" opacity="0.75"/><ellipse cx="1770.9" cy="531.8" rx="3.5" ry="2.7" transform="rotate(172 1770.9 531.8)" fill="#b8c2bc" opacity="0.75"/><ellipse cx="1701.6" cy="554.9" rx="4.8" ry="2.3" transform="rotate(162 1701.6 554.9)" fill="#b0bab4" opacity="0.75"/><ellipse cx="1691.3" cy="583.6" rx="4.0" ry="1.9" transform="rotate(172 1691.3 583.6)" fill="#b8c2bc" opacity="0.75"/><ellipse cx="1723.2" cy="602.0" rx="4.4" ry="2.6" transform="rotate(170 1723.2 602.0)" fill="#c6cec9" opacity="0.75"/><ellipse cx="1704.5" cy="535.3" rx="4.6" ry="1.7" transform="rotate(104 1704.5 535.3)" fill="#b0bab4" opacity="0.75"/><ellipse cx="1785.1" cy="579.3" rx="3.5" ry="1.8" transform="rotate(179 1785.1 579.3)" fill="#b8c2bc" opacity="0.75"/><ellipse cx="1697.7" cy="581.6" rx="3.7" ry="2.6" transform="rotate(74 1697.7 581.6)" fill="#a9b3ad" opacity="0.75"/><ellipse cx="1692.1" cy="568.7" rx="3.7" ry="2.1" transform="rotate(21 1692.1 568.7)" fill="#b0bab4" opacity="0.75"/><ellipse cx="1777.6" cy="543.7" rx="4.8" ry="2.4" transform="rotate(82 1777.6 543.7)" fill="#a9b3ad" opacity="0.75"/><ellipse cx="1724.2" cy="594.0" rx="4.2" ry="2.1" transform="rotate(12 1724.2 594.0)" fill="#a9b3ad" opacity="0.75"/><ellipse cx="1776.9" cy="554.9" rx="3.3" ry="1.6" transform="rotate(158 1776.9 554.9)" fill="#c6cec9" opacity="0.75"/><ellipse cx="1693.1" cy="584.5" rx="3.8" ry="1.8" transform="rotate(142 1693.1 584.5)" fill="#b0bab4" opacity="0.75"/><ellipse cx="1722.8" cy="591.7" rx="4.3" ry="1.9" transform="rotate(162 1722.8 591.7)" fill="#b0bab4" opacity="0.75"/><ellipse cx="1753.3" cy="518.9" rx="3.2" ry="1.5" transform="rotate(142 1753.3 518.9)" fill="#a9b3ad" opacity="0.75"/><ellipse cx="1772.8" cy="583.7" rx="4.4" ry="2.8" transform="rotate(12 1772.8 583.7)" fill="#a9b3ad" opacity="0.75"/><ellipse cx="1753.8" cy="599.1" rx="5.0" ry="2.2" transform="rotate(105 1753.8 599.1)" fill="#a9b3ad" opacity="0.75"/><ellipse cx="1725.0" cy="593.8" rx="2.8" ry="1.7" transform="rotate(117 1725.0 593.8)" fill="#c6cec9" opacity="0.75"/><ellipse cx="1733.7" cy="609.4" rx="3.7" ry="1.7" transform="rotate(67 1733.7 609.4)" fill="#c0c9c3" opacity="0.75"/><ellipse cx="1693.8" cy="599.0" rx="3.4" ry="2.2" transform="rotate(22 1693.8 599.0)" fill="#c6cec9" opacity="0.75"/><ellipse cx="1707.8" cy="585.1" rx="3.9" ry="1.9" transform="rotate(63 1707.8 585.1)" fill="#b8c2bc" opacity="0.75"/><ellipse cx="1732.1" cy="605.8" rx="2.9" ry="2.6" transform="rotate(28 1732.1 605.8)" fill="#c6cec9" opacity="0.75"/><ellipse cx="1748.9" cy="607.2" rx="5.1" ry="2.0" transform="rotate(2 1748.9 607.2)" fill="#b8c2bc" opacity="0.75"/><ellipse cx="1781.9" cy="572.0" rx="4.6" ry="2.5" transform="rotate(70 1781.9 572.0)" fill="#c0c9c3" opacity="0.75"/><ellipse cx="1690.2" cy="540.9" rx="2.9" ry="2.7" transform="rotate(59 1690.2 540.9)" fill="#a9b3ad" opacity="0.75"/><ellipse cx="1692.3" cy="581.0" rx="3.3" ry="2.3" transform="rotate(40 1692.3 581.0)" fill="#b0bab4" opacity="0.75"/><ellipse cx="1731.2" cy="517.7" rx="4.8" ry="1.6" transform="rotate(95 1731.2 517.7)" fill="#c6cec9" opacity="0.75"/><ellipse cx="1717.1" cy="602.3" rx="4.4" ry="2.4" transform="rotate(6 1717.1 602.3)" fill="#c0c9c3" opacity="0.75"/><ellipse cx="1746.9" cy="617.9" rx="3.6" ry="2.3" transform="rotate(66 1746.9 617.9)" fill="#c0c9c3" opacity="0.75"/><ellipse cx="1704.7" cy="596.1" rx="2.7" ry="1.7" transform="rotate(21 1704.7 596.1)" fill="#c0c9c3" opacity="0.75"/><ellipse cx="1776.2" cy="556.5" rx="3.3" ry="2.4" transform="rotate(15 1776.2 556.5)" fill="#b8c2bc" opacity="0.75"/><ellipse cx="1773.1" cy="548.3" rx="3.4" ry="2.6" transform="rotate(142 1773.1 548.3)" fill="#c0c9c3" opacity="0.75"/><ellipse cx="1686.9" cy="580.9" rx="4.0" ry="2.7" transform="rotate(115 1686.9 580.9)" fill="#b0bab4" opacity="0.75"/><ellipse cx="1749.5" cy="587.3" rx="3.1" ry="2.2" transform="rotate(148 1749.5 587.3)" fill="#a9b3ad" opacity="0.75"/><ellipse cx="1730.1" cy="594.9" rx="3.6" ry="2.1" transform="rotate(79 1730.1 594.9)" fill="#b0bab4" opacity="0.75"/><ellipse cx="1730.6" cy="610.9" rx="4.5" ry="2.6" transform="rotate(172 1730.6 610.9)" fill="#c0c9c3" opacity="0.75"/><ellipse cx="1743.2" cy="613.6" rx="3.1" ry="2.0" transform="rotate(97 1743.2 613.6)" fill="#b0bab4" opacity="0.75"/><ellipse cx="1698.7" cy="542.3" rx="3.7" ry="2.7" transform="rotate(167 1698.7 542.3)" fill="#b8c2bc" opacity="0.75"/><ellipse cx="1755.8" cy="614.3" rx="3.9" ry="2.4" transform="rotate(70 1755.8 614.3)" fill="#a9b3ad" opacity="0.75"/><ellipse cx="1693.2" cy="593.9" rx="3.0" ry="2.3" transform="rotate(36 1693.2 593.9)" fill="#c0c9c3" opacity="0.75"/><ellipse cx="1772.2" cy="583.9" rx="3.6" ry="2.5" transform="rotate(123 1772.2 583.9)" fill="#a9b3ad" opacity="0.75"/><ellipse cx="1744.8" cy="604.9" rx="3.5" ry="2.3" transform="rotate(86 1744.8 604.9)" fill="#a9b3ad" opacity="0.75"/><ellipse cx="1717.7" cy="588.9" rx="3.2" ry="1.8" transform="rotate(131 1717.7 588.9)" fill="#c6cec9" opacity="0.75"/><ellipse cx="1769.9" cy="540.2" rx="3.2" ry="1.8" transform="rotate(163 1769.9 540.2)" fill="#b0bab4" opacity="0.75"/><ellipse cx="1743.1" cy="619.5" rx="5.0" ry="2.1" transform="rotate(88 1743.1 619.5)" fill="#b8c2bc" opacity="0.75"/><ellipse cx="1702.1" cy="580.4" rx="4.4" ry="2.2" transform="rotate(27 1702.1 580.4)" fill="#c0c9c3" opacity="0.75"/><ellipse cx="1767.8" cy="536.2" rx="3.1" ry="2.2" transform="rotate(110 1767.8 536.2)" fill="#b0bab4" opacity="0.75"/><ellipse cx="1699.5" cy="533.1" rx="3.0" ry="2.8" transform="rotate(66 1699.5 533.1)" fill="#c0c9c3" opacity="0.75"/><ellipse cx="1721.6" cy="616.8" rx="4.5" ry="1.9" transform="rotate(154 1721.6 616.8)" fill="#c0c9c3" opacity="0.75"/><ellipse cx="1693.7" cy="551.6" rx="3.0" ry="2.7" transform="rotate(120 1693.7 551.6)" fill="#c0c9c3" opacity="0.75"/><ellipse cx="1709.4" cy="526.7" rx="3.9" ry="1.9" transform="rotate(51 1709.4 526.7)" fill="#c0c9c3" opacity="0.75"/><ellipse cx="1724.5" cy="602.6" rx="4.0" ry="1.7" transform="rotate(16 1724.5 602.6)" fill="#b8c2bc" opacity="0.75"/><ellipse cx="1784.6" cy="552.1" rx="4.6" ry="1.8" transform="rotate(82 1784.6 552.1)" fill="#c0c9c3" opacity="0.75"/><ellipse cx="1761.5" cy="609.6" rx="2.8" ry="2.2" transform="rotate(103 1761.5 609.6)" fill="#b0bab4" opacity="0.75"/><ellipse cx="1703.1" cy="552.6" rx="3.5" ry="1.7" transform="rotate(171 1703.1 552.6)" fill="#b0bab4" opacity="0.75"/><ellipse cx="1697.1" cy="557.7" rx="3.0" ry="2.7" transform="rotate(175 1697.1 557.7)" fill="#c6cec9" opacity="0.75"/><ellipse cx="1756.3" cy="521.7" rx="4.4" ry="2.3" transform="rotate(167 1756.3 521.7)" fill="#b0bab4" opacity="0.75"/><ellipse cx="1690.3" cy="565.8" rx="4.0" ry="2.8" transform="rotate(101 1690.3 565.8)" fill="#b8c2bc" opacity="0.75"/><ellipse cx="1780.5" cy="540.4" rx="3.2" ry="1.9" transform="rotate(27 1780.5 540.4)" fill="#c6cec9" opacity="0.75"/><ellipse cx="1683.8" cy="566.1" rx="4.1" ry="2.4" transform="rotate(110 1683.8 566.1)" fill="#c6cec9" opacity="0.75"/><ellipse cx="1766.2" cy="529.5" rx="5.0" ry="1.6" transform="rotate(54 1766.2 529.5)" fill="#c0c9c3" opacity="0.75"/><ellipse cx="1745.4" cy="595.5" rx="4.7" ry="1.5" transform="rotate(12 1745.4 595.5)" fill="#b8c2bc" opacity="0.75"/><ellipse cx="1766.3" cy="541.0" rx="4.1" ry="2.2" transform="rotate(60 1766.3 541.0)" fill="#c0c9c3" opacity="0.75"/><ellipse cx="1698.1" cy="540.1" rx="3.8" ry="2.5" transform="rotate(60 1698.1 540.1)" fill="#b8c2bc" opacity="0.75"/><ellipse cx="1744.7" cy="514.7" rx="3.4" ry="1.6" transform="rotate(92 1744.7 514.7)" fill="#b8c2bc" opacity="0.75"/><ellipse cx="1755.8" cy="599.1" rx="4.0" ry="1.6" transform="rotate(137 1755.8 599.1)" fill="#b8c2bc" opacity="0.75"/><ellipse cx="1730.2" cy="517.1" rx="4.0" ry="1.7" transform="rotate(121 1730.2 517.1)" fill="#b0bab4" opacity="0.75"/><ellipse cx="1768.5" cy="598.3" rx="3.5" ry="2.5" transform="rotate(68 1768.5 598.3)" fill="#c0c9c3" opacity="0.75"/><ellipse cx="1743.4" cy="616.0" rx="2.8" ry="2.8" transform="rotate(164 1743.4 616.0)" fill="#b0bab4" opacity="0.75"/><ellipse cx="1697.4" cy="534.8" rx="4.9" ry="2.7" transform="rotate(168 1697.4 534.8)" fill="#c0c9c3" opacity="0.75"/><ellipse cx="1770.0" cy="547.3" rx="2.7" ry="1.8" transform="rotate(126 1770.0 547.3)" fill="#b8c2bc" opacity="0.75"/><ellipse cx="1778.7" cy="592.1" rx="5.1" ry="2.1" transform="rotate(67 1778.7 592.1)" fill="#b0bab4" opacity="0.75"/><ellipse cx="1761.4" cy="586.6" rx="2.9" ry="1.9" transform="rotate(105 1761.4 586.6)" fill="#c0c9c3" opacity="0.75"/><ellipse cx="1744.0" cy="596.1" rx="4.0" ry="2.7" transform="rotate(15 1744.0 596.1)" fill="#b8c2bc" opacity="0.75"/><ellipse cx="1693.1" cy="565.4" rx="4.9" ry="2.3" transform="rotate(63 1693.1 565.4)" fill="#a9b3ad" opacity="0.75"/><ellipse cx="1725.7" cy="517.9" rx="3.0" ry="1.7" transform="rotate(133 1725.7 517.9)" fill="#b8c2bc" opacity="0.75"/><ellipse cx="1728.2" cy="618.0" rx="4.2" ry="1.6" transform="rotate(4 1728.2 618.0)" fill="#c0c9c3" opacity="0.75"/><ellipse cx="1778.8" cy="576.1" rx="3.7" ry="2.2" transform="rotate(83 1778.8 576.1)" fill="#c0c9c3" opacity="0.75"/><ellipse cx="1786.0" cy="566.3" rx="4.4" ry="2.3" transform="rotate(160 1786.0 566.3)" fill="#b8c2bc" opacity="0.75"/><ellipse cx="1784.3" cy="546.7" rx="4.0" ry="2.0" transform="rotate(126 1784.3 546.7)" fill="#c0c9c3" opacity="0.75"/><ellipse cx="1712.8" cy="522.9" rx="4.4" ry="2.0" transform="rotate(101 1712.8 522.9)" fill="#a9b3ad" opacity="0.75"/><ellipse cx="1763.6" cy="600.3" rx="4.3" ry="2.4" transform="rotate(119 1763.6 600.3)" fill="#a9b3ad" opacity="0.75"/><ellipse cx="1691.5" cy="566.9" rx="3.9" ry="2.3" transform="rotate(175 1691.5 566.9)" fill="#c0c9c3" opacity="0.75"/><ellipse cx="1740.8" cy="517.7" rx="3.3" ry="1.6" transform="rotate(105 1740.8 517.7)" fill="#a9b3ad" opacity="0.75"/><ellipse cx="1769.4" cy="540.2" rx="4.9" ry="2.2" transform="rotate(77 1769.4 540.2)" fill="#c6cec9" opacity="0.75"/><ellipse cx="1716.4" cy="585.4" rx="3.9" ry="2.7" transform="rotate(116 1716.4 585.4)" fill="#a9b3ad" opacity="0.75"/><ellipse cx="1782.5" cy="587.6" rx="4.7" ry="2.4" transform="rotate(146 1782.5 587.6)" fill="#b8c2bc" opacity="0.75"/><ellipse cx="1694.5" cy="564.5" rx="4.5" ry="1.6" transform="rotate(146 1694.5 564.5)" fill="#c6cec9" opacity="0.75"/><ellipse cx="1752.5" cy="586.5" rx="3.6" ry="2.7" transform="rotate(156 1752.5 586.5)" fill="#b8c2bc" opacity="0.75"/><ellipse cx="1777.4" cy="546.4" rx="3.1" ry="2.4" transform="rotate(136 1777.4 546.4)" fill="#c6cec9" opacity="0.75"/><ellipse cx="1753.0" cy="594.6" rx="4.3" ry="2.1" transform="rotate(73 1753.0 594.6)" fill="#a9b3ad" opacity="0.75"/><ellipse cx="1768.0" cy="608.3" rx="4.1" ry="2.7" transform="rotate(115 1768.0 608.3)" fill="#a9b3ad" opacity="0.75"/><ellipse cx="1706.3" cy="590.4" rx="2.7" ry="2.6" transform="rotate(90 1706.3 590.4)" fill="#b8c2bc" opacity="0.75"/><ellipse cx="1707.0" cy="580.2" rx="2.9" ry="1.7" transform="rotate(78 1707.0 580.2)" fill="#a9b3ad" opacity="0.75"/><ellipse cx="1711.6" cy="532.8" rx="4.3" ry="2.4" transform="rotate(170 1711.6 532.8)" fill="#c0c9c3" opacity="0.75"/><ellipse cx="1717.7" cy="518.2" rx="2.7" ry="2.2" transform="rotate(105 1717.7 518.2)" fill="#c0c9c3" opacity="0.75"/><ellipse cx="1703.5" cy="576.1" rx="3.2" ry="1.9" transform="rotate(13 1703.5 576.1)" fill="#b0bab4" opacity="0.75"/><ellipse cx="1736.6" cy="616.4" rx="4.1" ry="2.0" transform="rotate(2 1736.6 616.4)" fill="#b0bab4" opacity="0.75"/><ellipse cx="1702.4" cy="596.5" rx="2.7" ry="1.7" transform="rotate(99 1702.4 596.5)" fill="#c0c9c3" opacity="0.75"/><ellipse cx="1768.2" cy="576.5" rx="5.0" ry="1.8" transform="rotate(144 1768.2 576.5)" fill="#b0bab4" opacity="0.75"/><ellipse cx="1729.2" cy="523.9" rx="3.8" ry="2.7" transform="rotate(160 1729.2 523.9)" fill="#b0bab4" opacity="0.75"/><ellipse cx="1736.4" cy="598.5" rx="3.2" ry="2.6" transform="rotate(43 1736.4 598.5)" fill="#c6cec9" opacity="0.75"/><ellipse cx="1726.6" cy="521.8" rx="4.1" ry="1.8" transform="rotate(103 1726.6 521.8)" fill="#a9b3ad" opacity="0.75"/><ellipse cx="1775.3" cy="565.7" rx="4.1" ry="1.9" transform="rotate(177 1775.3 565.7)" fill="#b0bab4" opacity="0.75"/><ellipse cx="1773.5" cy="591.5" rx="4.1" ry="2.5" transform="rotate(157 1773.5 591.5)" fill="#b8c2bc" opacity="0.75"/><ellipse cx="1709.9" cy="599.2" rx="4.4" ry="2.1" transform="rotate(66 1709.9 599.2)" fill="#a9b3ad" opacity="0.75"/><ellipse cx="1777.6" cy="580.6" rx="2.8" ry="2.5" transform="rotate(113 1777.6 580.6)" fill="#c6cec9" opacity="0.75"/><ellipse cx="1755.4" cy="593.7" rx="3.4" ry="2.4" transform="rotate(171 1755.4 593.7)" fill="#a9b3ad" opacity="0.75"/><ellipse cx="1706.5" cy="596.9" rx="4.0" ry="2.8" transform="rotate(62 1706.5 596.9)" fill="#a9b3ad" opacity="0.75"/><ellipse cx="1765.9" cy="540.7" rx="4.2" ry="1.8" transform="rotate(72 1765.9 540.7)" fill="#b8c2bc" opacity="0.75"/><ellipse cx="1736.4" cy="517.9" rx="3.2" ry="2.3" transform="rotate(12 1736.4 517.9)" fill="#c0c9c3" opacity="0.75"/><ellipse cx="1763.7" cy="575.9" rx="3.3" ry="2.4" transform="rotate(101 1763.7 575.9)" fill="#c6cec9" opacity="0.75"/><ellipse cx="1764.4" cy="576.5" rx="4.7" ry="2.2" transform="rotate(4 1764.4 576.5)" fill="#c6cec9" opacity="0.75"/><ellipse cx="1719.4" cy="617.1" rx="3.5" ry="2.7" transform="rotate(143 1719.4 617.1)" fill="#a9b3ad" opacity="0.75"/><ellipse cx="1770.3" cy="558.4" rx="3.0" ry="2.3" transform="rotate(83 1770.3 558.4)" fill="#c6cec9" opacity="0.75"/><ellipse cx="1729.2" cy="517.9" rx="2.6" ry="2.2" transform="rotate(30 1729.2 517.9)" fill="#c0c9c3" opacity="0.75"/><ellipse cx="1772.7" cy="554.0" rx="3.3" ry="2.0" transform="rotate(97 1772.7 554.0)" fill="#b0bab4" opacity="0.75"/><ellipse cx="1726.1" cy="598.9" rx="4.2" ry="2.6" transform="rotate(110 1726.1 598.9)" fill="#b8c2bc" opacity="0.75"/><ellipse cx="1776.1" cy="535.4" rx="4.4" ry="2.4" transform="rotate(61 1776.1 535.4)" fill="#b8c2bc" opacity="0.75"/><ellipse cx="1774.6" cy="589.3" rx="2.7" ry="2.7" transform="rotate(142 1774.6 589.3)" fill="#c0c9c3" opacity="0.75"/><ellipse cx="1706.2" cy="536.7" rx="4.2" ry="1.7" transform="rotate(174 1706.2 536.7)" fill="#c0c9c3" opacity="0.75"/><ellipse cx="1768.3" cy="609.7" rx="3.1" ry="1.7" transform="rotate(107 1768.3 609.7)" fill="#b8c2bc" opacity="0.75"/><ellipse cx="1719.9" cy="596.9" rx="3.4" ry="2.6" transform="rotate(86 1719.9 596.9)" fill="#b0bab4" opacity="0.75"/><ellipse cx="1706.8" cy="591.2" rx="2.7" ry="2.4" transform="rotate(11 1706.8 591.2)" fill="#c6cec9" opacity="0.75"/><ellipse cx="1781.6" cy="579.8" rx="4.0" ry="1.6" transform="rotate(27 1781.6 579.8)" fill="#c0c9c3" opacity="0.75"/><ellipse cx="1783.2" cy="545.2" rx="2.6" ry="2.0" transform="rotate(75 1783.2 545.2)" fill="#b8c2bc" opacity="0.75"/><ellipse cx="1711.2" cy="524.6" rx="4.8" ry="2.1" transform="rotate(92 1711.2 524.6)" fill="#c0c9c3" opacity="0.75"/><ellipse cx="1741.6" cy="609.0" rx="4.9" ry="2.5" transform="rotate(80 1741.6 609.0)" fill="#c6cec9" opacity="0.75"/><ellipse cx="1708.5" cy="602.0" rx="3.5" ry="1.8" transform="rotate(80 1708.5 602.0)" fill="#c6cec9" opacity="0.75"/><ellipse cx="1740.2" cy="598.9" rx="4.9" ry="1.8" transform="rotate(4 1740.2 598.9)" fill="#c0c9c3" opacity="0.75"/><ellipse cx="1685.9" cy="562.4" rx="4.0" ry="2.0" transform="rotate(166 1685.9 562.4)" fill="#c6cec9" opacity="0.75"/><ellipse cx="1756.8" cy="588.3" rx="4.5" ry="2.1" transform="rotate(72 1756.8 588.3)" fill="#c6cec9" opacity="0.75"/><ellipse cx="1706.5" cy="576.0" rx="4.3" ry="2.6" transform="rotate(35 1706.5 576.0)" fill="#b0bab4" opacity="0.75"/><ellipse cx="1715.7" cy="607.0" rx="3.9" ry="2.8" transform="rotate(14 1715.7 607.0)" fill="#b0bab4" opacity="0.75"/><ellipse cx="1693.8" cy="574.1" rx="5.0" ry="2.1" transform="rotate(137 1693.8 574.1)" fill="#c6cec9" opacity="0.75"/><ellipse cx="1784.5" cy="584.0" rx="4.7" ry="2.8" transform="rotate(166 1784.5 584.0)" fill="#c6cec9" opacity="0.75"/></g>
<g><rect x="332.75" y="186.00" width="124.55" height="124.00" fill="#dedede"/><rect x="462.00" y="186.00" width="199.00" height="60.00" fill="#dedede"/><rect x="462.00" y="250.40" width="199.00" height="59.80" fill="#dedede"/><rect x="664.50" y="186.00" width="190.50" height="60.00" fill="#dedede"/><rect x="664.50" y="250.40" width="190.50" height="59.80" fill="#dedede"/><rect x="858.80" y="186.00" width="193.70" height="60.00" fill="#dedede"/><rect x="858.80" y="250.40" width="193.70" height="59.80" fill="#dedede"/><rect x="1056.00" y="186.00" width="192.20" height="60.00" fill="#dedede"/><rect x="1056.00" y="250.40" width="192.20" height="59.80" fill="#dedede"/><rect x="1251.80" y="186.00" width="186.70" height="60.00" fill="#dedede"/><rect x="1251.80" y="250.40" width="186.70" height="59.80" fill="#dedede"/><rect x="1441.90" y="186.00" width="194.30" height="60.00" fill="#dedede"/><rect x="1441.90" y="250.40" width="194.30" height="59.80" fill="#dedede"/><rect x="475.60" y="361.80" width="109.10" height="118.20" fill="#dedede"/><rect x="475.60" y="484.00" width="109.10" height="124.10" fill="#dedede"/><rect x="475.60" y="612.00" width="109.10" height="128.30" fill="#dedede"/><rect x="588.30" y="361.80" width="107.70" height="118.20" fill="#dedede"/><rect x="588.30" y="484.00" width="107.70" height="124.10" fill="#dedede"/><rect x="588.30" y="612.00" width="107.70" height="128.30" fill="#dedede"/><rect x="1427.10" y="352.75" width="102.90" height="127.00" fill="#dedede"/><rect x="1427.10" y="484.00" width="102.90" height="124.10" fill="#dedede"/><rect x="1427.10" y="612.25" width="102.90" height="128.35" fill="#dedede"/><rect x="1533.40" y="352.75" width="102.60" height="127.00" fill="#dedede"/><rect x="1533.40" y="484.00" width="102.60" height="124.10" fill="#dedede"/><rect x="1533.40" y="612.25" width="102.60" height="128.35" fill="#dedede"/><rect x="864.70" y="558.00" width="187.40" height="63.10" fill="#dedede"/><rect x="1056.00" y="558.00" width="202.70" height="63.10" fill="#dedede"/><rect x="864.70" y="626.70" width="187.40" height="63.50" fill="#dedede"/><rect x="1056.00" y="626.70" width="202.70" height="63.50" fill="#dedede"/><rect x="337.60" y="807.75" width="135.50" height="133.50" fill="#dedede"/><rect x="476.00" y="807.75" width="193.10" height="51.95" fill="#dedede"/><rect x="671.70" y="807.75" width="191.60" height="51.95" fill="#dedede"/><rect x="867.10" y="807.75" width="193.30" height="51.95" fill="#dedede"/><rect x="1063.20" y="807.75" width="194.40" height="51.95" fill="#dedede"/><rect x="1260.30" y="807.75" width="186.90" height="51.95" fill="#dedede"/><rect x="1450.60" y="807.75" width="185.40" height="51.95" fill="#dedede"/><rect x="476.00" y="864.00" width="1160.00" height="53.50" fill="#dedede"/><rect x="503.30" y="1012.30" width="924.00" height="63.30" fill="#dedede"/></g>
<g fill="none" stroke="#e8e8e8" stroke-width="4.4"><rect x="332.75" y="186.00" width="124.55" height="124.00"/><rect x="462.00" y="186.00" width="199.00" height="60.00"/><rect x="462.00" y="250.40" width="199.00" height="59.80"/><rect x="664.50" y="186.00" width="190.50" height="60.00"/><rect x="664.50" y="250.40" width="190.50" height="59.80"/><rect x="858.80" y="186.00" width="193.70" height="60.00"/><rect x="858.80" y="250.40" width="193.70" height="59.80"/><rect x="1056.00" y="186.00" width="192.20" height="60.00"/><rect x="1056.00" y="250.40" width="192.20" height="59.80"/><rect x="1251.80" y="186.00" width="186.70" height="60.00"/><rect x="1251.80" y="250.40" width="186.70" height="59.80"/><rect x="1441.90" y="186.00" width="194.30" height="60.00"/><rect x="1441.90" y="250.40" width="194.30" height="59.80"/><rect x="475.60" y="361.80" width="109.10" height="118.20"/><rect x="475.60" y="484.00" width="109.10" height="124.10"/><rect x="475.60" y="612.00" width="109.10" height="128.30"/><rect x="588.30" y="361.80" width="107.70" height="118.20"/><rect x="588.30" y="484.00" width="107.70" height="124.10"/><rect x="588.30" y="612.00" width="107.70" height="128.30"/><rect x="1427.10" y="352.75" width="102.90" height="127.00"/><rect x="1427.10" y="484.00" width="102.90" height="124.10"/><rect x="1427.10" y="612.25" width="102.90" height="128.35"/><rect x="1533.40" y="352.75" width="102.60" height="127.00"/><rect x="1533.40" y="484.00" width="102.60" height="124.10"/><rect x="1533.40" y="612.25" width="102.60" height="128.35"/><rect x="864.70" y="558.00" width="187.40" height="63.10"/><rect x="1056.00" y="558.00" width="202.70" height="63.10"/><rect x="864.70" y="626.70" width="187.40" height="63.50"/><rect x="1056.00" y="626.70" width="202.70" height="63.50"/><rect x="337.60" y="807.75" width="135.50" height="133.50"/><rect x="476.00" y="807.75" width="193.10" height="51.95"/><rect x="671.70" y="807.75" width="191.60" height="51.95"/><rect x="867.10" y="807.75" width="193.30" height="51.95"/><rect x="1063.20" y="807.75" width="194.40" height="51.95"/><rect x="1260.30" y="807.75" width="186.90" height="51.95"/><rect x="1450.60" y="807.75" width="185.40" height="51.95"/><rect x="476.00" y="864.00" width="1160.00" height="53.50"/><rect x="503.30" y="1012.30" width="924.00" height="63.30"/></g>
<g fill="none" stroke="#7b7b7b" stroke-width="1.9"><rect x="332.75" y="186.00" width="124.55" height="124.00"/><rect x="462.00" y="186.00" width="199.00" height="60.00"/><rect x="462.00" y="250.40" width="199.00" height="59.80"/><rect x="664.50" y="186.00" width="190.50" height="60.00"/><rect x="664.50" y="250.40" width="190.50" height="59.80"/><rect x="858.80" y="186.00" width="193.70" height="60.00"/><rect x="858.80" y="250.40" width="193.70" height="59.80"/><rect x="1056.00" y="186.00" width="192.20" height="60.00"/><rect x="1056.00" y="250.40" width="192.20" height="59.80"/><rect x="1251.80" y="186.00" width="186.70" height="60.00"/><rect x="1251.80" y="250.40" width="186.70" height="59.80"/><rect x="1441.90" y="186.00" width="194.30" height="60.00"/><rect x="1441.90" y="250.40" width="194.30" height="59.80"/><rect x="475.60" y="361.80" width="109.10" height="118.20"/><rect x="475.60" y="484.00" width="109.10" height="124.10"/><rect x="475.60" y="612.00" width="109.10" height="128.30"/><rect x="588.30" y="361.80" width="107.70" height="118.20"/><rect x="588.30" y="484.00" width="107.70" height="124.10"/><rect x="588.30" y="612.00" width="107.70" height="128.30"/><rect x="1427.10" y="352.75" width="102.90" height="127.00"/><rect x="1427.10" y="484.00" width="102.90" height="124.10"/><rect x="1427.10" y="612.25" width="102.90" height="128.35"/><rect x="1533.40" y="352.75" width="102.60" height="127.00"/><rect x="1533.40" y="484.00" width="102.60" height="124.10"/><rect x="1533.40" y="612.25" width="102.60" height="128.35"/><rect x="864.70" y="558.00" width="187.40" height="63.10"/><rect x="1056.00" y="558.00" width="202.70" height="63.10"/><rect x="864.70" y="626.70" width="187.40" height="63.50"/><rect x="1056.00" y="626.70" width="202.70" height="63.50"/><rect x="337.60" y="807.75" width="135.50" height="133.50"/><rect x="476.00" y="807.75" width="193.10" height="51.95"/><rect x="671.70" y="807.75" width="191.60" height="51.95"/><rect x="867.10" y="807.75" width="193.30" height="51.95"/><rect x="1063.20" y="807.75" width="194.40" height="51.95"/><rect x="1260.30" y="807.75" width="186.90" height="51.95"/><rect x="1450.60" y="807.75" width="185.40" height="51.95"/><rect x="476.00" y="864.00" width="1160.00" height="53.50"/><rect x="503.30" y="1012.30" width="924.00" height="63.30"/></g>
<text x="370.28" y="262.20" font-size="25.5" textLength="43.67" lengthAdjust="spacingAndGlyphs" fill="none" stroke="rgba(255,255,255,0.3)" stroke-width="3.2" stroke-linejoin="round">233</text>
<text x="370.28" y="262.20" font-size="25.5" textLength="43.67" lengthAdjust="spacingAndGlyphs" fill="#4e4e4e" font-weight="normal" stroke="#4e4e4e" stroke-width="0.3" >233</text>
<text x="544.72" y="222.40" font-size="25.5" textLength="42.53" lengthAdjust="spacingAndGlyphs" fill="none" stroke="rgba(255,255,255,0.3)" stroke-width="3.2" stroke-linejoin="round">201</text>
<text x="544.72" y="222.40" font-size="25.5" textLength="42.53" lengthAdjust="spacingAndGlyphs" fill="#4e4e4e" font-weight="normal" stroke="#4e4e4e" stroke-width="0.3" >201</text>
<text x="544.05" y="288.00" font-size="25.5" textLength="42.81" lengthAdjust="spacingAndGlyphs" fill="none" stroke="rgba(255,255,255,0.3)" stroke-width="3.2" stroke-linejoin="round">101</text>
<text x="544.05" y="288.00" font-size="25.5" textLength="42.81" lengthAdjust="spacingAndGlyphs" fill="#4e4e4e" font-weight="normal" stroke="#4e4e4e" stroke-width="0.3" >101</text>
<text x="608.97" y="239.30" font-size="16.5" textLength="46.48" lengthAdjust="spacingAndGlyphs" fill="none" stroke="rgba(255,255,255,0.3)" stroke-width="3.2" stroke-linejoin="round">S 2BR</text>
<text x="608.97" y="239.30" font-size="16.5" textLength="46.48" lengthAdjust="spacingAndGlyphs" fill="#555" font-weight="normal" stroke="#555" stroke-width="0.2" >S 2BR</text>
<text x="608.97" y="304.20" font-size="16.5" textLength="46.48" lengthAdjust="spacingAndGlyphs" fill="none" stroke="rgba(255,255,255,0.3)" stroke-width="3.2" stroke-linejoin="round">S 2BR</text>
<text x="608.97" y="304.20" font-size="16.5" textLength="46.48" lengthAdjust="spacingAndGlyphs" fill="#555" font-weight="normal" stroke="#555" stroke-width="0.2" >S 2BR</text>
<text x="736.14" y="222.40" font-size="25.5" textLength="45.01" lengthAdjust="spacingAndGlyphs" fill="none" stroke="rgba(255,255,255,0.3)" stroke-width="3.2" stroke-linejoin="round">202</text>
<text x="736.14" y="222.40" font-size="25.5" textLength="45.01" lengthAdjust="spacingAndGlyphs" fill="#4e4e4e" font-weight="normal" stroke="#4e4e4e" stroke-width="0.3" >202</text>
<text x="735.47" y="288.00" font-size="25.5" textLength="44.47" lengthAdjust="spacingAndGlyphs" fill="none" stroke="rgba(255,255,255,0.3)" stroke-width="3.2" stroke-linejoin="round">102</text>
<text x="735.47" y="288.00" font-size="25.5" textLength="44.47" lengthAdjust="spacingAndGlyphs" fill="#4e4e4e" font-weight="normal" stroke="#4e4e4e" stroke-width="0.3" >102</text>
<text x="801.77" y="239.30" font-size="16.5" textLength="46.48" lengthAdjust="spacingAndGlyphs" fill="none" stroke="rgba(255,255,255,0.3)" stroke-width="3.2" stroke-linejoin="round">S 2BR</text>
<text x="801.77" y="239.30" font-size="16.5" textLength="46.48" lengthAdjust="spacingAndGlyphs" fill="#555" font-weight="normal" stroke="#555" stroke-width="0.2" >S 2BR</text>
<text x="801.77" y="304.20" font-size="16.5" textLength="46.48" lengthAdjust="spacingAndGlyphs" fill="none" stroke="rgba(255,255,255,0.3)" stroke-width="3.2" stroke-linejoin="round">S 2BR</text>
<text x="801.77" y="304.20" font-size="16.5" textLength="46.48" lengthAdjust="spacingAndGlyphs" fill="#555" font-weight="normal" stroke="#555" stroke-width="0.2" >S 2BR</text>
<text x="929.47" y="222.40" font-size="25.5" textLength="44.09" lengthAdjust="spacingAndGlyphs" fill="none" stroke="rgba(255,255,255,0.3)" stroke-width="3.2" stroke-linejoin="round">203</text>
<text x="929.47" y="222.40" font-size="25.5" textLength="44.09" lengthAdjust="spacingAndGlyphs" fill="#4e4e4e" font-weight="normal" stroke="#4e4e4e" stroke-width="0.3" >203</text>
<text x="929.96" y="288.00" font-size="25.5" textLength="42.56" lengthAdjust="spacingAndGlyphs" fill="none" stroke="rgba(255,255,255,0.3)" stroke-width="3.2" stroke-linejoin="round">103</text>
<text x="929.96" y="288.00" font-size="25.5" textLength="42.56" lengthAdjust="spacingAndGlyphs" fill="#4e4e4e" font-weight="normal" stroke="#4e4e4e" stroke-width="0.3" >103</text>
<text x="994.57" y="239.30" font-size="16.5" textLength="46.48" lengthAdjust="spacingAndGlyphs" fill="none" stroke="rgba(255,255,255,0.3)" stroke-width="3.2" stroke-linejoin="round">S 2BR</text>
<text x="994.57" y="239.30" font-size="16.5" textLength="46.48" lengthAdjust="spacingAndGlyphs" fill="#555" font-weight="normal" stroke="#555" stroke-width="0.2" >S 2BR</text>
<text x="994.57" y="304.20" font-size="16.5" textLength="46.48" lengthAdjust="spacingAndGlyphs" fill="none" stroke="rgba(255,255,255,0.3)" stroke-width="3.2" stroke-linejoin="round">S 2BR</text>
<text x="994.57" y="304.20" font-size="16.5" textLength="46.48" lengthAdjust="spacingAndGlyphs" fill="#555" font-weight="normal" stroke="#555" stroke-width="0.2" >S 2BR</text>
<text x="1121.95" y="222.40" font-size="25.5" textLength="44.84" lengthAdjust="spacingAndGlyphs" fill="none" stroke="rgba(255,255,255,0.3)" stroke-width="3.2" stroke-linejoin="round">204</text>
<text x="1121.95" y="222.40" font-size="25.5" textLength="44.84" lengthAdjust="spacingAndGlyphs" fill="#4e4e4e" font-weight="normal" stroke="#4e4e4e" stroke-width="0.3" >204</text>
<text x="1121.22" y="288.00" font-size="25.5" textLength="45.58" lengthAdjust="spacingAndGlyphs" fill="none" stroke="rgba(255,255,255,0.3)" stroke-width="3.2" stroke-linejoin="round">104</text>
<text x="1121.22" y="288.00" font-size="25.5" textLength="45.58" lengthAdjust="spacingAndGlyphs" fill="#4e4e4e" font-weight="normal" stroke="#4e4e4e" stroke-width="0.3" >104</text>
<text x="1187.57" y="239.30" font-size="16.5" textLength="46.48" lengthAdjust="spacingAndGlyphs" fill="none" stroke="rgba(255,255,255,0.3)" stroke-width="3.2" stroke-linejoin="round">S 2BR</text>
<text x="1187.57" y="239.30" font-size="16.5" textLength="46.48" lengthAdjust="spacingAndGlyphs" fill="#555" font-weight="normal" stroke="#555" stroke-width="0.2" >S 2BR</text>
<text x="1187.57" y="304.20" font-size="16.5" textLength="46.48" lengthAdjust="spacingAndGlyphs" fill="none" stroke="rgba(255,255,255,0.3)" stroke-width="3.2" stroke-linejoin="round">S 2BR</text>
<text x="1187.57" y="304.20" font-size="16.5" textLength="46.48" lengthAdjust="spacingAndGlyphs" fill="#555" font-weight="normal" stroke="#555" stroke-width="0.2" >S 2BR</text>
<text x="1316.24" y="222.40" font-size="25.5" textLength="45.20" lengthAdjust="spacingAndGlyphs" fill="none" stroke="rgba(255,255,255,0.3)" stroke-width="3.2" stroke-linejoin="round">205</text>
<text x="1316.24" y="222.40" font-size="25.5" textLength="45.20" lengthAdjust="spacingAndGlyphs" fill="#4e4e4e" font-weight="normal" stroke="#4e4e4e" stroke-width="0.3" >205</text>
<text x="1315.61" y="288.00" font-size="25.5" textLength="43.69" lengthAdjust="spacingAndGlyphs" fill="none" stroke="rgba(255,255,255,0.3)" stroke-width="3.2" stroke-linejoin="round">105</text>
<text x="1315.61" y="288.00" font-size="25.5" textLength="43.69" lengthAdjust="spacingAndGlyphs" fill="#4e4e4e" font-weight="normal" stroke="#4e4e4e" stroke-width="0.3" >105</text>
<text x="1381.27" y="239.30" font-size="16.5" textLength="46.48" lengthAdjust="spacingAndGlyphs" fill="none" stroke="rgba(255,255,255,0.3)" stroke-width="3.2" stroke-linejoin="round">S 2BR</text>
<text x="1381.27" y="239.30" font-size="16.5" textLength="46.48" lengthAdjust="spacingAndGlyphs" fill="#555" font-weight="normal" stroke="#555" stroke-width="0.2" >S 2BR</text>
<text x="1381.27" y="304.20" font-size="16.5" textLength="46.48" lengthAdjust="spacingAndGlyphs" fill="none" stroke="rgba(255,255,255,0.3)" stroke-width="3.2" stroke-linejoin="round">S 2BR</text>
<text x="1381.27" y="304.20" font-size="16.5" textLength="46.48" lengthAdjust="spacingAndGlyphs" fill="#555" font-weight="normal" stroke="#555" stroke-width="0.2" >S 2BR</text>
<text x="1509.26" y="222.40" font-size="25.5" textLength="44.41" lengthAdjust="spacingAndGlyphs" fill="none" stroke="rgba(255,255,255,0.3)" stroke-width="3.2" stroke-linejoin="round">206</text>
<text x="1509.26" y="222.40" font-size="25.5" textLength="44.41" lengthAdjust="spacingAndGlyphs" fill="#4e4e4e" font-weight="normal" stroke="#4e4e4e" stroke-width="0.3" >206</text>
<text x="1508.61" y="288.00" font-size="25.5" textLength="43.53" lengthAdjust="spacingAndGlyphs" fill="none" stroke="rgba(255,255,255,0.3)" stroke-width="3.2" stroke-linejoin="round">106</text>
<text x="1508.61" y="288.00" font-size="25.5" textLength="43.53" lengthAdjust="spacingAndGlyphs" fill="#4e4e4e" font-weight="normal" stroke="#4e4e4e" stroke-width="0.3" >106</text>
<text x="1574.27" y="239.30" font-size="16.5" textLength="46.48" lengthAdjust="spacingAndGlyphs" fill="none" stroke="rgba(255,255,255,0.3)" stroke-width="3.2" stroke-linejoin="round">S 2BR</text>
<text x="1574.27" y="239.30" font-size="16.5" textLength="46.48" lengthAdjust="spacingAndGlyphs" fill="#555" font-weight="normal" stroke="#555" stroke-width="0.2" >S 2BR</text>
<text x="1574.27" y="304.20" font-size="16.5" textLength="46.48" lengthAdjust="spacingAndGlyphs" fill="none" stroke="rgba(255,255,255,0.3)" stroke-width="3.2" stroke-linejoin="round">S 2BR</text>
<text x="1574.27" y="304.20" font-size="16.5" textLength="46.48" lengthAdjust="spacingAndGlyphs" fill="#555" font-weight="normal" stroke="#555" stroke-width="0.2" >S 2BR</text>
<circle cx="564.70" cy="218.50" r="17.70" fill="none" stroke="rgba(255,255,255,0.28)" stroke-width="4.6" filter="url(#blur06)"/>
<circle cx="564.70" cy="218.50" r="15.30" fill="rgba(110,200,190,0.32)"/>
<circle cx="566.00" cy="280.00" r="17.70" fill="none" stroke="rgba(255,255,255,0.28)" stroke-width="4.6" filter="url(#blur06)"/>
<circle cx="566.00" cy="280.00" r="15.30" fill="rgba(110,200,190,0.32)"/>
<circle cx="758.50" cy="218.80" r="17.70" fill="none" stroke="rgba(255,255,255,0.28)" stroke-width="4.6" filter="url(#blur06)"/>
<circle cx="758.50" cy="218.80" r="15.30" fill="rgba(110,200,190,0.32)"/>
<circle cx="759.00" cy="279.60" r="17.70" fill="none" stroke="rgba(255,255,255,0.28)" stroke-width="4.6" filter="url(#blur06)"/>
<circle cx="759.00" cy="279.60" r="15.30" fill="rgba(110,200,190,0.32)"/>
<circle cx="950.70" cy="218.80" r="17.70" fill="none" stroke="rgba(255,255,255,0.28)" stroke-width="4.6" filter="url(#blur06)"/>
<circle cx="950.70" cy="218.80" r="15.30" fill="rgba(110,200,190,0.32)"/>
<circle cx="950.00" cy="279.60" r="17.70" fill="none" stroke="rgba(255,255,255,0.28)" stroke-width="4.6" filter="url(#blur06)"/>
<circle cx="950.00" cy="279.60" r="15.30" fill="rgba(110,200,190,0.32)"/>
<circle cx="1144.00" cy="218.80" r="17.70" fill="none" stroke="rgba(255,255,255,0.28)" stroke-width="4.6" filter="url(#blur06)"/>
<circle cx="1144.00" cy="218.80" r="15.30" fill="rgba(110,200,190,0.32)"/>
<circle cx="1144.60" cy="279.60" r="17.70" fill="none" stroke="rgba(255,255,255,0.28)" stroke-width="4.6" filter="url(#blur06)"/>
<circle cx="1144.60" cy="279.60" r="15.30" fill="rgba(110,200,190,0.32)"/>
<circle cx="1339.00" cy="218.80" r="17.70" fill="none" stroke="rgba(255,255,255,0.28)" stroke-width="4.6" filter="url(#blur06)"/>
<circle cx="1339.00" cy="218.80" r="15.30" fill="rgba(110,200,190,0.32)"/>
<circle cx="1341.50" cy="278.60" r="17.70" fill="none" stroke="rgba(255,255,255,0.28)" stroke-width="4.6" filter="url(#blur06)"/>
<circle cx="1341.50" cy="278.60" r="15.30" fill="rgba(110,200,190,0.32)"/>
<circle cx="1529.40" cy="218.30" r="17.70" fill="none" stroke="rgba(255,255,255,0.28)" stroke-width="4.6" filter="url(#blur06)"/>
<circle cx="1529.40" cy="218.30" r="15.30" fill="rgba(110,200,190,0.32)"/>
<circle cx="1526.90" cy="280.00" r="17.70" fill="none" stroke="rgba(255,255,255,0.28)" stroke-width="4.6" filter="url(#blur06)"/>
<circle cx="1526.90" cy="280.00" r="15.30" fill="rgba(110,200,190,0.32)"/>
<text x="507.71" y="415.00" font-size="25.5" textLength="42.79" lengthAdjust="spacingAndGlyphs" fill="none" stroke="rgba(255,255,255,0.3)" stroke-width="3.2" stroke-linejoin="round">220</text>
<text x="507.71" y="415.00" font-size="25.5" textLength="42.79" lengthAdjust="spacingAndGlyphs" fill="#4e4e4e" font-weight="normal" stroke="#4e4e4e" stroke-width="0.3" >220</text>
<text x="524.23" y="474.40" font-size="16.5" textLength="46.55" lengthAdjust="spacingAndGlyphs" fill="none" stroke="rgba(255,255,255,0.3)" stroke-width="3.2" stroke-linejoin="round">L 2BR</text>
<text x="524.23" y="474.40" font-size="16.5" textLength="46.55" lengthAdjust="spacingAndGlyphs" fill="#555" font-weight="normal" stroke="#555" stroke-width="0.2" >L 2BR</text>
<text x="615.10" y="415.00" font-size="25.5" textLength="39.34" lengthAdjust="spacingAndGlyphs" fill="none" stroke="rgba(255,255,255,0.3)" stroke-width="3.2" stroke-linejoin="round">114</text>
<text x="615.10" y="415.00" font-size="25.5" textLength="39.34" lengthAdjust="spacingAndGlyphs" fill="#4e4e4e" font-weight="normal" stroke="#4e4e4e" stroke-width="0.3" >114</text>
<text x="630.55" y="474.40" font-size="16.5" textLength="45.82" lengthAdjust="spacingAndGlyphs" fill="none" stroke="rgba(255,255,255,0.3)" stroke-width="3.2" stroke-linejoin="round">L 2BR</text>
<text x="630.55" y="474.40" font-size="16.5" textLength="45.82" lengthAdjust="spacingAndGlyphs" fill="#555" font-weight="normal" stroke="#555" stroke-width="0.2" >L 2BR</text>
<text x="508.16" y="542.50" font-size="25.5" textLength="41.11" lengthAdjust="spacingAndGlyphs" fill="none" stroke="rgba(255,255,255,0.3)" stroke-width="3.2" stroke-linejoin="round">219</text>
<text x="508.16" y="542.50" font-size="25.5" textLength="41.11" lengthAdjust="spacingAndGlyphs" fill="#4e4e4e" font-weight="normal" stroke="#4e4e4e" stroke-width="0.3" >219</text>
<text x="524.23" y="600.60" font-size="16.5" textLength="46.55" lengthAdjust="spacingAndGlyphs" fill="none" stroke="rgba(255,255,255,0.3)" stroke-width="3.2" stroke-linejoin="round">L 2BR</text>
<text x="524.23" y="600.60" font-size="16.5" textLength="46.55" lengthAdjust="spacingAndGlyphs" fill="#555" font-weight="normal" stroke="#555" stroke-width="0.2" >L 2BR</text>
<text x="615.09" y="542.50" font-size="25.5" textLength="39.71" lengthAdjust="spacingAndGlyphs" fill="none" stroke="rgba(255,255,255,0.3)" stroke-width="3.2" stroke-linejoin="round">113</text>
<text x="615.09" y="542.50" font-size="25.5" textLength="39.71" lengthAdjust="spacingAndGlyphs" fill="#4e4e4e" font-weight="normal" stroke="#4e4e4e" stroke-width="0.3" >113</text>
<text x="630.55" y="600.60" font-size="16.5" textLength="45.82" lengthAdjust="spacingAndGlyphs" fill="none" stroke="rgba(255,255,255,0.3)" stroke-width="3.2" stroke-linejoin="round">L 2BR</text>
<text x="630.55" y="600.60" font-size="16.5" textLength="45.82" lengthAdjust="spacingAndGlyphs" fill="#555" font-weight="normal" stroke="#555" stroke-width="0.2" >L 2BR</text>
<text x="508.17" y="670.60" font-size="25.5" textLength="40.90" lengthAdjust="spacingAndGlyphs" fill="none" stroke="rgba(255,255,255,0.3)" stroke-width="3.2" stroke-linejoin="round">218</text>
<text x="508.17" y="670.60" font-size="25.5" textLength="40.90" lengthAdjust="spacingAndGlyphs" fill="#4e4e4e" font-weight="normal" stroke="#4e4e4e" stroke-width="0.3" >218</text>
<text x="539.37" y="730.00" font-size="16.5" textLength="31.38" lengthAdjust="spacingAndGlyphs" fill="none" stroke="rgba(255,255,255,0.3)" stroke-width="3.2" stroke-linejoin="round">1BR</text>
<text x="539.37" y="730.00" font-size="16.5" textLength="31.38" lengthAdjust="spacingAndGlyphs" fill="#555" font-weight="normal" stroke="#555" stroke-width="0.2" >1BR</text>
<text x="615.08" y="670.60" font-size="25.5" textLength="39.87" lengthAdjust="spacingAndGlyphs" fill="none" stroke="rgba(255,255,255,0.3)" stroke-width="3.2" stroke-linejoin="round">112</text>
<text x="615.08" y="670.60" font-size="25.5" textLength="39.87" lengthAdjust="spacingAndGlyphs" fill="#4e4e4e" font-weight="normal" stroke="#4e4e4e" stroke-width="0.3" >112</text>
<text x="645.75" y="730.00" font-size="16.5" textLength="29.35" lengthAdjust="spacingAndGlyphs" fill="none" stroke="rgba(255,255,255,0.3)" stroke-width="3.2" stroke-linejoin="round">1BR</text>
<text x="645.75" y="730.00" font-size="16.5" textLength="29.35" lengthAdjust="spacingAndGlyphs" fill="#555" font-weight="normal" stroke="#555" stroke-width="0.2" >1BR</text>
<text x="1458.65" y="415.00" font-size="25.5" textLength="42.63" lengthAdjust="spacingAndGlyphs" fill="none" stroke="rgba(255,255,255,0.3)" stroke-width="3.2" stroke-linejoin="round">107</text>
<text x="1458.65" y="415.00" font-size="25.5" textLength="42.63" lengthAdjust="spacingAndGlyphs" fill="#4e4e4e" font-weight="normal" stroke="#4e4e4e" stroke-width="0.3" >107</text>
<text x="1475.55" y="474.40" font-size="16.5" textLength="45.82" lengthAdjust="spacingAndGlyphs" fill="none" stroke="rgba(255,255,255,0.3)" stroke-width="3.2" stroke-linejoin="round">L 2BR</text>
<text x="1475.55" y="474.40" font-size="16.5" textLength="45.82" lengthAdjust="spacingAndGlyphs" fill="#555" font-weight="normal" stroke="#555" stroke-width="0.2" >L 2BR</text>
<text x="1564.93" y="415.00" font-size="25.5" textLength="43.90" lengthAdjust="spacingAndGlyphs" fill="none" stroke="rgba(255,255,255,0.3)" stroke-width="3.2" stroke-linejoin="round">207</text>
<text x="1564.93" y="415.00" font-size="25.5" textLength="43.90" lengthAdjust="spacingAndGlyphs" fill="#4e4e4e" font-weight="normal" stroke="#4e4e4e" stroke-width="0.3" >207</text>
<text x="1581.15" y="474.40" font-size="16.5" textLength="45.87" lengthAdjust="spacingAndGlyphs" fill="none" stroke="rgba(255,255,255,0.3)" stroke-width="3.2" stroke-linejoin="round">L 2BR</text>
<text x="1581.15" y="474.40" font-size="16.5" textLength="45.87" lengthAdjust="spacingAndGlyphs" fill="#555" font-weight="normal" stroke="#555" stroke-width="0.2" >L 2BR</text>
<text x="1457.40" y="542.50" font-size="25.5" textLength="43.74" lengthAdjust="spacingAndGlyphs" fill="none" stroke="rgba(255,255,255,0.3)" stroke-width="3.2" stroke-linejoin="round">108</text>
<text x="1457.40" y="542.50" font-size="25.5" textLength="43.74" lengthAdjust="spacingAndGlyphs" fill="#4e4e4e" font-weight="normal" stroke="#4e4e4e" stroke-width="0.3" >108</text>
<text x="1475.55" y="600.30" font-size="16.5" textLength="45.82" lengthAdjust="spacingAndGlyphs" fill="none" stroke="rgba(255,255,255,0.3)" stroke-width="3.2" stroke-linejoin="round">L 2BR</text>
<text x="1475.55" y="600.30" font-size="16.5" textLength="45.82" lengthAdjust="spacingAndGlyphs" fill="#555" font-weight="normal" stroke="#555" stroke-width="0.2" >L 2BR</text>
<text x="1563.64" y="542.50" font-size="25.5" textLength="45.03" lengthAdjust="spacingAndGlyphs" fill="none" stroke="rgba(255,255,255,0.3)" stroke-width="3.2" stroke-linejoin="round">208</text>
<text x="1563.64" y="542.50" font-size="25.5" textLength="45.03" lengthAdjust="spacingAndGlyphs" fill="#4e4e4e" font-weight="normal" stroke="#4e4e4e" stroke-width="0.3" >208</text>
<text x="1581.15" y="600.30" font-size="16.5" textLength="45.87" lengthAdjust="spacingAndGlyphs" fill="none" stroke="rgba(255,255,255,0.3)" stroke-width="3.2" stroke-linejoin="round">L 2BR</text>
<text x="1581.15" y="600.30" font-size="16.5" textLength="45.87" lengthAdjust="spacingAndGlyphs" fill="#555" font-weight="normal" stroke="#555" stroke-width="0.2" >L 2BR</text>
<text x="1457.40" y="671.25" font-size="25.5" textLength="43.85" lengthAdjust="spacingAndGlyphs" fill="none" stroke="rgba(255,255,255,0.3)" stroke-width="3.2" stroke-linejoin="round">109</text>
<text x="1457.40" y="671.25" font-size="25.5" textLength="43.85" lengthAdjust="spacingAndGlyphs" fill="#4e4e4e" font-weight="normal" stroke="#4e4e4e" stroke-width="0.3" >109</text>
<text x="1490.70" y="730.00" font-size="16.5" textLength="30.63" lengthAdjust="spacingAndGlyphs" fill="none" stroke="rgba(255,255,255,0.3)" stroke-width="3.2" stroke-linejoin="round">1BR</text>
<text x="1490.70" y="730.00" font-size="16.5" textLength="30.63" lengthAdjust="spacingAndGlyphs" fill="#555" font-weight="normal" stroke="#555" stroke-width="0.2" >1BR</text>
<text x="1565.74" y="671.25" font-size="25.5" textLength="41.74" lengthAdjust="spacingAndGlyphs" fill="none" stroke="rgba(255,255,255,0.3)" stroke-width="3.2" stroke-linejoin="round">209</text>
<text x="1565.74" y="671.25" font-size="25.5" textLength="41.74" lengthAdjust="spacingAndGlyphs" fill="#4e4e4e" font-weight="normal" stroke="#4e4e4e" stroke-width="0.3" >209</text>
<text x="1596.83" y="729.60" font-size="16.5" textLength="29.88" lengthAdjust="spacingAndGlyphs" fill="none" stroke="rgba(255,255,255,0.3)" stroke-width="3.2" stroke-linejoin="round">1BR</text>
<text x="1596.83" y="729.60" font-size="16.5" textLength="29.88" lengthAdjust="spacingAndGlyphs" fill="#555" font-weight="normal" stroke="#555" stroke-width="0.2" >1BR</text>
<text x="945.72" y="596.90" font-size="25.5" textLength="39.02" lengthAdjust="spacingAndGlyphs" fill="none" stroke="rgba(255,255,255,0.3)" stroke-width="3.2" stroke-linejoin="round">211</text>
<text x="945.72" y="596.90" font-size="25.5" textLength="39.02" lengthAdjust="spacingAndGlyphs" fill="#4e4e4e" font-weight="normal" stroke="#4e4e4e" stroke-width="0.3" >211</text>
<text x="1006.78" y="614.20" font-size="16.5" textLength="31.57" lengthAdjust="spacingAndGlyphs" fill="none" stroke="rgba(255,255,255,0.3)" stroke-width="3.2" stroke-linejoin="round">3BR</text>
<text x="1006.78" y="614.20" font-size="16.5" textLength="31.57" lengthAdjust="spacingAndGlyphs" fill="#555" font-weight="normal" stroke="#555" stroke-width="0.2" >3BR</text>
<text x="1150.93" y="596.90" font-size="25.5" textLength="42.26" lengthAdjust="spacingAndGlyphs" fill="none" stroke="rgba(255,255,255,0.3)" stroke-width="3.2" stroke-linejoin="round">210</text>
<text x="1150.93" y="596.90" font-size="25.5" textLength="42.26" lengthAdjust="spacingAndGlyphs" fill="#4e4e4e" font-weight="normal" stroke="#4e4e4e" stroke-width="0.3" >210</text>
<text x="1210.98" y="614.20" font-size="16.5" textLength="31.68" lengthAdjust="spacingAndGlyphs" fill="none" stroke="rgba(255,255,255,0.3)" stroke-width="3.2" stroke-linejoin="round">3BR</text>
<text x="1210.98" y="614.20" font-size="16.5" textLength="31.68" lengthAdjust="spacingAndGlyphs" fill="#555" font-weight="normal" stroke="#555" stroke-width="0.2" >3BR</text>
<text x="945.77" y="659.50" font-size="25.5" textLength="37.83" lengthAdjust="spacingAndGlyphs" fill="none" stroke="rgba(255,255,255,0.3)" stroke-width="3.2" stroke-linejoin="round">111</text>
<text x="945.77" y="659.50" font-size="25.5" textLength="37.83" lengthAdjust="spacingAndGlyphs" fill="#4e4e4e" font-weight="normal" stroke="#4e4e4e" stroke-width="0.3" >111</text>
<text x="1006.78" y="676.80" font-size="16.5" textLength="31.57" lengthAdjust="spacingAndGlyphs" fill="none" stroke="rgba(255,255,255,0.3)" stroke-width="3.2" stroke-linejoin="round">3BR</text>
<text x="1006.78" y="676.80" font-size="16.5" textLength="31.57" lengthAdjust="spacingAndGlyphs" fill="#555" font-weight="normal" stroke="#555" stroke-width="0.2" >3BR</text>
<text x="1150.30" y="659.50" font-size="25.5" textLength="41.68" lengthAdjust="spacingAndGlyphs" fill="none" stroke="rgba(255,255,255,0.3)" stroke-width="3.2" stroke-linejoin="round">110</text>
<text x="1150.30" y="659.50" font-size="25.5" textLength="41.68" lengthAdjust="spacingAndGlyphs" fill="#4e4e4e" font-weight="normal" stroke="#4e4e4e" stroke-width="0.3" >110</text>
<text x="1210.98" y="676.80" font-size="16.5" textLength="31.68" lengthAdjust="spacingAndGlyphs" fill="none" stroke="rgba(255,255,255,0.3)" stroke-width="3.2" stroke-linejoin="round">3BR</text>
<text x="1210.98" y="676.80" font-size="16.5" textLength="31.68" lengthAdjust="spacingAndGlyphs" fill="#555" font-weight="normal" stroke="#555" stroke-width="0.2" >3BR</text>
<circle cx="530.60" cy="417.50" r="17.70" fill="none" stroke="rgba(255,255,255,0.28)" stroke-width="4.6" filter="url(#blur06)"/>
<circle cx="530.60" cy="417.50" r="15.30" fill="rgba(110,200,190,0.32)"/>
<circle cx="633.75" cy="409.40" r="17.70" fill="none" stroke="rgba(255,255,255,0.28)" stroke-width="4.6" filter="url(#blur06)"/>
<circle cx="633.75" cy="409.40" r="15.30" fill="rgba(110,200,190,0.32)"/>
<circle cx="530.60" cy="540.00" r="17.70" fill="none" stroke="rgba(255,255,255,0.28)" stroke-width="4.6" filter="url(#blur06)"/>
<circle cx="530.60" cy="540.00" r="15.30" fill="rgba(110,200,190,0.32)"/>
<circle cx="633.75" cy="540.00" r="17.70" fill="none" stroke="rgba(255,255,255,0.28)" stroke-width="4.6" filter="url(#blur06)"/>
<circle cx="633.75" cy="540.00" r="15.30" fill="rgba(110,200,190,0.32)"/>
<circle cx="530.60" cy="673.10" r="17.70" fill="none" stroke="rgba(255,255,255,0.28)" stroke-width="4.6" filter="url(#blur06)"/>
<circle cx="530.60" cy="673.10" r="15.30" fill="rgba(110,200,190,0.32)"/>
<circle cx="633.75" cy="674.40" r="17.70" fill="none" stroke="rgba(255,255,255,0.28)" stroke-width="4.6" filter="url(#blur06)"/>
<circle cx="633.75" cy="674.40" r="15.30" fill="rgba(110,200,190,0.32)"/>
<circle cx="1480.60" cy="405.60" r="17.70" fill="none" stroke="rgba(255,255,255,0.28)" stroke-width="4.6" filter="url(#blur06)"/>
<circle cx="1480.60" cy="405.60" r="15.30" fill="rgba(110,200,190,0.32)"/>
<circle cx="1586.90" cy="405.00" r="17.70" fill="none" stroke="rgba(255,255,255,0.28)" stroke-width="4.6" filter="url(#blur06)"/>
<circle cx="1586.90" cy="405.00" r="15.30" fill="rgba(110,200,190,0.32)"/>
<circle cx="1481.25" cy="532.50" r="17.70" fill="none" stroke="rgba(255,255,255,0.28)" stroke-width="4.6" filter="url(#blur06)"/>
<circle cx="1481.25" cy="532.50" r="15.30" fill="rgba(110,200,190,0.32)"/>
<circle cx="1588.00" cy="535.60" r="17.70" fill="none" stroke="rgba(255,255,255,0.28)" stroke-width="4.6" filter="url(#blur06)"/>
<circle cx="1588.00" cy="535.60" r="15.30" fill="rgba(110,200,190,0.32)"/>
<circle cx="1481.25" cy="661.90" r="17.70" fill="none" stroke="rgba(255,255,255,0.28)" stroke-width="4.6" filter="url(#blur06)"/>
<circle cx="1481.25" cy="661.90" r="15.30" fill="rgba(110,200,190,0.32)"/>
<circle cx="963.00" cy="591.50" r="17.70" fill="none" stroke="rgba(255,255,255,0.28)" stroke-width="4.6" filter="url(#blur06)"/>
<circle cx="963.00" cy="591.50" r="15.30" fill="rgba(110,200,190,0.32)"/>
<circle cx="1169.50" cy="591.50" r="17.70" fill="none" stroke="rgba(255,255,255,0.28)" stroke-width="4.6" filter="url(#blur06)"/>
<circle cx="1169.50" cy="591.50" r="15.30" fill="rgba(110,200,190,0.32)"/>
<circle cx="962.40" cy="658.50" r="17.70" fill="none" stroke="rgba(255,255,255,0.28)" stroke-width="4.6" filter="url(#blur06)"/>
<circle cx="962.40" cy="658.50" r="15.30" fill="rgba(110,200,190,0.32)"/>
<circle cx="1168.40" cy="657.40" r="17.70" fill="none" stroke="rgba(255,255,255,0.28)" stroke-width="4.6" filter="url(#blur06)"/>
<circle cx="1168.40" cy="657.40" r="15.30" fill="rgba(110,200,190,0.32)"/>
<circle cx="1586.9" cy="661.3" r="18.7" fill="#ffffff"/>
<circle cx="1586.9" cy="661.3" r="15.4" fill="#5cb8ad"/>
<rect x="935.2" y="377" width="239.6" height="120.2" fill="#ffffff"/>
<rect x="941.1" y="384.4" width="228.1" height="105.1" fill="#b8b8ba"/>
<text x="1031.03" y="444.50" font-size="18.6" textLength="49.87" lengthAdjust="spacingAndGlyphs" fill="none" stroke="rgba(255,255,255,0.3)" stroke-width="3.2" stroke-linejoin="round">POOL</text>
<text x="1031.03" y="444.50" font-size="18.6" textLength="49.87" lengthAdjust="spacingAndGlyphs" fill="#606060" font-weight="normal" stroke="#606060" stroke-width="0.15" >POOL</text>
<text x="385.64" y="877.10" font-size="25.5" textLength="41.84" lengthAdjust="spacingAndGlyphs" fill="none" stroke="rgba(255,255,255,0.3)" stroke-width="3.2" stroke-linejoin="round">231</text>
<text x="385.64" y="877.10" font-size="25.5" textLength="41.84" lengthAdjust="spacingAndGlyphs" fill="#4e4e4e" font-weight="normal" stroke="#4e4e4e" stroke-width="0.3" >231</text>
<text x="546.90" y="835.40" font-size="25.5" textLength="39.91" lengthAdjust="spacingAndGlyphs" fill="none" stroke="rgba(255,255,255,0.3)" stroke-width="3.2" stroke-linejoin="round">217</text>
<text x="546.90" y="835.40" font-size="25.5" textLength="39.91" lengthAdjust="spacingAndGlyphs" fill="#4e4e4e" font-weight="normal" stroke="#4e4e4e" stroke-width="0.3" >217</text>
<text x="609.28" y="852.30" font-size="16.5" textLength="45.55" lengthAdjust="spacingAndGlyphs" fill="none" stroke="rgba(255,255,255,0.3)" stroke-width="3.2" stroke-linejoin="round">S 2BR</text>
<text x="609.28" y="852.30" font-size="16.5" textLength="45.55" lengthAdjust="spacingAndGlyphs" fill="#555" font-weight="normal" stroke="#555" stroke-width="0.2" >S 2BR</text>
<text x="743.76" y="835.40" font-size="25.5" textLength="41.23" lengthAdjust="spacingAndGlyphs" fill="none" stroke="rgba(255,255,255,0.3)" stroke-width="3.2" stroke-linejoin="round">216</text>
<text x="743.76" y="835.40" font-size="25.5" textLength="41.23" lengthAdjust="spacingAndGlyphs" fill="#4e4e4e" font-weight="normal" stroke="#4e4e4e" stroke-width="0.3" >216</text>
<text x="806.57" y="852.30" font-size="16.5" textLength="46.37" lengthAdjust="spacingAndGlyphs" fill="none" stroke="rgba(255,255,255,0.3)" stroke-width="3.2" stroke-linejoin="round">S 2BR</text>
<text x="806.57" y="852.30" font-size="16.5" textLength="46.37" lengthAdjust="spacingAndGlyphs" fill="#555" font-weight="normal" stroke="#555" stroke-width="0.2" >S 2BR</text>
<text x="941.05" y="835.40" font-size="25.5" textLength="41.39" lengthAdjust="spacingAndGlyphs" fill="none" stroke="rgba(255,255,255,0.3)" stroke-width="3.2" stroke-linejoin="round">215</text>
<text x="941.05" y="835.40" font-size="25.5" textLength="41.39" lengthAdjust="spacingAndGlyphs" fill="#4e4e4e" font-weight="normal" stroke="#4e4e4e" stroke-width="0.3" >215</text>
<text x="1003.48" y="852.30" font-size="16.5" textLength="45.86" lengthAdjust="spacingAndGlyphs" fill="none" stroke="rgba(255,255,255,0.3)" stroke-width="3.2" stroke-linejoin="round">S 2BR</text>
<text x="1003.48" y="852.30" font-size="16.5" textLength="45.86" lengthAdjust="spacingAndGlyphs" fill="#555" font-weight="normal" stroke="#555" stroke-width="0.2" >S 2BR</text>
<text x="1138.48" y="835.40" font-size="25.5" textLength="40.32" lengthAdjust="spacingAndGlyphs" fill="none" stroke="rgba(255,255,255,0.3)" stroke-width="3.2" stroke-linejoin="round">214</text>
<text x="1138.48" y="835.40" font-size="25.5" textLength="40.32" lengthAdjust="spacingAndGlyphs" fill="#4e4e4e" font-weight="normal" stroke="#4e4e4e" stroke-width="0.3" >214</text>
<text x="1200.88" y="852.30" font-size="16.5" textLength="45.86" lengthAdjust="spacingAndGlyphs" fill="none" stroke="rgba(255,255,255,0.3)" stroke-width="3.2" stroke-linejoin="round">S 2BR</text>
<text x="1200.88" y="852.30" font-size="16.5" textLength="45.86" lengthAdjust="spacingAndGlyphs" fill="#555" font-weight="normal" stroke="#555" stroke-width="0.2" >S 2BR</text>
<text x="1329.57" y="835.40" font-size="25.5" textLength="40.70" lengthAdjust="spacingAndGlyphs" fill="none" stroke="rgba(255,255,255,0.3)" stroke-width="3.2" stroke-linejoin="round">213</text>
<text x="1329.57" y="835.40" font-size="25.5" textLength="40.70" lengthAdjust="spacingAndGlyphs" fill="#4e4e4e" font-weight="normal" stroke="#4e4e4e" stroke-width="0.3" >213</text>
<text x="1392.69" y="852.30" font-size="16.5" textLength="44.93" lengthAdjust="spacingAndGlyphs" fill="none" stroke="rgba(255,255,255,0.3)" stroke-width="3.2" stroke-linejoin="round">S 2BR</text>
<text x="1392.69" y="852.30" font-size="16.5" textLength="44.93" lengthAdjust="spacingAndGlyphs" fill="#555" font-weight="normal" stroke="#555" stroke-width="0.2" >S 2BR</text>
<text x="1518.59" y="835.40" font-size="25.5" textLength="40.23" lengthAdjust="spacingAndGlyphs" fill="none" stroke="rgba(255,255,255,0.3)" stroke-width="3.2" stroke-linejoin="round">212</text>
<text x="1518.59" y="835.40" font-size="25.5" textLength="40.23" lengthAdjust="spacingAndGlyphs" fill="#4e4e4e" font-weight="normal" stroke="#4e4e4e" stroke-width="0.3" >212</text>
<text x="1580.78" y="852.30" font-size="16.5" textLength="45.86" lengthAdjust="spacingAndGlyphs" fill="none" stroke="rgba(255,255,255,0.3)" stroke-width="3.2" stroke-linejoin="round">S 2BR</text>
<text x="1580.78" y="852.30" font-size="16.5" textLength="45.86" lengthAdjust="spacingAndGlyphs" fill="#555" font-weight="normal" stroke="#555" stroke-width="0.2" >S 2BR</text>
<circle cx="561.60" cy="832.50" r="17.70" fill="none" stroke="rgba(255,255,255,0.28)" stroke-width="4.6" filter="url(#blur06)"/>
<circle cx="561.60" cy="832.50" r="15.30" fill="rgba(110,200,190,0.32)"/>
<circle cx="762.50" cy="833.40" r="17.70" fill="none" stroke="rgba(255,255,255,0.28)" stroke-width="4.6" filter="url(#blur06)"/>
<circle cx="762.50" cy="833.40" r="15.30" fill="rgba(110,200,190,0.32)"/>
<circle cx="961.10" cy="833.40" r="17.70" fill="none" stroke="rgba(255,255,255,0.28)" stroke-width="4.6" filter="url(#blur06)"/>
<circle cx="961.10" cy="833.40" r="15.30" fill="rgba(110,200,190,0.32)"/>
<circle cx="1153.60" cy="833.40" r="17.70" fill="none" stroke="rgba(255,255,255,0.28)" stroke-width="4.6" filter="url(#blur06)"/>
<circle cx="1153.60" cy="833.40" r="15.30" fill="rgba(110,200,190,0.32)"/>
<circle cx="1537.80" cy="832.10" r="17.70" fill="none" stroke="rgba(255,255,255,0.28)" stroke-width="4.6" filter="url(#blur06)"/>
<circle cx="1537.80" cy="832.10" r="15.30" fill="rgba(110,200,190,0.32)"/>
<text x="967.28" y="897.30" font-size="22.4" textLength="193.71" lengthAdjust="spacingAndGlyphs" fill="none" stroke="rgba(255,255,255,0.3)" stroke-width="3.2" stroke-linejoin="round">CARPORT PARKING</text>
<text x="967.28" y="897.30" font-size="22.4" textLength="193.71" lengthAdjust="spacingAndGlyphs" fill="#575757" font-weight="normal" stroke="#575757" stroke-width="0.12" >CARPORT PARKING</text>
<text x="1304.00" y="897.30" font-size="22.4" textLength="169.40" lengthAdjust="spacingAndGlyphs" fill="none" stroke="rgba(255,255,255,0.3)" stroke-width="3.2" stroke-linejoin="round">LAUNDRY ROOM</text>
<text x="1304.00" y="897.30" font-size="22.4" textLength="169.40" lengthAdjust="spacingAndGlyphs" fill="#575757" font-weight="normal" stroke="#575757" stroke-width="0.12" >LAUNDRY ROOM</text>
<path d="M561.7 1006 V974.6 H583.5" fill="none" stroke="#7b7b7b" stroke-width="1.6"/>
<path d="M1355.6 974.6 H1375.8 V1006" fill="none" stroke="#7b7b7b" stroke-width="1.6"/>
<line x1="622.8" y1="974.6" x2="665.3" y2="974.6" stroke="#7b7b7b" stroke-width="1.6"/>
<line x1="703.8" y1="974.6" x2="746.3" y2="974.6" stroke="#7b7b7b" stroke-width="1.6"/>
<line x1="785.3" y1="974.6" x2="827.8" y2="974.6" stroke="#7b7b7b" stroke-width="1.6"/>
<line x1="866.6" y1="974.6" x2="907.5" y2="974.6" stroke="#7b7b7b" stroke-width="1.6"/>
<line x1="948.3" y1="974.6" x2="989.4" y2="974.6" stroke="#7b7b7b" stroke-width="1.6"/>
<line x1="1029.9" y1="974.6" x2="1071" y2="974.6" stroke="#7b7b7b" stroke-width="1.6"/>
<line x1="1111.5" y1="974.6" x2="1152.5" y2="974.6" stroke="#7b7b7b" stroke-width="1.6"/>
<line x1="1193" y1="974.6" x2="1234" y2="974.6" stroke="#7b7b7b" stroke-width="1.6"/>
<line x1="1274" y1="974.6" x2="1315" y2="974.6" stroke="#7b7b7b" stroke-width="1.6"/>
<text x="935.78" y="1002.80" font-size="22.8" textLength="66.87" lengthAdjust="spacingAndGlyphs" fill="none" stroke="rgba(255,255,255,0.3)" stroke-width="3.2" stroke-linejoin="round">FENCE</text>
<text x="935.78" y="1002.80" font-size="22.8" textLength="66.87" lengthAdjust="spacingAndGlyphs" fill="#505050" font-weight="normal" stroke="#505050" stroke-width="0.8" >FENCE</text>
<text x="900.53" y="1054.80" font-size="21.2" textLength="137.14" lengthAdjust="spacingAndGlyphs" fill="none" stroke="rgba(255,255,255,0.3)" stroke-width="3.2" stroke-linejoin="round">PARKING LOT</text>
<text x="900.53" y="1054.80" font-size="21.2" textLength="137.14" lengthAdjust="spacingAndGlyphs" fill="#555" font-weight="normal" stroke="#555" stroke-width="0.6" >PARKING LOT</text>
<text x="862.38" y="88.00" font-size="22.2" textLength="242.18" lengthAdjust="spacingAndGlyphs" fill="none" stroke="rgba(255,255,255,0.3)" stroke-width="3.2" stroke-linejoin="round">JACKSON KELLER ROAD</text>
<text x="862.38" y="88.00" font-size="22.2" textLength="242.18" lengthAdjust="spacingAndGlyphs" fill="#4f4f4f" font-weight="normal" stroke="#4f4f4f" stroke-width="0.7" >JACKSON KELLER ROAD</text>
<g transform="translate(132.4,719.3) rotate(-90)">
<text x="-1.66" y="0.00" font-size="22.4" textLength="170.73" lengthAdjust="spacingAndGlyphs" fill="none" stroke="rgba(255,255,255,0.3)" stroke-width="3.2" stroke-linejoin="round">HERWECK DRIVE</text>
<text x="-1.66" y="0.00" font-size="22.4" textLength="170.73" lengthAdjust="spacingAndGlyphs" fill="#4a4a4a" font-weight="normal" stroke="#4a4a4a" stroke-width="0.8" >HERWECK DRIVE</text>
</g>
<rect x="1879" y="1047.5" width="80" height="52" rx="26" fill="#000" opacity="0.26" filter="url(#shd)"/>
<rect x="1879" y="1045.5" width="80" height="52" rx="26" fill="#ffffff"/>
</svg>
</body></html>
